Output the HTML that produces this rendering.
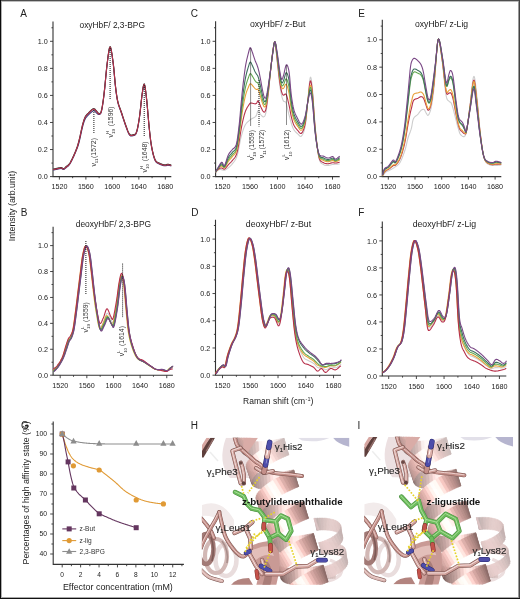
<!DOCTYPE html>
<html><head><meta charset="utf-8"><style>
html,body{margin:0;padding:0;background:#fff;}
#root{position:relative;width:520px;height:599px;overflow:hidden;background:#fff;}
svg{position:absolute;left:0;top:0;will-change:transform;}
text{font-family:"Liberation Sans", sans-serif;}
</style></head><body><div id="root">
<svg width="520" height="599" viewBox="0 0 520 599">
<path d="M53.0,21.5 V176.6 H171.3" fill="none" stroke="#333" stroke-width="1.1"/>
<path d="M50.0,176.60 h3.0" stroke="#333" stroke-width="0.9"/>
<text x="47.8" y="179.20" text-anchor="end" font-size="7.2" fill="#222">0.0</text>
<path d="M51.4,163.07 h1.6" stroke="#333" stroke-width="0.9"/>
<path d="M50.0,149.54 h3.0" stroke="#333" stroke-width="0.9"/>
<text x="47.8" y="152.14" text-anchor="end" font-size="7.2" fill="#222">0.2</text>
<path d="M51.4,136.01 h1.6" stroke="#333" stroke-width="0.9"/>
<path d="M50.0,122.48 h3.0" stroke="#333" stroke-width="0.9"/>
<text x="47.8" y="125.08" text-anchor="end" font-size="7.2" fill="#222">0.4</text>
<path d="M51.4,108.95 h1.6" stroke="#333" stroke-width="0.9"/>
<path d="M50.0,95.42 h3.0" stroke="#333" stroke-width="0.9"/>
<text x="47.8" y="98.02" text-anchor="end" font-size="7.2" fill="#222">0.6</text>
<path d="M51.4,81.89 h1.6" stroke="#333" stroke-width="0.9"/>
<path d="M50.0,68.36 h3.0" stroke="#333" stroke-width="0.9"/>
<text x="47.8" y="70.96" text-anchor="end" font-size="7.2" fill="#222">0.8</text>
<path d="M51.4,54.83 h1.6" stroke="#333" stroke-width="0.9"/>
<path d="M50.0,41.30 h3.0" stroke="#333" stroke-width="0.9"/>
<text x="47.8" y="43.90" text-anchor="end" font-size="7.2" fill="#222">1.0</text>
<path d="M51.4,27.77 h1.6" stroke="#333" stroke-width="0.9"/>
<path d="M59.40,176.6 v3.0" stroke="#333" stroke-width="0.9"/>
<text x="59.40" y="189.3" text-anchor="middle" font-size="7.2" fill="#222">1520</text>
<path d="M72.64,176.6 v1.6" stroke="#333" stroke-width="0.9"/>
<path d="M85.88,176.6 v3.0" stroke="#333" stroke-width="0.9"/>
<text x="85.88" y="189.3" text-anchor="middle" font-size="7.2" fill="#222">1560</text>
<path d="M99.12,176.6 v1.6" stroke="#333" stroke-width="0.9"/>
<path d="M112.36,176.6 v3.0" stroke="#333" stroke-width="0.9"/>
<text x="112.36" y="189.3" text-anchor="middle" font-size="7.2" fill="#222">1600</text>
<path d="M125.60,176.6 v1.6" stroke="#333" stroke-width="0.9"/>
<path d="M138.84,176.6 v3.0" stroke="#333" stroke-width="0.9"/>
<text x="138.84" y="189.3" text-anchor="middle" font-size="7.2" fill="#222">1640</text>
<path d="M152.08,176.6 v1.6" stroke="#333" stroke-width="0.9"/>
<path d="M165.32,176.6 v3.0" stroke="#333" stroke-width="0.9"/>
<text x="165.32" y="189.3" text-anchor="middle" font-size="7.2" fill="#222">1680</text>
<path d="M215.6,21.3 V176.6 H339.7" fill="none" stroke="#333" stroke-width="1.1"/>
<path d="M212.6,176.60 h3.0" stroke="#333" stroke-width="0.9"/>
<text x="210.4" y="179.20" text-anchor="end" font-size="7.2" fill="#222">0.0</text>
<path d="M214.0,163.07 h1.6" stroke="#333" stroke-width="0.9"/>
<path d="M212.6,149.54 h3.0" stroke="#333" stroke-width="0.9"/>
<text x="210.4" y="152.14" text-anchor="end" font-size="7.2" fill="#222">0.2</text>
<path d="M214.0,136.01 h1.6" stroke="#333" stroke-width="0.9"/>
<path d="M212.6,122.48 h3.0" stroke="#333" stroke-width="0.9"/>
<text x="210.4" y="125.08" text-anchor="end" font-size="7.2" fill="#222">0.4</text>
<path d="M214.0,108.95 h1.6" stroke="#333" stroke-width="0.9"/>
<path d="M212.6,95.42 h3.0" stroke="#333" stroke-width="0.9"/>
<text x="210.4" y="98.02" text-anchor="end" font-size="7.2" fill="#222">0.6</text>
<path d="M214.0,81.89 h1.6" stroke="#333" stroke-width="0.9"/>
<path d="M212.6,68.36 h3.0" stroke="#333" stroke-width="0.9"/>
<text x="210.4" y="70.96" text-anchor="end" font-size="7.2" fill="#222">0.8</text>
<path d="M214.0,54.83 h1.6" stroke="#333" stroke-width="0.9"/>
<path d="M212.6,41.30 h3.0" stroke="#333" stroke-width="0.9"/>
<text x="210.4" y="43.90" text-anchor="end" font-size="7.2" fill="#222">1.0</text>
<path d="M214.0,27.77 h1.6" stroke="#333" stroke-width="0.9"/>
<path d="M222.50,176.6 v3.0" stroke="#333" stroke-width="0.9"/>
<text x="222.50" y="189.3" text-anchor="middle" font-size="7.2" fill="#222">1520</text>
<path d="M236.25,176.6 v1.6" stroke="#333" stroke-width="0.9"/>
<path d="M250.00,176.6 v3.0" stroke="#333" stroke-width="0.9"/>
<text x="250.00" y="189.3" text-anchor="middle" font-size="7.2" fill="#222">1560</text>
<path d="M263.75,176.6 v1.6" stroke="#333" stroke-width="0.9"/>
<path d="M277.50,176.6 v3.0" stroke="#333" stroke-width="0.9"/>
<text x="277.50" y="189.3" text-anchor="middle" font-size="7.2" fill="#222">1600</text>
<path d="M291.25,176.6 v1.6" stroke="#333" stroke-width="0.9"/>
<path d="M305.00,176.6 v3.0" stroke="#333" stroke-width="0.9"/>
<text x="305.00" y="189.3" text-anchor="middle" font-size="7.2" fill="#222">1640</text>
<path d="M318.75,176.6 v1.6" stroke="#333" stroke-width="0.9"/>
<path d="M332.50,176.6 v3.0" stroke="#333" stroke-width="0.9"/>
<text x="332.50" y="189.3" text-anchor="middle" font-size="7.2" fill="#222">1680</text>
<path d="M382.3,19.8 V176.6 H501.3" fill="none" stroke="#333" stroke-width="1.1"/>
<path d="M379.3,176.60 h3.0" stroke="#333" stroke-width="0.9"/>
<text x="377.1" y="179.20" text-anchor="end" font-size="7.2" fill="#222">0.0</text>
<path d="M380.7,162.92 h1.6" stroke="#333" stroke-width="0.9"/>
<path d="M379.3,149.24 h3.0" stroke="#333" stroke-width="0.9"/>
<text x="377.1" y="151.84" text-anchor="end" font-size="7.2" fill="#222">0.2</text>
<path d="M380.7,135.56 h1.6" stroke="#333" stroke-width="0.9"/>
<path d="M379.3,121.88 h3.0" stroke="#333" stroke-width="0.9"/>
<text x="377.1" y="124.48" text-anchor="end" font-size="7.2" fill="#222">0.4</text>
<path d="M380.7,108.20 h1.6" stroke="#333" stroke-width="0.9"/>
<path d="M379.3,94.52 h3.0" stroke="#333" stroke-width="0.9"/>
<text x="377.1" y="97.12" text-anchor="end" font-size="7.2" fill="#222">0.6</text>
<path d="M380.7,80.84 h1.6" stroke="#333" stroke-width="0.9"/>
<path d="M379.3,67.16 h3.0" stroke="#333" stroke-width="0.9"/>
<text x="377.1" y="69.76" text-anchor="end" font-size="7.2" fill="#222">0.8</text>
<path d="M380.7,53.48 h1.6" stroke="#333" stroke-width="0.9"/>
<path d="M379.3,39.80 h3.0" stroke="#333" stroke-width="0.9"/>
<text x="377.1" y="42.40" text-anchor="end" font-size="7.2" fill="#222">1.0</text>
<path d="M380.7,26.12 h1.6" stroke="#333" stroke-width="0.9"/>
<path d="M388.30,176.6 v3.0" stroke="#333" stroke-width="0.9"/>
<text x="388.30" y="189.3" text-anchor="middle" font-size="7.2" fill="#222">1520</text>
<path d="M401.65,176.6 v1.6" stroke="#333" stroke-width="0.9"/>
<path d="M415.00,176.6 v3.0" stroke="#333" stroke-width="0.9"/>
<text x="415.00" y="189.3" text-anchor="middle" font-size="7.2" fill="#222">1560</text>
<path d="M428.35,176.6 v1.6" stroke="#333" stroke-width="0.9"/>
<path d="M441.70,176.6 v3.0" stroke="#333" stroke-width="0.9"/>
<text x="441.70" y="189.3" text-anchor="middle" font-size="7.2" fill="#222">1600</text>
<path d="M455.05,176.6 v1.6" stroke="#333" stroke-width="0.9"/>
<path d="M468.40,176.6 v3.0" stroke="#333" stroke-width="0.9"/>
<text x="468.40" y="189.3" text-anchor="middle" font-size="7.2" fill="#222">1640</text>
<path d="M481.75,176.6 v1.6" stroke="#333" stroke-width="0.9"/>
<path d="M495.10,176.6 v3.0" stroke="#333" stroke-width="0.9"/>
<text x="495.10" y="189.3" text-anchor="middle" font-size="7.2" fill="#222">1680</text>
<path d="M53.1,226.8 V375.2 H172.9" fill="none" stroke="#333" stroke-width="1.1"/>
<path d="M50.1,375.20 h3.0" stroke="#333" stroke-width="0.9"/>
<text x="47.9" y="377.80" text-anchor="end" font-size="7.2" fill="#222">0.0</text>
<path d="M51.5,362.24 h1.6" stroke="#333" stroke-width="0.9"/>
<path d="M50.1,349.28 h3.0" stroke="#333" stroke-width="0.9"/>
<text x="47.9" y="351.88" text-anchor="end" font-size="7.2" fill="#222">0.2</text>
<path d="M51.5,336.32 h1.6" stroke="#333" stroke-width="0.9"/>
<path d="M50.1,323.36 h3.0" stroke="#333" stroke-width="0.9"/>
<text x="47.9" y="325.96" text-anchor="end" font-size="7.2" fill="#222">0.4</text>
<path d="M51.5,310.40 h1.6" stroke="#333" stroke-width="0.9"/>
<path d="M50.1,297.44 h3.0" stroke="#333" stroke-width="0.9"/>
<text x="47.9" y="300.04" text-anchor="end" font-size="7.2" fill="#222">0.6</text>
<path d="M51.5,284.48 h1.6" stroke="#333" stroke-width="0.9"/>
<path d="M50.1,271.52 h3.0" stroke="#333" stroke-width="0.9"/>
<text x="47.9" y="274.12" text-anchor="end" font-size="7.2" fill="#222">0.8</text>
<path d="M51.5,258.56 h1.6" stroke="#333" stroke-width="0.9"/>
<path d="M50.1,245.60 h3.0" stroke="#333" stroke-width="0.9"/>
<text x="47.9" y="248.20" text-anchor="end" font-size="7.2" fill="#222">1.0</text>
<path d="M51.5,232.64 h1.6" stroke="#333" stroke-width="0.9"/>
<path d="M60.20,375.2 v3.0" stroke="#333" stroke-width="0.9"/>
<text x="60.20" y="387.9" text-anchor="middle" font-size="7.2" fill="#222">1520</text>
<path d="M73.52,375.2 v1.6" stroke="#333" stroke-width="0.9"/>
<path d="M86.84,375.2 v3.0" stroke="#333" stroke-width="0.9"/>
<text x="86.84" y="387.9" text-anchor="middle" font-size="7.2" fill="#222">1560</text>
<path d="M100.16,375.2 v1.6" stroke="#333" stroke-width="0.9"/>
<path d="M113.48,375.2 v3.0" stroke="#333" stroke-width="0.9"/>
<text x="113.48" y="387.9" text-anchor="middle" font-size="7.2" fill="#222">1600</text>
<path d="M126.80,375.2 v1.6" stroke="#333" stroke-width="0.9"/>
<path d="M140.12,375.2 v3.0" stroke="#333" stroke-width="0.9"/>
<text x="140.12" y="387.9" text-anchor="middle" font-size="7.2" fill="#222">1640</text>
<path d="M153.44,375.2 v1.6" stroke="#333" stroke-width="0.9"/>
<path d="M166.76,375.2 v3.0" stroke="#333" stroke-width="0.9"/>
<text x="166.76" y="387.9" text-anchor="middle" font-size="7.2" fill="#222">1680</text>
<path d="M215.5,219.8 V375.2 H341.0" fill="none" stroke="#333" stroke-width="1.1"/>
<path d="M212.5,375.20 h3.0" stroke="#333" stroke-width="0.9"/>
<text x="210.3" y="377.80" text-anchor="end" font-size="7.2" fill="#222">0.0</text>
<path d="M213.9,361.59 h1.6" stroke="#333" stroke-width="0.9"/>
<path d="M212.5,347.98 h3.0" stroke="#333" stroke-width="0.9"/>
<text x="210.3" y="350.58" text-anchor="end" font-size="7.2" fill="#222">0.2</text>
<path d="M213.9,334.37 h1.6" stroke="#333" stroke-width="0.9"/>
<path d="M212.5,320.76 h3.0" stroke="#333" stroke-width="0.9"/>
<text x="210.3" y="323.36" text-anchor="end" font-size="7.2" fill="#222">0.4</text>
<path d="M213.9,307.15 h1.6" stroke="#333" stroke-width="0.9"/>
<path d="M212.5,293.54 h3.0" stroke="#333" stroke-width="0.9"/>
<text x="210.3" y="296.14" text-anchor="end" font-size="7.2" fill="#222">0.6</text>
<path d="M213.9,279.93 h1.6" stroke="#333" stroke-width="0.9"/>
<path d="M212.5,266.32 h3.0" stroke="#333" stroke-width="0.9"/>
<text x="210.3" y="268.92" text-anchor="end" font-size="7.2" fill="#222">0.8</text>
<path d="M213.9,252.71 h1.6" stroke="#333" stroke-width="0.9"/>
<path d="M212.5,239.10 h3.0" stroke="#333" stroke-width="0.9"/>
<text x="210.3" y="241.70" text-anchor="end" font-size="7.2" fill="#222">1.0</text>
<path d="M213.9,225.49 h1.6" stroke="#333" stroke-width="0.9"/>
<path d="M222.50,375.2 v3.0" stroke="#333" stroke-width="0.9"/>
<text x="222.50" y="387.9" text-anchor="middle" font-size="7.2" fill="#222">1520</text>
<path d="M236.38,375.2 v1.6" stroke="#333" stroke-width="0.9"/>
<path d="M250.26,375.2 v3.0" stroke="#333" stroke-width="0.9"/>
<text x="250.26" y="387.9" text-anchor="middle" font-size="7.2" fill="#222">1560</text>
<path d="M264.14,375.2 v1.6" stroke="#333" stroke-width="0.9"/>
<path d="M278.02,375.2 v3.0" stroke="#333" stroke-width="0.9"/>
<text x="278.02" y="387.9" text-anchor="middle" font-size="7.2" fill="#222">1600</text>
<path d="M291.90,375.2 v1.6" stroke="#333" stroke-width="0.9"/>
<path d="M305.78,375.2 v3.0" stroke="#333" stroke-width="0.9"/>
<text x="305.78" y="387.9" text-anchor="middle" font-size="7.2" fill="#222">1640</text>
<path d="M319.66,375.2 v1.6" stroke="#333" stroke-width="0.9"/>
<path d="M333.54,375.2 v3.0" stroke="#333" stroke-width="0.9"/>
<text x="333.54" y="387.9" text-anchor="middle" font-size="7.2" fill="#222">1680</text>
<path d="M382.3,221.6 V376.0 H506.3" fill="none" stroke="#333" stroke-width="1.1"/>
<path d="M379.3,376.00 h3.0" stroke="#333" stroke-width="0.9"/>
<text x="377.1" y="378.60" text-anchor="end" font-size="7.2" fill="#222">0.0</text>
<path d="M380.7,362.49 h1.6" stroke="#333" stroke-width="0.9"/>
<path d="M379.3,348.98 h3.0" stroke="#333" stroke-width="0.9"/>
<text x="377.1" y="351.58" text-anchor="end" font-size="7.2" fill="#222">0.2</text>
<path d="M380.7,335.47 h1.6" stroke="#333" stroke-width="0.9"/>
<path d="M379.3,321.96 h3.0" stroke="#333" stroke-width="0.9"/>
<text x="377.1" y="324.56" text-anchor="end" font-size="7.2" fill="#222">0.4</text>
<path d="M380.7,308.45 h1.6" stroke="#333" stroke-width="0.9"/>
<path d="M379.3,294.94 h3.0" stroke="#333" stroke-width="0.9"/>
<text x="377.1" y="297.54" text-anchor="end" font-size="7.2" fill="#222">0.6</text>
<path d="M380.7,281.43 h1.6" stroke="#333" stroke-width="0.9"/>
<path d="M379.3,267.92 h3.0" stroke="#333" stroke-width="0.9"/>
<text x="377.1" y="270.52" text-anchor="end" font-size="7.2" fill="#222">0.8</text>
<path d="M380.7,254.41 h1.6" stroke="#333" stroke-width="0.9"/>
<path d="M379.3,240.90 h3.0" stroke="#333" stroke-width="0.9"/>
<text x="377.1" y="243.50" text-anchor="end" font-size="7.2" fill="#222">1.0</text>
<path d="M380.7,227.39 h1.6" stroke="#333" stroke-width="0.9"/>
<path d="M388.70,376.0 v3.0" stroke="#333" stroke-width="0.9"/>
<text x="388.70" y="388.7" text-anchor="middle" font-size="7.2" fill="#222">1520</text>
<path d="M402.54,376.0 v1.6" stroke="#333" stroke-width="0.9"/>
<path d="M416.38,376.0 v3.0" stroke="#333" stroke-width="0.9"/>
<text x="416.38" y="388.7" text-anchor="middle" font-size="7.2" fill="#222">1560</text>
<path d="M430.22,376.0 v1.6" stroke="#333" stroke-width="0.9"/>
<path d="M444.06,376.0 v3.0" stroke="#333" stroke-width="0.9"/>
<text x="444.06" y="388.7" text-anchor="middle" font-size="7.2" fill="#222">1600</text>
<path d="M457.90,376.0 v1.6" stroke="#333" stroke-width="0.9"/>
<path d="M471.74,376.0 v3.0" stroke="#333" stroke-width="0.9"/>
<text x="471.74" y="388.7" text-anchor="middle" font-size="7.2" fill="#222">1640</text>
<path d="M485.58,376.0 v1.6" stroke="#333" stroke-width="0.9"/>
<path d="M499.42,376.0 v3.0" stroke="#333" stroke-width="0.9"/>
<text x="499.42" y="388.7" text-anchor="middle" font-size="7.2" fill="#222">1680</text>
<path d="M53.2,170.10 L53.7,169.99 L54.2,169.89 L54.7,169.78 L55.2,169.67 L55.7,169.57 L56.2,169.46 L56.7,169.36 L57.2,169.26 L57.7,169.15 L58.2,169.03 L58.7,168.90 L59.2,168.79 L59.7,168.68 L60.2,168.59 L60.7,168.52 L61.2,168.50 L61.7,168.60 L62.2,168.88 L62.7,169.24 L63.2,169.48 L63.7,169.44 L64.2,169.21 L64.7,168.83 L65.2,168.40 L65.7,167.95 L66.2,167.54 L66.7,167.17 L67.2,166.81 L67.7,166.42 L68.2,166.00 L68.7,165.51 L69.2,164.92 L69.7,164.23 L70.2,163.44 L70.7,162.57 L71.2,161.63 L71.7,160.64 L72.2,159.62 L72.7,158.58 L73.2,157.51 L73.7,156.42 L74.2,155.29 L74.7,154.15 L75.2,152.98 L75.7,151.78 L76.2,150.55 L76.7,149.31 L77.2,148.07 L77.7,146.78 L78.2,145.35 L78.7,143.68 L79.2,141.81 L79.7,139.71 L80.2,137.46 L80.7,135.13 L81.2,132.79 L81.7,130.50 L82.2,128.32 L82.7,126.34 L83.2,124.48 L83.7,122.77 L84.2,121.27 L84.7,119.98 L85.2,118.91 L85.7,118.04 L86.2,117.34 L86.7,116.75 L87.2,116.22 L87.7,115.72 L88.2,115.21 L88.7,114.67 L89.2,114.16 L89.7,113.67 L90.2,113.19 L90.7,112.74 L91.2,112.31 L91.7,111.90 L92.2,111.50 L92.7,111.12 L93.2,110.82 L93.7,110.69 L94.2,110.79 L94.7,111.13 L95.2,111.65 L95.7,112.22 L96.2,112.71 L96.7,113.13 L97.2,113.55 L97.7,113.95 L98.2,114.28 L98.7,114.46 L99.2,114.49 L99.7,114.40 L100.2,114.09 L100.7,113.45 L101.2,112.19 L101.7,110.33 L102.2,107.73 L102.7,104.70 L103.2,101.28 L103.7,97.45 L104.2,93.17 L104.7,88.58 L105.2,83.51 L105.7,78.21 L106.2,73.02 L106.7,68.18 L107.2,63.90 L107.7,59.96 L108.2,56.06 L108.7,52.56 L109.2,49.80 L109.7,48.00 L110.2,47.61 L110.7,48.57 L111.2,50.54 L111.7,53.24 L112.2,56.52 L112.7,60.10 L113.2,63.80 L113.7,68.09 L114.2,73.33 L114.7,79.03 L115.2,84.39 L115.7,88.85 L116.2,92.84 L116.7,96.35 L117.2,99.33 L117.7,101.82 L118.2,103.90 L118.7,105.59 L119.2,107.07 L119.7,108.42 L120.2,109.74 L120.7,111.09 L121.2,112.51 L121.7,114.00 L122.2,115.52 L122.7,117.05 L123.2,118.58 L123.7,120.09 L124.2,121.60 L124.7,123.09 L125.2,124.55 L125.7,125.97 L126.2,127.35 L126.7,128.72 L127.2,130.09 L127.7,131.41 L128.2,132.63 L128.7,133.70 L129.2,134.57 L129.7,135.22 L130.2,135.67 L130.7,135.93 L131.2,136.04 L131.7,136.03 L132.2,135.94 L132.7,135.80 L133.2,135.65 L133.7,135.53 L134.2,135.42 L134.7,135.23 L135.2,134.89 L135.7,134.33 L136.2,133.43 L136.7,132.07 L137.2,130.28 L137.7,128.09 L138.2,125.50 L138.7,122.61 L139.2,119.48 L139.7,116.02 L140.2,111.93 L140.7,107.20 L141.2,102.37 L141.7,98.04 L142.2,94.35 L142.7,90.79 L143.2,87.70 L143.7,85.56 L144.2,84.80 L144.7,85.95 L145.2,88.46 L145.7,92.00 L146.2,96.20 L146.7,100.68 L147.2,105.81 L147.7,111.47 L148.2,117.28 L148.7,122.96 L149.2,128.20 L149.7,132.95 L150.2,137.43 L150.7,141.45 L151.2,144.89 L151.7,147.80 L152.2,150.34 L152.7,152.67 L153.2,154.75 L153.7,156.58 L154.2,158.19 L154.7,159.56 L155.2,160.70 L155.7,161.55 L156.2,162.20 L156.7,162.67 L157.2,163.02 L157.7,163.29 L158.2,163.51 L158.7,163.71 L159.2,163.91 L159.7,164.15 L160.2,164.41 L160.7,164.65 L161.2,164.87 L161.7,165.06 L162.2,165.24 L162.7,165.40 L163.2,165.54 L163.7,165.66 L164.2,165.75 L164.7,165.81 L165.2,165.82 L165.7,165.75 L166.2,165.64 L166.7,165.51 L167.2,165.38 L167.7,165.31 L168.2,165.31 L168.7,165.37 L169.2,165.46 L169.7,165.58 L170.2,165.71 L170.7,165.84 L171.2,165.98 L171.3,166.00" fill="none" stroke="#3b3a78" stroke-width="1.10" stroke-linejoin="round"/>
<path d="M53.2,169.10 L53.7,168.99 L54.2,168.89 L54.7,168.78 L55.2,168.67 L55.7,168.57 L56.2,168.46 L56.7,168.36 L57.2,168.26 L57.7,168.15 L58.2,168.03 L58.7,167.90 L59.2,167.79 L59.7,167.68 L60.2,167.59 L60.7,167.52 L61.2,167.50 L61.7,167.60 L62.2,167.88 L62.7,168.24 L63.2,168.48 L63.7,168.44 L64.2,168.21 L64.7,167.83 L65.2,167.40 L65.7,166.95 L66.2,166.54 L66.7,166.17 L67.2,165.81 L67.7,165.42 L68.2,165.00 L68.7,164.51 L69.2,163.92 L69.7,163.23 L70.2,162.44 L70.7,161.57 L71.2,160.63 L71.7,159.64 L72.2,158.62 L72.7,157.58 L73.2,156.53 L73.7,155.45 L74.2,154.35 L74.7,153.22 L75.2,152.06 L75.7,150.84 L76.2,149.56 L76.7,148.21 L77.2,146.77 L77.7,145.21 L78.2,143.51 L78.7,141.66 L79.2,139.68 L79.7,137.54 L80.2,135.28 L80.7,132.96 L81.2,130.65 L81.7,128.37 L82.2,126.21 L82.7,124.24 L83.2,122.38 L83.7,120.67 L84.2,119.17 L84.7,117.88 L85.2,116.81 L85.7,115.94 L86.2,115.24 L86.7,114.65 L87.2,114.12 L87.7,113.62 L88.2,113.11 L88.7,112.57 L89.2,112.06 L89.7,111.57 L90.2,111.09 L90.7,110.64 L91.2,110.21 L91.7,109.80 L92.2,109.40 L92.7,109.02 L93.2,108.72 L93.7,108.59 L94.2,108.68 L94.7,108.99 L95.2,109.48 L95.7,110.04 L96.2,110.59 L96.7,111.15 L97.2,111.80 L97.7,112.44 L98.2,113.02 L98.7,113.40 L99.2,113.54 L99.7,113.48 L100.2,113.15 L100.7,112.46 L101.2,111.19 L101.7,109.33 L102.2,106.73 L102.7,103.70 L103.2,100.28 L103.7,96.45 L104.2,92.17 L104.7,87.58 L105.2,82.51 L105.7,77.21 L106.2,72.02 L106.7,67.18 L107.2,62.90 L107.7,58.96 L108.2,55.06 L108.7,51.56 L109.2,48.80 L109.7,47.00 L110.2,46.61 L110.7,47.57 L111.2,49.54 L111.7,52.24 L112.2,55.52 L112.7,59.10 L113.2,62.80 L113.7,67.09 L114.2,72.33 L114.7,78.03 L115.2,83.39 L115.7,87.85 L116.2,91.84 L116.7,95.35 L117.2,98.33 L117.7,100.82 L118.2,102.90 L118.7,104.59 L119.2,106.07 L119.7,107.42 L120.2,108.74 L120.7,110.09 L121.2,111.51 L121.7,113.00 L122.2,114.52 L122.7,116.05 L123.2,117.58 L123.7,119.09 L124.2,120.60 L124.7,122.09 L125.2,123.55 L125.7,124.97 L126.2,126.35 L126.7,127.72 L127.2,129.09 L127.7,130.41 L128.2,131.63 L128.7,132.70 L129.2,133.57 L129.7,134.22 L130.2,134.67 L130.7,134.93 L131.2,135.04 L131.7,135.03 L132.2,134.94 L132.7,134.80 L133.2,134.65 L133.7,134.53 L134.2,134.42 L134.7,134.23 L135.2,133.89 L135.7,133.33 L136.2,132.43 L136.7,131.07 L137.2,129.28 L137.7,127.09 L138.2,124.50 L138.7,121.61 L139.2,118.48 L139.7,115.02 L140.2,110.93 L140.7,106.20 L141.2,101.37 L141.7,97.04 L142.2,93.35 L142.7,89.79 L143.2,86.70 L143.7,84.56 L144.2,83.80 L144.7,84.95 L145.2,87.46 L145.7,91.00 L146.2,95.20 L146.7,99.68 L147.2,104.81 L147.7,110.47 L148.2,116.28 L148.7,121.96 L149.2,127.20 L149.7,131.95 L150.2,136.43 L150.7,140.45 L151.2,143.89 L151.7,146.80 L152.2,149.34 L152.7,151.67 L153.2,153.75 L153.7,155.58 L154.2,157.19 L154.7,158.56 L155.2,159.70 L155.7,160.55 L156.2,161.20 L156.7,161.67 L157.2,162.02 L157.7,162.29 L158.2,162.51 L158.7,162.71 L159.2,162.91 L159.7,163.15 L160.2,163.41 L160.7,163.65 L161.2,163.87 L161.7,164.06 L162.2,164.24 L162.7,164.40 L163.2,164.54 L163.7,164.66 L164.2,164.75 L164.7,164.81 L165.2,164.82 L165.7,164.75 L166.2,164.64 L166.7,164.51 L167.2,164.38 L167.7,164.31 L168.2,164.31 L168.7,164.37 L169.2,164.46 L169.7,164.58 L170.2,164.71 L170.7,164.84 L171.2,164.98 L171.3,165.00" fill="none" stroke="#2c3b33" stroke-width="1.10" stroke-linejoin="round"/>
<path d="M53.2,169.60 L53.7,169.49 L54.2,169.39 L54.7,169.28 L55.2,169.17 L55.7,169.07 L56.2,168.96 L56.7,168.86 L57.2,168.76 L57.7,168.65 L58.2,168.53 L58.7,168.40 L59.2,168.29 L59.7,168.18 L60.2,168.09 L60.7,168.02 L61.2,168.00 L61.7,168.10 L62.2,168.38 L62.7,168.74 L63.2,168.98 L63.7,168.94 L64.2,168.71 L64.7,168.33 L65.2,167.90 L65.7,167.45 L66.2,167.04 L66.7,166.67 L67.2,166.31 L67.7,165.92 L68.2,165.50 L68.7,165.01 L69.2,164.42 L69.7,163.73 L70.2,162.94 L70.7,162.07 L71.2,161.13 L71.7,160.14 L72.2,159.12 L72.7,158.08 L73.2,157.03 L73.7,155.95 L74.2,154.85 L74.7,153.72 L75.2,152.56 L75.7,151.34 L76.2,150.06 L76.7,148.71 L77.2,147.27 L77.7,145.71 L78.2,144.01 L78.7,142.16 L79.2,140.18 L79.7,138.04 L80.2,135.78 L80.7,133.46 L81.2,131.15 L81.7,128.87 L82.2,126.71 L82.7,124.74 L83.2,122.88 L83.7,121.17 L84.2,119.67 L84.7,118.38 L85.2,117.31 L85.7,116.44 L86.2,115.74 L86.7,115.15 L87.2,114.62 L87.7,114.12 L88.2,113.61 L88.7,113.07 L89.2,112.56 L89.7,112.07 L90.2,111.59 L90.7,111.14 L91.2,110.71 L91.7,110.30 L92.2,109.90 L92.7,109.52 L93.2,109.22 L93.7,109.09 L94.2,109.18 L94.7,109.49 L95.2,109.98 L95.7,110.54 L96.2,111.09 L96.7,111.65 L97.2,112.30 L97.7,112.94 L98.2,113.52 L98.7,113.90 L99.2,114.04 L99.7,113.98 L100.2,113.65 L100.7,112.96 L101.2,111.69 L101.7,109.83 L102.2,107.23 L102.7,104.20 L103.2,100.78 L103.7,96.95 L104.2,92.67 L104.7,88.08 L105.2,83.01 L105.7,77.71 L106.2,72.52 L106.7,67.68 L107.2,63.40 L107.7,59.46 L108.2,55.56 L108.7,52.06 L109.2,49.30 L109.7,47.50 L110.2,47.11 L110.7,48.07 L111.2,50.04 L111.7,52.74 L112.2,56.02 L112.7,59.60 L113.2,63.30 L113.7,67.59 L114.2,72.83 L114.7,78.53 L115.2,83.89 L115.7,88.35 L116.2,92.34 L116.7,95.85 L117.2,98.83 L117.7,101.32 L118.2,103.40 L118.7,105.09 L119.2,106.57 L119.7,107.92 L120.2,109.24 L120.7,110.59 L121.2,112.01 L121.7,113.50 L122.2,115.02 L122.7,116.55 L123.2,118.08 L123.7,119.59 L124.2,121.10 L124.7,122.59 L125.2,124.05 L125.7,125.47 L126.2,126.85 L126.7,128.22 L127.2,129.59 L127.7,130.91 L128.2,132.13 L128.7,133.20 L129.2,134.07 L129.7,134.72 L130.2,135.17 L130.7,135.43 L131.2,135.54 L131.7,135.53 L132.2,135.44 L132.7,135.30 L133.2,135.15 L133.7,135.03 L134.2,134.92 L134.7,134.73 L135.2,134.39 L135.7,133.83 L136.2,132.93 L136.7,131.57 L137.2,129.78 L137.7,127.59 L138.2,125.00 L138.7,122.11 L139.2,118.98 L139.7,115.52 L140.2,111.43 L140.7,106.70 L141.2,101.87 L141.7,97.54 L142.2,93.85 L142.7,90.29 L143.2,87.20 L143.7,85.06 L144.2,84.30 L144.7,85.45 L145.2,87.96 L145.7,91.50 L146.2,95.70 L146.7,100.18 L147.2,105.31 L147.7,110.97 L148.2,116.78 L148.7,122.46 L149.2,127.70 L149.7,132.45 L150.2,136.93 L150.7,140.95 L151.2,144.39 L151.7,147.30 L152.2,149.84 L152.7,152.17 L153.2,154.25 L153.7,156.08 L154.2,157.69 L154.7,159.06 L155.2,160.20 L155.7,161.05 L156.2,161.70 L156.7,162.17 L157.2,162.52 L157.7,162.79 L158.2,163.01 L158.7,163.21 L159.2,163.41 L159.7,163.65 L160.2,163.91 L160.7,164.15 L161.2,164.37 L161.7,164.56 L162.2,164.74 L162.7,164.90 L163.2,165.04 L163.7,165.16 L164.2,165.25 L164.7,165.31 L165.2,165.32 L165.7,165.25 L166.2,165.14 L166.7,165.01 L167.2,164.88 L167.7,164.81 L168.2,164.81 L168.7,164.87 L169.2,164.96 L169.7,165.08 L170.2,165.21 L170.7,165.34 L171.2,165.48 L171.3,165.50" fill="none" stroke="#b6304a" stroke-width="1.10" stroke-linejoin="round"/>
<path d="M93.9,110.0 V133.4" stroke="#1a1a1a" stroke-width="1.0" stroke-dasharray="1,1"/>
<path d="M110.1,48.0 V99.5" stroke="#1a1a1a" stroke-width="1.0" stroke-dasharray="1,1"/>
<path d="M144.2,85.0 V136.0" stroke="#1a1a1a" stroke-width="1.0" stroke-dasharray="1,1"/>
<path d="M215.7,172.50 L216.2,171.74 L216.7,171.17 L217.2,170.76 L217.7,170.42 L218.2,170.12 L218.7,169.86 L219.2,169.67 L219.7,169.55 L220.2,169.50 L220.7,169.54 L221.2,169.64 L221.7,169.77 L222.2,169.91 L222.7,170.04 L223.2,170.16 L223.7,170.23 L224.2,170.22 L224.7,170.12 L225.2,169.95 L225.7,169.71 L226.2,169.39 L226.7,169.03 L227.2,168.64 L227.7,168.24 L228.2,167.84 L228.7,167.46 L229.2,167.06 L229.7,166.65 L230.2,166.21 L230.7,165.72 L231.2,165.18 L231.7,164.58 L232.2,163.94 L232.7,163.33 L233.2,162.73 L233.7,162.12 L234.2,161.48 L234.7,160.80 L235.2,160.02 L235.7,159.14 L236.2,158.13 L236.7,156.93 L237.2,155.44 L237.7,153.60 L238.2,151.40 L238.7,148.91 L239.2,146.25 L239.7,143.56 L240.2,140.97 L240.7,138.64 L241.2,136.64 L241.7,134.77 L242.2,133.00 L242.7,131.32 L243.2,129.78 L243.7,128.38 L244.2,127.12 L244.7,126.01 L245.2,125.04 L245.7,124.20 L246.2,123.50 L246.7,122.90 L247.2,122.37 L247.7,121.90 L248.2,121.47 L248.7,121.06 L249.2,120.66 L249.7,120.25 L250.2,119.84 L250.7,119.46 L251.2,119.13 L251.7,118.83 L252.2,118.54 L252.7,118.26 L253.2,117.99 L253.7,117.71 L254.2,117.41 L254.7,117.10 L255.2,116.74 L255.7,116.31 L256.2,115.67 L256.7,114.65 L257.2,112.78 L257.7,111.00 L258.2,110.75 L258.7,111.15 L259.2,111.91 L259.7,112.79 L260.2,113.70 L260.7,114.50 L261.2,115.13 L261.7,115.70 L262.2,116.26 L262.7,116.70 L263.2,116.95 L263.7,116.90 L264.2,116.59 L264.7,116.07 L265.2,115.14 L265.7,113.50 L266.2,111.09 L266.7,107.95 L267.2,104.12 L267.7,99.83 L268.2,95.32 L268.7,90.62 L269.2,85.44 L269.7,80.06 L270.2,74.64 L270.7,69.39 L271.2,64.45 L271.7,60.00 L272.2,55.95 L272.7,52.03 L273.2,48.39 L273.7,45.22 L274.2,42.90 L274.7,41.73 L275.2,42.42 L275.7,45.96 L276.2,51.41 L276.7,57.03 L277.2,61.81 L277.7,66.48 L278.2,71.31 L278.7,76.05 L279.2,80.57 L279.7,84.62 L280.2,88.07 L280.7,91.06 L281.2,93.63 L281.7,95.84 L282.2,97.74 L282.7,99.35 L283.2,100.61 L283.7,101.33 L284.2,101.56 L284.7,101.59 L285.2,101.72 L285.7,102.24 L286.2,103.37 L286.7,105.04 L287.2,107.13 L287.7,109.40 L288.2,111.67 L288.7,113.75 L289.2,115.63 L289.7,117.48 L290.2,119.34 L290.7,121.17 L291.2,122.90 L291.7,124.52 L292.2,126.01 L292.7,127.30 L293.2,128.41 L293.7,129.34 L294.2,130.13 L294.7,130.83 L295.2,131.44 L295.7,132.00 L296.2,132.51 L296.7,132.99 L297.2,133.45 L297.7,133.91 L298.2,134.40 L298.7,134.95 L299.2,135.49 L299.7,135.98 L300.2,136.31 L300.7,136.43 L301.2,136.25 L301.7,135.76 L302.2,135.10 L302.7,134.27 L303.2,133.24 L303.7,131.98 L304.2,130.42 L304.7,128.45 L305.2,126.00 L305.7,122.60 L306.2,118.19 L306.7,113.01 L307.2,107.43 L307.7,102.04 L308.2,96.90 L308.7,91.23 L309.2,85.51 L309.7,80.65 L310.2,77.71 L310.7,77.15 L311.2,78.91 L311.7,82.35 L312.2,87.00 L312.7,92.28 L313.2,98.80 L313.7,106.22 L314.2,113.73 L314.7,120.72 L315.2,126.84 L315.7,132.24 L316.2,137.40 L316.7,142.31 L317.2,146.82 L317.7,150.78 L318.2,154.19 L318.7,156.99 L319.2,159.19 L319.7,160.73 L320.2,161.82 L320.7,162.59 L321.2,163.12 L321.7,163.48 L322.2,163.76 L322.7,164.00 L323.2,164.29 L323.7,164.64 L324.2,164.96 L324.7,165.18 L325.2,165.32 L325.7,165.40 L326.2,165.44 L326.7,165.44 L327.2,165.42 L327.7,165.41 L328.2,165.40 L328.7,165.36 L329.2,165.29 L329.7,165.18 L330.2,165.05 L330.7,164.91 L331.2,164.78 L331.7,164.67 L332.2,164.57 L332.7,164.50 L333.2,164.45 L333.7,164.40 L334.2,164.35 L334.7,164.32 L335.2,164.28 L335.7,164.24 L336.2,164.21 L336.7,164.18 L337.2,164.15 L337.7,164.12 L338.2,164.09 L338.7,164.06 L339.2,164.03 L339.7,164.00" fill="none" stroke="#cdcdcd" stroke-width="1.10" stroke-linejoin="round"/>
<path d="M215.7,172.27 L216.2,171.49 L216.7,170.85 L217.2,170.35 L217.7,169.91 L218.2,169.48 L218.7,169.08 L219.2,168.73 L219.7,168.44 L220.2,168.21 L220.7,168.07 L221.2,168.02 L221.7,168.03 L222.2,168.18 L222.7,168.49 L223.2,168.86 L223.7,169.12 L224.2,169.15 L224.7,168.96 L225.2,168.57 L225.7,168.07 L226.2,167.48 L226.7,166.84 L227.2,166.18 L227.7,165.54 L228.2,164.95 L228.7,164.42 L229.2,163.92 L229.7,163.44 L230.2,162.95 L230.7,162.44 L231.2,161.90 L231.7,161.31 L232.2,160.68 L232.7,160.07 L233.2,159.50 L233.7,158.95 L234.2,158.37 L234.7,157.74 L235.2,157.01 L235.7,156.14 L236.2,155.06 L236.7,153.68 L237.2,151.93 L237.7,149.76 L238.2,147.19 L238.7,144.30 L239.2,141.26 L239.7,138.13 L240.2,134.86 L240.7,131.68 L241.2,128.87 L241.7,126.19 L242.2,123.65 L242.7,121.29 L243.2,119.11 L243.7,117.09 L244.2,115.20 L244.7,113.48 L245.2,111.92 L245.7,110.57 L246.2,109.42 L246.7,108.42 L247.2,107.52 L247.7,106.71 L248.2,105.94 L248.7,105.18 L249.2,104.41 L249.7,103.72 L250.2,103.22 L250.7,103.02 L251.2,103.01 L251.7,103.11 L252.2,103.20 L252.7,103.32 L253.2,103.46 L253.7,103.59 L254.2,103.72 L254.7,103.81 L255.2,103.85 L255.7,103.80 L256.2,103.58 L256.7,103.07 L257.2,101.92 L257.7,100.88 L258.2,101.07 L258.7,101.82 L259.2,102.89 L259.7,104.10 L260.2,105.38 L260.7,106.63 L261.2,107.75 L261.7,108.84 L262.2,109.88 L262.7,110.79 L263.2,111.50 L263.7,111.96 L264.2,112.11 L264.7,111.93 L265.2,111.26 L265.7,109.89 L266.2,107.76 L266.7,104.91 L267.2,101.43 L267.7,97.47 L268.2,93.28 L268.7,88.89 L269.2,84.12 L269.7,79.17 L270.2,74.17 L270.7,69.25 L271.2,64.54 L271.7,60.20 L272.2,56.21 L272.7,52.36 L273.2,48.72 L273.7,45.43 L274.2,42.98 L274.7,41.74 L275.2,42.32 L275.7,45.46 L276.2,50.26 L276.7,55.31 L277.2,59.70 L277.7,64.08 L278.2,68.65 L278.7,73.19 L279.2,77.53 L279.7,81.42 L280.2,84.75 L280.7,87.67 L281.2,90.10 L281.7,92.06 L282.2,93.49 L282.7,94.47 L283.2,95.06 L283.7,95.23 L284.2,94.94 L284.7,94.43 L285.2,93.99 L285.7,93.95 L286.2,94.54 L286.7,95.76 L287.2,97.47 L287.7,99.47 L288.2,101.58 L288.7,103.67 L289.2,105.80 L289.7,108.27 L290.2,111.11 L290.7,113.93 L291.2,116.32 L291.7,118.43 L292.2,120.36 L292.7,122.03 L293.2,123.47 L293.7,124.69 L294.2,125.70 L294.7,126.58 L295.2,127.35 L295.7,128.04 L296.2,128.67 L296.7,129.27 L297.2,129.84 L297.7,130.41 L298.2,131.02 L298.7,131.67 L299.2,132.33 L299.7,132.92 L300.2,133.34 L300.7,133.55 L301.2,133.46 L301.7,133.05 L302.2,132.43 L302.7,131.61 L303.2,130.59 L303.7,129.34 L304.2,127.83 L304.7,125.95 L305.2,123.68 L305.7,120.57 L306.2,116.57 L306.7,111.89 L307.2,106.87 L307.7,102.08 L308.2,97.57 L308.7,92.65 L309.2,87.75 L309.7,83.63 L310.2,81.22 L310.7,80.87 L311.2,82.57 L311.7,85.78 L312.2,90.14 L312.7,95.18 L313.2,101.45 L313.7,108.60 L314.2,115.83 L314.7,122.52 L315.2,128.33 L315.7,133.39 L316.2,138.18 L316.7,142.68 L317.2,146.81 L317.7,150.42 L318.2,153.51 L318.7,156.05 L319.2,158.04 L319.7,159.42 L320.2,160.37 L320.7,161.04 L321.2,161.47 L321.7,161.75 L322.2,161.97 L322.7,162.16 L323.2,162.40 L323.7,162.73 L324.2,163.02 L324.7,163.25 L325.2,163.42 L325.7,163.54 L326.2,163.62 L326.7,163.66 L327.2,163.68 L327.7,163.69 L328.2,163.69 L328.7,163.66 L329.2,163.57 L329.7,163.44 L330.2,163.29 L330.7,163.13 L331.2,162.98 L331.7,162.85 L332.2,162.74 L332.7,162.68 L333.2,162.69 L333.7,162.77 L334.2,162.89 L334.7,163.01 L335.2,163.05 L335.7,163.03 L336.2,162.96 L336.7,162.88 L337.2,162.78 L337.7,162.67 L338.2,162.55 L338.7,162.44 L339.2,162.32 L339.7,162.21" fill="none" stroke="#b6304a" stroke-width="1.10" stroke-linejoin="round"/>
<path d="M215.7,172.00 L216.2,171.19 L216.7,170.49 L217.2,169.87 L217.7,169.31 L218.2,168.74 L218.7,168.17 L219.2,167.63 L219.7,167.13 L220.2,166.70 L220.7,166.35 L221.2,166.11 L221.7,165.98 L222.2,166.15 L222.7,166.66 L223.2,167.34 L223.7,167.83 L224.2,167.90 L224.7,167.59 L225.2,166.95 L225.7,166.14 L226.2,165.23 L226.7,164.26 L227.2,163.29 L227.7,162.36 L228.2,161.55 L228.7,160.85 L229.2,160.23 L229.7,159.67 L230.2,159.13 L230.7,158.60 L231.2,158.05 L231.7,157.47 L232.2,156.85 L232.7,156.24 L233.2,155.71 L233.7,155.22 L234.2,154.72 L234.7,154.16 L235.2,153.47 L235.7,152.61 L236.2,151.44 L236.7,149.86 L237.2,147.81 L237.7,145.25 L238.2,142.24 L238.7,138.90 L239.2,135.41 L239.7,131.77 L240.2,127.69 L240.7,123.51 L241.2,119.75 L241.7,116.12 L242.2,112.67 L242.7,109.51 L243.2,106.59 L243.7,103.82 L244.2,101.20 L244.7,98.77 L245.2,96.53 L245.7,94.57 L246.2,92.89 L246.7,91.41 L247.2,90.09 L247.7,88.88 L248.2,87.71 L248.7,86.53 L249.2,85.33 L249.7,84.31 L250.2,83.72 L250.7,83.71 L251.2,84.09 L251.7,84.65 L252.2,85.19 L252.7,85.78 L253.2,86.40 L253.7,87.03 L254.2,87.64 L254.7,88.21 L255.2,88.71 L255.7,89.12 L256.2,89.39 L256.7,89.47 L257.2,89.17 L257.7,89.00 L258.2,89.71 L258.7,90.85 L259.2,92.30 L259.7,93.91 L260.2,95.62 L260.7,97.38 L261.2,99.09 L261.7,100.77 L262.2,102.39 L262.7,103.85 L263.2,105.11 L263.7,106.16 L264.2,106.86 L264.7,107.07 L265.2,106.71 L265.7,105.65 L266.2,103.84 L266.7,101.34 L267.2,98.27 L267.7,94.70 L268.2,90.89 L268.7,86.87 L269.2,82.56 L269.7,78.13 L270.2,73.62 L270.7,69.08 L271.2,64.64 L271.7,60.44 L272.2,56.51 L272.7,52.76 L273.2,49.10 L273.7,45.68 L274.2,43.08 L274.7,41.75 L275.2,42.20 L275.7,44.87 L276.2,48.92 L276.7,53.28 L277.2,57.22 L277.7,61.26 L278.2,65.54 L278.7,69.84 L279.2,73.96 L279.7,77.66 L280.2,80.85 L280.7,83.69 L281.2,85.96 L281.7,87.62 L282.2,88.49 L282.7,88.74 L283.2,88.55 L283.7,88.07 L284.2,87.18 L284.7,86.03 L285.2,84.92 L285.7,84.22 L286.2,84.18 L286.7,84.88 L287.2,86.14 L287.7,87.81 L288.2,89.73 L288.7,91.83 L289.2,94.25 L289.7,97.45 L290.2,101.45 L290.7,105.42 L291.2,108.59 L291.7,111.29 L292.2,113.73 L292.7,115.85 L293.2,117.67 L293.7,119.22 L294.2,120.51 L294.7,121.59 L295.2,122.55 L295.7,123.39 L296.2,124.17 L296.7,124.91 L297.2,125.61 L297.7,126.31 L298.2,127.04 L298.7,127.83 L299.2,128.61 L299.7,129.32 L300.2,129.86 L300.7,130.18 L301.2,130.19 L301.7,129.87 L302.2,129.29 L302.7,128.50 L303.2,127.48 L303.7,126.25 L304.2,124.78 L304.7,123.02 L305.2,120.95 L305.7,118.19 L306.2,114.66 L306.7,110.57 L307.2,106.22 L307.7,102.12 L308.2,98.35 L308.7,94.33 L309.2,90.38 L309.7,87.13 L310.2,85.33 L310.7,85.25 L311.2,86.86 L311.7,89.79 L312.2,93.83 L312.7,98.58 L313.2,104.57 L313.7,111.40 L314.2,118.29 L314.7,124.63 L315.2,130.08 L315.7,134.74 L316.2,139.08 L316.7,143.13 L317.2,146.80 L317.7,149.98 L318.2,152.71 L318.7,154.95 L319.2,156.69 L319.7,157.88 L320.2,158.68 L320.7,159.21 L321.2,159.53 L321.7,159.73 L322.2,159.87 L322.7,160.00 L323.2,160.19 L323.7,160.47 L324.2,160.76 L324.7,161.00 L325.2,161.19 L325.7,161.35 L326.2,161.48 L326.7,161.58 L327.2,161.64 L327.7,161.68 L328.2,161.70 L328.7,161.65 L329.2,161.55 L329.7,161.40 L330.2,161.23 L330.7,161.04 L331.2,160.87 L331.7,160.71 L332.2,160.60 L332.7,160.55 L333.2,160.63 L333.7,160.85 L334.2,161.17 L334.7,161.47 L335.2,161.61 L335.7,161.60 L336.2,161.50 L336.7,161.34 L337.2,161.16 L337.7,160.96 L338.2,160.75 L338.7,160.53 L339.2,160.31 L339.7,160.10" fill="none" stroke="#e9a13a" stroke-width="1.10" stroke-linejoin="round"/>
<path d="M215.7,171.86 L216.2,171.04 L216.7,170.30 L217.2,169.63 L217.7,169.00 L218.2,168.35 L218.7,167.69 L219.2,167.05 L219.7,166.46 L220.2,165.92 L220.7,165.46 L221.2,165.12 L221.7,164.92 L222.2,165.10 L222.7,165.71 L223.2,166.55 L223.7,167.16 L224.2,167.25 L224.7,166.88 L225.2,166.11 L225.7,165.15 L226.2,164.06 L226.7,162.92 L227.2,161.79 L227.7,160.72 L228.2,159.78 L228.7,158.99 L229.2,158.32 L229.7,157.71 L230.2,157.15 L230.7,156.61 L231.2,156.06 L231.7,155.48 L232.2,154.86 L232.7,154.25 L233.2,153.74 L233.7,153.29 L234.2,152.83 L234.7,152.30 L235.2,151.64 L235.7,150.78 L236.2,149.57 L236.7,147.88 L237.2,145.67 L237.7,142.91 L238.2,139.67 L238.7,136.10 L239.2,132.37 L239.7,128.47 L240.2,123.97 L240.7,119.27 L241.2,115.02 L241.7,110.89 L242.2,106.98 L242.7,103.40 L243.2,100.10 L243.7,96.95 L244.2,93.95 L244.7,91.14 L245.2,88.55 L245.7,86.27 L246.2,84.32 L246.7,82.60 L247.2,81.06 L247.7,79.63 L248.2,78.26 L248.7,76.86 L249.2,75.44 L249.7,74.25 L250.2,73.61 L250.7,73.70 L251.2,74.28 L251.7,75.08 L252.2,75.86 L252.7,76.68 L253.2,77.55 L253.7,78.44 L254.2,79.31 L254.7,80.13 L255.2,80.87 L255.7,81.51 L256.2,82.03 L256.7,82.42 L257.2,82.56 L257.7,82.84 L258.2,83.82 L258.7,85.17 L259.2,86.82 L259.7,88.62 L260.2,90.55 L260.7,92.58 L261.2,94.60 L261.7,96.59 L262.2,98.51 L262.7,100.25 L263.2,101.80 L263.7,103.16 L264.2,104.14 L264.7,104.55 L265.2,104.35 L265.7,103.45 L266.2,101.82 L266.7,99.50 L267.2,96.63 L267.7,93.27 L268.2,89.64 L268.7,85.82 L269.2,81.76 L269.7,77.59 L270.2,73.34 L270.7,69.00 L271.2,64.70 L271.7,60.57 L272.2,56.66 L272.7,52.96 L273.2,49.30 L273.7,45.81 L274.2,43.14 L274.7,41.76 L275.2,42.14 L275.7,44.56 L276.2,48.23 L276.7,52.23 L277.2,55.94 L277.7,59.80 L278.2,63.92 L278.7,68.10 L279.2,72.10 L279.7,75.71 L280.2,78.83 L280.7,81.62 L281.2,83.82 L281.7,85.32 L282.2,85.90 L282.7,85.77 L283.2,85.17 L283.7,84.35 L284.2,83.16 L284.7,81.67 L285.2,80.22 L285.7,79.17 L286.2,78.81 L286.7,79.23 L287.2,80.26 L287.7,81.76 L288.2,83.59 L288.7,85.70 L289.2,88.26 L289.7,91.84 L290.2,96.44 L290.7,101.02 L291.2,104.58 L291.7,107.58 L292.2,110.29 L292.7,112.64 L293.2,114.67 L293.7,116.38 L294.2,117.81 L294.7,119.01 L295.2,120.05 L295.7,120.98 L296.2,121.84 L296.7,122.64 L297.2,123.42 L297.7,124.18 L298.2,124.98 L298.7,125.84 L299.2,126.68 L299.7,127.45 L300.2,128.05 L300.7,128.43 L301.2,128.50 L301.7,128.21 L302.2,127.67 L302.7,126.88 L303.2,125.86 L303.7,124.65 L304.2,123.21 L304.7,121.50 L305.2,119.54 L305.7,116.96 L306.2,113.67 L306.7,109.88 L307.2,105.88 L307.7,102.15 L308.2,98.75 L308.7,95.20 L309.2,91.74 L309.7,88.95 L310.2,87.46 L310.7,87.51 L311.2,89.08 L311.7,91.87 L312.2,95.74 L312.7,100.34 L313.2,106.19 L313.7,112.86 L314.2,119.57 L314.7,125.72 L315.2,130.98 L315.7,135.45 L316.2,139.56 L316.7,143.36 L317.2,146.79 L317.7,149.76 L318.2,152.29 L318.7,154.37 L319.2,155.99 L319.7,157.08 L320.2,157.80 L320.7,158.26 L321.2,158.53 L321.7,158.68 L322.2,158.78 L322.7,158.88 L323.2,159.04 L323.7,159.30 L324.2,159.58 L324.7,159.82 L325.2,160.04 L325.7,160.22 L326.2,160.38 L326.7,160.49 L327.2,160.58 L327.7,160.64 L328.2,160.66 L328.7,160.61 L329.2,160.51 L329.7,160.35 L330.2,160.16 L330.7,159.96 L331.2,159.77 L331.7,159.60 L332.2,159.49 L332.7,159.44 L333.2,159.56 L333.7,159.86 L334.2,160.28 L334.7,160.67 L335.2,160.86 L335.7,160.86 L336.2,160.74 L336.7,160.55 L337.2,160.33 L337.7,160.08 L338.2,159.82 L338.7,159.54 L339.2,159.27 L339.7,159.01" fill="none" stroke="#62a94f" stroke-width="1.10" stroke-linejoin="round"/>
<path d="M215.7,171.70 L216.2,170.87 L216.7,170.08 L217.2,169.34 L217.7,168.64 L218.2,167.91 L218.7,167.15 L219.2,166.40 L219.7,165.68 L220.2,165.02 L220.7,164.45 L221.2,164.00 L221.7,163.71 L222.2,163.89 L222.7,164.63 L223.2,165.65 L223.7,166.39 L224.2,166.51 L224.7,166.07 L225.2,165.15 L225.7,164.01 L226.2,162.73 L226.7,161.39 L227.2,160.08 L227.7,158.84 L228.2,157.77 L228.7,156.88 L229.2,156.13 L229.7,155.48 L230.2,154.88 L230.7,154.33 L231.2,153.78 L231.7,153.21 L232.2,152.59 L232.7,151.98 L233.2,151.49 L233.7,151.08 L234.2,150.66 L234.7,150.18 L235.2,149.54 L235.7,148.69 L236.2,147.43 L236.7,145.62 L237.2,143.23 L237.7,140.23 L238.2,136.74 L238.7,132.90 L239.2,128.90 L239.7,124.70 L240.2,119.72 L240.7,114.43 L241.2,109.61 L241.7,104.92 L242.2,100.48 L242.7,96.42 L243.2,92.68 L243.7,89.09 L244.2,85.65 L244.7,82.42 L245.2,79.43 L245.7,76.79 L246.2,74.52 L246.7,72.52 L247.2,70.73 L247.7,69.06 L248.2,67.45 L248.7,65.81 L249.2,64.13 L249.7,62.74 L250.2,62.05 L250.7,62.25 L251.2,63.07 L251.7,64.14 L252.2,65.19 L252.7,66.29 L253.2,67.45 L253.7,68.62 L254.2,69.78 L254.7,70.89 L255.2,71.90 L255.7,72.81 L256.2,73.62 L256.7,74.36 L257.2,75.01 L257.7,75.80 L258.2,77.09 L258.7,78.67 L259.2,80.54 L259.7,82.58 L260.2,84.77 L260.7,87.11 L261.2,89.47 L261.7,91.81 L262.2,94.07 L262.7,96.14 L263.2,98.01 L263.7,99.72 L264.2,101.02 L264.7,101.67 L265.2,101.65 L265.7,100.94 L266.2,99.50 L266.7,97.38 L267.2,94.76 L267.7,91.63 L268.2,88.22 L268.7,84.62 L269.2,80.83 L269.7,76.97 L270.2,73.01 L270.7,68.90 L271.2,64.76 L271.7,60.71 L272.2,56.84 L272.7,53.19 L273.2,49.53 L273.7,45.96 L274.2,43.19 L274.7,41.77 L275.2,42.07 L275.7,44.21 L276.2,47.43 L276.7,51.03 L277.2,54.48 L277.7,58.13 L278.2,62.08 L278.7,66.11 L279.2,69.99 L279.7,73.48 L280.2,76.52 L280.7,79.26 L281.2,81.37 L281.7,82.69 L282.2,82.94 L282.7,82.38 L283.2,81.30 L283.7,80.11 L284.2,78.56 L284.7,76.69 L285.2,74.84 L285.7,73.40 L286.2,72.67 L286.7,72.78 L287.2,73.54 L287.7,74.85 L288.2,76.57 L288.7,78.69 L289.2,81.42 L289.7,85.43 L290.2,90.72 L290.7,95.98 L291.2,100.00 L291.7,103.35 L292.2,106.36 L292.7,108.98 L293.2,111.23 L293.7,113.14 L294.2,114.73 L294.7,116.05 L295.2,117.21 L295.7,118.23 L296.2,119.17 L296.7,120.06 L297.2,120.91 L297.7,121.75 L298.2,122.63 L298.7,123.56 L299.2,124.48 L299.7,125.32 L300.2,125.98 L300.7,126.43 L301.2,126.56 L301.7,126.33 L302.2,125.81 L302.7,125.03 L303.2,124.02 L303.7,122.81 L304.2,121.40 L304.7,119.77 L305.2,117.92 L305.7,115.55 L306.2,112.54 L306.7,109.10 L307.2,105.49 L307.7,102.17 L308.2,99.22 L308.7,96.19 L309.2,93.30 L309.7,91.02 L310.2,89.90 L310.7,90.10 L311.2,91.62 L311.7,94.25 L312.2,97.93 L312.7,102.36 L313.2,108.04 L313.7,114.52 L314.2,121.03 L314.7,126.97 L315.2,132.02 L315.7,136.25 L316.2,140.09 L316.7,143.62 L317.2,146.78 L317.7,149.50 L318.2,151.82 L318.7,153.72 L319.2,155.20 L319.7,156.17 L320.2,156.79 L320.7,157.18 L321.2,157.38 L321.7,157.48 L322.2,157.53 L322.7,157.60 L323.2,157.73 L323.7,157.97 L324.2,158.24 L324.7,158.49 L325.2,158.72 L325.7,158.93 L326.2,159.11 L326.7,159.26 L327.2,159.37 L327.7,159.45 L328.2,159.48 L328.7,159.43 L329.2,159.31 L329.7,159.14 L330.2,158.94 L330.7,158.72 L331.2,158.52 L331.7,158.33 L332.2,158.21 L332.7,158.18 L333.2,158.34 L333.7,158.72 L334.2,159.27 L334.7,159.76 L335.2,160.01 L335.7,160.02 L336.2,159.87 L336.7,159.64 L337.2,159.37 L337.7,159.07 L338.2,158.75 L338.7,158.41 L339.2,158.08 L339.7,157.76" fill="none" stroke="#3d6f5e" stroke-width="1.10" stroke-linejoin="round"/>
<path d="M215.7,171.50 L216.2,170.65 L216.7,169.81 L217.2,168.99 L217.7,168.20 L218.2,167.36 L218.7,166.47 L219.2,165.58 L219.7,164.72 L220.2,163.90 L220.7,163.17 L221.2,162.59 L221.7,162.20 L222.2,162.39 L222.7,163.28 L223.2,164.53 L223.7,165.43 L224.2,165.58 L224.7,165.05 L225.2,163.95 L225.7,162.58 L226.2,161.06 L226.7,159.48 L227.2,157.93 L227.7,156.49 L228.2,155.25 L228.7,154.24 L229.2,153.40 L229.7,152.69 L230.2,152.05 L230.7,151.48 L231.2,150.93 L231.7,150.36 L232.2,149.76 L232.7,149.15 L233.2,148.68 L233.7,148.32 L234.2,147.96 L234.7,147.53 L235.2,146.93 L235.7,146.07 L236.2,144.75 L236.7,142.79 L237.2,140.18 L237.7,136.89 L238.2,133.08 L238.7,128.90 L239.2,124.56 L239.7,119.98 L240.2,114.41 L240.7,108.37 L241.2,102.85 L241.7,97.46 L242.2,92.34 L242.7,87.70 L243.2,83.40 L243.7,79.26 L244.2,75.29 L244.7,71.52 L245.2,68.03 L245.7,64.94 L246.2,62.28 L246.7,59.93 L247.2,57.82 L247.7,55.85 L248.2,53.95 L248.7,52.00 L249.2,50.00 L249.7,48.37 L250.2,47.60 L250.7,47.95 L251.2,49.05 L251.7,50.47 L252.2,51.85 L252.7,53.29 L253.2,54.81 L253.7,56.35 L254.2,57.87 L254.7,59.33 L255.2,60.69 L255.7,61.93 L256.2,63.11 L256.7,64.29 L257.2,65.56 L257.7,67.00 L258.2,68.68 L258.7,70.55 L259.2,72.70 L259.7,75.03 L260.2,77.54 L260.7,80.26 L261.2,83.05 L261.7,85.84 L262.2,88.52 L262.7,91.00 L263.2,93.28 L263.7,95.43 L264.2,97.13 L264.7,98.07 L265.2,98.28 L265.7,97.80 L266.2,96.60 L266.7,94.74 L267.2,92.42 L267.7,89.58 L268.2,86.45 L268.7,83.13 L269.2,79.68 L269.7,76.20 L270.2,72.61 L270.7,68.78 L271.2,64.83 L271.7,60.89 L272.2,57.06 L272.7,53.48 L273.2,49.82 L273.7,46.14 L274.2,43.27 L274.7,41.78 L275.2,41.99 L275.7,43.78 L276.2,46.44 L276.7,49.53 L277.2,52.64 L277.7,56.04 L278.2,59.77 L278.7,63.62 L279.2,67.34 L279.7,70.70 L280.2,73.63 L280.7,76.31 L281.2,78.30 L281.7,79.40 L282.2,79.24 L282.7,78.13 L283.2,76.48 L283.7,74.80 L284.2,72.81 L284.7,70.46 L285.2,68.12 L285.7,66.20 L286.2,64.99 L286.7,64.71 L287.2,65.15 L287.7,66.21 L288.2,67.80 L288.7,69.92 L289.2,72.87 L289.7,77.41 L290.2,83.56 L290.7,89.68 L291.2,94.28 L291.7,98.05 L292.2,101.45 L292.7,104.40 L293.2,106.94 L293.7,109.09 L294.2,110.88 L294.7,112.36 L295.2,113.65 L295.7,114.79 L296.2,115.84 L296.7,116.83 L297.2,117.77 L297.7,118.71 L298.2,119.69 L298.7,120.71 L299.2,121.72 L299.7,122.65 L300.2,123.40 L300.7,123.93 L301.2,124.13 L301.7,123.97 L302.2,123.48 L302.7,122.72 L303.2,121.72 L303.7,120.52 L304.2,119.15 L304.7,117.60 L305.2,115.90 L305.7,113.78 L306.2,111.13 L306.7,108.12 L307.2,105.00 L307.7,102.21 L308.2,99.80 L308.7,97.43 L309.2,95.25 L309.7,93.62 L310.2,92.95 L310.7,93.34 L311.2,94.80 L311.7,97.23 L312.2,100.66 L312.7,104.88 L313.2,110.34 L313.7,116.59 L314.2,122.86 L314.7,128.54 L315.2,133.31 L315.7,137.25 L316.2,140.77 L316.7,143.95 L317.2,146.78 L317.7,149.18 L318.2,151.23 L318.7,152.90 L319.2,154.20 L319.7,155.03 L320.2,155.54 L320.7,155.83 L321.2,155.95 L321.7,155.98 L322.2,155.98 L322.7,155.99 L323.2,156.09 L323.7,156.30 L324.2,156.55 L324.7,156.81 L325.2,157.07 L325.7,157.31 L326.2,157.53 L326.7,157.71 L327.2,157.86 L327.7,157.96 L328.2,158.00 L328.7,157.94 L329.2,157.81 L329.7,157.63 L330.2,157.41 L330.7,157.17 L331.2,156.95 L331.7,156.75 L332.2,156.62 L332.7,156.60 L333.2,156.81 L333.7,157.30 L334.2,157.99 L334.7,158.63 L335.2,158.94 L335.7,158.96 L336.2,158.78 L336.7,158.51 L337.2,158.18 L337.7,157.81 L338.2,157.41 L338.7,157.00 L339.2,156.59 L339.7,156.20" fill="none" stroke="#7a4886" stroke-width="1.10" stroke-linejoin="round"/>
<path d="M250.6,48.5 V126.0" stroke="#1a1a1a" stroke-width="1.0" stroke-dasharray="1,1"/>
<path d="M259.0,80.0 V126.5" stroke="#1a1a1a" stroke-width="1.0" stroke-dasharray="1,1"/>
<path d="M286.5,65.5 V124.8" stroke="#1a1a1a" stroke-width="1.0" stroke-dasharray="1,1"/>
<path d="M382.5,176.00 L383.0,175.38 L383.5,174.75 L384.0,174.13 L384.5,173.53 L385.0,172.97 L385.5,172.45 L386.0,172.00 L386.5,171.65 L387.0,171.35 L387.5,171.11 L388.0,170.90 L388.5,170.70 L389.0,170.49 L389.5,170.26 L390.0,170.00 L390.5,169.73 L391.0,169.45 L391.5,169.18 L392.0,168.90 L392.5,168.62 L393.0,168.33 L393.5,168.02 L394.0,167.70 L394.5,167.36 L395.0,167.00 L395.5,166.65 L396.0,166.32 L396.5,166.01 L397.0,165.69 L397.5,165.34 L398.0,164.94 L398.5,164.48 L399.0,163.93 L399.5,163.27 L400.0,162.50 L400.5,161.58 L401.0,160.57 L401.5,159.46 L402.0,158.29 L402.5,157.04 L403.0,155.73 L403.5,154.37 L404.0,152.96 L404.5,151.50 L405.0,150.00 L405.5,148.34 L406.0,146.42 L406.5,144.27 L407.0,142.02 L407.5,139.88 L408.0,138.00 L408.5,136.45 L409.0,135.05 L409.5,133.75 L410.0,132.46 L410.5,131.14 L411.0,129.69 L411.5,127.85 L412.0,125.28 L412.5,122.19 L413.0,119.95 L413.5,118.61 L414.0,117.77 L414.5,117.16 L415.0,116.68 L415.5,116.27 L416.0,115.90 L416.5,115.54 L417.0,115.15 L417.5,114.70 L418.0,114.15 L418.5,113.53 L419.0,112.86 L419.5,112.18 L420.0,111.51 L420.5,110.89 L421.0,110.38 L421.5,109.98 L422.0,109.66 L422.5,109.44 L423.0,109.31 L423.5,109.30 L424.0,109.46 L424.5,109.87 L425.0,110.72 L425.5,111.79 L426.0,112.77 L426.5,113.59 L427.0,114.51 L427.5,115.24 L428.0,115.38 L428.5,114.94 L429.0,114.17 L429.5,113.14 L430.0,111.87 L430.5,110.29 L431.0,108.29 L431.5,105.88 L432.0,103.07 L432.5,99.88 L433.0,96.30 L433.5,92.20 L434.0,87.60 L434.5,81.91 L435.0,75.29 L435.5,68.19 L436.0,61.21 L436.5,55.00 L437.0,48.96 L437.5,43.10 L438.0,39.74 L438.5,39.00 L439.0,40.29 L439.5,42.56 L440.0,45.52 L440.5,48.89 L441.0,52.50 L441.5,56.24 L442.0,60.00 L442.5,64.08 L443.0,68.56 L443.5,73.29 L444.0,78.12 L444.5,82.88 L445.0,87.42 L445.5,91.53 L446.0,95.00 L446.5,97.46 L447.0,99.08 L447.5,99.99 L448.0,100.39 L448.5,100.69 L449.0,101.25 L449.5,101.81 L450.0,102.02 L450.5,102.23 L451.0,102.75 L451.5,103.70 L452.0,105.00 L452.5,106.59 L453.0,108.34 L453.5,110.19 L454.0,112.10 L454.5,114.05 L455.0,116.02 L455.5,118.00 L456.0,119.98 L456.5,121.94 L457.0,123.87 L457.5,125.74 L458.0,127.50 L458.5,129.20 L459.0,130.93 L459.5,132.54 L460.0,133.75 L460.5,134.52 L461.0,135.00 L461.5,135.42 L462.0,135.84 L462.5,136.21 L463.0,136.49 L463.5,136.64 L464.0,136.64 L464.5,136.42 L465.0,135.92 L465.5,135.06 L466.0,133.75 L466.5,131.67 L467.0,128.93 L467.5,125.59 L468.0,121.72 L468.5,117.52 L469.0,113.19 L469.5,108.96 L470.0,105.00 L470.5,100.90 L471.0,96.31 L471.5,91.51 L472.0,86.80 L472.5,82.55 L473.0,79.04 L473.5,76.85 L474.0,76.32 L474.5,77.37 L475.0,80.02 L475.5,83.73 L476.0,88.17 L476.5,92.92 L477.0,97.50 L477.5,102.34 L478.0,107.93 L478.5,113.92 L479.0,119.83 L479.5,125.27 L480.0,130.00 L480.5,134.35 L481.0,138.70 L481.5,142.85 L482.0,146.70 L482.5,150.09 L483.0,153.03 L483.5,155.50 L484.0,157.50 L484.5,159.09 L485.0,160.42 L485.5,161.47 L486.0,162.28 L486.5,162.91 L487.0,163.39 L487.5,163.77 L488.0,164.07 L488.5,164.33 L489.0,164.56 L489.5,164.78 L490.0,165.00 L490.5,165.18 L491.0,165.31 L491.5,165.40 L492.0,165.47 L492.5,165.51 L493.0,165.54 L493.5,165.55 L494.0,165.55 L494.5,165.54 L495.0,165.53 L495.5,165.50 L496.0,165.47 L496.5,165.43 L497.0,165.39 L497.5,165.34 L498.0,165.29 L498.5,165.24 L499.0,165.19 L499.5,165.13 L500.0,165.08 L500.5,165.04 L501.0,165.01 L501.3,165.00" fill="none" stroke="#cdcdcd" stroke-width="1.10" stroke-linejoin="round"/>
<path d="M382.5,175.70 L383.0,174.69 L383.5,173.69 L384.0,172.82 L384.5,172.10 L385.0,171.53 L385.5,171.06 L386.0,170.67 L386.5,170.36 L387.0,170.09 L387.5,169.84 L388.0,169.57 L388.5,169.28 L389.0,168.96 L389.5,168.60 L390.0,168.21 L390.5,167.81 L391.0,167.41 L391.5,167.02 L392.0,166.63 L392.5,166.25 L393.0,165.89 L393.5,165.60 L394.0,165.44 L394.5,165.48 L395.0,165.43 L395.5,165.12 L396.0,164.67 L396.5,164.14 L397.0,163.58 L397.5,162.97 L398.0,162.30 L398.5,161.57 L399.0,160.75 L399.5,159.83 L400.0,158.80 L400.5,157.64 L401.0,156.34 L401.5,154.92 L402.0,153.39 L402.5,151.72 L403.0,149.95 L403.5,148.07 L404.0,146.09 L404.5,144.00 L405.0,141.74 L405.5,139.20 L406.0,136.37 L406.5,133.39 L407.0,130.34 L407.5,127.31 L408.0,124.43 L408.5,121.79 L409.0,119.17 L409.5,116.55 L410.0,114.06 L410.5,111.83 L411.0,109.91 L411.5,108.06 L412.0,105.90 L412.5,103.48 L413.0,101.68 L413.5,100.59 L414.0,99.94 L414.5,99.53 L415.0,99.24 L415.5,99.03 L416.0,98.87 L416.5,98.73 L417.0,98.59 L417.5,98.41 L418.0,98.17 L418.5,97.89 L419.0,97.58 L419.5,97.26 L420.0,96.97 L420.5,96.74 L421.0,96.65 L421.5,96.69 L422.0,96.84 L422.5,97.15 L423.0,97.60 L423.5,98.26 L424.0,99.20 L424.5,100.46 L425.0,102.02 L425.5,103.66 L426.0,105.20 L426.5,106.65 L427.0,108.13 L427.5,109.41 L428.0,110.15 L428.5,110.25 L429.0,109.90 L429.5,109.14 L430.0,107.98 L430.5,106.45 L431.0,104.40 L431.5,101.84 L432.0,98.84 L432.5,95.54 L433.0,91.96 L433.5,87.97 L434.0,83.61 L434.5,78.46 L435.0,72.66 L435.5,66.49 L436.0,60.20 L436.5,54.28 L437.0,48.54 L437.5,43.17 L438.0,39.93 L438.5,39.00 L439.0,40.01 L439.5,41.99 L440.0,44.70 L440.5,47.85 L441.0,51.25 L441.5,54.80 L442.0,58.36 L442.5,62.10 L443.0,66.18 L443.5,70.56 L444.0,75.08 L444.5,79.57 L445.0,83.87 L445.5,87.75 L446.0,90.97 L446.5,93.08 L447.0,94.17 L447.5,94.34 L448.0,93.85 L448.5,93.28 L449.0,93.13 L449.5,92.98 L450.0,92.70 L450.5,92.71 L451.0,93.14 L451.5,93.95 L452.0,95.18 L452.5,96.79 L453.0,98.71 L453.5,101.00 L454.0,103.50 L454.5,106.14 L455.0,108.84 L455.5,111.54 L456.0,114.16 L456.5,116.66 L457.0,119.12 L457.5,121.47 L458.0,123.58 L458.5,125.42 L459.0,127.10 L459.5,128.54 L460.0,129.60 L460.5,130.29 L461.0,130.76 L461.5,131.18 L462.0,131.63 L462.5,132.10 L463.0,132.59 L463.5,133.06 L464.0,133.46 L464.5,133.73 L465.0,133.77 L465.5,133.96 L466.0,133.19 L466.5,131.23 L467.0,128.55 L467.5,125.37 L468.0,121.78 L468.5,117.94 L469.0,114.00 L469.5,110.14 L470.0,106.50 L470.5,102.70 L471.0,98.49 L471.5,94.09 L472.0,89.78 L472.5,85.87 L473.0,82.62 L473.5,80.56 L474.0,80.09 L474.5,81.21 L475.0,84.14 L475.5,88.14 L476.0,92.61 L476.5,97.12 L477.0,101.53 L477.5,106.16 L478.0,111.34 L478.5,116.78 L479.0,122.14 L479.5,127.11 L480.0,131.50 L480.5,135.56 L481.0,139.60 L481.5,143.47 L482.0,147.06 L482.5,150.26 L483.0,153.07 L483.5,155.44 L484.0,157.36 L484.5,158.88 L485.0,160.09 L485.5,161.02 L486.0,161.71 L486.5,162.24 L487.0,162.65 L487.5,163.01 L488.0,163.32 L488.5,163.57 L489.0,163.79 L489.5,163.99 L490.0,164.18 L490.5,164.33 L491.0,164.44 L491.5,164.52 L492.0,164.58 L492.5,164.61 L493.0,164.61 L493.5,164.58 L494.0,164.51 L494.5,164.42 L495.0,164.33 L495.5,164.26 L496.0,164.21 L496.5,164.18 L497.0,164.17 L497.5,164.16 L498.0,164.16 L498.5,164.17 L499.0,164.17 L499.5,164.18 L500.0,164.19 L500.5,164.21 L501.0,164.23 L501.3,164.25" fill="none" stroke="#b6304a" stroke-width="1.10" stroke-linejoin="round"/>
<path d="M382.5,175.60 L383.0,174.45 L383.5,173.34 L384.0,172.38 L384.5,171.62 L385.0,171.05 L385.5,170.60 L386.0,170.23 L386.5,169.94 L387.0,169.67 L387.5,169.41 L388.0,169.13 L388.5,168.81 L389.0,168.45 L389.5,168.05 L390.0,167.62 L390.5,167.18 L391.0,166.73 L391.5,166.29 L392.0,165.87 L392.5,165.46 L393.0,165.08 L393.5,164.79 L394.0,164.69 L394.5,164.85 L395.0,164.91 L395.5,164.61 L396.0,164.11 L396.5,163.52 L397.0,162.88 L397.5,162.18 L398.0,161.42 L398.5,160.60 L399.0,159.69 L399.5,158.68 L400.0,157.57 L400.5,156.32 L401.0,154.93 L401.5,153.41 L402.0,151.75 L402.5,149.95 L403.0,148.02 L403.5,145.97 L404.0,143.80 L404.5,141.50 L405.0,138.98 L405.5,136.15 L406.0,133.02 L406.5,129.76 L407.0,126.44 L407.5,123.12 L408.0,119.91 L408.5,116.91 L409.0,113.88 L409.5,110.82 L410.0,107.93 L410.5,105.40 L411.0,103.32 L411.5,101.47 L412.0,99.44 L412.5,97.24 L413.0,95.59 L413.5,94.58 L414.0,94.00 L414.5,93.65 L415.0,93.43 L415.5,93.28 L416.0,93.19 L416.5,93.13 L417.0,93.07 L417.5,92.98 L418.0,92.85 L418.5,92.68 L419.0,92.48 L419.5,92.29 L420.0,92.12 L420.5,92.03 L421.0,92.07 L421.5,92.26 L422.0,92.57 L422.5,93.05 L423.0,93.70 L423.5,94.58 L424.0,95.78 L424.5,97.32 L425.0,99.12 L425.5,100.95 L426.0,102.68 L426.5,104.33 L427.0,106.00 L427.5,107.46 L428.0,108.41 L428.5,108.68 L429.0,108.48 L429.5,107.81 L430.0,106.69 L430.5,105.17 L431.0,103.11 L431.5,100.49 L432.0,97.43 L432.5,94.09 L433.0,90.52 L433.5,86.57 L434.0,82.28 L434.5,77.31 L435.0,71.78 L435.5,65.92 L436.0,59.86 L436.5,54.04 L437.0,48.40 L437.5,43.19 L438.0,39.99 L438.5,39.00 L439.0,39.92 L439.5,41.80 L440.0,44.43 L440.5,47.50 L441.0,50.84 L441.5,54.32 L442.0,57.82 L442.5,61.45 L443.0,65.39 L443.5,69.65 L444.0,74.07 L444.5,78.47 L445.0,82.69 L445.5,86.49 L446.0,89.62 L446.5,91.62 L447.0,92.54 L447.5,92.45 L448.0,91.67 L448.5,90.81 L449.0,90.42 L449.5,90.04 L450.0,89.59 L450.5,89.54 L451.0,89.94 L451.5,90.70 L452.0,91.90 L452.5,93.52 L453.0,95.50 L453.5,97.94 L454.0,100.64 L454.5,103.51 L455.0,106.45 L455.5,109.39 L456.0,112.22 L456.5,114.90 L457.0,117.53 L457.5,120.04 L458.0,122.27 L458.5,124.15 L459.0,125.83 L459.5,127.21 L460.0,128.21 L460.5,128.88 L461.0,129.35 L461.5,129.77 L462.0,130.22 L462.5,130.73 L463.0,131.30 L463.5,131.87 L464.0,132.40 L464.5,132.83 L465.0,133.05 L465.5,133.59 L466.0,133.00 L466.5,131.08 L467.0,128.42 L467.5,125.30 L468.0,121.80 L468.5,118.08 L469.0,114.27 L469.5,110.54 L470.0,107.00 L470.5,103.31 L471.0,99.21 L471.5,94.95 L472.0,90.77 L472.5,86.98 L473.0,83.82 L473.5,81.80 L474.0,81.35 L474.5,82.50 L475.0,85.51 L475.5,89.61 L476.0,94.08 L476.5,98.52 L477.0,102.87 L477.5,107.44 L478.0,112.47 L478.5,117.74 L479.0,122.91 L479.5,127.72 L480.0,132.00 L480.5,135.97 L481.0,139.90 L481.5,143.67 L482.0,147.18 L482.5,150.32 L483.0,153.09 L483.5,155.42 L484.0,157.32 L484.5,158.81 L485.0,159.98 L485.5,160.86 L486.0,161.51 L486.5,162.01 L487.0,162.41 L487.5,162.76 L488.0,163.07 L488.5,163.32 L489.0,163.54 L489.5,163.73 L490.0,163.91 L490.5,164.05 L491.0,164.16 L491.5,164.23 L492.0,164.28 L492.5,164.31 L493.0,164.30 L493.5,164.25 L494.0,164.16 L494.5,164.05 L495.0,163.94 L495.5,163.85 L496.0,163.79 L496.5,163.76 L497.0,163.76 L497.5,163.77 L498.0,163.79 L498.5,163.81 L499.0,163.83 L499.5,163.86 L500.0,163.90 L500.5,163.93 L501.0,163.98 L501.3,164.00" fill="none" stroke="#e9a13a" stroke-width="1.10" stroke-linejoin="round"/>
<path d="M382.5,175.23 L383.0,173.60 L383.5,172.04 L384.0,170.77 L384.5,169.85 L385.0,169.28 L385.5,168.89 L386.0,168.60 L386.5,168.35 L387.0,168.11 L387.5,167.83 L388.0,167.49 L388.5,167.06 L389.0,166.56 L389.5,166.00 L390.0,165.42 L390.5,164.82 L391.0,164.22 L391.5,163.62 L392.0,163.06 L392.5,162.53 L393.0,162.07 L393.5,161.81 L394.0,161.91 L394.5,162.53 L395.0,162.98 L395.5,162.72 L396.0,162.07 L396.5,161.22 L397.0,160.27 L397.5,159.25 L398.0,158.17 L398.5,157.00 L399.0,155.76 L399.5,154.44 L400.0,153.01 L400.5,151.45 L401.0,149.72 L401.5,147.82 L402.0,145.71 L402.5,143.40 L403.0,140.88 L403.5,138.19 L404.0,135.33 L404.5,132.24 L405.0,128.79 L405.5,124.88 L406.0,120.63 L406.5,116.34 L407.0,112.04 L407.5,107.62 L408.0,103.18 L408.5,98.83 L409.0,94.30 L409.5,89.61 L410.0,85.24 L410.5,81.58 L411.0,78.93 L411.5,77.07 L412.0,75.54 L412.5,74.17 L413.0,73.05 L413.5,72.36 L414.0,72.02 L414.5,71.91 L415.0,71.91 L415.5,72.01 L416.0,72.18 L416.5,72.40 L417.0,72.64 L417.5,72.90 L418.0,73.14 L418.5,73.39 L419.0,73.63 L419.5,73.88 L420.0,74.19 L420.5,74.58 L421.0,75.13 L421.5,75.87 L422.0,76.76 L422.5,77.89 L423.0,79.26 L423.5,80.97 L424.0,83.13 L424.5,85.70 L425.0,88.39 L425.5,90.93 L426.0,93.35 L426.5,95.78 L427.0,98.14 L427.5,100.27 L428.0,101.95 L428.5,102.90 L429.0,103.22 L429.5,102.88 L430.0,101.89 L430.5,100.44 L431.0,98.31 L431.5,95.52 L432.0,92.21 L432.5,88.74 L433.0,85.17 L433.5,81.35 L434.0,77.35 L434.5,73.05 L435.0,68.53 L435.5,63.83 L436.0,58.62 L436.5,53.15 L437.0,47.87 L437.5,43.27 L438.0,40.22 L438.5,39.00 L439.0,39.57 L439.5,41.11 L440.0,43.42 L440.5,46.21 L441.0,49.29 L441.5,52.54 L442.0,55.79 L442.5,59.01 L443.0,62.46 L443.5,66.28 L444.0,70.32 L444.5,74.39 L445.0,78.31 L445.5,81.83 L446.0,84.65 L446.5,86.21 L447.0,86.49 L447.5,85.48 L448.0,83.60 L448.5,81.66 L449.0,80.41 L449.5,79.15 L450.0,78.09 L450.5,77.80 L451.0,78.09 L451.5,78.68 L452.0,79.78 L452.5,81.42 L453.0,83.63 L453.5,86.60 L454.0,90.04 L454.5,93.76 L455.0,97.61 L455.5,101.43 L456.0,105.05 L456.5,108.38 L457.0,111.67 L457.5,114.78 L458.0,117.43 L458.5,119.49 L459.0,121.11 L459.5,122.28 L460.0,123.09 L460.5,123.67 L461.0,124.12 L461.5,124.54 L462.0,125.03 L462.5,125.65 L463.0,126.50 L463.5,127.45 L464.0,128.48 L464.5,129.51 L465.0,130.40 L465.5,132.22 L466.0,132.30 L466.5,130.53 L467.0,127.95 L467.5,125.03 L468.0,121.87 L468.5,118.59 L469.0,115.27 L469.5,112.00 L470.0,108.85 L470.5,105.54 L471.0,101.90 L471.5,98.14 L472.0,94.45 L472.5,91.08 L473.0,88.24 L473.5,86.37 L474.0,86.00 L474.5,87.24 L475.0,90.58 L475.5,95.06 L476.0,99.55 L476.5,103.70 L477.0,107.83 L477.5,112.15 L478.0,116.68 L478.5,121.27 L479.0,125.75 L479.5,129.98 L480.0,133.85 L480.5,137.46 L481.0,141.02 L481.5,144.44 L482.0,147.63 L482.5,150.54 L483.0,153.14 L483.5,155.34 L484.0,157.15 L484.5,158.55 L485.0,159.57 L485.5,160.30 L486.0,160.80 L486.5,161.18 L487.0,161.50 L487.5,161.83 L488.0,162.14 L488.5,162.39 L489.0,162.59 L489.5,162.75 L490.0,162.89 L490.5,163.00 L491.0,163.09 L491.5,163.14 L492.0,163.18 L492.5,163.19 L493.0,163.16 L493.5,163.05 L494.0,162.87 L494.5,162.67 L495.0,162.47 L495.5,162.32 L496.0,162.24 L496.5,162.22 L497.0,162.25 L497.5,162.32 L498.0,162.39 L498.5,162.48 L499.0,162.58 L499.5,162.69 L500.0,162.80 L500.5,162.91 L501.0,163.02 L501.3,163.07" fill="none" stroke="#62a94f" stroke-width="1.10" stroke-linejoin="round"/>
<path d="M382.5,175.18 L383.0,173.48 L383.5,171.86 L384.0,170.55 L384.5,169.61 L385.0,169.04 L385.5,168.65 L386.0,168.38 L386.5,168.14 L387.0,167.90 L387.5,167.62 L388.0,167.27 L388.5,166.83 L389.0,166.31 L389.5,165.73 L390.0,165.12 L390.5,164.50 L391.0,163.88 L391.5,163.26 L392.0,162.68 L392.5,162.13 L393.0,161.66 L393.5,161.41 L394.0,161.53 L394.5,162.21 L395.0,162.71 L395.5,162.46 L396.0,161.79 L396.5,160.91 L397.0,159.92 L397.5,158.86 L398.0,157.73 L398.5,156.52 L399.0,155.23 L399.5,153.86 L400.0,152.40 L400.5,150.80 L401.0,149.02 L401.5,147.06 L402.0,144.90 L402.5,142.52 L403.0,139.92 L403.5,137.14 L404.0,134.18 L404.5,130.99 L405.0,127.41 L405.5,123.35 L406.0,118.96 L406.5,114.53 L407.0,110.09 L407.5,105.53 L408.0,100.92 L408.5,96.39 L409.0,91.65 L409.5,86.75 L410.0,82.17 L410.5,78.37 L411.0,75.63 L411.5,73.77 L412.0,72.31 L412.5,71.06 L413.0,70.00 L413.5,69.36 L414.0,69.05 L414.5,68.97 L415.0,69.01 L415.5,69.14 L416.0,69.34 L416.5,69.60 L417.0,69.88 L417.5,70.18 L418.0,70.48 L418.5,70.79 L419.0,71.09 L419.5,71.40 L420.0,71.77 L420.5,72.22 L421.0,72.84 L421.5,73.65 L422.0,74.62 L422.5,75.84 L423.0,77.31 L423.5,79.13 L424.0,81.42 L424.5,84.13 L425.0,86.94 L425.5,89.58 L426.0,92.09 L426.5,94.62 L427.0,97.07 L427.5,99.30 L428.0,101.08 L428.5,102.11 L429.0,102.51 L429.5,102.21 L430.0,101.25 L430.5,99.80 L431.0,97.67 L431.5,94.84 L432.0,91.50 L432.5,88.01 L433.0,84.44 L433.5,80.65 L434.0,76.68 L434.5,72.48 L435.0,68.09 L435.5,63.55 L436.0,58.46 L436.5,53.03 L437.0,47.80 L437.5,43.28 L438.0,40.25 L438.5,39.00 L439.0,39.52 L439.5,41.01 L440.0,43.29 L440.5,46.04 L441.0,49.08 L441.5,52.30 L442.0,55.52 L442.5,58.68 L443.0,62.06 L443.5,65.83 L444.0,69.81 L444.5,73.84 L445.0,77.71 L445.5,81.21 L446.0,83.98 L446.5,85.48 L447.0,85.67 L447.5,84.54 L448.0,82.50 L448.5,80.43 L449.0,79.06 L449.5,77.68 L450.0,76.54 L450.5,76.21 L451.0,76.48 L451.5,77.06 L452.0,78.15 L452.5,79.79 L453.0,82.03 L453.5,85.07 L454.0,88.61 L454.5,92.45 L455.0,96.41 L455.5,100.35 L456.0,104.08 L456.5,107.50 L457.0,110.88 L457.5,114.06 L458.0,116.78 L458.5,118.86 L459.0,120.48 L459.5,121.61 L460.0,122.40 L460.5,122.96 L461.0,123.41 L461.5,123.83 L462.0,124.33 L462.5,124.97 L463.0,125.85 L463.5,126.86 L464.0,127.95 L464.5,129.06 L465.0,130.04 L465.5,132.04 L466.0,132.21 L466.5,130.46 L467.0,127.88 L467.5,124.99 L468.0,121.88 L468.5,118.66 L469.0,115.41 L469.5,112.20 L470.0,109.10 L470.5,105.84 L471.0,102.26 L471.5,98.57 L472.0,94.94 L472.5,91.63 L473.0,88.84 L473.5,86.99 L474.0,86.63 L474.5,87.88 L475.0,91.27 L475.5,95.79 L476.0,100.29 L476.5,104.39 L477.0,108.51 L477.5,112.79 L478.0,117.25 L478.5,121.74 L479.0,126.13 L479.5,130.29 L480.0,134.10 L480.5,137.66 L481.0,141.17 L481.5,144.54 L482.0,147.69 L482.5,150.57 L483.0,153.15 L483.5,155.33 L484.0,157.13 L484.5,158.52 L485.0,159.51 L485.5,160.22 L486.0,160.70 L486.5,161.06 L487.0,161.38 L487.5,161.70 L488.0,162.01 L488.5,162.26 L489.0,162.46 L489.5,162.62 L490.0,162.76 L490.5,162.86 L491.0,162.94 L491.5,162.99 L492.0,163.03 L492.5,163.04 L493.0,163.00 L493.5,162.88 L494.0,162.70 L494.5,162.48 L495.0,162.27 L495.5,162.11 L496.0,162.03 L496.5,162.01 L497.0,162.05 L497.5,162.12 L498.0,162.20 L498.5,162.30 L499.0,162.41 L499.5,162.53 L500.0,162.65 L500.5,162.77 L501.0,162.89 L501.3,162.95" fill="none" stroke="#3d6f5e" stroke-width="1.10" stroke-linejoin="round"/>
<path d="M382.5,175.00 L383.0,173.06 L383.5,171.23 L384.0,169.76 L384.5,168.75 L385.0,168.18 L385.5,167.82 L386.0,167.58 L386.5,167.37 L387.0,167.15 L387.5,166.85 L388.0,166.47 L388.5,165.98 L389.0,165.39 L389.5,164.73 L390.0,164.05 L390.5,163.35 L391.0,162.65 L391.5,161.96 L392.0,161.31 L392.5,160.71 L393.0,160.20 L393.5,159.96 L394.0,160.18 L394.5,161.08 L395.0,161.77 L395.5,161.54 L396.0,160.80 L396.5,159.79 L397.0,158.65 L397.5,157.44 L398.0,156.14 L398.5,154.77 L399.0,153.32 L399.5,151.80 L400.0,150.18 L400.5,148.43 L401.0,146.49 L401.5,144.34 L402.0,141.96 L402.5,139.33 L403.0,136.45 L403.5,133.36 L404.0,130.06 L404.5,126.49 L405.0,122.46 L405.5,117.87 L406.0,112.93 L406.5,108.00 L407.0,103.08 L407.5,97.98 L408.0,92.78 L408.5,87.60 L409.0,82.12 L409.5,76.43 L410.0,71.13 L410.5,66.78 L411.0,63.76 L411.5,61.90 L412.0,60.69 L412.5,59.83 L413.0,59.04 L413.5,58.55 L414.0,58.36 L414.5,58.39 L415.0,58.54 L415.5,58.79 L416.0,59.12 L416.5,59.51 L417.0,59.95 L417.5,60.41 L418.0,60.89 L418.5,61.40 L419.0,61.92 L419.5,62.45 L420.0,63.04 L420.5,63.74 L421.0,64.60 L421.5,65.68 L422.0,66.93 L422.5,68.46 L423.0,70.29 L423.5,72.51 L424.0,75.27 L424.5,78.48 L425.0,81.73 L425.5,84.70 L426.0,87.55 L426.5,90.46 L427.0,93.25 L427.5,95.80 L428.0,97.94 L428.5,99.30 L429.0,99.94 L429.5,99.81 L430.0,98.91 L430.5,97.50 L431.0,95.33 L431.5,92.42 L432.0,88.96 L432.5,85.41 L433.0,81.84 L433.5,78.11 L434.0,74.29 L434.5,70.41 L435.0,66.51 L435.5,62.53 L436.0,57.85 L436.5,52.60 L437.0,47.55 L437.5,43.32 L438.0,40.37 L438.5,39.00 L439.0,39.35 L439.5,40.67 L440.0,42.80 L440.5,45.41 L441.0,48.33 L441.5,51.43 L442.0,54.54 L442.5,57.50 L443.0,60.64 L443.5,64.19 L444.0,67.99 L444.5,71.86 L445.0,75.58 L445.5,78.94 L446.0,81.56 L446.5,82.85 L447.0,82.73 L447.5,81.15 L448.0,78.58 L448.5,75.98 L449.0,74.19 L449.5,72.38 L450.0,70.94 L450.5,70.50 L451.0,70.72 L451.5,71.21 L452.0,72.25 L452.5,73.90 L453.0,76.25 L453.5,79.56 L454.0,83.45 L454.5,87.71 L455.0,92.11 L455.5,96.48 L456.0,100.59 L456.5,104.33 L457.0,108.02 L457.5,111.50 L458.0,114.43 L458.5,116.59 L459.0,118.18 L459.5,119.21 L460.0,119.90 L460.5,120.43 L461.0,120.86 L461.5,121.29 L462.0,121.80 L462.5,122.50 L463.0,123.51 L463.5,124.71 L464.0,126.04 L464.5,127.44 L465.0,128.75 L465.5,131.37 L466.0,131.87 L466.5,130.19 L467.0,127.65 L467.5,124.86 L468.0,121.92 L468.5,118.91 L469.0,115.90 L469.5,112.91 L470.0,110.00 L470.5,106.92 L471.0,103.57 L471.5,100.12 L472.0,96.73 L472.5,93.62 L473.0,90.99 L473.5,89.22 L474.0,88.89 L474.5,90.19 L475.0,93.74 L475.5,98.44 L476.0,102.95 L476.5,106.91 L477.0,110.92 L477.5,115.09 L478.0,119.29 L478.5,123.46 L479.0,127.51 L479.5,131.39 L480.0,135.00 L480.5,138.39 L481.0,141.71 L481.5,144.91 L482.0,147.91 L482.5,150.68 L483.0,153.18 L483.5,155.30 L484.0,157.05 L484.5,158.39 L485.0,159.31 L485.5,159.95 L486.0,160.36 L486.5,160.66 L487.0,160.93 L487.5,161.25 L488.0,161.56 L488.5,161.80 L489.0,162.00 L489.5,162.15 L490.0,162.26 L490.5,162.35 L491.0,162.42 L491.5,162.46 L492.0,162.49 L492.5,162.50 L493.0,162.45 L493.5,162.30 L494.0,162.07 L494.5,161.81 L495.0,161.55 L495.5,161.37 L496.0,161.27 L496.5,161.26 L497.0,161.32 L497.5,161.41 L498.0,161.53 L498.5,161.66 L499.0,161.80 L499.5,161.95 L500.0,162.11 L500.5,162.27 L501.0,162.43 L501.3,162.50" fill="none" stroke="#7a4886" stroke-width="1.10" stroke-linejoin="round"/>
<path d="M53.3,370.49 L53.8,370.05 L54.3,369.63 L54.8,369.21 L55.3,368.77 L55.8,368.32 L56.3,367.84 L56.8,367.32 L57.3,366.75 L57.8,366.13 L58.3,365.44 L58.8,364.73 L59.3,364.00 L59.8,363.22 L60.3,362.42 L60.8,361.58 L61.3,360.70 L61.8,359.76 L62.3,358.76 L62.8,357.67 L63.3,356.45 L63.8,355.08 L64.3,353.60 L64.8,352.03 L65.3,350.40 L65.8,348.77 L66.3,347.22 L66.8,345.69 L67.3,344.10 L67.8,342.53 L68.3,341.11 L68.8,339.94 L69.3,339.08 L69.8,338.46 L70.3,337.87 L70.8,337.11 L71.3,336.10 L71.8,335.00 L72.3,333.80 L72.8,332.36 L73.3,330.52 L73.8,328.10 L74.3,325.10 L74.8,321.57 L75.3,317.78 L75.8,313.93 L76.3,310.10 L76.8,306.15 L77.3,302.09 L77.8,297.99 L78.3,293.91 L78.8,289.86 L79.3,285.78 L79.8,281.70 L80.3,277.66 L80.8,273.70 L81.3,269.62 L81.8,265.43 L82.3,261.47 L82.8,257.94 L83.3,255.09 L83.8,252.59 L84.3,250.36 L84.8,248.50 L85.3,247.05 L85.8,246.17 L86.3,245.90 L86.8,246.16 L87.3,246.91 L87.8,247.99 L88.3,249.37 L88.8,251.09 L89.3,253.10 L89.8,255.74 L90.3,259.09 L90.8,263.05 L91.3,267.28 L91.8,271.42 L92.3,275.67 L92.8,280.14 L93.3,284.65 L93.8,288.94 L94.3,292.96 L94.8,296.82 L95.3,300.51 L95.8,303.96 L96.3,307.10 L96.8,310.05 L97.3,313.05 L97.8,316.03 L98.3,318.88 L98.8,321.46 L99.3,323.69 L99.8,325.46 L100.3,326.53 L100.8,326.89 L101.3,326.64 L101.8,325.94 L102.3,324.90 L102.8,323.71 L103.3,322.52 L103.8,321.47 L104.3,320.34 L104.8,318.97 L105.3,317.47 L105.8,316.00 L106.3,314.69 L106.8,313.74 L107.3,313.23 L107.8,313.27 L108.3,313.83 L108.8,314.70 L109.3,315.77 L109.8,316.98 L110.3,318.19 L110.8,319.30 L111.3,320.20 L111.8,321.31 L112.3,322.53 L112.8,323.13 L113.3,322.56 L113.8,321.17 L114.3,319.13 L114.8,316.72 L115.3,314.07 L115.8,311.26 L116.3,308.32 L116.8,305.30 L117.3,302.14 L117.8,298.56 L118.3,294.50 L118.8,290.33 L119.3,286.68 L119.8,283.62 L120.3,280.77 L120.8,278.22 L121.3,276.18 L121.8,275.07 L122.3,274.92 L122.8,275.74 L123.3,277.40 L123.8,279.87 L124.3,283.07 L124.8,287.18 L125.3,292.56 L125.8,298.51 L126.3,304.51 L126.8,310.02 L127.3,315.24 L127.8,320.47 L128.3,325.29 L128.8,329.25 L129.3,332.51 L129.8,335.21 L130.3,337.53 L130.8,339.61 L131.3,341.49 L131.8,343.22 L132.3,344.85 L132.8,346.40 L133.3,347.91 L133.8,349.35 L134.3,350.73 L134.8,352.03 L135.3,353.24 L135.8,354.36 L136.3,355.38 L136.8,356.30 L137.3,357.10 L137.8,357.80 L138.3,358.36 L138.8,358.82 L139.3,359.17 L139.8,359.47 L140.3,359.71 L140.8,359.92 L141.3,360.11 L141.8,360.30 L142.3,360.49 L142.8,360.69 L143.3,360.93 L143.8,361.22 L144.3,361.54 L144.8,361.88 L145.3,362.22 L145.8,362.57 L146.3,362.92 L146.8,363.27 L147.3,363.63 L147.8,363.98 L148.3,364.34 L148.8,364.68 L149.3,365.03 L149.8,365.36 L150.3,365.70 L150.8,366.04 L151.3,366.39 L151.8,366.75 L152.3,367.10 L152.8,367.44 L153.3,367.78 L153.8,368.10 L154.3,368.40 L154.8,368.67 L155.3,368.92 L155.8,369.14 L156.3,369.32 L156.8,369.46 L157.3,369.57 L157.8,369.65 L158.3,369.71 L158.8,369.75 L159.3,369.78 L159.8,369.81 L160.3,369.84 L160.8,369.87 L161.3,369.92 L161.8,369.99 L162.3,370.09 L162.8,370.21 L163.3,370.36 L163.8,370.52 L164.3,370.69 L164.8,370.84 L165.3,370.98 L165.8,371.08 L166.3,371.12 L166.8,371.10 L167.3,370.96 L167.8,370.72 L168.3,370.39 L168.8,369.99 L169.3,369.56 L169.8,369.13 L170.3,368.76 L170.8,368.47 L171.3,368.21 L171.8,367.99 L172.3,367.77 L172.8,367.56" fill="none" stroke="#cdcdcd" stroke-width="1.10" stroke-linejoin="round"/>
<path d="M53.3,371.04 L53.3,370.57 L53.6,370.13 L54.1,369.69 L54.6,369.23 L55.1,368.75 L55.6,368.25 L56.1,367.71 L56.6,367.12 L57.1,366.48 L57.6,365.78 L58.1,365.04 L58.6,364.28 L59.1,363.49 L59.6,362.67 L60.1,361.81 L60.6,360.92 L61.1,359.97 L61.6,358.98 L62.1,357.90 L62.6,356.71 L63.1,355.40 L63.6,353.99 L64.1,352.49 L64.6,350.95 L65.1,349.39 L65.6,347.89 L66.1,346.38 L66.6,344.79 L67.1,343.20 L67.6,341.75 L68.1,340.56 L68.6,339.71 L69.1,339.08 L69.6,338.49 L70.1,337.71 L70.6,336.65 L71.1,335.47 L71.6,334.15 L72.1,332.60 L72.6,330.67 L73.1,328.18 L73.6,325.14 L74.1,321.59 L74.6,317.80 L75.1,313.93 L75.6,310.10 L76.1,306.14 L76.6,302.09 L77.1,297.99 L77.6,293.91 L78.1,289.86 L78.6,285.78 L79.1,281.70 L79.6,277.66 L80.1,273.70 L80.6,269.62 L81.1,265.43 L81.6,261.47 L82.1,257.94 L82.6,255.09 L83.1,252.59 L83.6,250.36 L84.1,248.50 L84.6,247.05 L85.1,246.17 L85.6,245.90 L86.1,246.16 L86.6,246.89 L87.1,247.97 L87.6,249.35 L88.1,251.07 L88.6,253.10 L89.1,255.78 L89.6,259.19 L90.1,263.22 L90.6,267.54 L91.1,271.76 L91.6,276.09 L92.1,280.65 L92.6,285.24 L93.1,289.65 L93.6,293.79 L94.1,297.83 L94.6,301.71 L95.1,305.35 L95.6,308.63 L96.1,311.69 L96.6,314.75 L97.1,317.78 L97.6,320.67 L98.1,323.29 L98.6,325.54 L99.1,327.34 L99.6,328.44 L100.1,328.80 L100.6,328.55 L101.1,327.85 L101.6,326.79 L102.1,325.60 L102.6,324.42 L103.1,323.39 L103.6,322.32 L104.1,321.02 L104.6,319.61 L105.1,318.24 L105.6,317.01 L106.1,316.12 L106.6,315.65 L107.1,315.70 L107.6,316.23 L108.1,317.06 L108.6,318.09 L109.1,319.24 L109.6,320.40 L110.1,321.45 L110.6,322.31 L111.1,323.38 L111.6,324.56 L112.1,325.13 L112.6,324.55 L113.1,323.14 L113.6,321.10 L114.1,318.69 L114.6,316.05 L115.1,313.24 L115.6,310.29 L116.1,307.25 L116.6,304.04 L117.1,300.37 L117.6,296.17 L118.1,291.85 L118.6,288.05 L119.1,284.88 L119.6,281.91 L120.1,279.25 L120.6,277.12 L121.1,275.94 L121.6,275.76 L122.1,276.59 L122.6,278.28 L123.1,280.79 L123.6,284.03 L124.1,288.18 L124.6,293.60 L125.1,299.59 L125.6,305.62 L126.1,311.15 L126.6,316.36 L127.1,321.59 L127.6,326.39 L128.1,330.34 L128.6,333.58 L129.1,336.27 L129.6,338.59 L130.1,340.65 L130.6,342.53 L131.1,344.24 L131.6,345.84 L132.1,347.36 L132.6,348.82 L133.1,350.20 L133.6,351.51 L134.1,352.74 L134.6,353.87 L135.1,354.92 L135.6,355.88 L136.1,356.74 L136.6,357.50 L137.1,358.17 L137.6,358.72 L138.1,359.16 L138.6,359.52 L139.1,359.82 L139.6,360.07 L140.1,360.29 L140.6,360.49 L141.1,360.68 L141.6,360.88 L142.1,361.10 L142.6,361.34 L143.1,361.62 L143.6,361.93 L144.1,362.26 L144.6,362.58 L145.1,362.91 L145.6,363.25 L146.1,363.58 L146.6,363.92 L147.1,364.25 L147.6,364.58 L148.1,364.91 L148.6,365.24 L149.1,365.56 L149.6,365.89 L150.1,366.22 L150.6,366.57 L151.1,366.92 L151.6,367.26 L152.1,367.60 L152.6,367.93 L153.1,368.25 L153.6,368.54 L154.1,368.81 L154.6,369.04 L155.1,369.24 L155.6,369.40 L156.1,369.51 L156.6,369.59 L157.1,369.64 L157.6,369.66 L158.1,369.67 L158.6,369.66 L159.1,369.65 L159.6,369.65 L160.1,369.65 L160.6,369.67 L161.1,369.72 L161.6,369.80 L162.1,369.93 L162.6,370.08 L163.1,370.25 L163.6,370.42 L164.1,370.59 L164.6,370.74 L165.1,370.85 L165.6,370.90 L166.1,370.87 L166.6,370.72 L167.1,370.46 L167.6,370.10 L168.1,369.68 L168.6,369.21 L169.1,368.74 L169.6,368.32 L170.1,367.97 L170.6,367.66 L171.1,367.35 L171.6,367.06 L172.8,366.76" fill="none" stroke="#e9a13a" stroke-width="1.10" stroke-linejoin="round"/>
<path d="M53.3,371.26 L53.6,370.79 L54.1,370.33 L54.6,369.88 L55.1,369.41 L55.6,368.92 L56.1,368.41 L56.6,367.86 L57.1,367.27 L57.6,366.62 L58.1,365.91 L58.6,365.17 L59.1,364.40 L59.6,363.60 L60.1,362.77 L60.6,361.90 L61.1,361.00 L61.6,360.06 L62.1,359.06 L62.6,357.99 L63.1,356.82 L63.6,355.53 L64.1,354.14 L64.6,352.68 L65.1,351.17 L65.6,349.64 L66.1,348.16 L66.6,346.66 L67.1,345.07 L67.6,343.47 L68.1,342.00 L68.6,340.81 L69.1,339.96 L69.6,339.33 L70.1,338.74 L70.6,337.95 L71.1,336.86 L71.6,335.65 L72.1,334.29 L72.6,332.69 L73.1,330.72 L73.6,328.21 L74.1,325.16 L74.6,321.60 L75.1,317.80 L75.6,313.93 L76.1,310.10 L76.6,306.14 L77.1,302.09 L77.6,297.99 L78.1,293.91 L78.6,289.86 L79.1,285.78 L79.6,281.70 L80.1,277.66 L80.6,273.70 L81.1,269.62 L81.6,265.43 L82.1,261.47 L82.6,257.94 L83.1,255.09 L83.6,252.59 L84.1,250.36 L84.6,248.50 L85.1,247.05 L85.6,246.17 L86.1,245.90 L86.6,246.15 L87.1,246.89 L87.6,247.96 L88.1,249.34 L88.6,251.07 L89.1,253.10 L89.6,255.80 L90.1,259.23 L90.6,263.29 L91.1,267.64 L91.6,271.89 L92.1,276.26 L92.6,280.85 L93.1,285.48 L93.6,289.93 L94.1,294.13 L94.6,298.23 L95.1,302.19 L95.6,305.91 L96.1,309.24 L96.6,312.34 L97.1,315.43 L97.6,318.49 L98.1,321.39 L98.6,324.02 L99.1,326.29 L99.6,328.10 L100.1,329.20 L100.6,329.56 L101.1,329.32 L101.6,328.61 L102.1,327.55 L102.6,326.36 L103.1,325.18 L103.6,324.16 L104.1,323.11 L104.6,321.84 L105.1,320.47 L105.6,319.13 L106.1,317.94 L106.6,317.07 L107.1,316.62 L107.6,316.67 L108.1,317.20 L108.6,318.01 L109.1,319.02 L109.6,320.15 L110.1,321.28 L110.6,322.31 L111.1,323.15 L111.6,324.21 L112.1,325.38 L112.6,325.93 L113.1,325.34 L113.6,323.93 L114.1,321.89 L114.6,319.48 L115.1,316.84 L115.6,314.03 L116.1,311.08 L116.6,308.03 L117.1,304.80 L117.6,301.09 L118.1,296.84 L118.6,292.45 L119.1,288.60 L119.6,285.38 L120.1,282.37 L120.6,279.66 L121.1,277.49 L121.6,276.29 L122.1,276.09 L122.6,276.93 L123.1,278.63 L123.6,281.16 L124.1,284.42 L124.6,288.58 L125.1,294.01 L125.6,300.02 L126.1,306.06 L126.6,311.60 L127.1,316.82 L127.6,322.04 L128.1,326.83 L128.6,330.77 L129.1,334.01 L129.6,336.69 L130.1,339.01 L130.6,341.07 L131.1,342.94 L131.6,344.64 L132.1,346.24 L132.6,347.74 L133.1,349.18 L133.6,350.54 L134.1,351.82 L134.6,353.02 L135.1,354.13 L135.6,355.14 L136.1,356.08 L136.6,356.92 L137.1,357.66 L137.6,358.32 L138.1,358.86 L138.6,359.30 L139.1,359.66 L139.6,359.96 L140.1,360.21 L140.6,360.44 L141.1,360.64 L141.6,360.84 L142.1,361.04 L142.6,361.26 L143.1,361.50 L143.6,361.78 L144.1,362.09 L144.6,362.41 L145.1,362.73 L145.6,363.05 L146.1,363.38 L146.6,363.70 L147.1,364.03 L147.6,364.36 L148.1,364.68 L148.6,365.01 L149.1,365.33 L149.6,365.64 L150.1,365.96 L150.6,366.30 L151.1,366.64 L151.6,366.98 L152.1,367.33 L152.6,367.67 L153.1,368.00 L153.6,368.31 L154.1,368.60 L154.6,368.86 L155.1,369.09 L155.6,369.28 L156.1,369.43 L156.6,369.53 L157.1,369.60 L157.6,369.63 L158.1,369.64 L158.6,369.63 L159.1,369.61 L159.6,369.59 L160.1,369.57 L160.6,369.56 L161.1,369.57 L161.6,369.61 L162.1,369.69 L162.6,369.81 L163.1,369.96 L163.6,370.14 L164.1,370.32 L164.6,370.49 L165.1,370.65 L165.6,370.76 L166.1,370.81 L166.6,370.78 L167.1,370.62 L167.6,370.35 L168.1,369.99 L168.6,369.55 L169.1,369.07 L169.6,368.58 L170.1,368.14 L170.6,367.78 L171.1,367.43 L171.6,367.10 L172.1,366.77 L172.8,366.44" fill="none" stroke="#62a94f" stroke-width="1.10" stroke-linejoin="round"/>
<path d="M53.6,371.48 L54.1,371.00 L54.6,370.53 L55.1,370.07 L55.6,369.59 L56.1,369.10 L56.6,368.57 L57.1,368.02 L57.6,367.42 L58.1,366.76 L58.6,366.04 L59.1,365.29 L59.6,364.51 L60.1,363.71 L60.6,362.87 L61.1,362.00 L61.6,361.09 L62.1,360.14 L62.6,359.15 L63.1,358.08 L63.6,356.92 L64.1,355.66 L64.6,354.30 L65.1,352.87 L65.6,351.39 L66.1,349.89 L66.6,348.43 L67.1,346.94 L67.6,345.34 L68.1,343.74 L68.6,342.26 L69.1,341.06 L69.6,340.21 L70.1,339.58 L70.6,338.99 L71.1,338.19 L71.6,337.08 L72.1,335.83 L72.6,334.43 L73.1,332.79 L73.6,330.78 L74.1,328.24 L74.6,325.17 L75.1,321.60 L75.6,317.80 L76.1,313.93 L76.6,310.10 L77.1,306.14 L77.6,302.08 L78.1,297.99 L78.6,293.91 L79.1,289.86 L79.6,285.78 L80.1,281.70 L80.6,277.66 L81.1,273.70 L81.6,269.62 L82.1,265.43 L82.6,261.47 L83.1,257.94 L83.6,255.09 L84.1,252.59 L84.6,250.36 L85.1,248.50 L85.6,247.05 L86.1,246.17 L86.6,245.90 L87.1,246.15 L87.6,246.88 L88.1,247.95 L88.6,249.33 L89.1,251.06 L89.6,253.10 L90.1,255.81 L90.6,259.27 L91.1,263.36 L91.6,267.74 L92.1,272.03 L92.6,276.43 L93.1,281.05 L93.6,285.72 L94.1,290.21 L94.6,294.46 L95.1,298.63 L95.6,302.68 L96.1,306.46 L96.6,309.85 L97.1,312.99 L97.6,316.11 L98.1,319.19 L98.6,322.11 L99.1,324.75 L99.6,327.03 L100.1,328.85 L100.6,329.96 L101.1,330.33 L101.6,330.08 L102.1,329.37 L102.6,328.31 L103.1,327.12 L103.6,325.94 L104.1,324.93 L104.6,323.90 L105.1,322.67 L105.6,321.33 L106.1,320.02 L106.6,318.86 L107.1,318.03 L107.6,317.59 L108.1,317.64 L108.6,318.16 L109.1,318.96 L109.6,319.95 L110.1,321.05 L110.6,322.16 L111.1,323.17 L111.6,323.99 L112.1,325.04 L112.6,326.19 L113.1,326.74 L113.6,326.13 L114.1,324.72 L114.6,322.67 L115.1,320.27 L115.6,317.63 L116.1,314.82 L116.6,311.87 L117.1,308.81 L117.6,305.55 L118.1,301.81 L118.6,297.50 L119.1,293.06 L119.6,289.15 L120.1,285.89 L120.6,282.82 L121.1,280.07 L121.6,277.87 L122.1,276.63 L122.6,276.43 L123.1,277.27 L123.6,278.99 L124.1,281.53 L124.6,284.81 L125.1,288.98 L125.6,294.43 L126.1,300.45 L126.6,306.50 L127.1,312.05 L127.6,317.27 L128.1,322.49 L128.6,327.28 L129.1,331.21 L129.6,334.44 L130.1,337.12 L130.6,339.43 L131.1,341.49 L131.6,343.36 L132.1,345.05 L132.6,346.63 L133.1,348.13 L133.6,349.55 L134.1,350.88 L134.6,352.13 L135.1,353.30 L135.6,354.38 L136.1,355.37 L136.6,356.28 L137.1,357.10 L137.6,357.82 L138.1,358.47 L138.6,359.00 L139.1,359.44 L139.6,359.80 L140.1,360.10 L140.6,360.36 L141.1,360.58 L141.6,360.79 L142.1,360.99 L142.6,361.20 L143.1,361.42 L143.6,361.66 L144.1,361.94 L144.6,362.25 L145.1,362.56 L145.6,362.87 L146.1,363.19 L146.6,363.51 L147.1,363.83 L147.6,364.15 L148.1,364.47 L148.6,364.78 L149.1,365.10 L149.6,365.41 L150.1,365.72 L150.6,366.04 L151.1,366.37 L151.6,366.71 L152.1,367.05 L152.6,367.40 L153.1,367.73 L153.6,368.06 L154.1,368.37 L154.6,368.65 L155.1,368.91 L155.6,369.14 L156.1,369.33 L156.6,369.47 L157.1,369.56 L157.6,369.61 L158.1,369.63 L158.6,369.62 L159.1,369.60 L159.6,369.57 L160.1,369.53 L160.6,369.49 L161.1,369.47 L161.6,369.47 L162.1,369.50 L162.6,369.58 L163.1,369.70 L163.6,369.85 L164.1,370.03 L164.6,370.21 L165.1,370.39 L165.6,370.55 L166.1,370.67 L166.6,370.72 L167.1,370.69 L167.6,370.53 L168.1,370.25 L168.6,369.87 L169.1,369.42 L169.6,368.92 L170.1,368.42 L170.6,367.96 L171.1,367.58 L171.6,367.21 L172.1,366.84 L172.6,366.48 L172.8,366.12" fill="none" stroke="#3d6f5e" stroke-width="1.10" stroke-linejoin="round"/>
<path d="M53.3,369.50 L53.3,369.10 L53.8,368.72 L54.3,368.35 L54.8,367.95 L55.3,367.54 L55.8,367.10 L56.3,366.62 L56.8,366.09 L57.3,365.50 L57.8,364.85 L58.3,364.18 L58.8,363.48 L59.3,362.74 L59.8,361.98 L60.3,361.17 L60.8,360.31 L61.3,359.38 L61.8,358.37 L62.3,357.25 L62.8,355.97 L63.3,354.51 L63.8,352.90 L64.3,351.18 L64.8,349.41 L65.3,347.65 L65.8,346.00 L66.3,344.44 L66.8,342.86 L67.3,341.33 L67.8,339.95 L68.3,338.81 L68.8,337.96 L69.3,337.33 L69.8,336.75 L70.3,336.03 L70.8,335.11 L71.3,334.17 L71.8,333.16 L72.3,331.92 L72.8,330.26 L73.3,327.96 L73.8,325.02 L74.3,321.53 L74.8,317.77 L75.3,313.92 L75.8,310.11 L76.3,306.16 L76.8,302.10 L77.3,298.00 L77.8,293.91 L78.3,289.86 L78.8,285.78 L79.3,281.70 L79.8,277.66 L80.3,273.70 L80.8,269.62 L81.3,265.43 L81.8,261.47 L82.3,257.94 L82.8,255.09 L83.3,252.59 L83.8,250.36 L84.3,248.50 L84.8,247.05 L85.3,246.17 L85.8,245.90 L86.3,246.17 L86.8,246.93 L87.3,248.03 L87.8,249.42 L88.3,251.13 L88.8,253.10 L89.3,255.67 L89.8,258.91 L90.3,262.73 L90.8,266.81 L91.3,270.80 L91.8,274.91 L92.3,279.24 L92.8,283.58 L93.3,287.68 L93.8,291.45 L94.3,295.00 L94.8,298.34 L95.3,301.46 L95.8,304.34 L96.3,307.11 L96.8,309.98 L97.3,312.87 L97.8,315.64 L98.3,318.17 L98.8,320.34 L99.3,322.07 L99.8,323.11 L100.3,323.44 L100.8,323.20 L101.3,322.52 L101.8,321.49 L102.3,320.30 L102.8,319.10 L103.3,318.00 L103.8,316.78 L104.3,315.28 L104.8,313.62 L105.3,311.98 L105.8,310.52 L106.3,309.45 L106.8,308.88 L107.3,308.91 L107.8,309.50 L108.3,310.44 L108.8,311.60 L109.3,312.91 L109.8,314.23 L110.3,315.43 L110.8,316.40 L111.3,317.58 L111.8,318.87 L112.3,319.52 L112.8,319.00 L113.3,317.63 L113.8,315.59 L114.3,313.16 L114.8,310.51 L115.3,307.69 L115.8,304.77 L116.3,301.79 L116.8,298.73 L117.3,295.32 L117.8,291.49 L118.3,287.60 L118.8,284.20 L119.3,281.36 L119.8,278.71 L120.3,276.36 L120.8,274.49 L121.3,273.50 L121.8,273.41 L122.3,274.22 L122.8,275.81 L123.3,278.20 L123.8,281.32 L124.3,285.38 L124.8,290.69 L125.3,296.58 L125.8,302.52 L126.3,308.00 L126.8,313.21 L127.3,318.46 L127.8,323.30 L128.3,327.29 L128.8,330.58 L129.3,333.29 L129.8,335.63 L130.3,337.72 L130.8,339.63 L131.3,341.39 L131.8,343.06 L132.3,344.68 L132.8,346.27 L133.3,347.82 L133.8,349.33 L134.3,350.76 L134.8,352.11 L135.3,353.35 L135.8,354.49 L136.3,355.50 L136.8,356.38 L137.3,357.13 L137.8,357.73 L138.3,358.19 L138.8,358.55 L139.3,358.84 L139.8,359.07 L140.3,359.26 L140.8,359.43 L141.3,359.60 L141.8,359.77 L142.3,359.97 L142.8,360.21 L143.3,360.50 L143.8,360.84 L144.3,361.20 L144.8,361.56 L145.3,361.94 L145.8,362.33 L146.3,362.72 L146.8,363.11 L147.3,363.50 L147.8,363.89 L148.3,364.27 L148.8,364.64 L149.3,365.00 L149.8,365.36 L150.3,365.72 L150.8,366.08 L151.3,366.44 L151.8,366.80 L152.3,367.15 L152.8,367.49 L153.3,367.82 L153.8,368.14 L154.3,368.43 L154.8,368.71 L155.3,368.95 L155.8,369.17 L156.3,369.36 L156.8,369.52 L157.3,369.66 L157.8,369.79 L158.3,369.90 L158.8,370.00 L159.3,370.10 L159.8,370.19 L160.3,370.28 L160.8,370.37 L161.3,370.48 L161.8,370.60 L162.3,370.73 L162.8,370.88 L163.3,371.02 L163.8,371.16 L164.3,371.29 L164.8,371.40 L165.3,371.49 L165.8,371.52 L166.3,371.50 L166.8,371.39 L167.3,371.18 L167.8,370.90 L168.3,370.56 L168.8,370.19 L169.3,369.84 L169.8,369.55 L170.3,369.36 L170.8,369.22 L171.3,369.13 L171.8,369.07 L172.8,369.00" fill="none" stroke="#b6304a" stroke-width="1.10" stroke-linejoin="round"/>
<path d="M53.8,371.70 L54.3,371.21 L54.8,370.74 L55.3,370.26 L55.8,369.77 L56.3,369.27 L56.8,368.74 L57.3,368.17 L57.8,367.57 L58.3,366.90 L58.8,366.17 L59.3,365.42 L59.8,364.63 L60.3,363.81 L60.8,362.96 L61.3,362.09 L61.8,361.18 L62.3,360.23 L62.8,359.23 L63.3,358.18 L63.8,357.03 L64.3,355.79 L64.8,354.46 L65.3,353.06 L65.8,351.61 L66.3,350.14 L66.8,348.70 L67.3,347.21 L67.8,345.62 L68.3,344.01 L68.8,342.52 L69.3,341.31 L69.8,340.45 L70.3,339.83 L70.8,339.24 L71.3,338.43 L71.8,337.30 L72.3,336.02 L72.8,334.57 L73.3,332.89 L73.8,330.84 L74.3,328.28 L74.8,325.19 L75.3,321.61 L75.8,317.81 L76.3,313.93 L76.8,310.09 L77.3,306.14 L77.8,302.08 L78.3,297.99 L78.8,293.91 L79.3,289.86 L79.8,285.78 L80.3,281.70 L80.8,277.66 L81.3,273.70 L81.8,269.62 L82.3,265.43 L82.8,261.47 L83.3,257.94 L83.8,255.09 L84.3,252.59 L84.8,250.36 L85.3,248.50 L85.8,247.05 L86.3,246.17 L86.8,245.90 L87.3,246.15 L87.8,246.88 L88.3,247.94 L88.8,249.32 L89.3,251.05 L89.8,253.10 L90.3,255.83 L90.8,259.31 L91.3,263.43 L91.8,267.85 L92.3,272.17 L92.8,276.60 L93.3,281.25 L93.8,285.95 L94.3,290.49 L94.8,294.79 L95.3,299.04 L95.8,303.16 L96.3,307.02 L96.8,310.47 L97.3,313.65 L97.8,316.80 L98.3,319.89 L98.8,322.83 L99.3,325.49 L99.8,327.77 L100.3,329.60 L100.8,330.72 L101.3,331.10 L101.8,330.85 L102.3,330.13 L102.8,329.07 L103.3,327.87 L103.8,326.70 L104.3,325.70 L104.8,324.69 L105.3,323.49 L105.8,322.18 L106.3,320.91 L106.8,319.79 L107.3,318.98 L107.8,318.55 L108.3,318.61 L108.8,319.12 L109.3,319.90 L109.8,320.87 L110.3,321.96 L110.8,323.04 L111.3,324.03 L111.8,324.84 L112.3,325.86 L112.8,327.01 L113.3,327.54 L113.8,326.93 L114.3,325.51 L114.8,323.46 L115.3,321.06 L115.8,318.42 L116.3,315.61 L116.8,312.66 L117.3,309.59 L117.8,306.31 L118.3,302.53 L118.8,298.17 L119.3,293.67 L119.8,289.70 L120.3,286.39 L120.8,283.28 L121.3,280.49 L121.8,278.24 L122.3,276.98 L122.8,276.76 L123.3,277.61 L123.8,279.34 L124.3,281.91 L124.8,285.20 L125.3,289.38 L125.8,294.84 L126.3,300.88 L126.8,306.94 L127.3,312.50 L127.8,317.72 L128.3,322.94 L128.8,327.72 L129.3,331.64 L129.8,334.87 L130.3,337.54 L130.8,339.85 L131.3,341.91 L131.8,343.77 L132.3,345.46 L132.8,347.03 L133.3,348.51 L133.8,349.91 L134.3,351.22 L134.8,352.45 L135.3,353.58 L135.8,354.63 L136.3,355.59 L136.8,356.47 L137.3,357.27 L137.8,357.98 L138.3,358.61 L138.8,359.14 L139.3,359.58 L139.8,359.93 L140.3,360.24 L140.8,360.50 L141.3,360.73 L141.8,360.94 L142.3,361.15 L142.8,361.36 L143.3,361.58 L143.8,361.82 L144.3,362.10 L144.8,362.40 L145.3,362.71 L145.8,363.02 L146.3,363.33 L146.8,363.64 L147.3,363.95 L147.8,364.26 L148.3,364.57 L148.8,364.88 L149.3,365.19 L149.8,365.50 L150.3,365.80 L150.8,366.11 L151.3,366.44 L151.8,366.78 L152.3,367.12 L152.8,367.46 L153.3,367.80 L153.8,368.12 L154.3,368.43 L154.8,368.71 L155.3,368.97 L155.8,369.19 L156.3,369.37 L156.8,369.50 L157.3,369.58 L157.8,369.62 L158.3,369.63 L158.8,369.60 L159.3,369.57 L159.8,369.52 L160.3,369.46 L160.8,369.42 L161.3,369.38 L161.8,369.37 L162.3,369.39 L162.8,369.46 L163.3,369.58 L163.8,369.74 L164.3,369.91 L164.8,370.10 L165.3,370.29 L165.8,370.46 L166.3,370.58 L166.8,370.63 L167.3,370.60 L167.8,370.43 L168.3,370.15 L168.8,369.76 L169.3,369.30 L169.8,368.78 L170.3,368.26 L170.8,367.79 L171.3,367.38 L171.8,366.98 L172.3,366.59 L172.8,366.19 L172.8,365.80" fill="none" stroke="#7a4886" stroke-width="1.10" stroke-linejoin="round"/>
<path d="M85.9,241.0 V294.3" stroke="#1a1a1a" stroke-width="1.0" stroke-dasharray="1,1"/>
<path d="M122.6,263.6 V317.7" stroke="#1a1a1a" stroke-width="1.0" stroke-dasharray="1,1"/>
<path d="M215.7,373.97 L216.2,373.25 L216.7,372.51 L217.2,371.79 L217.7,371.09 L218.2,370.44 L218.7,369.84 L219.2,369.29 L219.7,368.78 L220.2,368.30 L220.7,367.84 L221.2,367.42 L221.7,367.02 L222.2,366.68 L222.7,366.39 L223.2,366.30 L223.7,366.56 L224.2,367.01 L224.7,367.33 L225.2,367.01 L225.7,365.92 L226.2,363.90 L226.7,361.37 L227.2,358.85 L227.7,356.71 L228.2,354.93 L228.7,353.33 L229.2,351.81 L229.7,350.34 L230.2,348.92 L230.7,347.56 L231.2,346.25 L231.7,344.98 L232.2,343.80 L232.7,342.78 L233.2,341.83 L233.7,340.92 L234.2,340.02 L234.7,339.08 L235.2,338.02 L235.7,336.79 L236.2,335.41 L236.7,333.96 L237.2,332.29 L237.7,330.11 L238.2,327.31 L238.7,323.83 L239.2,319.64 L239.7,315.00 L240.2,310.04 L240.7,304.95 L241.2,299.76 L241.7,294.23 L242.2,288.49 L242.7,282.74 L243.2,277.21 L243.7,272.01 L244.2,266.85 L244.7,261.81 L245.2,257.15 L245.7,253.03 L246.2,249.66 L246.7,246.75 L247.2,244.16 L247.7,242.00 L248.2,240.25 L248.7,238.95 L249.2,238.15 L249.7,238.02 L250.2,238.36 L250.7,239.10 L251.2,240.19 L251.7,241.54 L252.2,243.10 L252.7,244.90 L253.2,247.08 L253.7,249.74 L254.2,252.83 L254.7,256.16 L255.2,259.63 L255.7,263.34 L256.2,267.33 L256.7,271.50 L257.2,275.70 L257.7,279.82 L258.2,283.88 L258.7,287.96 L259.2,292.04 L259.7,296.05 L260.2,299.96 L260.7,303.84 L261.2,307.79 L261.7,311.65 L262.2,315.24 L262.7,318.33 L263.2,320.93 L263.7,323.11 L264.2,324.89 L264.7,326.25 L265.2,327.11 L265.7,327.38 L266.2,326.97 L266.7,325.94 L267.2,324.63 L267.7,323.27 L268.2,322.11 L268.7,320.88 L269.2,319.52 L269.7,318.32 L270.2,317.44 L270.7,316.89 L271.2,316.57 L271.7,316.34 L272.2,316.19 L272.7,316.11 L273.2,316.09 L273.7,316.15 L274.2,316.29 L274.7,316.52 L275.2,316.86 L275.7,317.49 L276.2,318.42 L276.7,319.55 L277.2,320.78 L277.7,322.00 L278.2,323.05 L278.7,323.78 L279.2,323.88 L279.7,323.33 L280.2,322.12 L280.7,320.08 L281.2,317.39 L281.7,314.31 L282.2,310.68 L282.7,306.52 L283.2,301.99 L283.7,297.31 L284.2,292.68 L284.7,287.69 L285.2,282.26 L285.7,277.55 L286.2,274.40 L286.7,272.26 L287.2,270.95 L287.7,270.31 L288.2,270.48 L288.7,271.31 L289.2,272.94 L289.7,275.53 L290.2,279.01 L290.7,283.72 L291.2,289.24 L291.7,295.16 L292.2,301.10 L292.7,306.70 L293.2,311.94 L293.7,317.16 L294.2,322.18 L294.7,326.66 L295.2,330.55 L295.7,333.92 L296.2,336.89 L296.7,339.50 L297.2,341.70 L297.7,343.64 L298.2,345.35 L298.7,346.92 L299.2,348.33 L299.7,349.64 L300.2,350.86 L300.7,352.01 L301.2,353.09 L301.7,354.11 L302.2,355.06 L302.7,355.94 L303.2,356.76 L303.7,357.48 L304.2,358.09 L304.7,358.59 L305.2,358.99 L305.7,359.30 L306.2,359.56 L306.7,359.78 L307.2,359.98 L307.7,360.18 L308.2,360.41 L308.7,360.67 L309.2,360.97 L309.7,361.25 L310.2,361.52 L310.7,361.78 L311.2,362.05 L311.7,362.31 L312.2,362.58 L312.7,362.87 L313.2,363.17 L313.7,363.50 L314.2,363.89 L314.7,364.34 L315.2,364.87 L315.7,365.45 L316.2,366.05 L316.7,366.62 L317.2,367.13 L317.7,367.52 L318.2,367.77 L318.7,367.88 L319.2,367.87 L319.7,367.77 L320.2,367.63 L320.7,367.48 L321.2,367.37 L321.7,367.34 L322.2,367.42 L322.7,367.64 L323.2,367.99 L323.7,368.40 L324.2,368.82 L324.7,369.20 L325.2,369.49 L325.7,369.65 L326.2,369.66 L326.7,369.53 L327.2,369.28 L327.7,368.97 L328.2,368.62 L328.7,368.25 L329.2,367.89 L329.7,367.55 L330.2,367.26 L330.7,367.05 L331.2,366.94 L331.7,366.92 L332.2,366.98 L332.7,367.09 L333.2,367.24 L333.7,367.40 L334.2,367.54 L334.7,367.66 L335.2,367.71 L335.7,367.69 L336.2,367.56 L336.7,367.35 L337.2,367.09 L337.7,366.78 L338.2,366.42 L338.7,366.05 L339.2,365.65 L339.7,365.23 L340.2,364.78 L340.7,364.29 L341.0,363.98" fill="none" stroke="#cdcdcd" stroke-width="1.10" stroke-linejoin="round"/>
<path d="M215.7,373.94 L215.7,373.17 L216.0,372.39 L216.5,371.61 L217.0,370.87 L217.5,370.17 L218.0,369.53 L218.5,368.95 L219.0,368.40 L219.5,367.88 L220.0,367.38 L220.5,366.92 L221.0,366.50 L221.5,366.13 L222.0,365.84 L222.5,365.77 L223.0,366.08 L223.5,366.60 L224.0,367.00 L224.5,366.76 L225.0,365.72 L225.5,363.76 L226.0,361.27 L226.5,358.79 L227.0,356.66 L227.5,354.88 L228.0,353.26 L228.5,351.71 L229.0,350.21 L229.5,348.77 L230.0,347.38 L230.5,346.04 L231.0,344.76 L231.5,343.58 L232.0,342.55 L232.5,341.61 L233.0,340.72 L233.5,339.83 L234.0,338.89 L234.5,337.84 L235.0,336.62 L235.5,335.23 L236.0,333.76 L236.5,332.06 L237.0,329.86 L237.5,327.05 L238.0,323.60 L238.5,319.44 L239.0,314.83 L239.5,309.91 L240.0,304.86 L240.5,299.70 L241.0,294.20 L241.5,288.47 L242.0,282.75 L242.5,277.24 L243.0,272.07 L243.5,266.95 L244.0,261.96 L244.5,257.34 L245.0,253.24 L245.5,249.89 L246.0,246.97 L246.5,244.37 L247.0,242.18 L247.5,240.41 L248.0,239.09 L248.5,238.28 L249.0,238.13 L249.5,238.48 L250.0,239.21 L250.5,240.31 L251.0,241.65 L251.5,243.20 L252.0,244.99 L252.5,247.15 L253.0,249.77 L253.5,252.82 L254.0,256.11 L254.5,259.55 L255.0,263.24 L255.5,267.21 L256.0,271.37 L256.5,275.56 L257.0,279.67 L257.5,283.71 L258.0,287.79 L258.5,291.85 L259.0,295.85 L259.5,299.74 L260.0,303.59 L260.5,307.49 L261.0,311.30 L261.5,314.84 L262.0,317.90 L262.5,320.46 L263.0,322.63 L263.5,324.40 L264.0,325.76 L264.5,326.62 L265.0,326.88 L265.5,326.46 L266.0,325.44 L266.5,324.12 L267.0,322.75 L267.5,321.55 L268.0,320.26 L268.5,318.80 L269.0,317.51 L269.5,316.55 L270.0,315.97 L270.5,315.63 L271.0,315.40 L271.5,315.26 L272.0,315.19 L272.5,315.18 L273.0,315.24 L273.5,315.38 L274.0,315.60 L274.5,315.91 L275.0,316.48 L275.5,317.34 L276.0,318.38 L276.5,319.51 L277.0,320.62 L277.5,321.57 L278.0,322.21 L278.5,322.24 L279.0,321.64 L279.5,320.40 L280.0,318.36 L280.5,315.69 L281.0,312.65 L281.5,309.10 L282.0,305.03 L282.5,300.63 L283.0,296.08 L283.5,291.58 L284.0,286.77 L284.5,281.57 L285.0,277.03 L285.5,273.91 L286.0,271.68 L286.5,270.21 L287.0,269.43 L287.5,269.53 L288.0,270.39 L288.5,272.10 L289.0,274.74 L289.5,278.19 L290.0,282.74 L290.5,288.05 L291.0,293.73 L291.5,299.45 L292.0,304.88 L292.5,310.03 L293.0,315.24 L293.5,320.28 L294.0,324.77 L294.5,328.64 L295.0,331.93 L295.5,334.82 L296.0,337.32 L296.5,339.41 L297.0,341.23 L297.5,342.82 L298.0,344.27 L298.5,345.54 L299.0,346.70 L299.5,347.76 L300.0,348.76 L300.5,349.69 L301.0,350.57 L301.5,351.40 L302.0,352.18 L302.5,352.92 L303.0,353.60 L303.5,354.21 L304.0,354.73 L304.5,355.18 L305.0,355.57 L305.5,355.91 L306.0,356.22 L306.5,356.51 L307.0,356.81 L307.5,357.11 L308.0,357.44 L308.5,357.78 L309.0,358.10 L309.5,358.41 L310.0,358.71 L310.5,359.00 L311.0,359.30 L311.5,359.60 L312.0,359.91 L312.5,360.24 L313.0,360.59 L313.5,360.99 L314.0,361.44 L314.5,361.95 L315.0,362.50 L315.5,363.07 L316.0,363.63 L316.5,364.16 L317.0,364.61 L317.5,365.00 L318.0,365.33 L318.5,365.60 L319.0,365.82 L319.5,365.99 L320.0,366.13 L320.5,366.25 L321.0,366.36 L321.5,366.46 L322.0,366.59 L322.5,366.75 L323.0,366.92 L323.5,367.08 L324.0,367.23 L324.5,367.35 L325.0,367.42 L325.5,367.41 L326.0,367.32 L326.5,367.16 L327.0,366.97 L327.5,366.75 L328.0,366.52 L328.5,366.29 L329.0,366.08 L329.5,365.89 L330.0,365.75 L330.5,365.66 L331.0,365.63 L331.5,365.65 L332.0,365.71 L332.5,365.78 L333.0,365.85 L333.5,365.92 L334.0,365.95 L334.5,365.95 L335.0,365.89 L335.5,365.76 L336.0,365.56 L336.5,365.32 L337.0,365.04 L337.5,364.73 L338.0,364.40 L338.5,364.04 L339.0,363.67 L339.5,363.25 L340.0,362.74 L341.0,362.38" fill="none" stroke="#e9a13a" stroke-width="1.10" stroke-linejoin="round"/>
<path d="M215.7,373.94 L216.0,373.14 L216.5,372.34 L217.0,371.54 L217.5,370.78 L218.0,370.07 L218.5,369.41 L219.0,368.81 L219.5,368.24 L220.0,367.71 L220.5,367.20 L221.0,366.72 L221.5,366.29 L222.0,365.91 L222.5,365.62 L223.0,365.56 L223.5,365.88 L224.0,366.43 L224.5,366.87 L225.0,366.66 L225.5,365.64 L226.0,363.70 L226.5,361.23 L227.0,358.76 L227.5,356.64 L228.0,354.86 L228.5,353.23 L229.0,351.67 L229.5,350.16 L230.0,348.71 L230.5,347.30 L231.0,345.96 L231.5,344.67 L232.0,343.48 L232.5,342.46 L233.0,341.52 L233.5,340.63 L234.0,339.75 L234.5,338.82 L235.0,337.77 L235.5,336.55 L236.0,335.15 L236.5,333.68 L237.0,331.97 L237.5,329.76 L238.0,326.95 L238.5,323.50 L239.0,319.36 L239.5,314.76 L240.0,309.86 L240.5,304.82 L241.0,299.68 L241.5,294.19 L242.0,288.47 L242.5,282.75 L243.0,277.26 L243.5,272.10 L244.0,266.99 L244.5,262.02 L245.0,257.41 L245.5,253.33 L246.0,249.98 L246.5,247.06 L247.0,244.45 L247.5,242.25 L248.0,240.47 L248.5,239.14 L249.0,238.32 L249.5,238.18 L250.0,238.52 L250.5,239.26 L251.0,240.36 L251.5,241.70 L252.0,243.25 L252.5,245.03 L253.0,247.17 L253.5,249.78 L254.0,252.81 L254.5,256.09 L255.0,259.52 L255.5,263.20 L256.0,267.17 L256.5,271.32 L257.0,275.51 L257.5,279.61 L258.0,283.65 L258.5,287.72 L259.0,291.78 L259.5,295.77 L260.0,299.65 L260.5,303.49 L261.0,307.37 L261.5,311.16 L262.0,314.68 L262.5,317.72 L263.0,320.28 L263.5,322.44 L264.0,324.21 L264.5,325.57 L265.0,326.42 L265.5,326.68 L266.0,326.26 L266.5,325.24 L267.0,323.91 L267.5,322.54 L268.0,321.33 L268.5,320.00 L269.0,318.51 L269.5,317.18 L270.0,316.20 L270.5,315.60 L271.0,315.25 L271.5,315.02 L272.0,314.88 L272.5,314.82 L273.0,314.82 L273.5,314.88 L274.0,315.02 L274.5,315.23 L275.0,315.53 L275.5,316.08 L276.0,316.91 L276.5,317.91 L277.0,319.00 L277.5,320.07 L278.0,320.98 L278.5,321.58 L279.0,321.59 L279.5,320.97 L280.0,319.71 L280.5,317.66 L281.0,315.00 L281.5,311.99 L282.0,308.46 L282.5,304.44 L283.0,300.08 L283.5,295.58 L284.0,291.14 L284.5,286.41 L285.0,281.29 L285.5,276.82 L286.0,273.72 L286.5,271.45 L287.0,269.92 L287.5,269.08 L288.0,269.15 L288.5,270.02 L289.0,271.76 L289.5,274.42 L290.0,277.86 L290.5,282.35 L291.0,287.57 L291.5,293.16 L292.0,298.79 L292.5,304.15 L293.0,309.27 L293.5,314.48 L294.0,319.52 L294.5,324.02 L295.0,327.87 L295.5,331.14 L296.0,333.99 L296.5,336.45 L297.0,338.50 L297.5,340.26 L298.0,341.81 L298.5,343.21 L299.0,344.42 L299.5,345.52 L300.0,346.52 L300.5,347.45 L301.0,348.33 L301.5,349.15 L302.0,349.93 L302.5,350.68 L303.0,351.38 L303.5,352.05 L304.0,352.66 L304.5,353.19 L305.0,353.66 L305.5,354.07 L306.0,354.45 L306.5,354.80 L307.0,355.13 L307.5,355.46 L308.0,355.79 L308.5,356.14 L309.0,356.50 L309.5,356.84 L310.0,357.17 L310.5,357.48 L311.0,357.79 L311.5,358.09 L312.0,358.40 L312.5,358.73 L313.0,359.06 L313.5,359.43 L314.0,359.83 L314.5,360.28 L315.0,360.78 L315.5,361.32 L316.0,361.88 L316.5,362.43 L317.0,362.97 L317.5,363.45 L318.0,363.89 L318.5,364.31 L319.0,364.69 L319.5,365.03 L320.0,365.34 L320.5,365.59 L321.0,365.80 L321.5,365.97 L322.0,366.08 L322.5,366.17 L323.0,366.25 L323.5,366.32 L324.0,366.38 L324.5,366.44 L325.0,366.49 L325.5,366.52 L326.0,366.51 L326.5,366.43 L327.0,366.31 L327.5,366.16 L328.0,366.00 L328.5,365.83 L329.0,365.66 L329.5,365.49 L330.0,365.35 L330.5,365.23 L331.0,365.15 L331.5,365.12 L332.0,365.12 L332.5,365.15 L333.0,365.19 L333.5,365.23 L334.0,365.26 L334.5,365.27 L335.0,365.25 L335.5,365.17 L336.0,365.03 L336.5,364.84 L337.0,364.61 L337.5,364.35 L338.0,364.05 L338.5,363.73 L339.0,363.40 L339.5,363.05 L340.0,362.63 L340.5,362.12 L341.0,361.74" fill="none" stroke="#62a94f" stroke-width="1.10" stroke-linejoin="round"/>
<path d="M216.0,373.91 L216.5,373.07 L217.0,372.21 L217.5,371.37 L218.0,370.56 L218.5,369.80 L219.0,369.10 L219.5,368.46 L220.0,367.86 L220.5,367.28 L221.0,366.73 L221.5,366.22 L222.0,365.76 L222.5,365.37 L223.0,365.07 L223.5,365.03 L224.0,365.40 L224.5,366.03 L225.0,366.55 L225.5,366.41 L226.0,365.45 L226.5,363.56 L227.0,361.14 L227.5,358.70 L228.0,356.59 L228.5,354.80 L229.0,353.16 L229.5,351.57 L230.0,350.04 L230.5,348.55 L231.0,347.12 L231.5,345.75 L232.0,344.45 L232.5,343.26 L233.0,342.23 L233.5,341.30 L234.0,340.42 L234.5,339.55 L235.0,338.63 L235.5,337.59 L236.0,336.37 L236.5,334.97 L237.0,333.48 L237.5,331.74 L238.0,329.52 L238.5,326.70 L239.0,323.27 L239.5,319.15 L240.0,314.60 L240.5,309.74 L241.0,304.74 L241.5,299.62 L242.0,294.15 L242.5,288.46 L243.0,282.76 L243.5,277.29 L244.0,272.16 L244.5,267.09 L245.0,262.16 L245.5,257.59 L246.0,253.54 L246.5,250.20 L247.0,247.28 L247.5,244.65 L248.0,242.43 L248.5,240.63 L249.0,239.28 L249.5,238.45 L250.0,238.30 L250.5,238.64 L251.0,239.38 L251.5,240.47 L252.0,241.81 L252.5,243.36 L253.0,245.12 L253.5,247.24 L254.0,249.81 L254.5,252.80 L255.0,256.04 L255.5,259.44 L256.0,263.10 L256.5,267.05 L257.0,271.20 L257.5,275.37 L258.0,279.46 L258.5,283.49 L259.0,287.55 L259.5,291.60 L260.0,295.57 L260.5,299.43 L261.0,303.23 L261.5,307.07 L262.0,310.81 L262.5,314.28 L263.0,317.29 L263.5,319.81 L264.0,321.96 L264.5,323.72 L265.0,325.08 L265.5,325.92 L266.0,326.17 L266.5,325.75 L267.0,324.73 L267.5,323.40 L268.0,322.01 L268.5,320.77 L269.0,319.37 L269.5,317.79 L270.0,316.37 L270.5,315.32 L271.0,314.67 L271.5,314.31 L272.0,314.08 L272.5,313.95 L273.0,313.90 L273.5,313.90 L274.0,313.97 L274.5,314.11 L275.0,314.31 L275.5,314.58 L276.0,315.08 L276.5,315.83 L277.0,316.74 L277.5,317.73 L278.0,318.70 L278.5,319.50 L279.0,320.01 L279.5,319.95 L280.0,319.28 L280.5,317.99 L281.0,315.94 L281.5,313.29 L282.0,310.32 L282.5,306.88 L283.0,302.95 L283.5,298.71 L284.0,294.35 L284.5,290.04 L285.0,285.49 L285.5,280.60 L286.0,276.30 L286.5,273.23 L287.0,270.87 L287.5,269.18 L288.0,268.20 L288.5,268.20 L289.0,269.10 L289.5,270.92 L290.0,273.63 L290.5,277.03 L291.0,281.37 L291.5,286.37 L292.0,291.73 L292.5,297.14 L293.0,302.33 L293.5,307.36 L294.0,312.55 L294.5,317.62 L295.0,322.13 L295.5,325.95 L296.0,329.16 L296.5,331.91 L297.0,334.27 L297.5,336.20 L298.0,337.85 L298.5,339.29 L299.0,340.56 L299.5,341.63 L300.0,342.57 L300.5,343.42 L301.0,344.20 L301.5,344.93 L302.0,345.62 L302.5,346.27 L303.0,346.91 L303.5,347.55 L304.0,348.17 L304.5,348.77 L305.0,349.33 L305.5,349.85 L306.0,350.34 L306.5,350.80 L307.0,351.24 L307.5,351.66 L308.0,352.08 L308.5,352.49 L309.0,352.91 L309.5,353.31 L310.0,353.70 L310.5,354.06 L311.0,354.41 L311.5,354.75 L312.0,355.08 L312.5,355.42 L313.0,355.77 L313.5,356.13 L314.0,356.51 L314.5,356.93 L315.0,357.38 L315.5,357.86 L316.0,358.37 L316.5,358.90 L317.0,359.44 L317.5,360.00 L318.0,360.55 L318.5,361.12 L319.0,361.76 L319.5,362.42 L320.0,363.08 L320.5,363.70 L321.0,364.24 L321.5,364.68 L322.0,364.99 L322.5,365.12 L323.0,365.11 L323.5,365.01 L324.0,364.84 L324.5,364.64 L325.0,364.47 L325.5,364.35 L326.0,364.28 L326.5,364.25 L327.0,364.22 L327.5,364.19 L328.0,364.16 L328.5,364.13 L329.0,364.09 L329.5,364.06 L330.0,364.02 L330.5,363.98 L331.0,363.93 L331.5,363.88 L332.0,363.84 L332.5,363.80 L333.0,363.77 L333.5,363.73 L334.0,363.69 L334.5,363.64 L335.0,363.57 L335.5,363.49 L336.0,363.37 L336.5,363.23 L337.0,363.05 L337.5,362.84 L338.0,362.61 L338.5,362.36 L339.0,362.08 L339.5,361.79 L340.0,361.48 L340.5,361.09 L341.0,360.56 L341.0,360.14" fill="none" stroke="#3d6f5e" stroke-width="1.10" stroke-linejoin="round"/>
<path d="M215.7,374.00 L215.7,373.34 L216.2,372.66 L216.7,372.00 L217.2,371.36 L217.7,370.76 L218.2,370.21 L218.7,369.71 L219.2,369.25 L219.7,368.81 L220.2,368.40 L220.7,368.01 L221.2,367.65 L221.7,367.33 L222.2,367.05 L222.7,366.94 L223.2,367.14 L223.7,367.50 L224.2,367.71 L224.7,367.31 L225.2,366.15 L225.7,364.07 L226.2,361.48 L226.7,358.93 L227.2,356.78 L227.7,355.00 L228.2,353.42 L228.7,351.92 L229.2,350.49 L229.7,349.11 L230.2,347.78 L230.7,346.49 L231.2,345.25 L231.7,344.08 L232.2,343.05 L232.7,342.09 L233.2,341.18 L233.7,340.26 L234.2,339.30 L234.7,338.24 L235.2,337.00 L235.7,335.63 L236.2,334.21 L236.7,332.56 L237.2,330.40 L237.7,327.61 L238.2,324.12 L238.7,319.89 L239.2,315.20 L239.7,310.19 L240.2,305.05 L240.7,299.83 L241.2,294.28 L241.7,288.50 L242.2,282.72 L242.7,277.17 L243.2,271.93 L243.7,266.72 L244.2,261.64 L244.7,256.93 L245.2,252.77 L245.7,249.39 L246.2,246.48 L246.7,243.92 L247.2,241.78 L247.7,240.05 L248.2,238.78 L248.7,238.00 L249.2,237.87 L249.7,238.22 L250.2,238.96 L250.7,240.05 L251.2,241.40 L251.7,242.97 L252.2,244.79 L252.7,247.01 L253.2,249.71 L253.7,252.85 L254.2,256.23 L254.7,259.72 L255.2,263.46 L255.7,267.46 L256.2,271.65 L256.7,275.87 L257.2,280.00 L257.7,284.07 L258.2,288.17 L258.7,292.26 L259.2,296.28 L259.7,300.22 L260.2,304.14 L260.7,308.15 L261.2,312.07 L261.7,315.71 L262.2,318.86 L262.7,321.48 L263.2,323.68 L263.7,325.47 L264.2,326.84 L264.7,327.71 L265.2,327.98 L265.7,327.57 L266.2,326.55 L266.7,325.24 L267.2,323.90 L267.7,322.79 L268.2,321.64 L268.7,320.39 L269.2,319.30 L269.7,318.49 L270.2,318.00 L270.7,317.70 L271.2,317.47 L271.7,317.31 L272.2,317.22 L272.7,317.19 L273.2,317.24 L273.7,317.38 L274.2,317.62 L274.7,318.00 L275.2,318.70 L275.7,319.72 L276.2,320.95 L276.7,322.30 L277.2,323.65 L277.7,324.82 L278.2,325.66 L278.7,325.84 L279.2,325.35 L279.7,324.18 L280.2,322.16 L280.7,319.45 L281.2,316.31 L281.7,312.59 L282.2,308.30 L282.7,303.63 L283.2,298.80 L283.7,294.00 L284.2,288.80 L284.7,283.09 L285.2,278.17 L285.7,274.99 L286.2,272.96 L286.7,271.83 L287.2,271.37 L287.7,271.62 L288.2,272.41 L288.7,273.95 L289.2,276.48 L289.7,280.00 L290.2,284.90 L290.7,290.68 L291.2,296.88 L291.7,303.09 L292.2,308.88 L292.7,314.23 L293.2,319.47 L293.7,324.46 L294.2,328.93 L294.7,332.85 L295.2,336.30 L295.7,339.38 L296.2,342.11 L296.7,344.45 L297.2,346.53 L297.7,348.39 L298.2,350.10 L298.7,351.68 L299.2,353.18 L299.7,354.59 L300.2,355.92 L300.7,357.18 L301.2,358.36 L301.7,359.45 L302.2,360.45 L302.7,361.36 L303.2,362.13 L303.7,362.75 L304.2,363.22 L304.7,363.56 L305.2,363.78 L305.7,363.94 L306.2,364.05 L306.7,364.14 L307.2,364.23 L307.7,364.37 L308.2,364.56 L308.7,364.79 L309.2,365.03 L309.7,365.25 L310.2,365.47 L310.7,365.69 L311.2,365.92 L311.7,366.16 L312.2,366.42 L312.7,366.69 L313.2,367.00 L313.7,367.36 L314.2,367.82 L314.7,368.37 L315.2,369.00 L315.7,369.63 L316.2,370.22 L316.7,370.69 L317.2,371.00 L317.7,371.09 L318.2,370.95 L318.7,370.59 L319.2,370.11 L319.7,369.59 L320.2,369.10 L320.7,368.72 L321.2,368.51 L321.7,368.58 L322.2,368.91 L322.7,369.49 L323.2,370.18 L323.7,370.91 L324.2,371.56 L324.7,372.07 L325.2,372.34 L325.7,372.37 L326.2,372.18 L326.7,371.83 L327.2,371.38 L327.7,370.87 L328.2,370.33 L328.7,369.80 L329.2,369.32 L329.7,368.91 L330.2,368.62 L330.7,368.47 L331.2,368.46 L331.7,368.57 L332.2,368.76 L332.7,369.00 L333.2,369.25 L333.7,369.50 L334.2,369.70 L334.7,369.83 L335.2,369.84 L335.7,369.73 L336.2,369.51 L336.7,369.21 L337.2,368.86 L337.7,368.46 L338.2,368.03 L338.7,367.58 L339.2,367.11 L339.7,366.63 L340.2,366.16 L341.0,365.90" fill="none" stroke="#b6304a" stroke-width="1.10" stroke-linejoin="round"/>
<path d="M216.2,373.90 L216.7,373.04 L217.2,372.16 L217.7,371.30 L218.2,370.47 L218.7,369.69 L219.2,368.97 L219.7,368.32 L220.2,367.70 L220.7,367.11 L221.2,366.55 L221.7,366.03 L222.2,365.55 L222.7,365.15 L223.2,364.85 L223.7,364.81 L224.2,365.21 L224.7,365.86 L225.2,366.42 L225.7,366.31 L226.2,365.37 L226.7,363.50 L227.2,361.10 L227.7,358.67 L228.2,356.57 L228.7,354.78 L229.2,353.13 L229.7,351.54 L230.2,349.99 L230.7,348.49 L231.2,347.05 L231.7,345.67 L232.2,344.36 L232.7,343.16 L233.2,342.14 L233.7,341.22 L234.2,340.34 L234.7,339.47 L235.2,338.55 L235.7,337.52 L236.2,336.30 L236.7,334.90 L237.2,333.40 L237.7,331.65 L238.2,329.42 L238.7,326.60 L239.2,323.17 L239.7,319.07 L240.2,314.53 L240.7,309.69 L241.2,304.70 L241.7,299.60 L242.2,294.14 L242.7,288.45 L243.2,282.76 L243.7,277.30 L244.2,272.19 L244.7,267.13 L245.2,262.22 L245.7,257.67 L246.2,253.63 L246.7,250.29 L247.2,247.37 L247.7,244.74 L248.2,242.51 L248.7,240.69 L249.2,239.34 L249.7,238.50 L250.2,238.35 L250.7,238.69 L251.2,239.42 L251.7,240.52 L252.2,241.86 L252.7,243.40 L253.2,245.16 L253.7,247.26 L254.2,249.82 L254.7,252.79 L255.2,256.02 L255.7,259.41 L256.2,263.06 L256.7,267.01 L257.2,271.15 L257.7,275.32 L258.2,279.40 L258.7,283.42 L259.2,287.48 L259.7,291.52 L260.2,295.49 L260.7,299.34 L261.2,303.13 L261.7,306.95 L262.2,310.67 L262.7,314.12 L263.2,317.11 L263.7,319.63 L264.2,321.77 L264.7,323.53 L265.2,324.88 L265.7,325.72 L266.2,325.97 L266.7,325.55 L267.2,324.53 L267.7,323.20 L268.2,321.80 L268.7,320.54 L269.2,319.12 L269.7,317.50 L270.2,316.05 L270.7,314.96 L271.2,314.30 L271.7,313.94 L272.2,313.70 L272.7,313.58 L273.2,313.53 L273.7,313.54 L274.2,313.61 L274.7,313.75 L275.2,313.94 L275.7,314.20 L276.2,314.68 L276.7,315.39 L277.2,316.27 L277.7,317.22 L278.2,318.15 L278.7,318.91 L279.2,319.39 L279.7,319.30 L280.2,318.61 L280.7,317.31 L281.2,315.24 L281.7,312.61 L282.2,309.66 L282.7,306.24 L283.2,302.36 L283.7,298.17 L284.2,293.85 L284.7,289.60 L285.2,285.12 L285.7,280.32 L286.2,276.09 L286.7,273.03 L287.2,270.64 L287.7,268.89 L288.2,267.85 L288.7,267.82 L289.2,268.74 L289.7,270.58 L290.2,273.31 L290.7,276.70 L291.2,280.98 L291.7,285.90 L292.2,291.15 L292.7,296.48 L293.2,301.60 L293.7,306.60 L294.2,311.79 L294.7,316.85 L295.2,321.37 L295.7,325.19 L296.2,328.36 L296.7,331.08 L297.2,333.40 L297.7,335.29 L298.2,336.89 L298.7,338.27 L299.2,339.50 L299.7,340.51 L300.2,341.40 L300.7,342.18 L301.2,342.90 L301.7,343.57 L302.2,344.20 L302.7,344.81 L303.2,345.41 L303.7,346.01 L304.2,346.62 L304.7,347.22 L305.2,347.79 L305.7,348.33 L306.2,348.84 L306.7,349.34 L307.2,349.81 L307.7,350.28 L308.2,350.73 L308.7,351.17 L309.2,351.61 L309.7,352.04 L310.2,352.44 L310.7,352.81 L311.2,353.18 L311.7,353.53 L312.2,353.88 L312.7,354.23 L313.2,354.59 L313.7,354.96 L314.2,355.35 L314.7,355.78 L315.2,356.23 L315.7,356.69 L316.2,357.19 L316.7,357.71 L317.2,358.25 L317.7,358.81 L318.2,359.38 L318.7,360.01 L319.2,360.74 L319.7,361.51 L320.2,362.30 L320.7,363.05 L321.2,363.70 L321.7,364.23 L322.2,364.60 L322.7,364.73 L323.2,364.69 L323.7,364.51 L324.2,364.24 L324.7,363.95 L325.2,363.68 L325.7,363.49 L326.2,363.39 L326.7,363.35 L327.2,363.33 L327.7,363.34 L328.2,363.36 L328.7,363.38 L329.2,363.40 L329.7,363.42 L330.2,363.43 L330.7,363.43 L331.2,363.41 L331.7,363.37 L332.2,363.32 L332.7,363.27 L333.2,363.21 L333.7,363.15 L334.2,363.07 L334.7,362.99 L335.2,362.89 L335.7,362.78 L336.2,362.65 L336.7,362.51 L337.2,362.33 L337.7,362.14 L338.2,361.92 L338.7,361.68 L339.2,361.42 L339.7,361.15 L340.2,360.86 L340.7,360.48 L341.0,359.94 L341.0,359.50" fill="none" stroke="#7a4886" stroke-width="1.10" stroke-linejoin="round"/>
<path d="M382.5,372.88 L383.0,372.55 L383.5,372.23 L384.0,371.90 L384.5,371.55 L385.0,371.17 L385.5,370.74 L386.0,370.24 L386.5,369.70 L387.0,369.13 L387.5,368.53 L388.0,367.90 L388.5,367.23 L389.0,366.52 L389.5,365.76 L390.0,364.96 L390.5,364.12 L391.0,363.24 L391.5,362.31 L392.0,361.35 L392.5,360.34 L393.0,359.29 L393.5,358.18 L394.0,357.00 L394.5,355.70 L395.0,354.28 L395.5,352.83 L396.0,351.38 L396.5,350.00 L397.0,348.73 L397.5,347.61 L398.0,346.76 L398.5,346.11 L399.0,345.58 L399.5,345.11 L400.0,344.60 L400.5,343.98 L401.0,343.14 L401.5,341.89 L402.0,340.28 L402.5,338.30 L403.0,335.83 L403.5,332.75 L404.0,329.23 L404.5,325.05 L405.0,320.28 L405.5,315.10 L406.0,309.69 L406.5,304.33 L407.0,298.96 L407.5,293.38 L408.0,287.72 L408.5,282.14 L409.0,276.82 L409.5,271.72 L410.0,266.60 L410.5,261.66 L411.0,257.13 L411.5,253.31 L412.0,250.17 L412.5,247.45 L413.0,245.14 L413.5,243.25 L414.0,241.81 L414.5,240.85 L415.0,240.51 L415.5,240.76 L416.0,241.49 L416.5,242.62 L417.0,244.06 L417.5,245.73 L418.0,247.59 L418.5,249.69 L419.0,252.19 L419.5,255.23 L420.0,258.71 L420.5,262.41 L421.0,266.16 L421.5,270.10 L422.0,274.26 L422.5,278.55 L423.0,282.86 L423.5,287.14 L424.0,291.46 L424.5,295.86 L425.0,300.24 L425.5,304.51 L426.0,308.59 L426.5,313.16 L427.0,318.21 L427.5,322.42 L428.0,325.29 L428.5,326.89 L429.0,327.65 L429.5,327.83 L430.0,327.69 L430.5,327.32 L431.0,326.81 L431.5,326.19 L432.0,325.51 L432.5,324.79 L433.0,324.06 L433.5,323.36 L434.0,322.67 L434.5,321.87 L435.0,320.90 L435.5,319.81 L436.0,318.69 L436.5,317.58 L437.0,316.59 L437.5,315.77 L438.0,315.18 L438.5,314.95 L439.0,315.10 L439.5,315.54 L440.0,316.24 L440.5,317.08 L441.0,318.00 L441.5,318.90 L442.0,319.69 L442.5,320.27 L443.0,320.49 L443.5,320.59 L444.0,320.58 L444.5,320.33 L445.0,319.65 L445.5,318.51 L446.0,316.86 L446.5,314.55 L447.0,311.73 L447.5,308.53 L448.0,305.06 L448.5,301.43 L449.0,297.75 L449.5,294.10 L450.0,290.12 L450.5,285.72 L451.0,281.30 L451.5,277.37 L452.0,274.34 L452.5,272.33 L453.0,270.86 L453.5,269.94 L454.0,269.72 L454.5,270.20 L455.0,271.52 L455.5,273.93 L456.0,277.50 L456.5,282.53 L457.0,289.04 L457.5,297.66 L458.0,307.12 L458.5,315.92 L459.0,322.93 L459.5,327.74 L460.0,331.49 L460.5,334.36 L461.0,336.73 L461.5,338.89 L462.0,340.88 L462.5,342.52 L463.0,343.91 L463.5,345.11 L464.0,346.20 L464.5,347.23 L465.0,348.25 L465.5,349.27 L466.0,350.27 L466.5,351.21 L467.0,352.05 L467.5,352.81 L468.0,353.48 L468.5,354.06 L469.0,354.58 L469.5,355.01 L470.0,355.38 L470.5,355.68 L471.0,355.94 L471.5,356.16 L472.0,356.36 L472.5,356.56 L473.0,356.77 L473.5,357.00 L474.0,357.23 L474.5,357.46 L475.0,357.69 L475.5,357.94 L476.0,358.19 L476.5,358.45 L477.0,358.74 L477.5,359.04 L478.0,359.35 L478.5,359.66 L479.0,359.99 L479.5,360.32 L480.0,360.67 L480.5,361.02 L481.0,361.37 L481.5,361.73 L482.0,362.10 L482.5,362.48 L483.0,362.89 L483.5,363.31 L484.0,363.75 L484.5,364.18 L485.0,364.60 L485.5,365.00 L486.0,365.38 L486.5,365.74 L487.0,366.07 L487.5,366.39 L488.0,366.71 L488.5,367.06 L489.0,367.41 L489.5,367.75 L490.0,368.06 L490.5,368.31 L491.0,368.49 L491.5,368.59 L492.0,368.58 L492.5,368.49 L493.0,368.33 L493.5,368.14 L494.0,367.95 L494.5,367.78 L495.0,367.66 L495.5,367.61 L496.0,367.59 L496.5,367.60 L497.0,367.62 L497.5,367.66 L498.0,367.70 L498.5,367.73 L499.0,367.75 L499.5,367.77 L500.0,367.80 L500.5,367.84 L501.0,367.89 L501.5,367.93 L502.0,367.94 L502.5,367.93 L503.0,367.88 L503.5,367.76 L504.0,367.57 L504.5,367.33 L505.0,367.04 L505.5,366.72 L506.0,366.38 L506.3,366.19" fill="none" stroke="#cdcdcd" stroke-width="1.10" stroke-linejoin="round"/>
<path d="M382.5,372.82 L382.5,372.49 L382.8,372.17 L383.3,371.83 L383.8,371.48 L384.3,371.10 L384.8,370.67 L385.3,370.17 L385.8,369.62 L386.3,369.05 L386.8,368.45 L387.3,367.81 L387.8,367.13 L388.3,366.42 L388.8,365.66 L389.3,364.85 L389.8,364.01 L390.3,363.12 L390.8,362.20 L391.3,361.23 L391.8,360.22 L392.3,359.16 L392.8,358.05 L393.3,356.86 L393.8,355.55 L394.3,354.13 L394.8,352.66 L395.3,351.20 L395.8,349.81 L396.3,348.54 L396.8,347.41 L397.3,346.57 L397.8,345.92 L398.3,345.40 L398.8,344.93 L399.3,344.43 L399.8,343.82 L400.3,342.99 L400.8,341.75 L401.3,340.13 L401.8,338.16 L402.3,335.69 L402.8,332.62 L403.3,329.10 L403.8,324.92 L404.3,320.15 L404.8,314.97 L405.3,309.57 L405.8,304.20 L406.3,298.84 L406.8,293.26 L407.3,287.60 L407.8,282.02 L408.3,276.70 L408.8,271.60 L409.3,266.49 L409.8,261.55 L410.3,257.03 L410.8,253.22 L411.3,250.08 L411.8,247.38 L412.3,245.10 L412.8,243.23 L413.3,241.79 L413.8,240.84 L414.3,240.51 L414.8,240.76 L415.3,241.47 L415.8,242.59 L416.3,244.00 L416.8,245.65 L417.3,247.50 L417.8,249.58 L418.3,252.06 L418.8,255.09 L419.3,258.56 L419.8,262.24 L420.3,265.97 L420.8,269.88 L421.3,274.02 L421.8,278.27 L422.3,282.54 L422.8,286.77 L423.3,291.04 L423.8,295.39 L424.3,299.70 L424.8,303.89 L425.3,307.88 L425.8,312.32 L426.3,317.19 L426.8,321.23 L427.3,323.98 L427.8,325.53 L428.3,326.29 L428.8,326.47 L429.3,326.37 L429.8,326.04 L430.3,325.56 L430.8,324.99 L431.3,324.35 L431.8,323.68 L432.3,322.99 L432.8,322.32 L433.3,321.66 L433.8,320.87 L434.3,319.91 L434.8,318.83 L435.3,317.70 L435.8,316.59 L436.3,315.60 L436.8,314.78 L437.3,314.20 L437.8,313.98 L438.3,314.14 L438.8,314.60 L439.3,315.32 L439.8,316.19 L440.3,317.12 L440.8,318.05 L441.3,318.87 L441.8,319.47 L442.3,319.72 L442.8,319.85 L443.3,319.88 L443.8,319.67 L444.3,319.03 L444.8,317.92 L445.3,316.29 L445.8,313.98 L446.3,311.16 L446.8,307.97 L447.3,304.49 L447.8,300.85 L448.3,297.17 L448.8,293.53 L449.3,289.59 L449.8,285.26 L450.3,280.89 L450.8,277.02 L451.3,274.01 L451.8,271.98 L452.3,270.47 L452.8,269.49 L453.3,269.20 L453.8,269.64 L454.3,270.94 L454.8,273.35 L455.3,276.92 L455.8,281.93 L456.3,288.39 L456.8,296.96 L457.3,306.35 L457.8,315.04 L458.3,321.90 L458.8,326.47 L459.3,329.91 L459.8,332.47 L460.3,334.58 L460.8,336.58 L461.3,338.51 L461.8,340.18 L462.3,341.64 L462.8,342.93 L463.3,344.10 L463.8,345.21 L464.3,346.27 L464.8,347.31 L465.3,348.32 L465.8,349.27 L466.3,350.13 L466.8,350.90 L467.3,351.60 L467.8,352.22 L468.3,352.77 L468.8,353.24 L469.3,353.62 L469.8,353.93 L470.3,354.18 L470.8,354.40 L471.3,354.59 L471.8,354.78 L472.3,355.00 L472.8,355.24 L473.3,355.48 L473.8,355.73 L474.3,355.98 L474.8,356.24 L475.3,356.52 L475.8,356.80 L476.3,357.11 L476.8,357.43 L477.3,357.75 L477.8,358.09 L478.3,358.43 L478.8,358.78 L479.3,359.14 L479.8,359.51 L480.3,359.88 L480.8,360.26 L481.3,360.65 L481.8,361.05 L482.3,361.47 L482.8,361.91 L483.3,362.36 L483.8,362.81 L484.3,363.25 L484.8,363.68 L485.3,364.09 L485.8,364.48 L486.3,364.85 L486.8,365.21 L487.3,365.59 L487.8,366.00 L488.3,366.42 L488.8,366.82 L489.3,367.18 L489.8,367.47 L490.3,367.66 L490.8,367.71 L491.3,367.62 L491.8,367.41 L492.3,367.11 L492.8,366.77 L493.3,366.43 L493.8,366.15 L494.3,365.95 L494.8,365.85 L495.3,365.82 L495.8,365.84 L496.3,365.90 L496.8,365.99 L497.3,366.08 L497.8,366.17 L498.3,366.25 L498.8,366.32 L499.3,366.43 L499.8,366.56 L500.3,366.68 L500.8,366.80 L501.3,366.89 L501.8,366.94 L502.3,366.92 L502.8,366.80 L503.3,366.59 L503.8,366.32 L504.3,365.99 L504.8,365.63 L505.3,365.24 L506.3,365.04" fill="none" stroke="#e9a13a" stroke-width="1.10" stroke-linejoin="round"/>
<path d="M382.5,372.76 L382.8,372.42 L383.3,372.10 L383.8,371.77 L384.3,371.41 L384.8,371.03 L385.3,370.59 L385.8,370.09 L386.3,369.55 L386.8,368.97 L387.3,368.36 L387.8,367.72 L388.3,367.04 L388.8,366.32 L389.3,365.56 L389.8,364.75 L390.3,363.90 L390.8,363.01 L391.3,362.08 L391.8,361.11 L392.3,360.09 L392.8,359.03 L393.3,357.92 L393.8,356.72 L394.3,355.40 L394.8,353.97 L395.3,352.49 L395.8,351.02 L396.3,349.63 L396.8,348.34 L397.3,347.22 L397.8,346.37 L398.3,345.73 L398.8,345.22 L399.3,344.75 L399.8,344.26 L400.3,343.65 L400.8,342.83 L401.3,341.60 L401.8,339.99 L402.3,338.02 L402.8,335.55 L403.3,332.48 L403.8,328.96 L404.3,324.79 L404.8,320.02 L405.3,314.84 L405.8,309.45 L406.3,304.08 L406.8,298.72 L407.3,293.14 L407.8,287.48 L408.3,281.90 L408.8,276.58 L409.3,271.48 L409.8,266.37 L410.3,261.44 L410.8,256.92 L411.3,253.12 L411.8,250.00 L412.3,247.32 L412.8,245.05 L413.3,243.20 L413.8,241.78 L414.3,240.84 L414.8,240.51 L415.3,240.75 L415.8,241.45 L416.3,242.55 L416.8,243.95 L417.3,245.57 L417.8,247.40 L418.3,249.47 L418.8,251.94 L419.3,254.96 L419.8,258.42 L420.3,262.08 L420.8,265.78 L421.3,269.66 L421.8,273.77 L422.3,277.98 L422.8,282.22 L423.3,286.40 L423.8,290.62 L424.3,294.91 L424.8,299.16 L425.3,303.28 L425.8,307.18 L426.3,311.47 L426.8,316.16 L427.3,320.03 L427.8,322.68 L428.3,324.18 L428.8,324.92 L429.3,325.12 L429.8,325.04 L430.3,324.75 L430.8,324.32 L431.3,323.79 L431.8,323.20 L432.3,322.57 L432.8,321.92 L433.3,321.29 L433.8,320.65 L434.3,319.87 L434.8,318.92 L435.3,317.84 L435.8,316.71 L436.3,315.61 L436.8,314.61 L437.3,313.79 L437.8,313.22 L438.3,313.01 L438.8,313.18 L439.3,313.66 L439.8,314.40 L440.3,315.29 L440.8,316.25 L441.3,317.20 L441.8,318.05 L442.3,318.68 L442.8,318.95 L443.3,319.12 L443.8,319.18 L444.3,319.01 L444.8,318.41 L445.3,317.33 L445.8,315.72 L446.3,313.42 L446.8,310.60 L447.3,307.40 L447.8,303.91 L448.3,300.27 L448.8,296.59 L449.3,292.97 L449.8,289.07 L450.3,284.79 L450.8,280.49 L451.3,276.66 L451.8,273.68 L452.3,271.63 L452.8,270.07 L453.3,269.04 L453.8,268.69 L454.3,269.08 L454.8,270.35 L455.3,272.76 L455.8,276.34 L456.3,281.33 L456.8,287.74 L457.3,296.26 L457.8,305.57 L458.3,314.15 L458.8,320.86 L459.3,325.19 L459.8,328.32 L460.3,330.57 L460.8,332.43 L461.3,334.27 L461.8,336.14 L462.3,337.83 L462.8,339.37 L463.3,340.74 L463.8,342.01 L464.3,343.19 L464.8,344.30 L465.3,345.36 L465.8,346.37 L466.3,347.32 L466.8,348.20 L467.3,349.00 L467.8,349.72 L468.3,350.37 L468.8,350.96 L469.3,351.46 L469.8,351.86 L470.3,352.18 L470.8,352.43 L471.3,352.64 L471.8,352.82 L472.3,353.01 L472.8,353.23 L473.3,353.48 L473.8,353.74 L474.3,354.00 L474.8,354.27 L475.3,354.55 L475.8,354.85 L476.3,355.15 L476.8,355.47 L477.3,355.81 L477.8,356.16 L478.3,356.51 L478.8,356.87 L479.3,357.24 L479.8,357.62 L480.3,358.00 L480.8,358.39 L481.3,358.79 L481.8,359.19 L482.3,359.61 L482.8,360.05 L483.3,360.51 L483.8,360.97 L484.3,361.44 L484.8,361.91 L485.3,362.36 L485.8,362.80 L486.3,363.23 L486.8,363.64 L487.3,364.04 L487.8,364.47 L488.3,364.94 L488.8,365.43 L489.3,365.90 L489.8,366.31 L490.3,366.64 L490.8,366.82 L491.3,366.84 L491.8,366.67 L492.3,366.34 L492.8,365.89 L493.3,365.40 L493.8,364.92 L494.3,364.51 L494.8,364.23 L495.3,364.09 L495.8,364.05 L496.3,364.09 L496.8,364.19 L497.3,364.32 L497.8,364.47 L498.3,364.62 L498.8,364.75 L499.3,364.88 L499.8,365.06 L500.3,365.27 L500.8,365.48 L501.3,365.68 L501.8,365.84 L502.3,365.94 L502.8,365.96 L503.3,365.84 L503.8,365.61 L504.3,365.31 L504.8,364.95 L505.3,364.54 L505.8,364.11 L506.3,363.88" fill="none" stroke="#62a94f" stroke-width="1.10" stroke-linejoin="round"/>
<path d="M382.8,372.70 L383.3,372.36 L383.8,372.04 L384.3,371.70 L384.8,371.35 L385.3,370.96 L385.8,370.52 L386.3,370.02 L386.8,369.47 L387.3,368.89 L387.8,368.27 L388.3,367.63 L388.8,366.94 L389.3,366.22 L389.8,365.46 L390.3,364.64 L390.8,363.79 L391.3,362.90 L391.8,361.96 L392.3,360.99 L392.8,359.97 L393.3,358.90 L393.8,357.78 L394.3,356.59 L394.8,355.25 L395.3,353.81 L395.8,352.33 L396.3,350.85 L396.8,349.44 L397.3,348.15 L397.8,347.02 L398.3,346.18 L398.8,345.54 L399.3,345.03 L399.8,344.57 L400.3,344.09 L400.8,343.49 L401.3,342.68 L401.8,341.45 L402.3,339.84 L402.8,337.88 L403.3,335.41 L403.8,332.34 L404.3,328.83 L404.8,324.65 L405.3,319.89 L405.8,314.72 L406.3,309.33 L406.8,303.96 L407.3,298.60 L407.8,293.02 L408.3,287.36 L408.8,281.78 L409.3,276.46 L409.8,271.36 L410.3,266.26 L410.8,261.33 L411.3,256.82 L411.8,253.03 L412.3,249.91 L412.8,247.25 L413.3,245.00 L413.8,243.17 L414.3,241.77 L414.8,240.84 L415.3,240.51 L415.8,240.74 L416.3,241.43 L416.8,242.51 L417.3,243.89 L417.8,245.50 L418.3,247.31 L418.8,249.36 L419.3,251.82 L419.8,254.82 L420.3,258.27 L420.8,261.91 L421.3,265.59 L421.8,269.45 L422.3,273.52 L422.8,277.70 L423.3,281.90 L423.8,286.03 L424.3,290.20 L424.8,294.43 L425.3,298.62 L425.8,302.66 L426.3,306.48 L426.8,310.63 L427.3,315.13 L427.8,318.84 L428.3,321.38 L428.8,322.82 L429.3,323.55 L429.8,323.76 L430.3,323.72 L430.8,323.46 L431.3,323.08 L431.8,322.60 L432.3,322.05 L432.8,321.46 L433.3,320.85 L433.8,320.25 L434.3,319.64 L434.8,318.87 L435.3,317.93 L435.8,316.85 L436.3,315.72 L436.8,314.62 L437.3,313.62 L437.8,312.80 L438.3,312.23 L438.8,312.04 L439.3,312.23 L439.8,312.73 L440.3,313.48 L440.8,314.39 L441.3,315.38 L441.8,316.36 L442.3,317.23 L442.8,317.88 L443.3,318.18 L443.8,318.38 L444.3,318.48 L444.8,318.35 L445.3,317.79 L445.8,316.73 L446.3,315.15 L446.8,312.86 L447.3,310.04 L447.8,306.83 L448.3,303.33 L448.8,299.69 L449.3,296.01 L449.8,292.41 L450.3,288.54 L450.8,284.32 L451.3,280.09 L451.8,276.31 L452.3,273.35 L452.8,271.28 L453.3,269.68 L453.8,268.58 L454.3,268.18 L454.8,268.52 L455.3,269.77 L455.8,272.18 L456.3,275.76 L456.8,280.73 L457.3,287.10 L457.8,295.56 L458.3,304.79 L458.8,313.27 L459.3,319.83 L459.8,323.91 L460.3,326.74 L460.8,328.68 L461.3,330.28 L461.8,331.95 L462.3,333.77 L462.8,335.49 L463.3,337.09 L463.8,338.56 L464.3,339.92 L464.8,341.17 L465.3,342.32 L465.8,343.40 L466.3,344.42 L466.8,345.38 L467.3,346.27 L467.8,347.09 L468.3,347.84 L468.8,348.53 L469.3,349.15 L469.8,349.68 L470.3,350.11 L470.8,350.44 L471.3,350.68 L471.8,350.87 L472.3,351.05 L472.8,351.23 L473.3,351.45 L473.8,351.72 L474.3,351.99 L474.8,352.27 L475.3,352.56 L475.8,352.86 L476.3,353.17 L476.8,353.50 L477.3,353.84 L477.8,354.20 L478.3,354.56 L478.8,354.94 L479.3,355.31 L479.8,355.70 L480.3,356.09 L480.8,356.50 L481.3,356.90 L481.8,357.32 L482.3,357.74 L482.8,358.18 L483.3,358.63 L483.8,359.10 L484.3,359.59 L484.8,360.07 L485.3,360.56 L485.8,361.04 L486.3,361.51 L486.8,361.97 L487.3,362.42 L487.8,362.86 L488.3,363.35 L488.8,363.88 L489.3,364.44 L489.8,364.97 L490.3,365.44 L490.8,365.80 L491.3,365.98 L491.8,365.96 L492.3,365.72 L492.8,365.26 L493.3,364.68 L493.8,364.04 L494.3,363.41 L494.8,362.88 L495.3,362.51 L495.8,362.33 L496.3,362.28 L496.8,362.34 L497.3,362.47 L497.8,362.64 L498.3,362.85 L498.8,363.06 L499.3,363.25 L499.8,363.44 L500.3,363.69 L500.8,363.98 L501.3,364.28 L501.8,364.56 L502.3,364.79 L502.8,364.95 L503.3,365.00 L503.8,364.88 L504.3,364.64 L504.8,364.30 L505.3,363.90 L505.8,363.45 L506.3,362.98 L506.3,362.73" fill="none" stroke="#3d6f5e" stroke-width="1.10" stroke-linejoin="round"/>
<path d="M382.5,373.00 L382.5,372.67 L383.0,372.36 L383.5,372.03 L384.0,371.68 L384.5,371.31 L385.0,370.88 L385.5,370.40 L386.0,369.86 L386.5,369.30 L387.0,368.71 L387.5,368.08 L388.0,367.42 L388.5,366.72 L389.0,365.97 L389.5,365.17 L390.0,364.34 L390.5,363.46 L391.0,362.55 L391.5,361.59 L392.0,360.59 L392.5,359.54 L393.0,358.45 L393.5,357.28 L394.0,355.99 L394.5,354.60 L395.0,353.16 L395.5,351.73 L396.0,350.37 L396.5,349.11 L397.0,348.00 L397.5,347.15 L398.0,346.49 L398.5,345.95 L399.0,345.46 L399.5,344.94 L400.0,344.30 L400.5,343.45 L401.0,342.19 L401.5,340.57 L402.0,338.59 L402.5,336.11 L403.0,333.03 L403.5,329.50 L404.0,325.31 L404.5,320.53 L405.0,315.35 L405.5,309.94 L406.0,304.57 L406.5,299.20 L407.0,293.62 L407.5,287.97 L408.0,282.39 L408.5,277.06 L409.0,271.95 L409.5,266.83 L410.0,261.88 L410.5,257.34 L411.0,253.50 L411.5,250.33 L412.0,247.59 L412.5,245.24 L413.0,243.31 L413.5,241.83 L414.0,240.85 L414.5,240.51 L415.0,240.78 L415.5,241.53 L416.0,242.70 L416.5,244.17 L417.0,245.88 L417.5,247.78 L418.0,249.91 L418.5,252.44 L419.0,255.50 L419.5,259.01 L420.0,262.74 L420.5,266.54 L421.0,270.53 L421.5,274.76 L422.0,279.11 L422.5,283.51 L423.0,287.88 L423.5,292.31 L424.0,296.82 L424.5,301.33 L425.0,305.75 L425.5,310.00 L426.0,314.84 L426.5,320.27 L427.0,324.80 L427.5,327.89 L428.0,329.60 L428.5,330.39 L429.0,330.53 L429.5,330.34 L430.0,329.90 L430.5,329.29 L431.0,328.58 L431.5,327.81 L432.0,327.00 L432.5,326.19 L433.0,325.43 L433.5,324.70 L434.0,323.87 L434.5,322.88 L435.0,321.79 L435.5,320.66 L436.0,319.56 L436.5,318.57 L437.0,317.75 L437.5,317.15 L438.0,316.90 L438.5,317.01 L439.0,317.42 L439.5,318.07 L440.0,318.88 L440.5,319.74 L441.0,320.60 L441.5,321.34 L442.0,321.86 L442.5,322.03 L443.0,322.06 L443.5,321.98 L444.0,321.65 L444.5,320.90 L445.0,319.69 L445.5,318.00 L446.0,315.67 L446.5,312.85 L447.0,309.67 L447.5,306.21 L448.0,302.59 L448.5,298.91 L449.0,295.22 L449.5,291.17 L450.0,286.66 L450.5,282.10 L451.0,278.07 L451.5,275.00 L452.0,273.03 L452.5,271.65 L453.0,270.85 L453.5,270.74 L454.0,271.33 L454.5,272.69 L455.0,275.10 L455.5,278.66 L456.0,283.73 L456.5,290.33 L457.0,299.07 L457.5,308.68 L458.0,317.70 L458.5,325.00 L459.0,330.29 L459.5,334.66 L460.0,338.15 L460.5,341.03 L461.0,343.52 L461.5,345.62 L462.0,347.21 L462.5,348.46 L463.0,349.47 L463.5,350.38 L464.0,351.26 L464.5,352.20 L465.0,353.18 L465.5,354.16 L466.0,355.09 L466.5,355.91 L467.0,356.62 L467.5,357.24 L468.0,357.75 L468.5,358.20 L469.0,358.57 L469.5,358.90 L470.0,359.18 L470.5,359.44 L471.0,359.68 L471.5,359.90 L472.0,360.12 L472.5,360.32 L473.0,360.52 L473.5,360.72 L474.0,360.92 L474.5,361.11 L475.0,361.32 L475.5,361.53 L476.0,361.75 L476.5,362.00 L477.0,362.26 L477.5,362.54 L478.0,362.82 L478.5,363.11 L479.0,363.40 L479.5,363.71 L480.0,364.03 L480.5,364.35 L481.0,364.67 L481.5,365.00 L482.0,365.35 L482.5,365.72 L483.0,366.12 L483.5,366.52 L484.0,366.92 L484.5,367.30 L485.0,367.65 L485.5,367.97 L486.0,368.25 L486.5,368.50 L487.0,368.73 L487.5,368.96 L488.0,369.18 L488.5,369.39 L489.0,369.60 L489.5,369.80 L490.0,369.99 L490.5,370.17 L491.0,370.33 L491.5,370.49 L492.0,370.63 L492.5,370.76 L493.0,370.87 L493.5,370.97 L494.0,371.05 L494.5,371.10 L495.0,371.12 L495.5,371.12 L496.0,371.10 L496.5,371.06 L497.0,371.00 L497.5,370.93 L498.0,370.85 L498.5,370.75 L499.0,370.65 L499.5,370.54 L500.0,370.42 L500.5,370.30 L501.0,370.17 L501.5,370.05 L502.0,369.92 L502.5,369.80 L503.0,369.67 L503.5,369.52 L504.0,369.34 L504.5,369.14 L505.0,368.90 L505.5,368.64 L506.3,368.50" fill="none" stroke="#b6304a" stroke-width="1.10" stroke-linejoin="round"/>
<path d="M383.0,372.60 L383.5,372.26 L384.0,371.93 L384.5,371.59 L385.0,371.23 L385.5,370.84 L386.0,370.40 L386.5,369.89 L387.0,369.33 L387.5,368.75 L388.0,368.13 L388.5,367.48 L389.0,366.79 L389.5,366.06 L390.0,365.28 L390.5,364.46 L391.0,363.61 L391.5,362.71 L392.0,361.77 L392.5,360.79 L393.0,359.76 L393.5,358.69 L394.0,357.56 L394.5,356.35 L395.0,355.01 L395.5,353.55 L396.0,352.05 L396.5,350.55 L397.0,349.13 L397.5,347.83 L398.0,346.70 L398.5,345.86 L399.0,345.22 L399.5,344.72 L400.0,344.28 L400.5,343.81 L401.0,343.22 L401.5,342.42 L402.0,341.20 L402.5,339.60 L403.0,337.64 L403.5,335.17 L404.0,332.11 L404.5,328.60 L405.0,324.43 L405.5,319.68 L406.0,314.51 L406.5,309.12 L407.0,303.76 L407.5,298.40 L408.0,292.82 L408.5,287.16 L409.0,281.58 L409.5,276.26 L410.0,271.16 L410.5,266.07 L411.0,261.15 L411.5,256.65 L412.0,252.87 L412.5,249.77 L413.0,247.13 L413.5,244.92 L414.0,243.12 L414.5,241.75 L415.0,240.84 L415.5,240.51 L416.0,240.73 L416.5,241.40 L417.0,242.45 L417.5,243.80 L418.0,245.37 L418.5,247.15 L419.0,249.17 L419.5,251.61 L420.0,254.60 L420.5,258.02 L421.0,261.63 L421.5,265.27 L422.0,269.08 L422.5,273.11 L423.0,277.23 L423.5,281.36 L424.0,285.41 L424.5,289.49 L425.0,293.63 L425.5,297.71 L426.0,301.63 L426.5,305.30 L427.0,309.22 L427.5,313.42 L428.0,316.85 L428.5,319.20 L429.0,320.56 L429.5,321.27 L430.0,321.51 L430.5,321.51 L431.0,321.32 L431.5,321.00 L432.0,320.60 L432.5,320.13 L433.0,319.62 L433.5,319.08 L434.0,318.53 L434.5,317.95 L435.0,317.21 L435.5,316.28 L436.0,315.20 L436.5,314.08 L437.0,312.97 L437.5,311.97 L438.0,311.16 L438.5,310.59 L439.0,310.42 L439.5,310.63 L440.0,311.16 L440.5,311.95 L441.0,312.90 L441.5,313.92 L442.0,314.94 L442.5,315.86 L443.0,316.56 L443.5,316.90 L444.0,317.15 L444.5,317.32 L445.0,317.25 L445.5,316.75 L446.0,315.75 L446.5,314.20 L447.0,311.92 L447.5,309.10 L448.0,305.88 L448.5,302.38 L449.0,298.72 L449.5,295.05 L450.0,291.47 L450.5,287.67 L451.0,283.54 L451.5,279.41 L452.0,275.72 L452.5,272.80 L453.0,270.69 L453.5,269.02 L454.0,267.83 L454.5,267.32 L455.0,267.58 L455.5,268.79 L456.0,271.21 L456.5,274.79 L457.0,279.73 L457.5,286.02 L458.0,294.39 L458.5,303.49 L459.0,311.79 L459.5,318.10 L460.0,321.79 L460.5,324.10 L461.0,325.52 L461.5,326.69 L462.0,328.10 L462.5,329.81 L463.0,331.58 L463.5,333.30 L464.0,334.92 L464.5,336.43 L465.0,337.81 L465.5,339.03 L466.0,340.14 L466.5,341.18 L467.0,342.14 L467.5,343.06 L468.0,343.91 L468.5,344.71 L469.0,345.45 L469.5,346.13 L470.0,346.71 L470.5,347.18 L471.0,347.52 L471.5,347.76 L472.0,347.94 L472.5,348.10 L473.0,348.27 L473.5,348.49 L474.0,348.78 L474.5,349.08 L475.0,349.39 L475.5,349.71 L476.0,350.04 L476.5,350.39 L477.0,350.75 L477.5,351.12 L478.0,351.51 L478.5,351.91 L479.0,352.31 L479.5,352.72 L480.0,353.13 L480.5,353.56 L481.0,353.99 L481.5,354.42 L482.0,354.87 L482.5,355.32 L483.0,355.79 L483.5,356.27 L484.0,356.77 L484.5,357.27 L485.0,357.79 L485.5,358.31 L486.0,358.83 L486.5,359.36 L487.0,359.88 L487.5,360.40 L488.0,360.91 L488.5,361.48 L489.0,362.11 L489.5,362.79 L490.0,363.43 L490.5,363.99 L491.0,364.40 L491.5,364.59 L492.0,364.51 L492.5,364.12 L493.0,363.47 L493.5,362.65 L494.0,361.76 L494.5,360.89 L495.0,360.16 L495.5,359.65 L496.0,359.40 L496.5,359.33 L497.0,359.42 L497.5,359.60 L498.0,359.86 L498.5,360.16 L499.0,360.46 L499.5,360.75 L500.0,361.04 L500.5,361.41 L501.0,361.83 L501.5,362.27 L502.0,362.68 L502.5,363.04 L503.0,363.29 L503.5,363.40 L504.0,363.28 L504.5,363.01 L505.0,362.62 L505.5,362.15 L506.0,361.63 L506.3,361.09 L506.3,360.80" fill="none" stroke="#7a4886" stroke-width="1.10" stroke-linejoin="round"/>
<text transform="translate(95.6,138.0) rotate(-90)" text-anchor="end" font-size="6.90" fill="#333">&#957;<tspan font-size="4.28" dy="2.21">11</tspan><tspan dx="0.8" dy="-2.21">(1572)</tspan></text>
<text transform="translate(113.2,106.4) rotate(-90)" text-anchor="end" font-size="6.90" fill="#333">&#957;<tspan font-size="4.28" dy="2.21">19</tspan><tspan font-size="4.28" dx="-4.76" dy="-6.35">H</tspan><tspan dx="4.58" dy="4.14">(1596)</tspan></text>
<text transform="translate(146.8,141.4) rotate(-90)" text-anchor="end" font-size="6.90" fill="#333">&#957;<tspan font-size="4.28" dy="2.21">10</tspan><tspan font-size="4.28" dx="-4.76" dy="-6.35">H</tspan><tspan dx="4.58" dy="4.14">(1648)</tspan></text>
<text transform="translate(254.0,130.0) rotate(-90)" text-anchor="end" font-size="6.90" fill="#333">&#957;<tspan font-size="4.28" dy="2.21">19</tspan><tspan font-size="4.28" dx="-4.76" dy="-6.35">L</tspan><tspan dx="4.58" dy="4.14">(1559)</tspan></text>
<text transform="translate(264.0,129.7) rotate(-90)" text-anchor="end" font-size="6.90" fill="#333">&#957;<tspan font-size="4.28" dy="2.21">11</tspan><tspan dx="0.8" dy="-2.21">(1572)</tspan></text>
<text transform="translate(289.4,129.6) rotate(-90)" text-anchor="end" font-size="6.90" fill="#333">&#957;<tspan font-size="4.28" dy="2.21">10</tspan><tspan font-size="4.28" dx="-4.76" dy="-6.35">L</tspan><tspan dx="4.58" dy="4.14">(1612)</tspan></text>
<text transform="translate(88.2,302.1) rotate(-90)" text-anchor="end" font-size="6.90" fill="#333">&#957;<tspan font-size="4.28" dy="2.21">19</tspan><tspan font-size="4.28" dx="-4.76" dy="-6.35">L</tspan><tspan dx="4.58" dy="4.14">(1559)</tspan></text>
<text transform="translate(124.4,326.0) rotate(-90)" text-anchor="end" font-size="6.90" fill="#333">&#957;<tspan font-size="4.28" dy="2.21">10</tspan><tspan font-size="4.28" dx="-4.76" dy="-6.35">L</tspan><tspan dx="4.58" dy="4.14">(1614)</tspan></text>
<text x="79.5" y="28.0" font-size="9" textLength="65.4" lengthAdjust="spacingAndGlyphs" fill="#222">oxyHbF/ 2,3-BPG</text>
<text x="250.0" y="27.3" font-size="9" textLength="55.4" lengthAdjust="spacingAndGlyphs" fill="#222">oxyHbF/ z-But</text>
<text x="415.0" y="27.0" font-size="9" textLength="53.1" lengthAdjust="spacingAndGlyphs" fill="#222">oxyHbF/ z-Lig</text>
<text x="75.7" y="227.1" font-size="9" textLength="75.5" lengthAdjust="spacingAndGlyphs" fill="#222">deoxyHbF/ 2,3-BPG</text>
<text x="245.8" y="226.9" font-size="9" textLength="65.3" lengthAdjust="spacingAndGlyphs" fill="#222">deoxyHbF/ z-But</text>
<text x="412.7" y="226.6" font-size="9" textLength="63.4" lengthAdjust="spacingAndGlyphs" fill="#222">deoxyHbF/ z-Lig</text>
<text x="20.2" y="16.7" font-size="10" fill="#222">A</text>
<text x="190.8" y="16.7" font-size="10" fill="#222">C</text>
<text x="358.2" y="16.7" font-size="10" fill="#222">E</text>
<text x="20.8" y="216.1" font-size="10" fill="#222">B</text>
<text x="191.2" y="216.3" font-size="10" fill="#222">D</text>
<text x="358.2" y="216.3" font-size="10" fill="#222">F</text>
<text x="21.0" y="429.0" font-size="10" fill="#222">G</text>
<text x="190.8" y="429.2" font-size="10" fill="#222">H</text>
<text x="357.6" y="428.9" font-size="10" fill="#222">I</text>
<text transform="translate(15.0,241.3) rotate(-90)" font-size="8.8" textLength="70.5" lengthAdjust="spacingAndGlyphs" fill="#222">Intensity (arb.unit)</text>
<text x="243.1" y="404.0" font-size="8.8" textLength="62" lengthAdjust="spacingAndGlyphs" fill="#222">Raman shift (cm</text><text x="305.6" y="400.5" font-size="5.5" fill="#222">-1</text><text x="310.5" y="404.0" font-size="8.8" fill="#222">)</text>
<path d="M53.2,421.5 V564.4 H183.9" fill="none" stroke="#333" stroke-width="1.1"/>
<path d="M50.2,554.00 h3.0" stroke="#333" stroke-width="0.9"/>
<text x="47.0" y="556.40" text-anchor="end" font-size="6.8" fill="#222">40</text>
<path d="M51.4,544.00 h1.8" stroke="#333" stroke-width="0.9"/>
<path d="M50.2,534.00 h3.0" stroke="#333" stroke-width="0.9"/>
<text x="47.0" y="536.40" text-anchor="end" font-size="6.8" fill="#222">50</text>
<path d="M51.4,524.00 h1.8" stroke="#333" stroke-width="0.9"/>
<path d="M50.2,514.00 h3.0" stroke="#333" stroke-width="0.9"/>
<text x="47.0" y="516.40" text-anchor="end" font-size="6.8" fill="#222">60</text>
<path d="M51.4,504.00 h1.8" stroke="#333" stroke-width="0.9"/>
<path d="M50.2,494.00 h3.0" stroke="#333" stroke-width="0.9"/>
<text x="47.0" y="496.40" text-anchor="end" font-size="6.8" fill="#222">70</text>
<path d="M51.4,484.00 h1.8" stroke="#333" stroke-width="0.9"/>
<path d="M50.2,474.00 h3.0" stroke="#333" stroke-width="0.9"/>
<text x="47.0" y="476.40" text-anchor="end" font-size="6.8" fill="#222">80</text>
<path d="M51.4,464.00 h1.8" stroke="#333" stroke-width="0.9"/>
<path d="M50.2,454.00 h3.0" stroke="#333" stroke-width="0.9"/>
<text x="47.0" y="456.40" text-anchor="end" font-size="6.8" fill="#222">90</text>
<path d="M51.4,444.00 h1.8" stroke="#333" stroke-width="0.9"/>
<path d="M50.2,434.00 h3.0" stroke="#333" stroke-width="0.9"/>
<text x="47.0" y="436.40" text-anchor="end" font-size="6.8" fill="#222">100</text>
<path d="M51.4,424.00 h1.8" stroke="#333" stroke-width="0.9"/>
<path d="M62.20,564.4 v3.0" stroke="#333" stroke-width="0.9"/>
<text x="62.20" y="577.2" text-anchor="middle" font-size="6.6" fill="#222">0</text>
<path d="M71.41,564.4 v1.8" stroke="#333" stroke-width="0.9"/>
<path d="M80.62,564.4 v3.0" stroke="#333" stroke-width="0.9"/>
<text x="80.62" y="577.2" text-anchor="middle" font-size="6.6" fill="#222">2</text>
<path d="M89.83,564.4 v1.8" stroke="#333" stroke-width="0.9"/>
<path d="M99.04,564.4 v3.0" stroke="#333" stroke-width="0.9"/>
<text x="99.04" y="577.2" text-anchor="middle" font-size="6.6" fill="#222">4</text>
<path d="M108.25,564.4 v1.8" stroke="#333" stroke-width="0.9"/>
<path d="M117.46,564.4 v3.0" stroke="#333" stroke-width="0.9"/>
<text x="117.46" y="577.2" text-anchor="middle" font-size="6.6" fill="#222">6</text>
<path d="M126.67,564.4 v1.8" stroke="#333" stroke-width="0.9"/>
<path d="M135.88,564.4 v3.0" stroke="#333" stroke-width="0.9"/>
<text x="135.88" y="577.2" text-anchor="middle" font-size="6.6" fill="#222">8</text>
<path d="M145.09,564.4 v1.8" stroke="#333" stroke-width="0.9"/>
<path d="M154.30,564.4 v3.0" stroke="#333" stroke-width="0.9"/>
<text x="154.30" y="577.2" text-anchor="middle" font-size="6.6" fill="#222">10</text>
<path d="M163.51,564.4 v1.8" stroke="#333" stroke-width="0.9"/>
<path d="M172.72,564.4 v3.0" stroke="#333" stroke-width="0.9"/>
<text x="172.72" y="577.2" text-anchor="middle" font-size="6.6" fill="#222">12</text>
<path d="M181.93,564.4 v1.8" stroke="#333" stroke-width="0.9"/>
<path d="M62.2,434.00 L62.7,434.40 L63.2,434.81 L63.7,435.23 L64.2,435.64 L64.7,436.05 L65.2,436.45 L65.7,436.85 L66.2,437.23 L66.7,437.61 L67.2,437.97 L67.7,438.31 L68.2,438.62 L68.7,438.94 L69.2,439.24 L69.7,439.54 L70.2,439.81 L70.7,440.05 L71.2,440.26 L71.7,440.45 L72.2,440.62 L72.7,440.78 L73.2,440.92 L73.7,441.05 L74.2,441.18 L74.7,441.30 L75.2,441.41 L75.7,441.52 L76.2,441.63 L76.7,441.73 L77.2,441.83 L77.7,441.92 L78.2,442.02 L78.7,442.10 L79.2,442.19 L79.7,442.27 L80.2,442.36 L80.7,442.43 L81.2,442.51 L81.7,442.58 L82.2,442.65 L82.7,442.72 L83.2,442.79 L83.7,442.85 L84.2,442.91 L84.7,442.97 L85.2,443.02 L85.7,443.07 L86.2,443.12 L86.7,443.17 L87.2,443.22 L87.7,443.26 L88.2,443.30 L88.7,443.34 L89.2,443.37 L89.7,443.41 L90.2,443.44 L90.7,443.47 L91.2,443.50 L91.7,443.52 L92.2,443.55 L92.7,443.57 L93.2,443.59 L93.7,443.61 L94.2,443.64 L94.7,443.65 L95.2,443.67 L95.7,443.69 L96.2,443.71 L96.7,443.72 L97.2,443.74 L97.7,443.76 L98.2,443.77 L98.7,443.79 L99.2,443.80 L99.7,443.81 L100.2,443.83 L100.7,443.84 L101.2,443.85 L101.7,443.87 L102.2,443.88 L102.7,443.89 L103.2,443.90 L103.7,443.91 L104.2,443.91 L104.7,443.92 L105.2,443.93 L105.7,443.93 L106.2,443.94 L106.7,443.95 L107.2,443.95 L107.7,443.95 L108.2,443.96 L108.7,443.96 L109.2,443.96 L109.7,443.97 L110.2,443.97 L110.7,443.97 L111.2,443.97 L111.7,443.98 L112.2,443.98 L112.7,443.98 L113.2,443.98 L113.7,443.98 L114.2,443.98 L114.7,443.99 L115.2,443.99 L115.7,443.99 L116.2,443.99 L116.7,443.99 L117.2,443.99 L117.7,443.99 L118.2,444.00 L118.7,444.00 L119.2,444.00 L119.7,444.00 L120.2,444.00 L120.7,444.00 L121.2,444.00 L121.7,444.00 L122.2,444.00 L122.7,444.01 L123.2,444.01 L123.7,444.01 L124.2,444.01 L124.7,444.01 L125.2,444.01 L125.7,444.01 L126.2,444.01 L126.7,444.01 L127.2,444.01 L127.7,444.01 L128.2,444.01 L128.7,444.01 L129.2,444.01 L129.7,444.01 L130.2,444.01 L130.7,444.01 L131.2,444.01 L131.7,444.01 L132.2,444.01 L132.7,444.01 L133.2,444.01 L133.7,444.01 L134.2,444.01 L134.7,444.01 L135.2,444.01 L135.7,444.01 L136.2,444.01 L136.7,444.01 L137.2,444.01 L137.7,444.01 L138.2,444.01 L138.7,444.01 L139.2,444.01 L139.7,444.01 L140.2,444.01 L140.7,444.01 L141.2,444.01 L141.7,444.01 L142.2,444.01 L142.7,444.01 L143.2,444.01 L143.7,444.01 L144.2,444.01 L144.7,444.01 L145.2,444.01 L145.7,444.01 L146.2,444.01 L146.7,444.01 L147.2,444.01 L147.7,444.01 L148.2,444.01 L148.7,444.01 L149.2,444.01 L149.7,444.01 L150.2,444.01 L150.7,444.01 L151.2,444.01 L151.7,444.01 L152.2,444.01 L152.7,444.01 L153.2,444.01 L153.7,444.01 L154.2,444.01 L154.7,444.01 L155.2,444.01 L155.7,444.01 L156.2,444.01 L156.7,444.01 L157.2,444.01 L157.7,444.01 L158.2,444.01 L158.7,444.01 L159.2,444.01 L159.7,444.01 L160.2,444.01 L160.7,444.01 L161.2,444.01 L161.7,444.01 L162.2,444.00 L162.7,444.00 L163.2,444.00 L163.7,444.00 L164.2,444.00 L164.7,444.00 L165.2,444.00 L165.7,444.00 L166.2,444.00 L166.7,444.00 L167.2,444.00 L167.7,444.00 L168.2,444.00 L168.7,444.00 L169.2,444.00 L169.7,444.00 L170.2,444.00 L170.7,444.00 L171.2,444.00 L171.7,444.00 L172.2,444.00 L172.6,444.00" fill="none" stroke="#8d8d8d" stroke-width="1.1"/>
<path d="M62.2,434.00 L62.7,435.69 L63.2,437.38 L63.7,439.03 L64.2,440.64 L64.7,442.23 L65.2,443.77 L65.7,445.19 L66.2,446.52 L66.7,447.81 L67.2,449.07 L67.7,450.27 L68.2,451.39 L68.7,452.42 L69.2,453.37 L69.7,454.30 L70.2,455.20 L70.7,456.04 L71.2,456.81 L71.7,457.51 L72.2,458.13 L72.7,458.68 L73.2,459.20 L73.7,459.67 L74.2,460.12 L74.7,460.55 L75.2,460.95 L75.7,461.34 L76.2,461.71 L76.7,462.06 L77.2,462.39 L77.7,462.71 L78.2,463.02 L78.7,463.31 L79.2,463.58 L79.7,463.85 L80.2,464.10 L80.7,464.33 L81.2,464.55 L81.7,464.76 L82.2,464.96 L82.7,465.15 L83.2,465.34 L83.7,465.51 L84.2,465.69 L84.7,465.85 L85.2,466.02 L85.7,466.18 L86.2,466.33 L86.7,466.49 L87.2,466.64 L87.7,466.80 L88.2,466.95 L88.7,467.10 L89.2,467.25 L89.7,467.41 L90.2,467.56 L90.7,467.71 L91.2,467.85 L91.7,467.98 L92.2,468.10 L92.7,468.22 L93.2,468.34 L93.7,468.45 L94.2,468.57 L94.7,468.68 L95.2,468.80 L95.7,468.92 L96.2,469.04 L96.7,469.17 L97.2,469.31 L97.7,469.45 L98.2,469.62 L98.7,469.80 L99.2,470.00 L99.7,470.23 L100.2,470.47 L100.7,470.75 L101.2,471.06 L101.7,471.40 L102.2,471.77 L102.7,472.17 L103.2,472.57 L103.7,472.98 L104.2,473.38 L104.7,473.77 L105.2,474.15 L105.7,474.53 L106.2,474.92 L106.7,475.30 L107.2,475.69 L107.7,476.08 L108.2,476.47 L108.7,476.87 L109.2,477.26 L109.7,477.66 L110.2,478.06 L110.7,478.46 L111.2,478.86 L111.7,479.26 L112.2,479.67 L112.7,480.08 L113.2,480.49 L113.7,480.91 L114.2,481.32 L114.7,481.75 L115.2,482.17 L115.7,482.61 L116.2,483.06 L116.7,483.52 L117.2,483.98 L117.7,484.46 L118.2,484.93 L118.7,485.41 L119.2,485.90 L119.7,486.38 L120.2,486.86 L120.7,487.33 L121.2,487.80 L121.7,488.26 L122.2,488.71 L122.7,489.15 L123.2,489.58 L123.7,489.99 L124.2,490.39 L124.7,490.78 L125.2,491.14 L125.7,491.50 L126.2,491.84 L126.7,492.18 L127.2,492.51 L127.7,492.83 L128.2,493.14 L128.7,493.44 L129.2,493.74 L129.7,494.04 L130.2,494.32 L130.7,494.61 L131.2,494.89 L131.7,495.16 L132.2,495.43 L132.7,495.70 L133.2,495.97 L133.7,496.23 L134.2,496.49 L134.7,496.74 L135.2,497.00 L135.7,497.25 L136.2,497.50 L136.7,497.75 L137.2,497.99 L137.7,498.23 L138.2,498.46 L138.7,498.69 L139.2,498.91 L139.7,499.13 L140.2,499.34 L140.7,499.54 L141.2,499.74 L141.7,499.92 L142.2,500.10 L142.7,500.28 L143.2,500.44 L143.7,500.60 L144.2,500.76 L144.7,500.91 L145.2,501.06 L145.7,501.20 L146.2,501.33 L146.7,501.45 L147.2,501.57 L147.7,501.68 L148.2,501.79 L148.7,501.90 L149.2,502.00 L149.7,502.09 L150.2,502.19 L150.7,502.28 L151.2,502.37 L151.7,502.46 L152.2,502.54 L152.7,502.62 L153.2,502.71 L153.7,502.79 L154.2,502.87 L154.7,502.95 L155.2,503.03 L155.7,503.11 L156.2,503.18 L156.7,503.25 L157.2,503.32 L157.7,503.38 L158.2,503.44 L158.7,503.50 L159.2,503.56 L159.7,503.61 L160.2,503.67 L160.7,503.72 L161.2,503.77 L161.7,503.82 L162.2,503.87 L162.7,503.92 L163.2,503.98 L163.4,504.00" fill="none" stroke="#e09a35" stroke-width="1.1"/>
<path d="M62.2,434.00 L62.7,435.81 L63.2,437.66 L63.7,439.68 L64.2,442.01 L64.7,444.70 L65.2,447.58 L65.7,450.40 L66.2,452.99 L66.7,455.39 L67.2,457.69 L67.7,460.03 L68.2,462.54 L68.7,465.29 L69.2,468.17 L69.7,470.95 L70.2,473.45 L70.7,475.74 L71.2,477.86 L71.7,479.87 L72.2,481.76 L72.7,483.64 L73.2,485.14 L73.7,486.28 L74.2,487.28 L74.7,488.21 L75.2,489.08 L75.7,489.89 L76.2,490.65 L76.7,491.36 L77.2,492.02 L77.7,492.64 L78.2,493.23 L78.7,493.77 L79.2,494.28 L79.7,494.77 L80.2,495.24 L80.7,495.70 L81.2,496.15 L81.7,496.60 L82.2,497.05 L82.7,497.49 L83.2,497.94 L83.7,498.39 L84.2,498.85 L84.7,499.32 L85.2,499.80 L85.7,500.30 L86.2,500.82 L86.7,501.35 L87.2,501.88 L87.7,502.43 L88.2,502.98 L88.7,503.53 L89.2,504.08 L89.7,504.63 L90.2,505.16 L90.7,505.69 L91.2,506.21 L91.7,506.71 L92.2,507.19 L92.7,507.68 L93.2,508.18 L93.7,508.68 L94.2,509.17 L94.7,509.66 L95.2,510.13 L95.7,510.59 L96.2,511.04 L96.7,511.47 L97.2,511.87 L97.7,512.26 L98.2,512.62 L98.7,512.97 L99.2,513.30 L99.7,513.61 L100.2,513.91 L100.7,514.19 L101.2,514.46 L101.7,514.72 L102.2,514.98 L102.7,515.23 L103.2,515.47 L103.7,515.71 L104.2,515.94 L104.7,516.17 L105.2,516.40 L105.7,516.62 L106.2,516.84 L106.7,517.06 L107.2,517.28 L107.7,517.50 L108.2,517.71 L108.7,517.93 L109.2,518.15 L109.7,518.37 L110.2,518.59 L110.7,518.81 L111.2,519.03 L111.7,519.25 L112.2,519.47 L112.7,519.68 L113.2,519.89 L113.7,520.10 L114.2,520.31 L114.7,520.52 L115.2,520.72 L115.7,520.91 L116.2,521.11 L116.7,521.30 L117.2,521.49 L117.7,521.67 L118.2,521.86 L118.7,522.04 L119.2,522.22 L119.7,522.39 L120.2,522.57 L120.7,522.74 L121.2,522.91 L121.7,523.08 L122.2,523.25 L122.7,523.41 L123.2,523.58 L123.7,523.74 L124.2,523.90 L124.7,524.07 L125.2,524.23 L125.7,524.39 L126.2,524.55 L126.7,524.71 L127.2,524.87 L127.7,525.03 L128.2,525.18 L128.7,525.34 L129.2,525.50 L129.7,525.66 L130.2,525.81 L130.7,525.97 L131.2,526.13 L131.7,526.29 L132.2,526.44 L132.7,526.60 L133.2,526.76 L133.7,526.91 L134.2,527.07 L134.7,527.23 L135.2,527.38 L135.7,527.54 L136.2,527.70" fill="none" stroke="#64365f" stroke-width="1.1"/>
<rect x="65.60" y="459.40" width="5.00" height="5.00" fill="#64365f"/>
<rect x="71.30" y="485.50" width="5.00" height="5.00" fill="#64365f"/>
<rect x="82.90" y="497.50" width="5.00" height="5.00" fill="#64365f"/>
<rect x="96.70" y="511.30" width="5.00" height="5.00" fill="#64365f"/>
<rect x="133.70" y="525.20" width="5.00" height="5.00" fill="#64365f"/>
<rect x="59.70" y="431.50" width="5.00" height="5.00" fill="#64365f"/>
<circle cx="73.40" cy="465.80" r="2.60" fill="#e09a35"/>
<circle cx="99.20" cy="470.00" r="2.60" fill="#e09a35"/>
<circle cx="136.20" cy="500.00" r="2.60" fill="#e09a35"/>
<circle cx="163.40" cy="503.90" r="2.60" fill="#e09a35"/>
<circle cx="62.20" cy="434.00" r="2.60" fill="#e09a35"/>
<path d="M62.20,430.35 L65.30,435.93 L59.10,435.93 Z" fill="#8d8d8d"/>
<path d="M73.50,437.85 L76.60,443.43 L70.40,443.43 Z" fill="#8d8d8d"/>
<path d="M99.20,440.05 L102.30,445.63 L96.10,445.63 Z" fill="#8d8d8d"/>
<path d="M136.20,440.05 L139.30,445.63 L133.10,445.63 Z" fill="#8d8d8d"/>
<path d="M163.40,440.05 L166.50,445.63 L160.30,445.63 Z" fill="#8d8d8d"/>
<path d="M172.60,440.05 L175.70,445.63 L169.50,445.63 Z" fill="#8d8d8d"/>
<path d="M62.3,528.9 H76.2" stroke="#64365f" stroke-width="1.1"/>
<rect x="66.70" y="526.40" width="5.00" height="5.00" fill="#64365f"/>
<text x="79.6" y="531.2" font-size="6.6" fill="#333">z-But</text>
<path d="M62.3,540.6 H76.2" stroke="#e09a35" stroke-width="1.1"/>
<circle cx="69.20" cy="540.60" r="2.60" fill="#e09a35"/>
<text x="79.6" y="542.9" font-size="6.6" fill="#333">z-lig</text>
<path d="M62.3,551.5 H76.2" stroke="#8d8d8d" stroke-width="1.1"/>
<path d="M69.20,548.15 L72.30,553.73 L66.10,553.73 Z" fill="#8d8d8d"/>
<text x="79.6" y="553.8" font-size="6.6" fill="#333">2,3-BPG</text>
<text x="62.9" y="589.9" font-size="9.6" textLength="109.9" lengthAdjust="spacingAndGlyphs" fill="#222">Effector concentration (mM)</text>
<text transform="translate(28.8,564.4) rotate(-90)" font-size="9.2" textLength="143" lengthAdjust="spacingAndGlyphs" fill="#222">Percentages of high affinity state (%)</text>
<defs><clipPath id="clipH"><rect x="201.9" y="437.7" width="147.3" height="147.0"/></clipPath>
<clipPath id="clipI"><rect x="201.9" y="437.5" width="148.8" height="147.8"/></clipPath></defs>
<g clip-path="url(#clipH)"><rect x="201.9" y="437.7" width="152" height="150" fill="#fff"/>
<path d="M333,437.7 L352,437.7 L352,447.5 Q338,444.5 333,437.7 Z" fill="#b6b5cf"/>
<path d="M298,437.7 L330,437.7 Q318,443 302,440.5 Z" fill="#e2e0e9"/>
<path d="M226,437.7 L250,437.7 L250,478 L230,478 Q217,462 226,437.7 Z" fill="#ece0e1"/>
<path d="M210,452 L218,461" stroke="#ededed" stroke-width="1.5"/>
<path d="M202,505 Q222,498 234,520 L234,536 Q220,514 202,516 Z" fill="#f2ebeb"/>
<path d="M330,560 Q346,566 340,575 Q334,581 322,582" fill="none" stroke="#ecdede" stroke-width="3.2"/>
<path d="M332.3,578.3 L335.2,578.5 L336.5,566.8 L333.7,566.6 Z" fill="#d8c2c0" stroke="#d8c2c0" stroke-width="0.6" fill-opacity="0.95" stroke-opacity="0.95"/>
<path d="M329.9,578.4 L332.5,578.4 L333.4,566.5 L330.8,566.5 Z" fill="#d1bcba" stroke="#d1bcba" stroke-width="0.6" fill-opacity="0.95" stroke-opacity="0.95"/>
<path d="M328.1,578.5 L330.3,578.4 L330.5,566.5 L328.3,566.5 Z" fill="#c9b6b4" stroke="#c9b6b4" stroke-width="0.6" fill-opacity="0.95" stroke-opacity="0.95"/>
<path d="M326.9,578.6 L328.5,578.5 L327.9,566.5 L326.3,566.7 Z" fill="#c1b0ae" stroke="#c1b0ae" stroke-width="0.6" fill-opacity="0.95" stroke-opacity="0.95"/>
<path d="M333.1,554.3 L336.1,554.9 L337.9,543.7 L334.9,543.1 Z" fill="#e3cbc9" stroke="#e3cbc9" stroke-width="0.6" fill-opacity="0.95" stroke-opacity="0.95"/>
<path d="M330.2,554.1 L333.2,554.5 L334.9,543.0 L331.8,542.6 Z" fill="#dfc8c6" stroke="#dfc8c6" stroke-width="0.6" fill-opacity="0.95" stroke-opacity="0.95"/>
<path d="M336.2,554.8 L339.0,555.6 L340.6,544.7 L337.8,543.9 Z" fill="#e3cac8" stroke="#e3cac8" stroke-width="0.6" fill-opacity="0.95" stroke-opacity="0.95"/>
<path d="M327.4,554.1 L330.3,554.3 L331.7,542.5 L328.8,542.4 Z" fill="#d8c2c0" stroke="#d8c2c0" stroke-width="0.6" fill-opacity="0.95" stroke-opacity="0.95"/>
<path d="M326.4,578.7 L327.3,578.6 L325.9,566.7 L324.9,566.8 Z" fill="#bfaead" stroke="#bfaead" stroke-width="0.6" fill-opacity="0.95" stroke-opacity="0.95"/>
<path d="M339.2,555.4 L341.6,556.5 L342.9,545.9 L340.4,544.9 Z" fill="#e0c8c6" stroke="#e0c8c6" stroke-width="0.6" fill-opacity="0.95" stroke-opacity="0.95"/>
<path d="M325.1,554.2 L327.7,554.2 L328.6,542.3 L326.0,542.3 Z" fill="#d1bcba" stroke="#d1bcba" stroke-width="0.6" fill-opacity="0.95" stroke-opacity="0.95"/>
<path d="M341.9,556.3 L343.9,557.6 L344.6,547.4 L342.6,546.1 Z" fill="#ddc5c3" stroke="#ddc5c3" stroke-width="0.6" fill-opacity="0.95" stroke-opacity="0.95"/>
<path d="M323.3,554.3 L325.4,554.2 L325.6,542.2 L323.5,542.3 Z" fill="#c9b6b4" stroke="#c9b6b4" stroke-width="0.6" fill-opacity="0.95" stroke-opacity="0.95"/>
<path d="M326.5,578.6 L326.8,578.6 L324.4,566.9 L324.1,566.9 Z" fill="#c2b0af" stroke="#c2b0af" stroke-width="0.6" fill-opacity="0.95" stroke-opacity="0.95"/>
<path d="M344.3,557.5 L345.7,559.0 L345.6,549.1 L344.2,547.6 Z" fill="#d8c1c0" stroke="#d8c1c0" stroke-width="0.6" fill-opacity="0.95" stroke-opacity="0.95"/>
<path d="M322.0,554.4 L323.7,554.3 L323.1,542.3 L321.5,542.4 Z" fill="#c1b0ae" stroke="#c1b0ae" stroke-width="0.6" fill-opacity="0.95" stroke-opacity="0.95"/>
<path d="M327.4,578.4 L327.0,578.5 L323.6,567.0 L324.0,566.8 Z" fill="#d7c0bf" stroke="#d7c0bf" stroke-width="0.6" fill-opacity="0.95" stroke-opacity="0.95"/>
<path d="M346.1,558.9 L346.8,560.6 L346.0,551.0 L345.2,549.3 Z" fill="#d2bdbb" stroke="#d2bdbb" stroke-width="0.6" fill-opacity="0.95" stroke-opacity="0.95"/>
<path d="M328.3,530.1 L331.3,530.7 L333.0,519.5 L330.1,518.9 Z" fill="#e3cbc9" stroke="#e3cbc9" stroke-width="0.6" fill-opacity="0.95" stroke-opacity="0.95"/>
<path d="M325.3,529.9 L328.3,530.3 L330.0,518.8 L327.0,518.4 Z" fill="#dfc8c6" stroke="#dfc8c6" stroke-width="0.6" fill-opacity="0.95" stroke-opacity="0.95"/>
<path d="M331.4,530.5 L334.2,531.3 L335.8,520.5 L333.0,519.6 Z" fill="#e3cac8" stroke="#e3cac8" stroke-width="0.6" fill-opacity="0.95" stroke-opacity="0.95"/>
<path d="M322.6,529.9 L325.5,530.0 L326.9,518.3 L324.0,518.1 Z" fill="#d8c2c0" stroke="#d8c2c0" stroke-width="0.6" fill-opacity="0.95" stroke-opacity="0.95"/>
<path d="M321.5,554.5 L322.5,554.4 L321.0,542.5 L320.0,542.6 Z" fill="#bfaead" stroke="#bfaead" stroke-width="0.6" fill-opacity="0.95" stroke-opacity="0.95"/>
<path d="M334.3,531.2 L336.8,532.3 L338.0,521.7 L335.6,520.6 Z" fill="#e0c8c6" stroke="#e0c8c6" stroke-width="0.6" fill-opacity="0.95" stroke-opacity="0.95"/>
<path d="M328.8,577.9 L327.8,578.2 L323.6,567.0 L324.6,566.7 Z" fill="#ddc5c4" stroke="#ddc5c4" stroke-width="0.6" fill-opacity="0.95" stroke-opacity="0.95"/>
<path d="M320.2,529.9 L322.8,529.9 L323.7,518.1 L321.1,518.0 Z" fill="#d1bcba" stroke="#d1bcba" stroke-width="0.6" fill-opacity="0.95" stroke-opacity="0.95"/>
<path d="M347.3,560.5 L347.4,562.4 L345.6,553.0 L345.5,551.1 Z" fill="#c6b3b2" stroke="#c6b3b2" stroke-width="0.6" fill-opacity="0.95" stroke-opacity="0.95"/>
<path d="M337.1,532.1 L339.1,533.4 L339.7,523.2 L337.8,521.9 Z" fill="#ddc5c3" stroke="#ddc5c3" stroke-width="0.6" fill-opacity="0.95" stroke-opacity="0.95"/>
<path d="M318.4,530.1 L320.6,530.0 L320.8,518.0 L318.6,518.1 Z" fill="#c9b6b4" stroke="#c9b6b4" stroke-width="0.6" fill-opacity="0.95" stroke-opacity="0.95"/>
<path d="M321.7,554.4 L322.0,554.4 L319.6,542.6 L319.3,542.6 Z" fill="#c2b0af" stroke="#c2b0af" stroke-width="0.6" fill-opacity="0.95" stroke-opacity="0.95"/>
<path d="M330.8,577.2 L329.2,577.7 L324.3,566.8 L325.9,566.3 Z" fill="#e2c9c7" stroke="#e2c9c7" stroke-width="0.6" fill-opacity="0.95" stroke-opacity="0.95"/>
<path d="M347.8,562.3 L347.2,564.2 L344.5,555.0 L345.1,553.1 Z" fill="#c3b1b0" stroke="#c3b1b0" stroke-width="0.6" fill-opacity="0.95" stroke-opacity="0.95"/>
<path d="M339.4,533.2 L340.8,534.8 L340.8,524.9 L339.4,523.4 Z" fill="#d8c1c0" stroke="#d8c1c0" stroke-width="0.6" fill-opacity="0.95" stroke-opacity="0.95"/>
<path d="M317.2,530.2 L318.8,530.1 L318.2,518.1 L316.6,518.2 Z" fill="#c1b0ae" stroke="#c1b0ae" stroke-width="0.6" fill-opacity="0.95" stroke-opacity="0.95"/>
<path d="M347.7,564.2 L346.4,566.2 L342.8,557.0 L344.0,555.1 Z" fill="#c5b3b2" stroke="#c5b3b2" stroke-width="0.6" fill-opacity="0.95" stroke-opacity="0.95"/>
<path d="M333.1,576.2 L331.1,577.0 L325.6,566.4 L327.7,565.7 Z" fill="#e6ccca" stroke="#e6ccca" stroke-width="0.6" fill-opacity="0.95" stroke-opacity="0.95"/>
<path d="M322.5,554.1 L322.1,554.3 L318.8,542.7 L319.2,542.6 Z" fill="#d7c0bf" stroke="#d7c0bf" stroke-width="0.6" fill-opacity="0.95" stroke-opacity="0.95"/>
<path d="M341.2,534.6 L342.0,536.4 L341.1,526.8 L340.4,525.0 Z" fill="#d2bdbb" stroke="#d2bdbb" stroke-width="0.6" fill-opacity="0.95" stroke-opacity="0.95"/>
<path d="M346.8,566.2 L345.1,568.1 L340.6,559.0 L342.4,557.0 Z" fill="#cebab8" stroke="#cebab8" stroke-width="0.6" fill-opacity="0.95" stroke-opacity="0.95"/>
<path d="M335.8,575.0 L333.3,576.1 L327.5,565.8 L329.9,564.8 Z" fill="#e9cfcd" stroke="#e9cfcd" stroke-width="0.6" fill-opacity="0.95" stroke-opacity="0.95"/>
<path d="M316.7,530.2 L317.6,530.1 L316.2,518.2 L315.2,518.3 Z" fill="#bfaead" stroke="#bfaead" stroke-width="0.6" fill-opacity="0.95" stroke-opacity="0.95"/>
<path d="M345.4,568.2 L343.2,570.0 L338.0,560.8 L340.3,558.9 Z" fill="#d6c0be" stroke="#d6c0be" stroke-width="0.6" fill-opacity="0.95" stroke-opacity="0.95"/>
<path d="M324.0,553.7 L322.9,554.0 L318.8,542.8 L319.8,542.4 Z" fill="#ddc5c4" stroke="#ddc5c4" stroke-width="0.6" fill-opacity="0.95" stroke-opacity="0.95"/>
<path d="M338.4,573.6 L335.8,574.9 L329.8,564.9 L332.5,563.7 Z" fill="#e9cfcd" stroke="#e9cfcd" stroke-width="0.6" fill-opacity="0.95" stroke-opacity="0.95"/>
<path d="M342.5,536.3 L342.5,538.1 L340.7,528.7 L340.6,526.9 Z" fill="#c6b3b2" stroke="#c6b3b2" stroke-width="0.6" fill-opacity="0.95" stroke-opacity="0.95"/>
<path d="M343.4,570.1 L340.9,571.8 L335.3,562.4 L337.8,560.7 Z" fill="#dec6c4" stroke="#dec6c4" stroke-width="0.6" fill-opacity="0.95" stroke-opacity="0.95"/>
<path d="M341.1,571.9 L338.4,573.4 L332.5,563.8 L335.1,562.3 Z" fill="#e5ccca" stroke="#e5ccca" stroke-width="0.6" fill-opacity="0.95" stroke-opacity="0.95"/>
<path d="M316.8,530.2 L317.1,530.2 L314.7,518.4 L314.4,518.4 Z" fill="#c2b0af" stroke="#c2b0af" stroke-width="0.6" fill-opacity="0.95" stroke-opacity="0.95"/>
<path d="M325.9,553.0 L324.3,553.5 L319.4,542.6 L321.0,542.0 Z" fill="#e2c9c7" stroke="#e2c9c7" stroke-width="0.6" fill-opacity="0.95" stroke-opacity="0.95"/>
<path d="M343.0,538.0 L342.4,540.0 L339.6,530.8 L340.2,528.8 Z" fill="#c3b1b0" stroke="#c3b1b0" stroke-width="0.6" fill-opacity="0.95" stroke-opacity="0.95"/>
<path d="M342.8,540.0 L341.6,541.9 L337.9,532.8 L339.2,530.8 Z" fill="#c5b3b2" stroke="#c5b3b2" stroke-width="0.6" fill-opacity="0.95" stroke-opacity="0.95"/>
<path d="M328.3,552.0 L326.2,552.8 L320.7,542.2 L322.8,541.4 Z" fill="#e6ccca" stroke="#e6ccca" stroke-width="0.6" fill-opacity="0.95" stroke-opacity="0.95"/>
<path d="M317.7,529.9 L317.3,530.0 L314.0,518.5 L314.3,518.4 Z" fill="#d7c0bf" stroke="#d7c0bf" stroke-width="0.6" fill-opacity="0.95" stroke-opacity="0.95"/>
<path d="M342.0,541.9 L340.2,543.9 L335.8,534.7 L337.5,532.8 Z" fill="#cebab8" stroke="#cebab8" stroke-width="0.6" fill-opacity="0.95" stroke-opacity="0.95"/>
<path d="M330.9,550.8 L328.5,551.8 L322.6,541.6 L325.1,540.6 Z" fill="#e9cfcd" stroke="#e9cfcd" stroke-width="0.6" fill-opacity="0.95" stroke-opacity="0.95"/>
<path d="M340.5,543.9 L338.3,545.8 L333.2,536.5 L335.4,534.7 Z" fill="#d6c0be" stroke="#d6c0be" stroke-width="0.6" fill-opacity="0.95" stroke-opacity="0.95"/>
<path d="M319.1,529.4 L318.1,529.8 L313.9,518.5 L314.9,518.2 Z" fill="#ddc5c4" stroke="#ddc5c4" stroke-width="0.6" fill-opacity="0.95" stroke-opacity="0.95"/>
<path d="M333.6,549.3 L331.0,550.6 L325.0,540.7 L327.6,539.4 Z" fill="#e9cfcd" stroke="#e9cfcd" stroke-width="0.6" fill-opacity="0.95" stroke-opacity="0.95"/>
<path d="M338.6,545.9 L336.1,547.6 L330.4,538.2 L333.0,536.5 Z" fill="#dec6c4" stroke="#dec6c4" stroke-width="0.6" fill-opacity="0.95" stroke-opacity="0.95"/>
<path d="M336.2,547.7 L333.6,549.2 L327.6,539.6 L330.3,538.1 Z" fill="#e5ccca" stroke="#e5ccca" stroke-width="0.6" fill-opacity="0.95" stroke-opacity="0.95"/>
<ellipse cx="226" cy="560" rx="10.5" ry="16" fill="none" stroke="#e9dddd" stroke-width="4.5"/>
<ellipse cx="216" cy="556" rx="11" ry="17" fill="none" stroke="#d2b8b5" stroke-width="4.2"/>
<path d="M222,541 Q229,550 227,563" fill="none" stroke="#a88e8b" stroke-width="1.6"/>
<ellipse cx="206" cy="549" rx="7.5" ry="15" fill="none" stroke="#a27a76" stroke-width="4.6"/>
<path d="M211,537 Q215,548 212,561" fill="none" stroke="#7d5a56" stroke-width="1.6"/>
<path d="M262.5,458.0 L265.8,457.8 L265.0,441.2 L261.6,441.4 Z" fill="#fff6f4" stroke="#fff6f4" stroke-width="0.6" fill-opacity="0.93" stroke-opacity="0.93"/>
<path d="M259.2,458.0 L262.5,457.9 L261.6,441.5 L258.3,441.6 Z" fill="#faeeed" stroke="#faeeed" stroke-width="0.6" fill-opacity="0.93" stroke-opacity="0.93"/>
<path d="M265.8,457.8 L269.1,457.5 L268.2,440.9 L265.0,441.2 Z" fill="#fff9f7" stroke="#fff9f7" stroke-width="0.6" fill-opacity="0.93" stroke-opacity="0.93"/>
<path d="M256.0,457.8 L259.3,457.9 L258.2,441.7 L255.0,441.6 Z" fill="#dfc4c1" stroke="#dfc4c1" stroke-width="0.6" fill-opacity="0.93" stroke-opacity="0.93"/>
<path d="M269.2,457.6 L272.3,457.2 L271.3,440.5 L268.2,440.8 Z" fill="#fff6f5" stroke="#fff6f5" stroke-width="0.6" fill-opacity="0.93" stroke-opacity="0.93"/>
<path d="M253.0,457.6 L256.1,457.8 L254.8,441.7 L251.7,441.5 Z" fill="#cfb5b2" stroke="#cfb5b2" stroke-width="0.6" fill-opacity="0.93" stroke-opacity="0.93"/>
<path d="M272.4,457.3 L275.4,456.9 L274.2,440.0 L271.2,440.4 Z" fill="#fbefed" stroke="#fbefed" stroke-width="0.6" fill-opacity="0.93" stroke-opacity="0.93"/>
<path d="M250.3,457.1 L253.2,457.5 L251.6,441.6 L248.7,441.3 Z" fill="#c4aba8" stroke="#c4aba8" stroke-width="0.6" fill-opacity="0.93" stroke-opacity="0.93"/>
<path d="M275.5,456.9 L278.3,456.5 L276.8,439.6 L274.1,440.0 Z" fill="#f3e7e5" stroke="#f3e7e5" stroke-width="0.6" fill-opacity="0.93" stroke-opacity="0.93"/>
<path d="M247.8,456.5 L250.5,457.0 L248.5,441.4 L245.9,440.9 Z" fill="#bca3a0" stroke="#bca3a0" stroke-width="0.6" fill-opacity="0.93" stroke-opacity="0.93"/>
<path d="M278.5,456.5 L280.9,456.0 L279.1,439.2 L276.6,439.6 Z" fill="#ede0df" stroke="#ede0df" stroke-width="0.6" fill-opacity="0.93" stroke-opacity="0.93"/>
<path d="M245.7,455.7 L248.1,456.4 L245.7,441.0 L243.4,440.3 Z" fill="#b39b98" stroke="#b39b98" stroke-width="0.6" fill-opacity="0.93" stroke-opacity="0.93"/>
<path d="M270.6,489.7 L274.0,489.6 L273.1,473.1 L269.8,473.3 Z" fill="#fddedb" stroke="#fddedb" stroke-width="0.6" fill-opacity="0.93" stroke-opacity="0.93"/>
<path d="M274.0,489.6 L277.3,489.4 L276.4,472.8 L273.1,473.0 Z" fill="#ffede9" stroke="#ffede9" stroke-width="0.6" fill-opacity="0.93" stroke-opacity="0.93"/>
<path d="M267.4,489.7 L270.7,489.6 L269.7,473.3 L266.4,473.4 Z" fill="#e7c9c6" stroke="#e7c9c6" stroke-width="0.6" fill-opacity="0.93" stroke-opacity="0.93"/>
<path d="M277.3,489.4 L280.6,489.1 L279.6,472.4 L276.4,472.7 Z" fill="#ffedea" stroke="#ffedea" stroke-width="0.6" fill-opacity="0.93" stroke-opacity="0.93"/>
<path d="M264.3,489.5 L267.5,489.6 L266.3,473.5 L263.1,473.4 Z" fill="#d3b6b3" stroke="#d3b6b3" stroke-width="0.6" fill-opacity="0.93" stroke-opacity="0.93"/>
<path d="M281.1,456.0 L283.2,455.7 L280.9,438.8 L278.9,439.2 Z" fill="#e8dbda" stroke="#e8dbda" stroke-width="0.6" fill-opacity="0.93" stroke-opacity="0.93"/>
<path d="M280.6,489.2 L283.7,488.8 L282.6,472.0 L279.5,472.4 Z" fill="#ffdfdb" stroke="#ffdfdb" stroke-width="0.6" fill-opacity="0.93" stroke-opacity="0.93"/>
<path d="M261.4,489.1 L264.4,489.4 L263.0,473.5 L260.0,473.2 Z" fill="#c5a9a6" stroke="#c5a9a6" stroke-width="0.6" fill-opacity="0.93" stroke-opacity="0.93"/>
<path d="M244.0,454.8 L246.0,455.6 L243.1,440.5 L241.2,439.6 Z" fill="#a99290" stroke="#a99290" stroke-width="0.6" fill-opacity="0.93" stroke-opacity="0.93"/>
<path d="M283.8,488.8 L286.7,488.4 L285.4,471.6 L282.5,472.0 Z" fill="#ebcbc7" stroke="#ebcbc7" stroke-width="0.6" fill-opacity="0.93" stroke-opacity="0.93"/>
<path d="M258.8,488.6 L261.6,489.0 L259.8,473.3 L257.1,472.9 Z" fill="#bba09d" stroke="#bba09d" stroke-width="0.6" fill-opacity="0.93" stroke-opacity="0.93"/>
<path d="M283.4,455.6 L285.1,455.3 L282.4,438.5 L280.7,438.8 Z" fill="#e4d7d6" stroke="#e4d7d6" stroke-width="0.6" fill-opacity="0.93" stroke-opacity="0.93"/>
<path d="M277.7,423.1 L278.3,423.0 L274.3,406.5 L273.7,406.6 Z" fill="#efeaea" stroke="#efeaea" stroke-width="0.6" fill-opacity="0.93" stroke-opacity="0.93"/>
<path d="M286.8,488.4 L289.4,488.0 L287.8,471.1 L285.2,471.5 Z" fill="#d8b9b5" stroke="#d8b9b5" stroke-width="0.6" fill-opacity="0.93" stroke-opacity="0.93"/>
<path d="M242.8,453.7 L244.3,454.7 L240.9,439.7 L239.4,438.7 Z" fill="#9e8986" stroke="#9e8986" stroke-width="0.6" fill-opacity="0.93" stroke-opacity="0.93"/>
<path d="M256.6,487.9 L259.0,488.5 L256.9,473.0 L254.4,472.4 Z" fill="#b29894" stroke="#b29894" stroke-width="0.6" fill-opacity="0.93" stroke-opacity="0.93"/>
<path d="M285.3,455.3 L286.6,455.0 L283.4,438.3 L282.1,438.6 Z" fill="#e0d3d1" stroke="#e0d3d1" stroke-width="0.6" fill-opacity="0.93" stroke-opacity="0.93"/>
<path d="M282.1,521.4 L285.5,521.2 L284.6,504.7 L281.3,504.9 Z" fill="#ffe5e1" stroke="#ffe5e1" stroke-width="0.6" fill-opacity="0.93" stroke-opacity="0.93"/>
<path d="M278.8,521.5 L282.1,521.4 L281.2,505.0 L277.9,505.1 Z" fill="#f1d1cd" stroke="#f1d1cd" stroke-width="0.6" fill-opacity="0.93" stroke-opacity="0.93"/>
<path d="M289.6,488.0 L291.9,487.6 L289.9,470.7 L287.6,471.1 Z" fill="#ccaca8" stroke="#ccaca8" stroke-width="0.6" fill-opacity="0.93" stroke-opacity="0.93"/>
<path d="M285.5,521.3 L288.7,521.0 L287.9,504.4 L284.6,504.6 Z" fill="#ffeeea" stroke="#ffeeea" stroke-width="0.6" fill-opacity="0.93" stroke-opacity="0.93"/>
<path d="M275.6,521.3 L278.9,521.4 L277.8,505.2 L274.6,505.1 Z" fill="#dabab7" stroke="#dabab7" stroke-width="0.6" fill-opacity="0.93" stroke-opacity="0.93"/>
<path d="M241.9,452.4 L243.0,453.6 L239.1,438.8 L238.0,437.6 Z" fill="#95817e" stroke="#95817e" stroke-width="0.6" fill-opacity="0.93" stroke-opacity="0.93"/>
<path d="M278.6,423.0 L278.7,423.0 L274.1,406.7 L274.0,406.6 Z" fill="#eee9e8" stroke="#eee9e8" stroke-width="0.6" fill-opacity="0.93" stroke-opacity="0.93"/>
<path d="M288.8,521.1 L292.0,520.7 L291.0,504.0 L287.8,504.3 Z" fill="#ffe6e2" stroke="#ffe6e2" stroke-width="0.6" fill-opacity="0.93" stroke-opacity="0.93"/>
<path d="M254.7,487.0 L256.8,487.8 L254.2,472.5 L252.0,471.7 Z" fill="#a88f8c" stroke="#a88f8c" stroke-width="0.6" fill-opacity="0.93" stroke-opacity="0.93"/>
<path d="M272.7,521.1 L275.8,521.2 L274.5,505.2 L271.4,505.0 Z" fill="#c8a9a5" stroke="#c8a9a5" stroke-width="0.6" fill-opacity="0.93" stroke-opacity="0.93"/>
<path d="M292.1,520.7 L295.0,520.3 L293.8,503.5 L290.9,503.9 Z" fill="#f4d2ce" stroke="#f4d2ce" stroke-width="0.6" fill-opacity="0.93" stroke-opacity="0.93"/>
<path d="M292.1,487.6 L294.0,487.2 L291.5,470.4 L289.6,470.8 Z" fill="#c2a39f" stroke="#c2a39f" stroke-width="0.6" fill-opacity="0.93" stroke-opacity="0.93"/>
<path d="M286.9,455.0 L287.7,454.8 L284.0,438.3 L283.1,438.4 Z" fill="#dacdcc" stroke="#dacdcc" stroke-width="0.6" fill-opacity="0.93" stroke-opacity="0.93"/>
<path d="M269.9,520.6 L272.8,521.0 L271.2,505.1 L268.3,504.8 Z" fill="#bb9e9a" stroke="#bb9e9a" stroke-width="0.6" fill-opacity="0.93" stroke-opacity="0.93"/>
<path d="M241.5,451.0 L242.2,452.3 L237.7,437.7 L237.0,436.4 Z" fill="#957f7d" stroke="#957f7d" stroke-width="0.6" fill-opacity="0.93" stroke-opacity="0.93"/>
<path d="M253.2,486.0 L254.9,486.9 L251.8,471.9 L250.0,470.9 Z" fill="#9d8582" stroke="#9d8582" stroke-width="0.6" fill-opacity="0.93" stroke-opacity="0.93"/>
<path d="M295.2,520.4 L297.9,519.9 L296.4,503.1 L293.7,503.5 Z" fill="#dfbcb8" stroke="#dfbcb8" stroke-width="0.6" fill-opacity="0.93" stroke-opacity="0.93"/>
<path d="M279.0,422.9 L278.7,423.1 L273.5,406.9 L273.8,406.7 Z" fill="#eee9e9" stroke="#eee9e9" stroke-width="0.6" fill-opacity="0.93" stroke-opacity="0.93"/>
<path d="M267.5,520.0 L270.1,520.5 L268.1,504.9 L265.5,504.4 Z" fill="#b19591" stroke="#b19591" stroke-width="0.6" fill-opacity="0.93" stroke-opacity="0.93"/>
<path d="M294.2,487.2 L295.7,486.9 L292.8,470.2 L291.3,470.4 Z" fill="#ba9b97" stroke="#ba9b97" stroke-width="0.6" fill-opacity="0.93" stroke-opacity="0.93"/>
<path d="M298.1,519.9 L300.5,519.5 L298.7,502.7 L296.3,503.1 Z" fill="#ceaca8" stroke="#ceaca8" stroke-width="0.6" fill-opacity="0.93" stroke-opacity="0.93"/>
<path d="M288.0,454.8 L288.4,454.8 L284.1,438.3 L283.7,438.3 Z" fill="#d4c7c5" stroke="#d4c7c5" stroke-width="0.6" fill-opacity="0.93" stroke-opacity="0.93"/>
<path d="M252.1,484.8 L253.4,485.9 L249.8,471.0 L248.4,469.9 Z" fill="#917b78" stroke="#917b78" stroke-width="0.6" fill-opacity="0.93" stroke-opacity="0.93"/>
<path d="M241.6,449.4 L241.8,450.9 L236.8,436.5 L236.5,435.0 Z" fill="#b89995" stroke="#b89995" stroke-width="0.6" fill-opacity="0.93" stroke-opacity="0.93"/>
<path d="M265.4,519.2 L267.7,519.9 L265.3,504.5 L263.0,503.8 Z" fill="#a78c88" stroke="#a78c88" stroke-width="0.6" fill-opacity="0.93" stroke-opacity="0.93"/>
<path d="M290.3,553.2 L293.6,553.1 L292.7,536.6 L289.4,536.7 Z" fill="#fcd9d5" stroke="#fcd9d5" stroke-width="0.6" fill-opacity="0.93" stroke-opacity="0.93"/>
<path d="M293.6,553.1 L296.9,552.9 L296.1,536.3 L292.7,536.5 Z" fill="#ffeae6" stroke="#ffeae6" stroke-width="0.6" fill-opacity="0.93" stroke-opacity="0.93"/>
<path d="M279.0,423.0 L278.2,423.4 L272.5,407.4 L273.2,407.0 Z" fill="#ede9e8" stroke="#ede9e8" stroke-width="0.6" fill-opacity="0.93" stroke-opacity="0.93"/>
<path d="M287.0,553.2 L290.3,553.1 L289.3,536.8 L286.0,536.9 Z" fill="#e3c1bd" stroke="#e3c1bd" stroke-width="0.6" fill-opacity="0.93" stroke-opacity="0.93"/>
<path d="M297.0,552.9 L300.2,552.6 L299.2,535.9 L296.0,536.2 Z" fill="#ffebe6" stroke="#ffebe6" stroke-width="0.6" fill-opacity="0.93" stroke-opacity="0.93"/>
<path d="M283.9,553.0 L287.1,553.1 L285.9,536.9 L282.8,536.8 Z" fill="#cdaba7" stroke="#cdaba7" stroke-width="0.6" fill-opacity="0.93" stroke-opacity="0.93"/>
<path d="M300.7,519.5 L302.8,519.1 L300.6,502.3 L298.5,502.7 Z" fill="#c3a19d" stroke="#c3a19d" stroke-width="0.6" fill-opacity="0.93" stroke-opacity="0.93"/>
<path d="M296.0,486.9 L297.0,486.7 L293.6,470.0 L292.5,470.2 Z" fill="#b0928f" stroke="#b0928f" stroke-width="0.6" fill-opacity="0.93" stroke-opacity="0.93"/>
<path d="M300.3,552.7 L303.3,552.3 L302.2,535.5 L299.2,535.9 Z" fill="#ffdad6" stroke="#ffdad6" stroke-width="0.6" fill-opacity="0.93" stroke-opacity="0.93"/>
<path d="M251.5,483.4 L252.4,484.7 L248.2,470.0 L247.3,468.8 Z" fill="#8e7775" stroke="#8e7775" stroke-width="0.6" fill-opacity="0.93" stroke-opacity="0.93"/>
<path d="M281.1,552.6 L284.1,552.9 L282.6,536.9 L279.6,536.7 Z" fill="#bd9c99" stroke="#bd9c99" stroke-width="0.6" fill-opacity="0.93" stroke-opacity="0.93"/>
<path d="M263.7,518.3 L265.6,519.1 L262.7,503.9 L260.8,503.1 Z" fill="#9c827f" stroke="#9c827f" stroke-width="0.6" fill-opacity="0.93" stroke-opacity="0.93"/>
<path d="M288.7,454.7 L288.6,454.8 L283.7,438.5 L283.8,438.4 Z" fill="#d0c3c1" stroke="#d0c3c1" stroke-width="0.6" fill-opacity="0.93" stroke-opacity="0.93"/>
<path d="M242.2,447.7 L241.9,449.3 L236.3,435.1 L236.5,433.5 Z" fill="#c09e9a" stroke="#c09e9a" stroke-width="0.6" fill-opacity="0.93" stroke-opacity="0.93"/>
<path d="M303.5,552.3 L306.3,551.9 L305.0,535.0 L302.1,535.5 Z" fill="#e8c3bf" stroke="#e8c3bf" stroke-width="0.6" fill-opacity="0.93" stroke-opacity="0.93"/>
<path d="M278.5,423.3 L277.3,423.8 L271.0,408.0 L272.2,407.5 Z" fill="#efeaea" stroke="#efeaea" stroke-width="0.6" fill-opacity="0.93" stroke-opacity="0.93"/>
<path d="M278.5,552.1 L281.2,552.5 L279.5,536.8 L276.7,536.4 Z" fill="#b1928e" stroke="#b1928e" stroke-width="0.6" fill-opacity="0.93" stroke-opacity="0.93"/>
<path d="M303.0,519.1 L304.7,518.8 L302.0,502.0 L300.3,502.3 Z" fill="#ba9995" stroke="#ba9995" stroke-width="0.6" fill-opacity="0.93" stroke-opacity="0.93"/>
<path d="M297.3,486.6 L297.9,486.5 L293.9,470.0 L293.3,470.1 Z" fill="#a58985" stroke="#a58985" stroke-width="0.6" fill-opacity="0.93" stroke-opacity="0.93"/>
<path d="M306.5,551.9 L309.1,551.5 L307.4,534.6 L304.8,535.0 Z" fill="#d3aeaa" stroke="#d3aeaa" stroke-width="0.6" fill-opacity="0.93" stroke-opacity="0.93"/>
<path d="M262.4,517.2 L263.9,518.2 L260.5,503.2 L259.0,502.2 Z" fill="#907875" stroke="#907875" stroke-width="0.6" fill-opacity="0.93" stroke-opacity="0.93"/>
<path d="M251.3,481.9 L251.8,483.4 L247.0,468.9 L246.5,467.5 Z" fill="#8e7673" stroke="#8e7673" stroke-width="0.6" fill-opacity="0.93" stroke-opacity="0.93"/>
<path d="M243.1,446.0 L242.4,447.7 L236.2,433.5 L236.9,431.8 Z" fill="#c8a39f" stroke="#c8a39f" stroke-width="0.6" fill-opacity="0.93" stroke-opacity="0.93"/>
<path d="M288.8,454.7 L288.3,455.0 L282.9,438.9 L283.4,438.6 Z" fill="#ccbdbc" stroke="#ccbdbc" stroke-width="0.6" fill-opacity="0.93" stroke-opacity="0.93"/>
<path d="M276.2,551.4 L278.7,552.0 L276.5,536.5 L274.0,535.9 Z" fill="#a68985" stroke="#a68985" stroke-width="0.6" fill-opacity="0.93" stroke-opacity="0.93"/>
<path d="M277.5,423.7 L276.0,424.4 L269.2,408.8 L270.8,408.1 Z" fill="#f1eceb" stroke="#f1eceb" stroke-width="0.6" fill-opacity="0.93" stroke-opacity="0.93"/>
<path d="M305.0,518.8 L306.2,518.5 L303.0,501.8 L301.8,502.1 Z" fill="#b0908c" stroke="#b0908c" stroke-width="0.6" fill-opacity="0.93" stroke-opacity="0.93"/>
<path d="M301.7,584.9 L305.1,584.7 L304.2,568.2 L300.9,568.4 Z" fill="#ffe2dd" stroke="#ffe2dd" stroke-width="0.6" fill-opacity="0.93" stroke-opacity="0.93"/>
<path d="M298.4,584.9 L301.8,584.9 L300.8,568.5 L297.5,568.6 Z" fill="#efcac6" stroke="#efcac6" stroke-width="0.6" fill-opacity="0.93" stroke-opacity="0.93"/>
<path d="M309.2,551.5 L311.5,551.1 L309.5,534.2 L307.2,534.6 Z" fill="#c4a09c" stroke="#c4a09c" stroke-width="0.6" fill-opacity="0.93" stroke-opacity="0.93"/>
<path d="M305.1,584.8 L308.4,584.5 L307.5,567.8 L304.2,568.1 Z" fill="#ffece7" stroke="#ffece7" stroke-width="0.6" fill-opacity="0.93" stroke-opacity="0.93"/>
<path d="M295.3,584.8 L298.5,584.9 L297.4,568.6 L294.2,568.6 Z" fill="#d5b1ac" stroke="#d5b1ac" stroke-width="0.6" fill-opacity="0.93" stroke-opacity="0.93"/>
<path d="M261.5,515.9 L262.7,517.1 L258.7,502.3 L257.6,501.1 Z" fill="#866f6c" stroke="#866f6c" stroke-width="0.6" fill-opacity="0.93" stroke-opacity="0.93"/>
<path d="M298.2,486.5 L298.3,486.5 L293.7,470.1 L293.6,470.1 Z" fill="#9a7e7b" stroke="#9a7e7b" stroke-width="0.6" fill-opacity="0.93" stroke-opacity="0.93"/>
<path d="M244.5,444.1 L243.4,445.9 L236.7,431.9 L237.8,430.1 Z" fill="#d0a8a3" stroke="#d0a8a3" stroke-width="0.6" fill-opacity="0.93" stroke-opacity="0.93"/>
<path d="M251.7,480.3 L251.6,481.9 L246.3,467.5 L246.3,466.0 Z" fill="#b79591" stroke="#b79591" stroke-width="0.6" fill-opacity="0.93" stroke-opacity="0.93"/>
<path d="M308.4,584.5 L311.6,584.2 L310.6,567.4 L307.4,567.8 Z" fill="#ffe2de" stroke="#ffe2de" stroke-width="0.6" fill-opacity="0.93" stroke-opacity="0.93"/>
<path d="M274.3,550.5 L276.4,551.3 L273.8,536.0 L271.7,535.2 Z" fill="#9b7f7c" stroke="#9b7f7c" stroke-width="0.6" fill-opacity="0.93" stroke-opacity="0.93"/>
<path d="M292.3,584.5 L295.4,584.7 L294.1,568.7 L291.0,568.5 Z" fill="#c09d99" stroke="#c09d99" stroke-width="0.6" fill-opacity="0.93" stroke-opacity="0.93"/>
<path d="M288.6,454.9 L287.6,455.3 L281.6,439.4 L282.6,439.0 Z" fill="#cabbb9" stroke="#cabbb9" stroke-width="0.6" fill-opacity="0.93" stroke-opacity="0.93"/>
<path d="M276.2,424.3 L274.3,425.2 L267.0,409.8 L268.9,408.9 Z" fill="#f3eded" stroke="#f3eded" stroke-width="0.6" fill-opacity="0.93" stroke-opacity="0.93"/>
<path d="M311.7,584.2 L314.7,583.8 L313.5,567.0 L310.5,567.4 Z" fill="#f3ccc7" stroke="#f3ccc7" stroke-width="0.6" fill-opacity="0.93" stroke-opacity="0.93"/>
<path d="M311.7,551.1 L313.6,550.7 L311.2,533.9 L309.3,534.2 Z" fill="#ba9692" stroke="#ba9692" stroke-width="0.6" fill-opacity="0.93" stroke-opacity="0.93"/>
<path d="M306.5,518.5 L307.3,518.3 L303.6,501.7 L302.8,501.9 Z" fill="#a68683" stroke="#a68683" stroke-width="0.6" fill-opacity="0.93" stroke-opacity="0.93"/>
<path d="M289.5,584.1 L292.4,584.4 L290.8,568.6 L287.9,568.3 Z" fill="#b2908c" stroke="#b2908c" stroke-width="0.6" fill-opacity="0.93" stroke-opacity="0.93"/>
<path d="M246.3,442.2 L244.8,444.1 L237.6,430.1 L239.1,428.2 Z" fill="#d8ada8" stroke="#d8ada8" stroke-width="0.6" fill-opacity="0.93" stroke-opacity="0.93"/>
<path d="M261.2,514.5 L261.8,515.8 L257.3,501.2 L256.7,499.9 Z" fill="#866e6b" stroke="#866e6b" stroke-width="0.6" fill-opacity="0.93" stroke-opacity="0.93"/>
<path d="M272.8,549.5 L274.5,550.4 L271.4,535.3 L269.7,534.4 Z" fill="#8f7571" stroke="#8f7571" stroke-width="0.6" fill-opacity="0.93" stroke-opacity="0.93"/>
<path d="M252.4,478.6 L251.9,480.3 L246.0,466.1 L246.5,464.4 Z" fill="#c09b96" stroke="#c09b96" stroke-width="0.6" fill-opacity="0.93" stroke-opacity="0.93"/>
<path d="M314.8,583.8 L317.5,583.4 L316.1,566.6 L313.3,567.0 Z" fill="#dab3af" stroke="#dab3af" stroke-width="0.6" fill-opacity="0.93" stroke-opacity="0.93"/>
<path d="M298.6,486.4 L298.3,486.6 L293.1,470.4 L293.5,470.2 Z" fill="#997c78" stroke="#997c78" stroke-width="0.6" fill-opacity="0.93" stroke-opacity="0.93"/>
<path d="M274.5,425.0 L272.2,426.1 L264.6,410.9 L266.8,409.9 Z" fill="#f5efee" stroke="#f5efee" stroke-width="0.6" fill-opacity="0.93" stroke-opacity="0.93"/>
<path d="M287.9,455.2 L286.5,455.8 L280.0,440.1 L281.3,439.5 Z" fill="#cebcba" stroke="#cebcba" stroke-width="0.6" fill-opacity="0.93" stroke-opacity="0.93"/>
<path d="M287.1,583.5 L289.7,584.0 L287.8,568.4 L285.1,567.9 Z" fill="#a78682" stroke="#a78682" stroke-width="0.6" fill-opacity="0.93" stroke-opacity="0.93"/>
<path d="M248.4,440.3 L246.5,442.2 L238.9,428.3 L240.8,426.4 Z" fill="#e2b6b0" stroke="#e2b6b0" stroke-width="0.6" fill-opacity="0.93" stroke-opacity="0.93"/>
<path d="M313.9,550.7 L315.3,550.4 L312.4,533.7 L310.9,533.9 Z" fill="#b08e89" stroke="#b08e89" stroke-width="0.6" fill-opacity="0.93" stroke-opacity="0.93"/>
<path d="M317.7,583.4 L320.1,583.0 L318.3,566.2 L315.9,566.6 Z" fill="#c8a19c" stroke="#c8a19c" stroke-width="0.6" fill-opacity="0.93" stroke-opacity="0.93"/>
<path d="M307.6,518.3 L308.0,518.2 L303.7,501.8 L303.3,501.8 Z" fill="#9a7c78" stroke="#9a7c78" stroke-width="0.6" fill-opacity="0.93" stroke-opacity="0.93"/>
<path d="M272.4,426.0 L269.9,427.2 L261.9,412.2 L264.4,411.0 Z" fill="#f7f0f0" stroke="#f7f0f0" stroke-width="0.6" fill-opacity="0.93" stroke-opacity="0.93"/>
<path d="M271.7,548.3 L273.1,549.4 L269.4,534.5 L268.1,533.4 Z" fill="#826966" stroke="#826966" stroke-width="0.6" fill-opacity="0.93" stroke-opacity="0.93"/>
<path d="M253.6,476.8 L252.7,478.6 L246.2,464.5 L247.1,462.7 Z" fill="#c9a09b" stroke="#c9a09b" stroke-width="0.6" fill-opacity="0.93" stroke-opacity="0.93"/>
<path d="M261.3,512.9 L261.5,514.4 L256.4,500.0 L256.2,498.5 Z" fill="#ae8b87" stroke="#ae8b87" stroke-width="0.6" fill-opacity="0.93" stroke-opacity="0.93"/>
<path d="M285.0,582.7 L287.3,583.4 L284.9,568.0 L282.6,567.3 Z" fill="#9b7c79" stroke="#9b7c79" stroke-width="0.6" fill-opacity="0.93" stroke-opacity="0.93"/>
<path d="M250.8,438.4 L248.6,440.3 L240.6,426.4 L242.8,424.5 Z" fill="#f3c4bf" stroke="#f3c4bf" stroke-width="0.6" fill-opacity="0.93" stroke-opacity="0.93"/>
<path d="M298.6,486.5 L297.8,486.9 L292.1,470.9 L292.9,470.5 Z" fill="#927572" stroke="#927572" stroke-width="0.6" fill-opacity="0.93" stroke-opacity="0.93"/>
<path d="M286.7,455.7 L285.0,456.5 L277.9,441.0 L279.7,440.2 Z" fill="#d2bdbb" stroke="#d2bdbb" stroke-width="0.6" fill-opacity="0.93" stroke-opacity="0.93"/>
<path d="M270.1,427.1 L267.4,428.4 L259.1,413.7 L261.8,412.3 Z" fill="#f9f1f1" stroke="#f9f1f1" stroke-width="0.6" fill-opacity="0.93" stroke-opacity="0.93"/>
<path d="M320.3,583.0 L322.4,582.6 L320.2,565.8 L318.1,566.2 Z" fill="#bb9590" stroke="#bb9590" stroke-width="0.6" fill-opacity="0.93" stroke-opacity="0.93"/>
<path d="M315.6,550.3 L316.6,550.2 L313.2,533.5 L312.1,533.7 Z" fill="#a68480" stroke="#a68480" stroke-width="0.6" fill-opacity="0.93" stroke-opacity="0.93"/>
<path d="M253.4,436.5 L250.9,438.4 L242.6,424.4 L245.1,422.5 Z" fill="#ffdbd6" stroke="#ffdbd6" stroke-width="0.6" fill-opacity="0.93" stroke-opacity="0.93"/>
<path d="M255.2,474.9 L253.8,476.8 L246.9,462.7 L248.2,460.9 Z" fill="#d1a5a0" stroke="#d1a5a0" stroke-width="0.6" fill-opacity="0.93" stroke-opacity="0.93"/>
<path d="M267.5,428.3 L264.7,429.8 L256.2,415.3 L259.0,413.8 Z" fill="#fdf4f3" stroke="#fdf4f3" stroke-width="0.6" fill-opacity="0.93" stroke-opacity="0.93"/>
<path d="M271.1,546.9 L272.0,548.2 L267.8,533.5 L266.9,532.3 Z" fill="#7f6663" stroke="#7f6663" stroke-width="0.6" fill-opacity="0.93" stroke-opacity="0.93"/>
<path d="M283.3,581.8 L285.2,582.6 L282.4,567.4 L280.4,566.6 Z" fill="#8f726e" stroke="#8f726e" stroke-width="0.6" fill-opacity="0.93" stroke-opacity="0.93"/>
<path d="M308.3,518.2 L308.2,518.3 L303.3,502.0 L303.4,501.9 Z" fill="#967773" stroke="#967773" stroke-width="0.6" fill-opacity="0.93" stroke-opacity="0.93"/>
<path d="M261.8,511.2 L261.5,512.8 L255.9,498.6 L256.1,497.0 Z" fill="#b8928d" stroke="#b8928d" stroke-width="0.6" fill-opacity="0.93" stroke-opacity="0.93"/>
<path d="M256.1,434.7 L253.5,436.6 L245.0,422.5 L247.6,420.7 Z" fill="#fff4ef" stroke="#fff4ef" stroke-width="0.6" fill-opacity="0.93" stroke-opacity="0.93"/>
<path d="M264.7,429.7 L261.9,431.4 L253.2,417.0 L256.1,415.3 Z" fill="#fff9f8" stroke="#fff9f8" stroke-width="0.6" fill-opacity="0.93" stroke-opacity="0.93"/>
<path d="M285.2,456.4 L283.1,457.3 L275.6,442.1 L277.7,441.1 Z" fill="#d6bfbc" stroke="#d6bfbc" stroke-width="0.6" fill-opacity="0.93" stroke-opacity="0.93"/>
<path d="M259.0,432.9 L256.2,434.7 L247.6,420.6 L250.4,418.8 Z" fill="#fffffd" stroke="#fffffd" stroke-width="0.6" fill-opacity="0.93" stroke-opacity="0.93"/>
<path d="M261.9,431.3 L259.0,433.0 L250.4,418.7 L253.2,417.0 Z" fill="#fffdf7" stroke="#fffdf7" stroke-width="0.6" fill-opacity="0.93" stroke-opacity="0.93"/>
<path d="M298.1,486.8 L296.9,487.3 L290.6,471.5 L291.8,471.0 Z" fill="#9c7b78" stroke="#9c7b78" stroke-width="0.6" fill-opacity="0.93" stroke-opacity="0.93"/>
<path d="M322.6,582.6 L324.3,582.3 L321.7,565.5 L320.0,565.8 Z" fill="#b18b87" stroke="#b18b87" stroke-width="0.6" fill-opacity="0.93" stroke-opacity="0.93"/>
<path d="M257.1,473.0 L255.4,474.9 L248.0,460.9 L249.7,459.1 Z" fill="#dbaca7" stroke="#dbaca7" stroke-width="0.6" fill-opacity="0.93" stroke-opacity="0.93"/>
<path d="M316.9,550.1 L317.5,550.0 L313.5,533.5 L312.9,533.6 Z" fill="#9a7a76" stroke="#9a7a76" stroke-width="0.6" fill-opacity="0.93" stroke-opacity="0.93"/>
<path d="M282.0,580.6 L283.6,581.7 L280.2,566.7 L278.6,565.7 Z" fill="#826763" stroke="#826763" stroke-width="0.6" fill-opacity="0.93" stroke-opacity="0.93"/>
<path d="M271.0,545.4 L271.4,546.8 L266.6,532.3 L266.2,530.9 Z" fill="#7f6561" stroke="#7f6561" stroke-width="0.6" fill-opacity="0.93" stroke-opacity="0.93"/>
<path d="M262.8,509.5 L262.1,511.2 L255.9,497.0 L256.6,495.3 Z" fill="#c19893" stroke="#c19893" stroke-width="0.6" fill-opacity="0.93" stroke-opacity="0.93"/>
<path d="M283.3,457.2 L280.9,458.3 L273.1,443.3 L275.4,442.2 Z" fill="#dbc1be" stroke="#dbc1be" stroke-width="0.6" fill-opacity="0.93" stroke-opacity="0.93"/>
<path d="M308.5,518.2 L307.9,518.5 L302.5,502.4 L303.0,502.1 Z" fill="#8f716d" stroke="#8f716d" stroke-width="0.6" fill-opacity="0.93" stroke-opacity="0.93"/>
<path d="M297.2,487.2 L295.6,487.9 L288.8,472.3 L290.4,471.6 Z" fill="#a6827e" stroke="#a6827e" stroke-width="0.6" fill-opacity="0.93" stroke-opacity="0.93"/>
<path d="M259.4,471.1 L257.3,473.0 L249.5,459.1 L251.5,457.2 Z" fill="#e8b8b2" stroke="#e8b8b2" stroke-width="0.6" fill-opacity="0.93" stroke-opacity="0.93"/>
<path d="M324.6,582.2 L325.9,582.0 L322.7,565.3 L321.4,565.5 Z" fill="#a6827e" stroke="#a6827e" stroke-width="0.6" fill-opacity="0.93" stroke-opacity="0.93"/>
<path d="M281.1,458.2 L278.5,459.5 L270.3,444.7 L272.9,443.4 Z" fill="#e3c6c3" stroke="#e3c6c3" stroke-width="0.6" fill-opacity="0.93" stroke-opacity="0.93"/>
<path d="M281.2,579.4 L282.3,580.5 L278.3,565.8 L277.2,564.6 Z" fill="#785d5a" stroke="#785d5a" stroke-width="0.6" fill-opacity="0.93" stroke-opacity="0.93"/>
<path d="M317.8,549.9 L318.0,550.0 L313.4,533.6 L313.2,533.6 Z" fill="#8d6e6a" stroke="#8d6e6a" stroke-width="0.6" fill-opacity="0.93" stroke-opacity="0.93"/>
<path d="M264.1,507.6 L263.0,509.4 L256.3,495.4 L257.4,493.6 Z" fill="#ca9d98" stroke="#ca9d98" stroke-width="0.6" fill-opacity="0.93" stroke-opacity="0.93"/>
<path d="M261.8,469.2 L259.5,471.1 L251.4,457.2 L253.7,455.2 Z" fill="#feccc6" stroke="#feccc6" stroke-width="0.6" fill-opacity="0.93" stroke-opacity="0.93"/>
<path d="M271.3,543.8 L271.3,545.4 L265.9,531.0 L265.9,529.5 Z" fill="#af8883" stroke="#af8883" stroke-width="0.6" fill-opacity="0.93" stroke-opacity="0.93"/>
<path d="M278.6,459.4 L275.9,460.8 L267.4,446.2 L270.2,444.8 Z" fill="#f0d1cd" stroke="#f0d1cd" stroke-width="0.6" fill-opacity="0.93" stroke-opacity="0.93"/>
<path d="M308.2,518.4 L307.2,518.8 L301.2,502.9 L302.2,502.5 Z" fill="#91706d" stroke="#91706d" stroke-width="0.6" fill-opacity="0.93" stroke-opacity="0.93"/>
<path d="M295.8,487.8 L293.9,488.6 L286.6,473.3 L288.6,472.4 Z" fill="#b18985" stroke="#b18985" stroke-width="0.6" fill-opacity="0.93" stroke-opacity="0.93"/>
<path d="M264.5,467.3 L262.0,469.2 L253.6,455.2 L256.2,453.3 Z" fill="#ffece8" stroke="#ffece8" stroke-width="0.6" fill-opacity="0.93" stroke-opacity="0.93"/>
<path d="M275.9,460.8 L273.1,462.3 L264.5,447.8 L267.4,446.3 Z" fill="#ffe2de" stroke="#ffe2de" stroke-width="0.6" fill-opacity="0.93" stroke-opacity="0.93"/>
<path d="M267.4,465.5 L264.6,467.4 L256.1,453.3 L258.8,451.5 Z" fill="#fffef9" stroke="#fffef9" stroke-width="0.6" fill-opacity="0.93" stroke-opacity="0.93"/>
<path d="M326.1,582.0 L327.0,581.8 L323.2,565.2 L322.4,565.4 Z" fill="#9b7874" stroke="#9b7874" stroke-width="0.6" fill-opacity="0.93" stroke-opacity="0.93"/>
<path d="M273.1,462.2 L270.3,463.9 L261.6,449.6 L264.5,447.9 Z" fill="#fff6f1" stroke="#fff6f1" stroke-width="0.6" fill-opacity="0.93" stroke-opacity="0.93"/>
<path d="M270.2,463.8 L267.4,465.6 L258.8,451.4 L261.6,449.6 Z" fill="#fffffd" stroke="#fffffd" stroke-width="0.6" fill-opacity="0.93" stroke-opacity="0.93"/>
<path d="M265.9,505.7 L264.4,507.6 L257.2,493.6 L258.7,491.7 Z" fill="#d4a49f" stroke="#d4a49f" stroke-width="0.6" fill-opacity="0.93" stroke-opacity="0.93"/>
<path d="M280.8,577.9 L281.5,579.3 L276.9,564.7 L276.3,563.4 Z" fill="#795e5b" stroke="#795e5b" stroke-width="0.6" fill-opacity="0.93" stroke-opacity="0.93"/>
<path d="M272.0,542.1 L271.6,543.8 L265.6,529.5 L266.1,527.9 Z" fill="#ba908b" stroke="#ba908b" stroke-width="0.6" fill-opacity="0.93" stroke-opacity="0.93"/>
<path d="M318.2,549.9 L317.9,550.1 L312.8,533.9 L313.1,533.7 Z" fill="#8e6e6a" stroke="#8e6e6a" stroke-width="0.6" fill-opacity="0.93" stroke-opacity="0.93"/>
<path d="M294.1,488.5 L291.9,489.6 L284.2,474.4 L286.4,473.4 Z" fill="#bd928d" stroke="#bd928d" stroke-width="0.6" fill-opacity="0.93" stroke-opacity="0.93"/>
<path d="M307.5,518.7 L306.1,519.3 L299.6,503.6 L301.0,503.0 Z" fill="#9d7a76" stroke="#9d7a76" stroke-width="0.6" fill-opacity="0.93" stroke-opacity="0.93"/>
<path d="M268.0,503.8 L266.1,505.7 L258.5,491.8 L260.4,489.9 Z" fill="#e0afa9" stroke="#e0afa9" stroke-width="0.6" fill-opacity="0.93" stroke-opacity="0.93"/>
<path d="M327.2,581.7 L327.6,581.7 L323.3,565.3 L322.9,565.3 Z" fill="#91706c" stroke="#91706c" stroke-width="0.6" fill-opacity="0.93" stroke-opacity="0.93"/>
<path d="M292.0,489.5 L289.6,490.7 L281.5,475.7 L284.0,474.5 Z" fill="#ca9d98" stroke="#ca9d98" stroke-width="0.6" fill-opacity="0.93" stroke-opacity="0.93"/>
<path d="M273.2,540.3 L272.3,542.0 L265.8,527.9 L266.8,526.2 Z" fill="#c49893" stroke="#c49893" stroke-width="0.6" fill-opacity="0.93" stroke-opacity="0.93"/>
<path d="M280.9,576.4 L281.1,577.9 L276.0,563.4 L275.8,562.0 Z" fill="#a7827d" stroke="#a7827d" stroke-width="0.6" fill-opacity="0.93" stroke-opacity="0.93"/>
<path d="M291.3,611.8 L292.0,612.3 L288.3,597.5 L287.7,596.9 Z" fill="#755b58" stroke="#755b58" stroke-width="0.6" fill-opacity="0.93" stroke-opacity="0.93"/>
<path d="M270.4,501.9 L268.2,503.8 L260.2,489.9 L262.4,487.9 Z" fill="#f2c0ba" stroke="#f2c0ba" stroke-width="0.6" fill-opacity="0.93" stroke-opacity="0.93"/>
<path d="M318.2,550.0 L317.4,550.4 L311.7,534.4 L312.5,534.0 Z" fill="#8a6b67" stroke="#8a6b67" stroke-width="0.6" fill-opacity="0.93" stroke-opacity="0.93"/>
<path d="M306.4,519.2 L304.6,520.0 L297.6,504.5 L299.3,503.7 Z" fill="#aa847f" stroke="#aa847f" stroke-width="0.6" fill-opacity="0.93" stroke-opacity="0.93"/>
<path d="M289.7,490.6 L287.0,491.9 L278.7,477.2 L281.4,475.8 Z" fill="#dcada8" stroke="#dcada8" stroke-width="0.6" fill-opacity="0.93" stroke-opacity="0.93"/>
<path d="M273.0,500.0 L270.5,501.9 L262.3,487.9 L264.7,486.0 Z" fill="#ffd9d3" stroke="#ffd9d3" stroke-width="0.6" fill-opacity="0.93" stroke-opacity="0.93"/>
<path d="M274.8,538.4 L273.5,540.2 L266.5,526.2 L267.8,524.4 Z" fill="#cea09b" stroke="#cea09b" stroke-width="0.6" fill-opacity="0.93" stroke-opacity="0.93"/>
<path d="M287.1,491.8 L284.3,493.3 L275.8,478.7 L278.6,477.3 Z" fill="#f6c6c0" stroke="#f6c6c0" stroke-width="0.6" fill-opacity="0.93" stroke-opacity="0.93"/>
<path d="M290.7,610.4 L291.6,611.7 L287.4,597.0 L286.5,595.7 Z" fill="#785d59" stroke="#785d59" stroke-width="0.6" fill-opacity="0.93" stroke-opacity="0.93"/>
<path d="M327.9,581.7 L327.8,581.8 L322.9,565.5 L323.0,565.4 Z" fill="#906f6b" stroke="#906f6b" stroke-width="0.6" fill-opacity="0.93" stroke-opacity="0.93"/>
<path d="M281.4,574.7 L281.2,576.3 L275.5,562.0 L275.8,560.4 Z" fill="#b48b86" stroke="#b48b86" stroke-width="0.6" fill-opacity="0.93" stroke-opacity="0.93"/>
<path d="M275.8,498.2 L273.1,500.0 L264.6,486.0 L267.3,484.1 Z" fill="#fff4ee" stroke="#fff4ee" stroke-width="0.6" fill-opacity="0.93" stroke-opacity="0.93"/>
<path d="M284.4,493.2 L281.5,494.8 L272.9,480.4 L275.7,478.8 Z" fill="#ffe4de" stroke="#ffe4de" stroke-width="0.6" fill-opacity="0.93" stroke-opacity="0.93"/>
<path d="M304.8,519.9 L302.7,520.8 L295.3,505.6 L297.4,504.6 Z" fill="#b78e89" stroke="#b78e89" stroke-width="0.6" fill-opacity="0.93" stroke-opacity="0.93"/>
<path d="M278.6,496.4 L275.8,498.2 L267.2,484.1 L270.0,482.3 Z" fill="#fffffd" stroke="#fffffd" stroke-width="0.6" fill-opacity="0.93" stroke-opacity="0.93"/>
<path d="M281.5,494.8 L278.6,496.5 L270.0,482.2 L272.8,480.5 Z" fill="#fffcf6" stroke="#fffcf6" stroke-width="0.6" fill-opacity="0.93" stroke-opacity="0.93"/>
<path d="M317.7,550.3 L316.5,550.8 L310.3,535.0 L311.4,534.5 Z" fill="#977571" stroke="#977571" stroke-width="0.6" fill-opacity="0.93" stroke-opacity="0.93"/>
<path d="M276.7,536.5 L275.0,538.4 L267.6,524.4 L269.3,522.5 Z" fill="#d9a9a3" stroke="#d9a9a3" stroke-width="0.6" fill-opacity="0.93" stroke-opacity="0.93"/>
<path d="M290.6,608.9 L291.0,610.3 L286.2,595.8 L285.8,594.4 Z" fill="#7b5f5c" stroke="#7b5f5c" stroke-width="0.6" fill-opacity="0.93" stroke-opacity="0.93"/>
<path d="M282.4,572.9 L281.7,574.7 L275.5,560.5 L276.2,558.8 Z" fill="#bf948f" stroke="#bf948f" stroke-width="0.6" fill-opacity="0.93" stroke-opacity="0.93"/>
<path d="M302.9,520.7 L300.6,521.8 L292.7,506.8 L295.1,505.7 Z" fill="#c39792" stroke="#c39792" stroke-width="0.6" fill-opacity="0.93" stroke-opacity="0.93"/>
<path d="M328.1,581.7 L327.6,582.0 L322.1,565.9 L322.6,565.6 Z" fill="#8c6c68" stroke="#8c6c68" stroke-width="0.6" fill-opacity="0.93" stroke-opacity="0.93"/>
<path d="M316.8,550.7 L315.2,551.4 L308.4,535.8 L310.0,535.1 Z" fill="#a47f7b" stroke="#a47f7b" stroke-width="0.6" fill-opacity="0.93" stroke-opacity="0.93"/>
<path d="M279.0,534.6 L276.9,536.5 L269.1,522.6 L271.2,520.6 Z" fill="#e8b6b0" stroke="#e8b6b0" stroke-width="0.6" fill-opacity="0.93" stroke-opacity="0.93"/>
<path d="M300.7,521.7 L298.1,523.0 L289.9,508.2 L292.5,506.9 Z" fill="#d2a49f" stroke="#d2a49f" stroke-width="0.6" fill-opacity="0.93" stroke-opacity="0.93"/>
<path d="M283.8,571.1 L282.6,572.9 L275.9,558.8 L277.1,557.1 Z" fill="#c99c97" stroke="#c99c97" stroke-width="0.6" fill-opacity="0.93" stroke-opacity="0.93"/>
<path d="M281.5,532.7 L279.1,534.6 L271.0,520.6 L273.3,518.7 Z" fill="#feccc6" stroke="#feccc6" stroke-width="0.6" fill-opacity="0.93" stroke-opacity="0.93"/>
<path d="M290.9,607.3 L290.9,608.8 L285.5,594.5 L285.5,593.0 Z" fill="#ae8782" stroke="#ae8782" stroke-width="0.6" fill-opacity="0.93" stroke-opacity="0.93"/>
<path d="M298.2,522.9 L295.5,524.3 L287.1,509.7 L289.8,508.3 Z" fill="#e8b8b3" stroke="#e8b8b3" stroke-width="0.6" fill-opacity="0.93" stroke-opacity="0.93"/>
<path d="M327.8,581.9 L326.9,582.3 L320.9,566.4 L321.8,566.0 Z" fill="#90706c" stroke="#90706c" stroke-width="0.6" fill-opacity="0.93" stroke-opacity="0.93"/>
<path d="M315.5,551.3 L313.5,552.1 L306.3,536.8 L308.2,535.9 Z" fill="#b08984" stroke="#b08984" stroke-width="0.6" fill-opacity="0.93" stroke-opacity="0.93"/>
<path d="M284.2,530.8 L281.6,532.7 L273.2,518.7 L275.8,516.8 Z" fill="#ffe7e1" stroke="#ffe7e1" stroke-width="0.6" fill-opacity="0.93" stroke-opacity="0.93"/>
<path d="M295.6,524.2 L292.7,525.8 L284.1,511.3 L287.0,509.8 Z" fill="#ffd4cf" stroke="#ffd4cf" stroke-width="0.6" fill-opacity="0.93" stroke-opacity="0.93"/>
<path d="M287.0,529.0 L284.3,530.9 L275.7,516.8 L278.4,515.0 Z" fill="#fffef7" stroke="#fffef7" stroke-width="0.6" fill-opacity="0.93" stroke-opacity="0.93"/>
<path d="M292.8,525.7 L289.9,527.4 L281.2,513.1 L284.1,511.4 Z" fill="#fff2ec" stroke="#fff2ec" stroke-width="0.6" fill-opacity="0.93" stroke-opacity="0.93"/>
<path d="M289.9,527.3 L287.0,529.1 L278.4,514.9 L281.2,513.1 Z" fill="#fffffc" stroke="#fffffc" stroke-width="0.6" fill-opacity="0.93" stroke-opacity="0.93"/>
<path d="M285.5,569.2 L284.0,571.1 L276.8,557.1 L278.3,555.2 Z" fill="#d4a49f" stroke="#d4a49f" stroke-width="0.6" fill-opacity="0.93" stroke-opacity="0.93"/>
<path d="M291.7,605.6 L291.2,607.2 L285.2,593.0 L285.7,591.4 Z" fill="#ba908b" stroke="#ba908b" stroke-width="0.6" fill-opacity="0.93" stroke-opacity="0.93"/>
<path d="M313.7,552.0 L311.5,553.1 L303.8,537.9 L306.1,536.9 Z" fill="#bd928d" stroke="#bd928d" stroke-width="0.6" fill-opacity="0.93" stroke-opacity="0.93"/>
<path d="M327.1,582.2 L325.7,582.8 L319.2,567.1 L320.6,566.5 Z" fill="#9d7a76" stroke="#9d7a76" stroke-width="0.6" fill-opacity="0.93" stroke-opacity="0.93"/>
<path d="M287.6,567.3 L285.7,569.2 L278.1,555.2 L280.0,553.3 Z" fill="#e0afa9" stroke="#e0afa9" stroke-width="0.6" fill-opacity="0.93" stroke-opacity="0.93"/>
<path d="M311.7,553.0 L309.2,554.1 L301.2,539.2 L303.6,538.0 Z" fill="#ca9d98" stroke="#ca9d98" stroke-width="0.6" fill-opacity="0.93" stroke-opacity="0.93"/>
<path d="M292.8,603.8 L291.9,605.5 L285.5,591.4 L286.4,589.7 Z" fill="#c49893" stroke="#c49893" stroke-width="0.6" fill-opacity="0.93" stroke-opacity="0.93"/>
<path d="M290.0,565.4 L287.8,567.3 L279.8,553.3 L282.0,551.4 Z" fill="#f2c0ba" stroke="#f2c0ba" stroke-width="0.6" fill-opacity="0.93" stroke-opacity="0.93"/>
<path d="M326.0,582.7 L324.2,583.5 L317.2,568.0 L319.0,567.2 Z" fill="#aa847f" stroke="#aa847f" stroke-width="0.6" fill-opacity="0.93" stroke-opacity="0.93"/>
<path d="M309.3,554.0 L306.6,555.4 L298.3,540.7 L301.0,539.3 Z" fill="#dcada8" stroke="#dcada8" stroke-width="0.6" fill-opacity="0.93" stroke-opacity="0.93"/>
<path d="M292.6,563.5 L290.2,565.4 L281.9,551.4 L284.3,549.5 Z" fill="#ffd9d3" stroke="#ffd9d3" stroke-width="0.6" fill-opacity="0.93" stroke-opacity="0.93"/>
<path d="M294.4,601.9 L293.1,603.7 L286.1,589.7 L287.5,587.9 Z" fill="#cea09b" stroke="#cea09b" stroke-width="0.6" fill-opacity="0.93" stroke-opacity="0.93"/>
<path d="M306.7,555.3 L303.9,556.8 L295.4,542.2 L298.2,540.7 Z" fill="#f6c6c0" stroke="#f6c6c0" stroke-width="0.6" fill-opacity="0.93" stroke-opacity="0.93"/>
<path d="M295.4,561.7 L292.7,563.5 L284.2,549.5 L286.9,547.6 Z" fill="#fff4ee" stroke="#fff4ee" stroke-width="0.6" fill-opacity="0.93" stroke-opacity="0.93"/>
<path d="M304.0,556.7 L301.1,558.3 L292.5,543.9 L295.4,542.3 Z" fill="#ffe4de" stroke="#ffe4de" stroke-width="0.6" fill-opacity="0.93" stroke-opacity="0.93"/>
<path d="M324.4,583.4 L322.4,584.3 L314.9,569.1 L317.0,568.1 Z" fill="#b78e89" stroke="#b78e89" stroke-width="0.6" fill-opacity="0.93" stroke-opacity="0.93"/>
<path d="M298.2,559.9 L295.4,561.7 L286.8,547.6 L289.6,545.8 Z" fill="#fffffd" stroke="#fffffd" stroke-width="0.6" fill-opacity="0.93" stroke-opacity="0.93"/>
<path d="M301.1,558.3 L298.3,560.0 L289.6,545.7 L292.5,544.0 Z" fill="#fffcf6" stroke="#fffcf6" stroke-width="0.6" fill-opacity="0.93" stroke-opacity="0.93"/>
<path d="M296.4,600.0 L294.6,601.9 L287.2,587.9 L288.9,586.0 Z" fill="#d9a9a3" stroke="#d9a9a3" stroke-width="0.6" fill-opacity="0.93" stroke-opacity="0.93"/>
<path d="M322.5,584.2 L320.2,585.3 L312.3,570.3 L314.7,569.2 Z" fill="#c39792" stroke="#c39792" stroke-width="0.6" fill-opacity="0.93" stroke-opacity="0.93"/>
<path d="M298.6,598.1 L296.6,600.0 L288.7,586.0 L290.8,584.1 Z" fill="#e8b6b0" stroke="#e8b6b0" stroke-width="0.6" fill-opacity="0.93" stroke-opacity="0.93"/>
<path d="M320.3,585.2 L317.7,586.5 L309.6,571.7 L312.2,570.4 Z" fill="#d2a49f" stroke="#d2a49f" stroke-width="0.6" fill-opacity="0.93" stroke-opacity="0.93"/>
<path d="M301.1,596.2 L298.8,598.1 L290.6,584.1 L293.0,582.2 Z" fill="#feccc6" stroke="#feccc6" stroke-width="0.6" fill-opacity="0.93" stroke-opacity="0.93"/>
<path d="M317.9,586.4 L315.1,587.8 L306.7,573.2 L309.4,571.7 Z" fill="#e8b8b3" stroke="#e8b8b3" stroke-width="0.6" fill-opacity="0.93" stroke-opacity="0.93"/>
<path d="M303.8,594.3 L301.2,596.2 L292.8,582.2 L295.4,580.3 Z" fill="#ffe7e1" stroke="#ffe7e1" stroke-width="0.6" fill-opacity="0.93" stroke-opacity="0.93"/>
<path d="M315.2,587.7 L312.3,589.3 L303.8,574.8 L306.6,573.3 Z" fill="#ffd4cf" stroke="#ffd4cf" stroke-width="0.6" fill-opacity="0.93" stroke-opacity="0.93"/>
<path d="M306.6,592.5 L303.9,594.4 L295.3,580.3 L298.1,578.4 Z" fill="#fffef7" stroke="#fffef7" stroke-width="0.6" fill-opacity="0.93" stroke-opacity="0.93"/>
<path d="M312.4,589.2 L309.5,590.9 L300.8,576.6 L303.7,574.9 Z" fill="#fff2ec" stroke="#fff2ec" stroke-width="0.6" fill-opacity="0.93" stroke-opacity="0.93"/>
<path d="M309.5,590.8 L306.7,592.6 L298.0,578.4 L300.8,576.6 Z" fill="#fffffc" stroke="#fffffc" stroke-width="0.6" fill-opacity="0.93" stroke-opacity="0.93"/>
<path d="M202,448 L210.5,437.7 L215,437.7 L203.5,457.5 L202,457.5 Z" fill="#5e3f3c"/>
<path d="M202,445 L206.5,437.7 L210,437.7 L202,451 Z" fill="#d7a7a2"/>
<path d="M205.5,451 L212.5,439 L213.5,440 L206.5,452 Z" fill="#94706c"/>
<path d="M244,437.7 L258,437.7 L248,452 L243,448 Z" fill="#d9aca7"/>
<g><path d="M234.60,437.00 C234.98,438.27 235.98,442.72 236.90,444.60 C237.82,446.48 238.87,447.08 240.10,448.30 C241.33,449.52 242.53,450.38 244.30,451.90 C246.07,453.42 248.72,455.72 250.70,457.40 C252.68,459.08 254.37,460.62 256.20,462.00 C258.03,463.38 260.07,464.20 261.70,465.70 C263.33,467.20 263.78,469.78 266.00,471.00 C268.22,472.22 271.00,472.42 275.00,473.00 C279.00,473.58 285.50,474.00 290.00,474.50 C294.50,475.00 300.00,475.75 302.00,476.00" fill="none" stroke="#76504b" stroke-width="4.1" stroke-linecap="round" stroke-linejoin="round"/><path d="M234.60,437.00 C234.98,438.27 235.98,442.72 236.90,444.60 C237.82,446.48 238.87,447.08 240.10,448.30 C241.33,449.52 242.53,450.38 244.30,451.90 C246.07,453.42 248.72,455.72 250.70,457.40 C252.68,459.08 254.37,460.62 256.20,462.00 C258.03,463.38 260.07,464.20 261.70,465.70 C263.33,467.20 263.78,469.78 266.00,471.00 C268.22,472.22 271.00,472.42 275.00,473.00 C279.00,473.58 285.50,474.00 290.00,474.50 C294.50,475.00 300.00,475.75 302.00,476.00" fill="none" stroke="#c38e88" stroke-width="3.2" stroke-linecap="round" stroke-linejoin="round"/><path d="M234.60,437.00 C234.98,438.27 235.98,442.72 236.90,444.60 C237.82,446.48 238.87,447.08 240.10,448.30 C241.33,449.52 242.53,450.38 244.30,451.90 C246.07,453.42 248.72,455.72 250.70,457.40 C252.68,459.08 254.37,460.62 256.20,462.00 C258.03,463.38 260.07,464.20 261.70,465.70 C263.33,467.20 263.78,469.78 266.00,471.00 C268.22,472.22 271.00,472.42 275.00,473.00 C279.00,473.58 285.50,474.00 290.00,474.50 C294.50,475.00 300.00,475.75 302.00,476.00" fill="none" stroke="#ecd0cc" stroke-width="1.0" stroke-linecap="round" stroke-linejoin="round" transform="translate(-0.4,-0.5)"/></g>
<g><path d="M201.00,518.00 C201.83,519.00 204.33,521.83 206.00,524.00 C207.67,526.17 209.67,528.67 211.00,531.00 C212.33,533.33 213.50,536.83 214.00,538.00" fill="none" stroke="#76504b" stroke-width="3.9" stroke-linecap="round" stroke-linejoin="round"/><path d="M201.00,518.00 C201.83,519.00 204.33,521.83 206.00,524.00 C207.67,526.17 209.67,528.67 211.00,531.00 C212.33,533.33 213.50,536.83 214.00,538.00" fill="none" stroke="#c38e88" stroke-width="3.0" stroke-linecap="round" stroke-linejoin="round"/><path d="M201.00,518.00 C201.83,519.00 204.33,521.83 206.00,524.00 C207.67,526.17 209.67,528.67 211.00,531.00 C212.33,533.33 213.50,536.83 214.00,538.00" fill="none" stroke="#ecd0cc" stroke-width="0.9" stroke-linecap="round" stroke-linejoin="round" transform="translate(-0.4,-0.5)"/></g>
<g><path d="M219.30,512.00 C218.65,513.33 217.12,516.83 215.40,520.00 C213.68,523.17 211.02,527.33 209.00,531.00 C206.98,534.67 204.63,539.17 203.30,542.00 C201.97,544.83 201.38,547.00 201.00,548.00" fill="none" stroke="#76504b" stroke-width="3.9" stroke-linecap="round" stroke-linejoin="round"/><path d="M219.30,512.00 C218.65,513.33 217.12,516.83 215.40,520.00 C213.68,523.17 211.02,527.33 209.00,531.00 C206.98,534.67 204.63,539.17 203.30,542.00 C201.97,544.83 201.38,547.00 201.00,548.00" fill="none" stroke="#c38e88" stroke-width="3.0" stroke-linecap="round" stroke-linejoin="round"/><path d="M219.30,512.00 C218.65,513.33 217.12,516.83 215.40,520.00 C213.68,523.17 211.02,527.33 209.00,531.00 C206.98,534.67 204.63,539.17 203.30,542.00 C201.97,544.83 201.38,547.00 201.00,548.00" fill="none" stroke="#ecd0cc" stroke-width="0.9" stroke-linecap="round" stroke-linejoin="round" transform="translate(-0.4,-0.5)"/></g>
<g><path d="M219.30,512.00 C219.58,513.33 219.98,515.92 221.00,520.00 C222.02,524.08 223.40,531.72 225.40,536.50 C227.40,541.28 230.62,545.57 233.00,548.70 C235.38,551.83 237.85,554.02 239.70,555.30 C241.55,556.58 242.72,556.78 244.10,556.40 C245.48,556.02 247.35,553.57 248.00,553.00" fill="none" stroke="#76504b" stroke-width="3.9" stroke-linecap="round" stroke-linejoin="round"/><path d="M219.30,512.00 C219.58,513.33 219.98,515.92 221.00,520.00 C222.02,524.08 223.40,531.72 225.40,536.50 C227.40,541.28 230.62,545.57 233.00,548.70 C235.38,551.83 237.85,554.02 239.70,555.30 C241.55,556.58 242.72,556.78 244.10,556.40 C245.48,556.02 247.35,553.57 248.00,553.00" fill="none" stroke="#c38e88" stroke-width="3.0" stroke-linecap="round" stroke-linejoin="round"/><path d="M219.30,512.00 C219.58,513.33 219.98,515.92 221.00,520.00 C222.02,524.08 223.40,531.72 225.40,536.50 C227.40,541.28 230.62,545.57 233.00,548.70 C235.38,551.83 237.85,554.02 239.70,555.30 C241.55,556.58 242.72,556.78 244.10,556.40 C245.48,556.02 247.35,553.57 248.00,553.00" fill="none" stroke="#ecd0cc" stroke-width="0.9" stroke-linecap="round" stroke-linejoin="round" transform="translate(-0.4,-0.5)"/></g>
<g><path d="M201.00,570.00 C202.33,571.17 205.50,575.17 209.00,577.00 C212.50,578.83 219.83,580.33 222.00,581.00" fill="none" stroke="#76504b" stroke-width="3.9" stroke-linecap="round" stroke-linejoin="round"/><path d="M201.00,570.00 C202.33,571.17 205.50,575.17 209.00,577.00 C212.50,578.83 219.83,580.33 222.00,581.00" fill="none" stroke="#d8b5b1" stroke-width="3.0" stroke-linecap="round" stroke-linejoin="round"/><path d="M201.00,570.00 C202.33,571.17 205.50,575.17 209.00,577.00 C212.50,578.83 219.83,580.33 222.00,581.00" fill="none" stroke="#ecd0cc" stroke-width="0.9" stroke-linecap="round" stroke-linejoin="round" transform="translate(-0.4,-0.5)"/></g>
<path d="M231,585 Q236,578 249,578 L253,585 Z" fill="#b3847f"/>
<path d="M246,549 Q258,541 272,541 L279,552 Q281,570 276,586 L256,586 Q262,568 252,556 Z" fill="#c99a95"/>
<path d="M249,552 Q259,546 270,546 L274,556 Q264,553 256,560 Z" fill="#e3bfba"/>
<path d="M262,586 Q268,570 262,560 L268,562 Q275,572 270,586 Z" fill="#a97d78"/>
<path d="M240.60,447.90 L232.30,450.90 L235.20,462.60 L237.70,472.60 L240.60,483.40 L244.00,483.40 L244.00,475.10 L242.30,466.70 L240.80,462.60" fill="none" stroke="#744e4a" stroke-width="4.0" stroke-linecap="round" stroke-linejoin="round"/><path d="M240.60,447.90 L232.30,450.90 L235.20,462.60 L237.70,472.60 L240.60,483.40 L244.00,483.40 L244.00,475.10 L242.30,466.70 L240.80,462.60" fill="none" stroke="#cf9f99" stroke-width="3.0" stroke-linecap="round" stroke-linejoin="round"/><path d="M240.60,447.90 L232.30,450.90 L235.20,462.60 L237.70,472.60 L240.60,483.40 L244.00,483.40 L244.00,475.10 L242.30,466.70 L240.80,462.60" fill="none" stroke="#f8e8e6" stroke-width="0.8" stroke-linecap="round" stroke-linejoin="round" transform="translate(-0.3,-0.4)"/>
<circle cx="240.8" cy="463" r="1.7" fill="#6b4a47"/><circle cx="243.6" cy="483.2" r="1.9" fill="#5e403d"/>
<path d="M256.00,468.00 L264.00,473.00 L273.00,471.00" fill="none" stroke="#744e4a" stroke-width="4.0" stroke-linecap="round" stroke-linejoin="round"/><path d="M256.00,468.00 L264.00,473.00 L273.00,471.00" fill="none" stroke="#cf9f99" stroke-width="3.0" stroke-linecap="round" stroke-linejoin="round"/><path d="M256.00,468.00 L264.00,473.00 L273.00,471.00" fill="none" stroke="#f8e8e6" stroke-width="0.8" stroke-linecap="round" stroke-linejoin="round" transform="translate(-0.3,-0.4)"/>
<path d="M264.0,472.0 L265.5,465.0" stroke="#704a46" stroke-width="5.4" stroke-linecap="round"/><path d="M264.0,472.0 L265.5,465.0" stroke="#c48f89" stroke-width="4.4" stroke-linecap="round"/>
<path d="M265.5,465.0 L267.1,456.5" stroke="#2a2a70" stroke-width="5.4" stroke-linecap="round"/><path d="M265.5,465.0 L267.1,456.5" stroke="#4d4daa" stroke-width="4.4" stroke-linecap="round"/>
<path d="M267.1,456.5 L268.7,447.5" stroke="#704a46" stroke-width="5.4" stroke-linecap="round"/><path d="M267.1,456.5 L268.7,447.5" stroke="#dcb0aa" stroke-width="4.4" stroke-linecap="round"/>
<path d="M266.8,455 L268.2,449" stroke="#fff3f1" stroke-width="1.2" stroke-linecap="round"/>
<path d="M268.7,447.5 L269.7,442.3" stroke="#2a2a70" stroke-width="5.4" stroke-linecap="round"/><path d="M268.7,447.5 L269.7,442.3" stroke="#4d4daa" stroke-width="4.4" stroke-linecap="round"/>
<path d="M266.2,463 L267.0,459" stroke="#8a8ad0" stroke-width="1.0" stroke-linecap="round"/>
<path d="M234.50,533.00 L245.50,528.00 L252.50,522.00" fill="none" stroke="#744e4a" stroke-width="4.3" stroke-linecap="round" stroke-linejoin="round"/><path d="M234.50,533.00 L245.50,528.00 L252.50,522.00" fill="none" stroke="#cf9f99" stroke-width="3.3" stroke-linecap="round" stroke-linejoin="round"/><path d="M234.50,533.00 L245.50,528.00 L252.50,522.00" fill="none" stroke="#f8e8e6" stroke-width="0.9" stroke-linecap="round" stroke-linejoin="round" transform="translate(-0.3,-0.4)"/>
<path d="M245.50,528.00 L250.00,538.00 L251.00,548.00" fill="none" stroke="#744e4a" stroke-width="4.3" stroke-linecap="round" stroke-linejoin="round"/><path d="M245.50,528.00 L250.00,538.00 L251.00,548.00" fill="none" stroke="#cf9f99" stroke-width="3.3" stroke-linecap="round" stroke-linejoin="round"/><path d="M245.50,528.00 L250.00,538.00 L251.00,548.00" fill="none" stroke="#f8e8e6" stroke-width="0.9" stroke-linecap="round" stroke-linejoin="round" transform="translate(-0.3,-0.4)"/>
<path d="M249.00,553.00 L256.00,566.00 L262.00,574.00" fill="none" stroke="#744e4a" stroke-width="4.3" stroke-linecap="round" stroke-linejoin="round"/><path d="M249.00,553.00 L256.00,566.00 L262.00,574.00" fill="none" stroke="#cf9f99" stroke-width="3.3" stroke-linecap="round" stroke-linejoin="round"/><path d="M249.00,553.00 L256.00,566.00 L262.00,574.00" fill="none" stroke="#f8e8e6" stroke-width="0.9" stroke-linecap="round" stroke-linejoin="round" transform="translate(-0.3,-0.4)"/>
<path d="M249.5,551.5 L246.0,553.0" stroke="#2a2a70" stroke-width="4.6" stroke-linecap="round"/><path d="M249.5,551.5 L246.0,553.0" stroke="#4d4daa" stroke-width="3.6" stroke-linecap="round"/>
<path d="M262.00,560.00 L266.00,572.00" fill="none" stroke="#744e4a" stroke-width="4.3" stroke-linecap="round" stroke-linejoin="round"/><path d="M262.00,560.00 L266.00,572.00" fill="none" stroke="#cf9f99" stroke-width="3.3" stroke-linecap="round" stroke-linejoin="round"/><path d="M262.00,560.00 L266.00,572.00" fill="none" stroke="#f8e8e6" stroke-width="0.9" stroke-linecap="round" stroke-linejoin="round" transform="translate(-0.3,-0.4)"/>
<path d="M261.0,566.0 L270.0,571.0" stroke="#2a2a70" stroke-width="4.8" stroke-linecap="round"/><path d="M261.0,566.0 L270.0,571.0" stroke="#4d4daa" stroke-width="3.8" stroke-linecap="round"/>
<path d="M256.5,571.0 L257.5,578.0" stroke="#7e302c" stroke-width="4.0" stroke-linecap="round"/><path d="M256.5,571.0 L257.5,578.0" stroke="#c4524b" stroke-width="3.0" stroke-linecap="round"/>
<path d="M266.00,574.00 L283.00,574.00 L296.00,566.50 L308.00,566.00 L317.00,560.50" fill="none" stroke="#744e4a" stroke-width="4.3" stroke-linecap="round" stroke-linejoin="round"/><path d="M266.00,574.00 L283.00,574.00 L296.00,566.50 L308.00,566.00 L317.00,560.50" fill="none" stroke="#cf9f99" stroke-width="3.3" stroke-linecap="round" stroke-linejoin="round"/><path d="M266.00,574.00 L283.00,574.00 L296.00,566.50 L308.00,566.00 L317.00,560.50" fill="none" stroke="#f8e8e6" stroke-width="0.9" stroke-linecap="round" stroke-linejoin="round" transform="translate(-0.3,-0.4)"/>
<path d="M318.5,560.2 L325.5,560.2" stroke="#2a2a70" stroke-width="4.8" stroke-linecap="round"/><path d="M318.5,560.2 L325.5,560.2" stroke="#4d4daa" stroke-width="3.8" stroke-linecap="round"/>
<path d="M235.10,492.10 L243.80,496.40 L247.20,504.20 L251.50,508.50 L259.30,510.30 L264.50,517.20 L264.50,520.00" fill="none" stroke="#4a8c40" stroke-width="4.6" stroke-linejoin="round" stroke-linecap="round"/>
<path d="M264.50,520.00 L263.70,527.60 L269.70,538.00 L278.40,533.60 L275.80,521.50 L264.50,520.00" fill="none" stroke="#4a8c40" stroke-width="4.6" stroke-linejoin="round" stroke-linecap="round"/>
<path d="M275.80,521.50 L281.00,515.50 L287.90,518.90 L291.30,531.00 L286.10,539.70 L278.40,533.60" fill="none" stroke="#4a8c40" stroke-width="4.6" stroke-linejoin="round" stroke-linecap="round"/>
<path d="M235.10,492.10 L243.80,496.40 L247.20,504.20 L251.50,508.50 L259.30,510.30 L264.50,517.20 L264.50,520.00" fill="none" stroke="#6cbc5c" stroke-width="3.6" stroke-linejoin="round" stroke-linecap="round"/>
<path d="M264.50,520.00 L263.70,527.60 L269.70,538.00 L278.40,533.60 L275.80,521.50 L264.50,520.00" fill="none" stroke="#6cbc5c" stroke-width="3.6" stroke-linejoin="round" stroke-linecap="round"/>
<path d="M275.80,521.50 L281.00,515.50 L287.90,518.90 L291.30,531.00 L286.10,539.70 L278.40,533.60" fill="none" stroke="#6cbc5c" stroke-width="3.6" stroke-linejoin="round" stroke-linecap="round"/>
<path d="M235.10,492.10 L243.80,496.40 L247.20,504.20 L251.50,508.50 L259.30,510.30 L264.50,517.20 L264.50,520.00" fill="none" stroke="#a9de98" stroke-width="1.0" stroke-linejoin="round" stroke-linecap="round" transform="translate(-0.4,-0.5)"/>
<path d="M264.50,520.00 L263.70,527.60 L269.70,538.00 L278.40,533.60 L275.80,521.50 L264.50,520.00" fill="none" stroke="#a9de98" stroke-width="1.0" stroke-linejoin="round" stroke-linecap="round" transform="translate(-0.4,-0.5)"/>
<path d="M275.80,521.50 L281.00,515.50 L287.90,518.90 L291.30,531.00 L286.10,539.70 L278.40,533.60" fill="none" stroke="#a9de98" stroke-width="1.0" stroke-linejoin="round" stroke-linecap="round" transform="translate(-0.4,-0.5)"/>
<path d="M263.9,524.0 L263.7,529.0" stroke="#7e302c" stroke-width="4.6" stroke-linecap="round"/><path d="M263.9,524.0 L263.7,529.0" stroke="#c4524b" stroke-width="3.6" stroke-linecap="round"/>
<path d="M269.7,538.0 L270.4,545.0" stroke="#4a8c40" stroke-width="4.6" stroke-linecap="round"/><path d="M269.7,538.0 L270.4,545.0" stroke="#6cbc5c" stroke-width="3.6" stroke-linecap="round"/>
<path d="M270.4,545.0 L270.6,551.0" stroke="#7e302c" stroke-width="4.6" stroke-linecap="round"/><path d="M270.4,545.0 L270.6,551.0" stroke="#c4524b" stroke-width="3.6" stroke-linecap="round"/>
<path d="M241.5,486.0 L244.0,495.0" stroke="#e6d22a" stroke-width="1.7" stroke-dasharray="1.7,1.5"/>
<path d="M259.5,477.0 L248.0,493.0" stroke="#e6d22a" stroke-width="1.7" stroke-dasharray="1.7,1.5"/>
<path d="M249.5,522.0 L262.0,518.0" stroke="#e6d22a" stroke-width="1.7" stroke-dasharray="1.7,1.5"/>
<path d="M265.0,518.0 L275.0,512.0" stroke="#e6d22a" stroke-width="1.7" stroke-dasharray="1.7,1.5"/>
<path d="M246.0,548.0 L262.0,531.0" stroke="#e6d22a" stroke-width="1.7" stroke-dasharray="1.7,1.5"/>
<path d="M250.0,540.0 L266.0,530.0" stroke="#e6d22a" stroke-width="1.7" stroke-dasharray="1.7,1.5"/>
<path d="M270.5,551.0 L264.0,568.0" stroke="#e6d22a" stroke-width="1.7" stroke-dasharray="1.7,1.5"/>
<path d="M289.0,541.0 L297.0,566.0" stroke="#e6d22a" stroke-width="1.7" stroke-dasharray="1.7,1.5"/>
<path d="M245.0,552.0 L255.0,533.0" stroke="#e6d22a" stroke-width="1.7" stroke-dasharray="1.7,1.5"/>
<text x="274.8" y="449.5" font-size="9.8" fill="#262626" stroke="#262626" stroke-width="0.12">&#947;<tspan font-size="5.8" dy="2.0">1</tspan><tspan dy="-2.0">His2</tspan></text>
<text x="206.7" y="475.0" font-size="9.8" fill="#262626" stroke="#262626" stroke-width="0.12">&#947;<tspan font-size="5.8" dy="2.0">1</tspan><tspan dy="-2.0">Phe3</tspan></text>
<text x="215.4" y="531.1" font-size="9.8" fill="#262626" stroke="#262626" stroke-width="0.12">&#947;<tspan font-size="5.8" dy="2.0">1</tspan><tspan dy="-2.0">Leu81</tspan></text>
<text x="310.3" y="554.6" font-size="9.8" fill="#262626" stroke="#262626" stroke-width="0.12">&#947;<tspan font-size="5.8" dy="2.0">1</tspan><tspan dy="-2.0">Lys82</tspan></text></g>
<text x="242.0" y="505.1" font-size="9.7" font-weight="bold" fill="#151515" textLength="100.6" lengthAdjust="spacingAndGlyphs">z-butylidenephthalide</text>
<g transform="translate(162.3,-0.7)"><g clip-path="url(#clipI)"><rect x="201.9" y="437.7" width="152" height="150" fill="#fff"/>
<path d="M333,437.7 L352,437.7 L352,447.5 Q338,444.5 333,437.7 Z" fill="#b6b5cf"/>
<path d="M298,437.7 L330,437.7 Q318,443 302,440.5 Z" fill="#e2e0e9"/>
<path d="M226,437.7 L250,437.7 L250,478 L230,478 Q217,462 226,437.7 Z" fill="#ece0e1"/>
<path d="M210,452 L218,461" stroke="#ededed" stroke-width="1.5"/>
<path d="M202,505 Q222,498 234,520 L234,536 Q220,514 202,516 Z" fill="#f2ebeb"/>
<path d="M330,560 Q346,566 340,575 Q334,581 322,582" fill="none" stroke="#ecdede" stroke-width="3.2"/>
<path d="M332.3,578.3 L335.2,578.5 L336.5,566.8 L333.7,566.6 Z" fill="#d8c2c0" stroke="#d8c2c0" stroke-width="0.6" fill-opacity="0.95" stroke-opacity="0.95"/>
<path d="M329.9,578.4 L332.5,578.4 L333.4,566.5 L330.8,566.5 Z" fill="#d1bcba" stroke="#d1bcba" stroke-width="0.6" fill-opacity="0.95" stroke-opacity="0.95"/>
<path d="M328.1,578.5 L330.3,578.4 L330.5,566.5 L328.3,566.5 Z" fill="#c9b6b4" stroke="#c9b6b4" stroke-width="0.6" fill-opacity="0.95" stroke-opacity="0.95"/>
<path d="M326.9,578.6 L328.5,578.5 L327.9,566.5 L326.3,566.7 Z" fill="#c1b0ae" stroke="#c1b0ae" stroke-width="0.6" fill-opacity="0.95" stroke-opacity="0.95"/>
<path d="M333.1,554.3 L336.1,554.9 L337.9,543.7 L334.9,543.1 Z" fill="#e3cbc9" stroke="#e3cbc9" stroke-width="0.6" fill-opacity="0.95" stroke-opacity="0.95"/>
<path d="M330.2,554.1 L333.2,554.5 L334.9,543.0 L331.8,542.6 Z" fill="#dfc8c6" stroke="#dfc8c6" stroke-width="0.6" fill-opacity="0.95" stroke-opacity="0.95"/>
<path d="M336.2,554.8 L339.0,555.6 L340.6,544.7 L337.8,543.9 Z" fill="#e3cac8" stroke="#e3cac8" stroke-width="0.6" fill-opacity="0.95" stroke-opacity="0.95"/>
<path d="M327.4,554.1 L330.3,554.3 L331.7,542.5 L328.8,542.4 Z" fill="#d8c2c0" stroke="#d8c2c0" stroke-width="0.6" fill-opacity="0.95" stroke-opacity="0.95"/>
<path d="M326.4,578.7 L327.3,578.6 L325.9,566.7 L324.9,566.8 Z" fill="#bfaead" stroke="#bfaead" stroke-width="0.6" fill-opacity="0.95" stroke-opacity="0.95"/>
<path d="M339.2,555.4 L341.6,556.5 L342.9,545.9 L340.4,544.9 Z" fill="#e0c8c6" stroke="#e0c8c6" stroke-width="0.6" fill-opacity="0.95" stroke-opacity="0.95"/>
<path d="M325.1,554.2 L327.7,554.2 L328.6,542.3 L326.0,542.3 Z" fill="#d1bcba" stroke="#d1bcba" stroke-width="0.6" fill-opacity="0.95" stroke-opacity="0.95"/>
<path d="M341.9,556.3 L343.9,557.6 L344.6,547.4 L342.6,546.1 Z" fill="#ddc5c3" stroke="#ddc5c3" stroke-width="0.6" fill-opacity="0.95" stroke-opacity="0.95"/>
<path d="M323.3,554.3 L325.4,554.2 L325.6,542.2 L323.5,542.3 Z" fill="#c9b6b4" stroke="#c9b6b4" stroke-width="0.6" fill-opacity="0.95" stroke-opacity="0.95"/>
<path d="M326.5,578.6 L326.8,578.6 L324.4,566.9 L324.1,566.9 Z" fill="#c2b0af" stroke="#c2b0af" stroke-width="0.6" fill-opacity="0.95" stroke-opacity="0.95"/>
<path d="M344.3,557.5 L345.7,559.0 L345.6,549.1 L344.2,547.6 Z" fill="#d8c1c0" stroke="#d8c1c0" stroke-width="0.6" fill-opacity="0.95" stroke-opacity="0.95"/>
<path d="M322.0,554.4 L323.7,554.3 L323.1,542.3 L321.5,542.4 Z" fill="#c1b0ae" stroke="#c1b0ae" stroke-width="0.6" fill-opacity="0.95" stroke-opacity="0.95"/>
<path d="M327.4,578.4 L327.0,578.5 L323.6,567.0 L324.0,566.8 Z" fill="#d7c0bf" stroke="#d7c0bf" stroke-width="0.6" fill-opacity="0.95" stroke-opacity="0.95"/>
<path d="M346.1,558.9 L346.8,560.6 L346.0,551.0 L345.2,549.3 Z" fill="#d2bdbb" stroke="#d2bdbb" stroke-width="0.6" fill-opacity="0.95" stroke-opacity="0.95"/>
<path d="M328.3,530.1 L331.3,530.7 L333.0,519.5 L330.1,518.9 Z" fill="#e3cbc9" stroke="#e3cbc9" stroke-width="0.6" fill-opacity="0.95" stroke-opacity="0.95"/>
<path d="M325.3,529.9 L328.3,530.3 L330.0,518.8 L327.0,518.4 Z" fill="#dfc8c6" stroke="#dfc8c6" stroke-width="0.6" fill-opacity="0.95" stroke-opacity="0.95"/>
<path d="M331.4,530.5 L334.2,531.3 L335.8,520.5 L333.0,519.6 Z" fill="#e3cac8" stroke="#e3cac8" stroke-width="0.6" fill-opacity="0.95" stroke-opacity="0.95"/>
<path d="M322.6,529.9 L325.5,530.0 L326.9,518.3 L324.0,518.1 Z" fill="#d8c2c0" stroke="#d8c2c0" stroke-width="0.6" fill-opacity="0.95" stroke-opacity="0.95"/>
<path d="M321.5,554.5 L322.5,554.4 L321.0,542.5 L320.0,542.6 Z" fill="#bfaead" stroke="#bfaead" stroke-width="0.6" fill-opacity="0.95" stroke-opacity="0.95"/>
<path d="M334.3,531.2 L336.8,532.3 L338.0,521.7 L335.6,520.6 Z" fill="#e0c8c6" stroke="#e0c8c6" stroke-width="0.6" fill-opacity="0.95" stroke-opacity="0.95"/>
<path d="M328.8,577.9 L327.8,578.2 L323.6,567.0 L324.6,566.7 Z" fill="#ddc5c4" stroke="#ddc5c4" stroke-width="0.6" fill-opacity="0.95" stroke-opacity="0.95"/>
<path d="M320.2,529.9 L322.8,529.9 L323.7,518.1 L321.1,518.0 Z" fill="#d1bcba" stroke="#d1bcba" stroke-width="0.6" fill-opacity="0.95" stroke-opacity="0.95"/>
<path d="M347.3,560.5 L347.4,562.4 L345.6,553.0 L345.5,551.1 Z" fill="#c6b3b2" stroke="#c6b3b2" stroke-width="0.6" fill-opacity="0.95" stroke-opacity="0.95"/>
<path d="M337.1,532.1 L339.1,533.4 L339.7,523.2 L337.8,521.9 Z" fill="#ddc5c3" stroke="#ddc5c3" stroke-width="0.6" fill-opacity="0.95" stroke-opacity="0.95"/>
<path d="M318.4,530.1 L320.6,530.0 L320.8,518.0 L318.6,518.1 Z" fill="#c9b6b4" stroke="#c9b6b4" stroke-width="0.6" fill-opacity="0.95" stroke-opacity="0.95"/>
<path d="M321.7,554.4 L322.0,554.4 L319.6,542.6 L319.3,542.6 Z" fill="#c2b0af" stroke="#c2b0af" stroke-width="0.6" fill-opacity="0.95" stroke-opacity="0.95"/>
<path d="M330.8,577.2 L329.2,577.7 L324.3,566.8 L325.9,566.3 Z" fill="#e2c9c7" stroke="#e2c9c7" stroke-width="0.6" fill-opacity="0.95" stroke-opacity="0.95"/>
<path d="M347.8,562.3 L347.2,564.2 L344.5,555.0 L345.1,553.1 Z" fill="#c3b1b0" stroke="#c3b1b0" stroke-width="0.6" fill-opacity="0.95" stroke-opacity="0.95"/>
<path d="M339.4,533.2 L340.8,534.8 L340.8,524.9 L339.4,523.4 Z" fill="#d8c1c0" stroke="#d8c1c0" stroke-width="0.6" fill-opacity="0.95" stroke-opacity="0.95"/>
<path d="M317.2,530.2 L318.8,530.1 L318.2,518.1 L316.6,518.2 Z" fill="#c1b0ae" stroke="#c1b0ae" stroke-width="0.6" fill-opacity="0.95" stroke-opacity="0.95"/>
<path d="M347.7,564.2 L346.4,566.2 L342.8,557.0 L344.0,555.1 Z" fill="#c5b3b2" stroke="#c5b3b2" stroke-width="0.6" fill-opacity="0.95" stroke-opacity="0.95"/>
<path d="M333.1,576.2 L331.1,577.0 L325.6,566.4 L327.7,565.7 Z" fill="#e6ccca" stroke="#e6ccca" stroke-width="0.6" fill-opacity="0.95" stroke-opacity="0.95"/>
<path d="M322.5,554.1 L322.1,554.3 L318.8,542.7 L319.2,542.6 Z" fill="#d7c0bf" stroke="#d7c0bf" stroke-width="0.6" fill-opacity="0.95" stroke-opacity="0.95"/>
<path d="M341.2,534.6 L342.0,536.4 L341.1,526.8 L340.4,525.0 Z" fill="#d2bdbb" stroke="#d2bdbb" stroke-width="0.6" fill-opacity="0.95" stroke-opacity="0.95"/>
<path d="M346.8,566.2 L345.1,568.1 L340.6,559.0 L342.4,557.0 Z" fill="#cebab8" stroke="#cebab8" stroke-width="0.6" fill-opacity="0.95" stroke-opacity="0.95"/>
<path d="M335.8,575.0 L333.3,576.1 L327.5,565.8 L329.9,564.8 Z" fill="#e9cfcd" stroke="#e9cfcd" stroke-width="0.6" fill-opacity="0.95" stroke-opacity="0.95"/>
<path d="M316.7,530.2 L317.6,530.1 L316.2,518.2 L315.2,518.3 Z" fill="#bfaead" stroke="#bfaead" stroke-width="0.6" fill-opacity="0.95" stroke-opacity="0.95"/>
<path d="M345.4,568.2 L343.2,570.0 L338.0,560.8 L340.3,558.9 Z" fill="#d6c0be" stroke="#d6c0be" stroke-width="0.6" fill-opacity="0.95" stroke-opacity="0.95"/>
<path d="M324.0,553.7 L322.9,554.0 L318.8,542.8 L319.8,542.4 Z" fill="#ddc5c4" stroke="#ddc5c4" stroke-width="0.6" fill-opacity="0.95" stroke-opacity="0.95"/>
<path d="M338.4,573.6 L335.8,574.9 L329.8,564.9 L332.5,563.7 Z" fill="#e9cfcd" stroke="#e9cfcd" stroke-width="0.6" fill-opacity="0.95" stroke-opacity="0.95"/>
<path d="M342.5,536.3 L342.5,538.1 L340.7,528.7 L340.6,526.9 Z" fill="#c6b3b2" stroke="#c6b3b2" stroke-width="0.6" fill-opacity="0.95" stroke-opacity="0.95"/>
<path d="M343.4,570.1 L340.9,571.8 L335.3,562.4 L337.8,560.7 Z" fill="#dec6c4" stroke="#dec6c4" stroke-width="0.6" fill-opacity="0.95" stroke-opacity="0.95"/>
<path d="M341.1,571.9 L338.4,573.4 L332.5,563.8 L335.1,562.3 Z" fill="#e5ccca" stroke="#e5ccca" stroke-width="0.6" fill-opacity="0.95" stroke-opacity="0.95"/>
<path d="M316.8,530.2 L317.1,530.2 L314.7,518.4 L314.4,518.4 Z" fill="#c2b0af" stroke="#c2b0af" stroke-width="0.6" fill-opacity="0.95" stroke-opacity="0.95"/>
<path d="M325.9,553.0 L324.3,553.5 L319.4,542.6 L321.0,542.0 Z" fill="#e2c9c7" stroke="#e2c9c7" stroke-width="0.6" fill-opacity="0.95" stroke-opacity="0.95"/>
<path d="M343.0,538.0 L342.4,540.0 L339.6,530.8 L340.2,528.8 Z" fill="#c3b1b0" stroke="#c3b1b0" stroke-width="0.6" fill-opacity="0.95" stroke-opacity="0.95"/>
<path d="M342.8,540.0 L341.6,541.9 L337.9,532.8 L339.2,530.8 Z" fill="#c5b3b2" stroke="#c5b3b2" stroke-width="0.6" fill-opacity="0.95" stroke-opacity="0.95"/>
<path d="M328.3,552.0 L326.2,552.8 L320.7,542.2 L322.8,541.4 Z" fill="#e6ccca" stroke="#e6ccca" stroke-width="0.6" fill-opacity="0.95" stroke-opacity="0.95"/>
<path d="M317.7,529.9 L317.3,530.0 L314.0,518.5 L314.3,518.4 Z" fill="#d7c0bf" stroke="#d7c0bf" stroke-width="0.6" fill-opacity="0.95" stroke-opacity="0.95"/>
<path d="M342.0,541.9 L340.2,543.9 L335.8,534.7 L337.5,532.8 Z" fill="#cebab8" stroke="#cebab8" stroke-width="0.6" fill-opacity="0.95" stroke-opacity="0.95"/>
<path d="M330.9,550.8 L328.5,551.8 L322.6,541.6 L325.1,540.6 Z" fill="#e9cfcd" stroke="#e9cfcd" stroke-width="0.6" fill-opacity="0.95" stroke-opacity="0.95"/>
<path d="M340.5,543.9 L338.3,545.8 L333.2,536.5 L335.4,534.7 Z" fill="#d6c0be" stroke="#d6c0be" stroke-width="0.6" fill-opacity="0.95" stroke-opacity="0.95"/>
<path d="M319.1,529.4 L318.1,529.8 L313.9,518.5 L314.9,518.2 Z" fill="#ddc5c4" stroke="#ddc5c4" stroke-width="0.6" fill-opacity="0.95" stroke-opacity="0.95"/>
<path d="M333.6,549.3 L331.0,550.6 L325.0,540.7 L327.6,539.4 Z" fill="#e9cfcd" stroke="#e9cfcd" stroke-width="0.6" fill-opacity="0.95" stroke-opacity="0.95"/>
<path d="M338.6,545.9 L336.1,547.6 L330.4,538.2 L333.0,536.5 Z" fill="#dec6c4" stroke="#dec6c4" stroke-width="0.6" fill-opacity="0.95" stroke-opacity="0.95"/>
<path d="M336.2,547.7 L333.6,549.2 L327.6,539.6 L330.3,538.1 Z" fill="#e5ccca" stroke="#e5ccca" stroke-width="0.6" fill-opacity="0.95" stroke-opacity="0.95"/>
<ellipse cx="226" cy="560" rx="10.5" ry="16" fill="none" stroke="#e9dddd" stroke-width="4.5"/>
<ellipse cx="216" cy="556" rx="11" ry="17" fill="none" stroke="#d2b8b5" stroke-width="4.2"/>
<path d="M222,541 Q229,550 227,563" fill="none" stroke="#a88e8b" stroke-width="1.6"/>
<ellipse cx="206" cy="549" rx="7.5" ry="15" fill="none" stroke="#a27a76" stroke-width="4.6"/>
<path d="M211,537 Q215,548 212,561" fill="none" stroke="#7d5a56" stroke-width="1.6"/>
<path d="M262.5,458.0 L265.8,457.8 L265.0,441.2 L261.6,441.4 Z" fill="#fff6f4" stroke="#fff6f4" stroke-width="0.6" fill-opacity="0.93" stroke-opacity="0.93"/>
<path d="M259.2,458.0 L262.5,457.9 L261.6,441.5 L258.3,441.6 Z" fill="#faeeed" stroke="#faeeed" stroke-width="0.6" fill-opacity="0.93" stroke-opacity="0.93"/>
<path d="M265.8,457.8 L269.1,457.5 L268.2,440.9 L265.0,441.2 Z" fill="#fff9f7" stroke="#fff9f7" stroke-width="0.6" fill-opacity="0.93" stroke-opacity="0.93"/>
<path d="M256.0,457.8 L259.3,457.9 L258.2,441.7 L255.0,441.6 Z" fill="#dfc4c1" stroke="#dfc4c1" stroke-width="0.6" fill-opacity="0.93" stroke-opacity="0.93"/>
<path d="M269.2,457.6 L272.3,457.2 L271.3,440.5 L268.2,440.8 Z" fill="#fff6f5" stroke="#fff6f5" stroke-width="0.6" fill-opacity="0.93" stroke-opacity="0.93"/>
<path d="M253.0,457.6 L256.1,457.8 L254.8,441.7 L251.7,441.5 Z" fill="#cfb5b2" stroke="#cfb5b2" stroke-width="0.6" fill-opacity="0.93" stroke-opacity="0.93"/>
<path d="M272.4,457.3 L275.4,456.9 L274.2,440.0 L271.2,440.4 Z" fill="#fbefed" stroke="#fbefed" stroke-width="0.6" fill-opacity="0.93" stroke-opacity="0.93"/>
<path d="M250.3,457.1 L253.2,457.5 L251.6,441.6 L248.7,441.3 Z" fill="#c4aba8" stroke="#c4aba8" stroke-width="0.6" fill-opacity="0.93" stroke-opacity="0.93"/>
<path d="M275.5,456.9 L278.3,456.5 L276.8,439.6 L274.1,440.0 Z" fill="#f3e7e5" stroke="#f3e7e5" stroke-width="0.6" fill-opacity="0.93" stroke-opacity="0.93"/>
<path d="M247.8,456.5 L250.5,457.0 L248.5,441.4 L245.9,440.9 Z" fill="#bca3a0" stroke="#bca3a0" stroke-width="0.6" fill-opacity="0.93" stroke-opacity="0.93"/>
<path d="M278.5,456.5 L280.9,456.0 L279.1,439.2 L276.6,439.6 Z" fill="#ede0df" stroke="#ede0df" stroke-width="0.6" fill-opacity="0.93" stroke-opacity="0.93"/>
<path d="M245.7,455.7 L248.1,456.4 L245.7,441.0 L243.4,440.3 Z" fill="#b39b98" stroke="#b39b98" stroke-width="0.6" fill-opacity="0.93" stroke-opacity="0.93"/>
<path d="M270.6,489.7 L274.0,489.6 L273.1,473.1 L269.8,473.3 Z" fill="#fddedb" stroke="#fddedb" stroke-width="0.6" fill-opacity="0.93" stroke-opacity="0.93"/>
<path d="M274.0,489.6 L277.3,489.4 L276.4,472.8 L273.1,473.0 Z" fill="#ffede9" stroke="#ffede9" stroke-width="0.6" fill-opacity="0.93" stroke-opacity="0.93"/>
<path d="M267.4,489.7 L270.7,489.6 L269.7,473.3 L266.4,473.4 Z" fill="#e7c9c6" stroke="#e7c9c6" stroke-width="0.6" fill-opacity="0.93" stroke-opacity="0.93"/>
<path d="M277.3,489.4 L280.6,489.1 L279.6,472.4 L276.4,472.7 Z" fill="#ffedea" stroke="#ffedea" stroke-width="0.6" fill-opacity="0.93" stroke-opacity="0.93"/>
<path d="M264.3,489.5 L267.5,489.6 L266.3,473.5 L263.1,473.4 Z" fill="#d3b6b3" stroke="#d3b6b3" stroke-width="0.6" fill-opacity="0.93" stroke-opacity="0.93"/>
<path d="M281.1,456.0 L283.2,455.7 L280.9,438.8 L278.9,439.2 Z" fill="#e8dbda" stroke="#e8dbda" stroke-width="0.6" fill-opacity="0.93" stroke-opacity="0.93"/>
<path d="M280.6,489.2 L283.7,488.8 L282.6,472.0 L279.5,472.4 Z" fill="#ffdfdb" stroke="#ffdfdb" stroke-width="0.6" fill-opacity="0.93" stroke-opacity="0.93"/>
<path d="M261.4,489.1 L264.4,489.4 L263.0,473.5 L260.0,473.2 Z" fill="#c5a9a6" stroke="#c5a9a6" stroke-width="0.6" fill-opacity="0.93" stroke-opacity="0.93"/>
<path d="M244.0,454.8 L246.0,455.6 L243.1,440.5 L241.2,439.6 Z" fill="#a99290" stroke="#a99290" stroke-width="0.6" fill-opacity="0.93" stroke-opacity="0.93"/>
<path d="M283.8,488.8 L286.7,488.4 L285.4,471.6 L282.5,472.0 Z" fill="#ebcbc7" stroke="#ebcbc7" stroke-width="0.6" fill-opacity="0.93" stroke-opacity="0.93"/>
<path d="M258.8,488.6 L261.6,489.0 L259.8,473.3 L257.1,472.9 Z" fill="#bba09d" stroke="#bba09d" stroke-width="0.6" fill-opacity="0.93" stroke-opacity="0.93"/>
<path d="M283.4,455.6 L285.1,455.3 L282.4,438.5 L280.7,438.8 Z" fill="#e4d7d6" stroke="#e4d7d6" stroke-width="0.6" fill-opacity="0.93" stroke-opacity="0.93"/>
<path d="M277.7,423.1 L278.3,423.0 L274.3,406.5 L273.7,406.6 Z" fill="#efeaea" stroke="#efeaea" stroke-width="0.6" fill-opacity="0.93" stroke-opacity="0.93"/>
<path d="M286.8,488.4 L289.4,488.0 L287.8,471.1 L285.2,471.5 Z" fill="#d8b9b5" stroke="#d8b9b5" stroke-width="0.6" fill-opacity="0.93" stroke-opacity="0.93"/>
<path d="M242.8,453.7 L244.3,454.7 L240.9,439.7 L239.4,438.7 Z" fill="#9e8986" stroke="#9e8986" stroke-width="0.6" fill-opacity="0.93" stroke-opacity="0.93"/>
<path d="M256.6,487.9 L259.0,488.5 L256.9,473.0 L254.4,472.4 Z" fill="#b29894" stroke="#b29894" stroke-width="0.6" fill-opacity="0.93" stroke-opacity="0.93"/>
<path d="M285.3,455.3 L286.6,455.0 L283.4,438.3 L282.1,438.6 Z" fill="#e0d3d1" stroke="#e0d3d1" stroke-width="0.6" fill-opacity="0.93" stroke-opacity="0.93"/>
<path d="M282.1,521.4 L285.5,521.2 L284.6,504.7 L281.3,504.9 Z" fill="#ffe5e1" stroke="#ffe5e1" stroke-width="0.6" fill-opacity="0.93" stroke-opacity="0.93"/>
<path d="M278.8,521.5 L282.1,521.4 L281.2,505.0 L277.9,505.1 Z" fill="#f1d1cd" stroke="#f1d1cd" stroke-width="0.6" fill-opacity="0.93" stroke-opacity="0.93"/>
<path d="M289.6,488.0 L291.9,487.6 L289.9,470.7 L287.6,471.1 Z" fill="#ccaca8" stroke="#ccaca8" stroke-width="0.6" fill-opacity="0.93" stroke-opacity="0.93"/>
<path d="M285.5,521.3 L288.7,521.0 L287.9,504.4 L284.6,504.6 Z" fill="#ffeeea" stroke="#ffeeea" stroke-width="0.6" fill-opacity="0.93" stroke-opacity="0.93"/>
<path d="M275.6,521.3 L278.9,521.4 L277.8,505.2 L274.6,505.1 Z" fill="#dabab7" stroke="#dabab7" stroke-width="0.6" fill-opacity="0.93" stroke-opacity="0.93"/>
<path d="M241.9,452.4 L243.0,453.6 L239.1,438.8 L238.0,437.6 Z" fill="#95817e" stroke="#95817e" stroke-width="0.6" fill-opacity="0.93" stroke-opacity="0.93"/>
<path d="M278.6,423.0 L278.7,423.0 L274.1,406.7 L274.0,406.6 Z" fill="#eee9e8" stroke="#eee9e8" stroke-width="0.6" fill-opacity="0.93" stroke-opacity="0.93"/>
<path d="M288.8,521.1 L292.0,520.7 L291.0,504.0 L287.8,504.3 Z" fill="#ffe6e2" stroke="#ffe6e2" stroke-width="0.6" fill-opacity="0.93" stroke-opacity="0.93"/>
<path d="M254.7,487.0 L256.8,487.8 L254.2,472.5 L252.0,471.7 Z" fill="#a88f8c" stroke="#a88f8c" stroke-width="0.6" fill-opacity="0.93" stroke-opacity="0.93"/>
<path d="M272.7,521.1 L275.8,521.2 L274.5,505.2 L271.4,505.0 Z" fill="#c8a9a5" stroke="#c8a9a5" stroke-width="0.6" fill-opacity="0.93" stroke-opacity="0.93"/>
<path d="M292.1,520.7 L295.0,520.3 L293.8,503.5 L290.9,503.9 Z" fill="#f4d2ce" stroke="#f4d2ce" stroke-width="0.6" fill-opacity="0.93" stroke-opacity="0.93"/>
<path d="M292.1,487.6 L294.0,487.2 L291.5,470.4 L289.6,470.8 Z" fill="#c2a39f" stroke="#c2a39f" stroke-width="0.6" fill-opacity="0.93" stroke-opacity="0.93"/>
<path d="M286.9,455.0 L287.7,454.8 L284.0,438.3 L283.1,438.4 Z" fill="#dacdcc" stroke="#dacdcc" stroke-width="0.6" fill-opacity="0.93" stroke-opacity="0.93"/>
<path d="M269.9,520.6 L272.8,521.0 L271.2,505.1 L268.3,504.8 Z" fill="#bb9e9a" stroke="#bb9e9a" stroke-width="0.6" fill-opacity="0.93" stroke-opacity="0.93"/>
<path d="M241.5,451.0 L242.2,452.3 L237.7,437.7 L237.0,436.4 Z" fill="#957f7d" stroke="#957f7d" stroke-width="0.6" fill-opacity="0.93" stroke-opacity="0.93"/>
<path d="M253.2,486.0 L254.9,486.9 L251.8,471.9 L250.0,470.9 Z" fill="#9d8582" stroke="#9d8582" stroke-width="0.6" fill-opacity="0.93" stroke-opacity="0.93"/>
<path d="M295.2,520.4 L297.9,519.9 L296.4,503.1 L293.7,503.5 Z" fill="#dfbcb8" stroke="#dfbcb8" stroke-width="0.6" fill-opacity="0.93" stroke-opacity="0.93"/>
<path d="M279.0,422.9 L278.7,423.1 L273.5,406.9 L273.8,406.7 Z" fill="#eee9e9" stroke="#eee9e9" stroke-width="0.6" fill-opacity="0.93" stroke-opacity="0.93"/>
<path d="M267.5,520.0 L270.1,520.5 L268.1,504.9 L265.5,504.4 Z" fill="#b19591" stroke="#b19591" stroke-width="0.6" fill-opacity="0.93" stroke-opacity="0.93"/>
<path d="M294.2,487.2 L295.7,486.9 L292.8,470.2 L291.3,470.4 Z" fill="#ba9b97" stroke="#ba9b97" stroke-width="0.6" fill-opacity="0.93" stroke-opacity="0.93"/>
<path d="M298.1,519.9 L300.5,519.5 L298.7,502.7 L296.3,503.1 Z" fill="#ceaca8" stroke="#ceaca8" stroke-width="0.6" fill-opacity="0.93" stroke-opacity="0.93"/>
<path d="M288.0,454.8 L288.4,454.8 L284.1,438.3 L283.7,438.3 Z" fill="#d4c7c5" stroke="#d4c7c5" stroke-width="0.6" fill-opacity="0.93" stroke-opacity="0.93"/>
<path d="M252.1,484.8 L253.4,485.9 L249.8,471.0 L248.4,469.9 Z" fill="#917b78" stroke="#917b78" stroke-width="0.6" fill-opacity="0.93" stroke-opacity="0.93"/>
<path d="M241.6,449.4 L241.8,450.9 L236.8,436.5 L236.5,435.0 Z" fill="#b89995" stroke="#b89995" stroke-width="0.6" fill-opacity="0.93" stroke-opacity="0.93"/>
<path d="M265.4,519.2 L267.7,519.9 L265.3,504.5 L263.0,503.8 Z" fill="#a78c88" stroke="#a78c88" stroke-width="0.6" fill-opacity="0.93" stroke-opacity="0.93"/>
<path d="M290.3,553.2 L293.6,553.1 L292.7,536.6 L289.4,536.7 Z" fill="#fcd9d5" stroke="#fcd9d5" stroke-width="0.6" fill-opacity="0.93" stroke-opacity="0.93"/>
<path d="M293.6,553.1 L296.9,552.9 L296.1,536.3 L292.7,536.5 Z" fill="#ffeae6" stroke="#ffeae6" stroke-width="0.6" fill-opacity="0.93" stroke-opacity="0.93"/>
<path d="M279.0,423.0 L278.2,423.4 L272.5,407.4 L273.2,407.0 Z" fill="#ede9e8" stroke="#ede9e8" stroke-width="0.6" fill-opacity="0.93" stroke-opacity="0.93"/>
<path d="M287.0,553.2 L290.3,553.1 L289.3,536.8 L286.0,536.9 Z" fill="#e3c1bd" stroke="#e3c1bd" stroke-width="0.6" fill-opacity="0.93" stroke-opacity="0.93"/>
<path d="M297.0,552.9 L300.2,552.6 L299.2,535.9 L296.0,536.2 Z" fill="#ffebe6" stroke="#ffebe6" stroke-width="0.6" fill-opacity="0.93" stroke-opacity="0.93"/>
<path d="M283.9,553.0 L287.1,553.1 L285.9,536.9 L282.8,536.8 Z" fill="#cdaba7" stroke="#cdaba7" stroke-width="0.6" fill-opacity="0.93" stroke-opacity="0.93"/>
<path d="M300.7,519.5 L302.8,519.1 L300.6,502.3 L298.5,502.7 Z" fill="#c3a19d" stroke="#c3a19d" stroke-width="0.6" fill-opacity="0.93" stroke-opacity="0.93"/>
<path d="M296.0,486.9 L297.0,486.7 L293.6,470.0 L292.5,470.2 Z" fill="#b0928f" stroke="#b0928f" stroke-width="0.6" fill-opacity="0.93" stroke-opacity="0.93"/>
<path d="M300.3,552.7 L303.3,552.3 L302.2,535.5 L299.2,535.9 Z" fill="#ffdad6" stroke="#ffdad6" stroke-width="0.6" fill-opacity="0.93" stroke-opacity="0.93"/>
<path d="M251.5,483.4 L252.4,484.7 L248.2,470.0 L247.3,468.8 Z" fill="#8e7775" stroke="#8e7775" stroke-width="0.6" fill-opacity="0.93" stroke-opacity="0.93"/>
<path d="M281.1,552.6 L284.1,552.9 L282.6,536.9 L279.6,536.7 Z" fill="#bd9c99" stroke="#bd9c99" stroke-width="0.6" fill-opacity="0.93" stroke-opacity="0.93"/>
<path d="M263.7,518.3 L265.6,519.1 L262.7,503.9 L260.8,503.1 Z" fill="#9c827f" stroke="#9c827f" stroke-width="0.6" fill-opacity="0.93" stroke-opacity="0.93"/>
<path d="M288.7,454.7 L288.6,454.8 L283.7,438.5 L283.8,438.4 Z" fill="#d0c3c1" stroke="#d0c3c1" stroke-width="0.6" fill-opacity="0.93" stroke-opacity="0.93"/>
<path d="M242.2,447.7 L241.9,449.3 L236.3,435.1 L236.5,433.5 Z" fill="#c09e9a" stroke="#c09e9a" stroke-width="0.6" fill-opacity="0.93" stroke-opacity="0.93"/>
<path d="M303.5,552.3 L306.3,551.9 L305.0,535.0 L302.1,535.5 Z" fill="#e8c3bf" stroke="#e8c3bf" stroke-width="0.6" fill-opacity="0.93" stroke-opacity="0.93"/>
<path d="M278.5,423.3 L277.3,423.8 L271.0,408.0 L272.2,407.5 Z" fill="#efeaea" stroke="#efeaea" stroke-width="0.6" fill-opacity="0.93" stroke-opacity="0.93"/>
<path d="M278.5,552.1 L281.2,552.5 L279.5,536.8 L276.7,536.4 Z" fill="#b1928e" stroke="#b1928e" stroke-width="0.6" fill-opacity="0.93" stroke-opacity="0.93"/>
<path d="M303.0,519.1 L304.7,518.8 L302.0,502.0 L300.3,502.3 Z" fill="#ba9995" stroke="#ba9995" stroke-width="0.6" fill-opacity="0.93" stroke-opacity="0.93"/>
<path d="M297.3,486.6 L297.9,486.5 L293.9,470.0 L293.3,470.1 Z" fill="#a58985" stroke="#a58985" stroke-width="0.6" fill-opacity="0.93" stroke-opacity="0.93"/>
<path d="M306.5,551.9 L309.1,551.5 L307.4,534.6 L304.8,535.0 Z" fill="#d3aeaa" stroke="#d3aeaa" stroke-width="0.6" fill-opacity="0.93" stroke-opacity="0.93"/>
<path d="M262.4,517.2 L263.9,518.2 L260.5,503.2 L259.0,502.2 Z" fill="#907875" stroke="#907875" stroke-width="0.6" fill-opacity="0.93" stroke-opacity="0.93"/>
<path d="M251.3,481.9 L251.8,483.4 L247.0,468.9 L246.5,467.5 Z" fill="#8e7673" stroke="#8e7673" stroke-width="0.6" fill-opacity="0.93" stroke-opacity="0.93"/>
<path d="M243.1,446.0 L242.4,447.7 L236.2,433.5 L236.9,431.8 Z" fill="#c8a39f" stroke="#c8a39f" stroke-width="0.6" fill-opacity="0.93" stroke-opacity="0.93"/>
<path d="M288.8,454.7 L288.3,455.0 L282.9,438.9 L283.4,438.6 Z" fill="#ccbdbc" stroke="#ccbdbc" stroke-width="0.6" fill-opacity="0.93" stroke-opacity="0.93"/>
<path d="M276.2,551.4 L278.7,552.0 L276.5,536.5 L274.0,535.9 Z" fill="#a68985" stroke="#a68985" stroke-width="0.6" fill-opacity="0.93" stroke-opacity="0.93"/>
<path d="M277.5,423.7 L276.0,424.4 L269.2,408.8 L270.8,408.1 Z" fill="#f1eceb" stroke="#f1eceb" stroke-width="0.6" fill-opacity="0.93" stroke-opacity="0.93"/>
<path d="M305.0,518.8 L306.2,518.5 L303.0,501.8 L301.8,502.1 Z" fill="#b0908c" stroke="#b0908c" stroke-width="0.6" fill-opacity="0.93" stroke-opacity="0.93"/>
<path d="M301.7,584.9 L305.1,584.7 L304.2,568.2 L300.9,568.4 Z" fill="#ffe2dd" stroke="#ffe2dd" stroke-width="0.6" fill-opacity="0.93" stroke-opacity="0.93"/>
<path d="M298.4,584.9 L301.8,584.9 L300.8,568.5 L297.5,568.6 Z" fill="#efcac6" stroke="#efcac6" stroke-width="0.6" fill-opacity="0.93" stroke-opacity="0.93"/>
<path d="M309.2,551.5 L311.5,551.1 L309.5,534.2 L307.2,534.6 Z" fill="#c4a09c" stroke="#c4a09c" stroke-width="0.6" fill-opacity="0.93" stroke-opacity="0.93"/>
<path d="M305.1,584.8 L308.4,584.5 L307.5,567.8 L304.2,568.1 Z" fill="#ffece7" stroke="#ffece7" stroke-width="0.6" fill-opacity="0.93" stroke-opacity="0.93"/>
<path d="M295.3,584.8 L298.5,584.9 L297.4,568.6 L294.2,568.6 Z" fill="#d5b1ac" stroke="#d5b1ac" stroke-width="0.6" fill-opacity="0.93" stroke-opacity="0.93"/>
<path d="M261.5,515.9 L262.7,517.1 L258.7,502.3 L257.6,501.1 Z" fill="#866f6c" stroke="#866f6c" stroke-width="0.6" fill-opacity="0.93" stroke-opacity="0.93"/>
<path d="M298.2,486.5 L298.3,486.5 L293.7,470.1 L293.6,470.1 Z" fill="#9a7e7b" stroke="#9a7e7b" stroke-width="0.6" fill-opacity="0.93" stroke-opacity="0.93"/>
<path d="M244.5,444.1 L243.4,445.9 L236.7,431.9 L237.8,430.1 Z" fill="#d0a8a3" stroke="#d0a8a3" stroke-width="0.6" fill-opacity="0.93" stroke-opacity="0.93"/>
<path d="M251.7,480.3 L251.6,481.9 L246.3,467.5 L246.3,466.0 Z" fill="#b79591" stroke="#b79591" stroke-width="0.6" fill-opacity="0.93" stroke-opacity="0.93"/>
<path d="M308.4,584.5 L311.6,584.2 L310.6,567.4 L307.4,567.8 Z" fill="#ffe2de" stroke="#ffe2de" stroke-width="0.6" fill-opacity="0.93" stroke-opacity="0.93"/>
<path d="M274.3,550.5 L276.4,551.3 L273.8,536.0 L271.7,535.2 Z" fill="#9b7f7c" stroke="#9b7f7c" stroke-width="0.6" fill-opacity="0.93" stroke-opacity="0.93"/>
<path d="M292.3,584.5 L295.4,584.7 L294.1,568.7 L291.0,568.5 Z" fill="#c09d99" stroke="#c09d99" stroke-width="0.6" fill-opacity="0.93" stroke-opacity="0.93"/>
<path d="M288.6,454.9 L287.6,455.3 L281.6,439.4 L282.6,439.0 Z" fill="#cabbb9" stroke="#cabbb9" stroke-width="0.6" fill-opacity="0.93" stroke-opacity="0.93"/>
<path d="M276.2,424.3 L274.3,425.2 L267.0,409.8 L268.9,408.9 Z" fill="#f3eded" stroke="#f3eded" stroke-width="0.6" fill-opacity="0.93" stroke-opacity="0.93"/>
<path d="M311.7,584.2 L314.7,583.8 L313.5,567.0 L310.5,567.4 Z" fill="#f3ccc7" stroke="#f3ccc7" stroke-width="0.6" fill-opacity="0.93" stroke-opacity="0.93"/>
<path d="M311.7,551.1 L313.6,550.7 L311.2,533.9 L309.3,534.2 Z" fill="#ba9692" stroke="#ba9692" stroke-width="0.6" fill-opacity="0.93" stroke-opacity="0.93"/>
<path d="M306.5,518.5 L307.3,518.3 L303.6,501.7 L302.8,501.9 Z" fill="#a68683" stroke="#a68683" stroke-width="0.6" fill-opacity="0.93" stroke-opacity="0.93"/>
<path d="M289.5,584.1 L292.4,584.4 L290.8,568.6 L287.9,568.3 Z" fill="#b2908c" stroke="#b2908c" stroke-width="0.6" fill-opacity="0.93" stroke-opacity="0.93"/>
<path d="M246.3,442.2 L244.8,444.1 L237.6,430.1 L239.1,428.2 Z" fill="#d8ada8" stroke="#d8ada8" stroke-width="0.6" fill-opacity="0.93" stroke-opacity="0.93"/>
<path d="M261.2,514.5 L261.8,515.8 L257.3,501.2 L256.7,499.9 Z" fill="#866e6b" stroke="#866e6b" stroke-width="0.6" fill-opacity="0.93" stroke-opacity="0.93"/>
<path d="M272.8,549.5 L274.5,550.4 L271.4,535.3 L269.7,534.4 Z" fill="#8f7571" stroke="#8f7571" stroke-width="0.6" fill-opacity="0.93" stroke-opacity="0.93"/>
<path d="M252.4,478.6 L251.9,480.3 L246.0,466.1 L246.5,464.4 Z" fill="#c09b96" stroke="#c09b96" stroke-width="0.6" fill-opacity="0.93" stroke-opacity="0.93"/>
<path d="M314.8,583.8 L317.5,583.4 L316.1,566.6 L313.3,567.0 Z" fill="#dab3af" stroke="#dab3af" stroke-width="0.6" fill-opacity="0.93" stroke-opacity="0.93"/>
<path d="M298.6,486.4 L298.3,486.6 L293.1,470.4 L293.5,470.2 Z" fill="#997c78" stroke="#997c78" stroke-width="0.6" fill-opacity="0.93" stroke-opacity="0.93"/>
<path d="M274.5,425.0 L272.2,426.1 L264.6,410.9 L266.8,409.9 Z" fill="#f5efee" stroke="#f5efee" stroke-width="0.6" fill-opacity="0.93" stroke-opacity="0.93"/>
<path d="M287.9,455.2 L286.5,455.8 L280.0,440.1 L281.3,439.5 Z" fill="#cebcba" stroke="#cebcba" stroke-width="0.6" fill-opacity="0.93" stroke-opacity="0.93"/>
<path d="M287.1,583.5 L289.7,584.0 L287.8,568.4 L285.1,567.9 Z" fill="#a78682" stroke="#a78682" stroke-width="0.6" fill-opacity="0.93" stroke-opacity="0.93"/>
<path d="M248.4,440.3 L246.5,442.2 L238.9,428.3 L240.8,426.4 Z" fill="#e2b6b0" stroke="#e2b6b0" stroke-width="0.6" fill-opacity="0.93" stroke-opacity="0.93"/>
<path d="M313.9,550.7 L315.3,550.4 L312.4,533.7 L310.9,533.9 Z" fill="#b08e89" stroke="#b08e89" stroke-width="0.6" fill-opacity="0.93" stroke-opacity="0.93"/>
<path d="M317.7,583.4 L320.1,583.0 L318.3,566.2 L315.9,566.6 Z" fill="#c8a19c" stroke="#c8a19c" stroke-width="0.6" fill-opacity="0.93" stroke-opacity="0.93"/>
<path d="M307.6,518.3 L308.0,518.2 L303.7,501.8 L303.3,501.8 Z" fill="#9a7c78" stroke="#9a7c78" stroke-width="0.6" fill-opacity="0.93" stroke-opacity="0.93"/>
<path d="M272.4,426.0 L269.9,427.2 L261.9,412.2 L264.4,411.0 Z" fill="#f7f0f0" stroke="#f7f0f0" stroke-width="0.6" fill-opacity="0.93" stroke-opacity="0.93"/>
<path d="M271.7,548.3 L273.1,549.4 L269.4,534.5 L268.1,533.4 Z" fill="#826966" stroke="#826966" stroke-width="0.6" fill-opacity="0.93" stroke-opacity="0.93"/>
<path d="M253.6,476.8 L252.7,478.6 L246.2,464.5 L247.1,462.7 Z" fill="#c9a09b" stroke="#c9a09b" stroke-width="0.6" fill-opacity="0.93" stroke-opacity="0.93"/>
<path d="M261.3,512.9 L261.5,514.4 L256.4,500.0 L256.2,498.5 Z" fill="#ae8b87" stroke="#ae8b87" stroke-width="0.6" fill-opacity="0.93" stroke-opacity="0.93"/>
<path d="M285.0,582.7 L287.3,583.4 L284.9,568.0 L282.6,567.3 Z" fill="#9b7c79" stroke="#9b7c79" stroke-width="0.6" fill-opacity="0.93" stroke-opacity="0.93"/>
<path d="M250.8,438.4 L248.6,440.3 L240.6,426.4 L242.8,424.5 Z" fill="#f3c4bf" stroke="#f3c4bf" stroke-width="0.6" fill-opacity="0.93" stroke-opacity="0.93"/>
<path d="M298.6,486.5 L297.8,486.9 L292.1,470.9 L292.9,470.5 Z" fill="#927572" stroke="#927572" stroke-width="0.6" fill-opacity="0.93" stroke-opacity="0.93"/>
<path d="M286.7,455.7 L285.0,456.5 L277.9,441.0 L279.7,440.2 Z" fill="#d2bdbb" stroke="#d2bdbb" stroke-width="0.6" fill-opacity="0.93" stroke-opacity="0.93"/>
<path d="M270.1,427.1 L267.4,428.4 L259.1,413.7 L261.8,412.3 Z" fill="#f9f1f1" stroke="#f9f1f1" stroke-width="0.6" fill-opacity="0.93" stroke-opacity="0.93"/>
<path d="M320.3,583.0 L322.4,582.6 L320.2,565.8 L318.1,566.2 Z" fill="#bb9590" stroke="#bb9590" stroke-width="0.6" fill-opacity="0.93" stroke-opacity="0.93"/>
<path d="M315.6,550.3 L316.6,550.2 L313.2,533.5 L312.1,533.7 Z" fill="#a68480" stroke="#a68480" stroke-width="0.6" fill-opacity="0.93" stroke-opacity="0.93"/>
<path d="M253.4,436.5 L250.9,438.4 L242.6,424.4 L245.1,422.5 Z" fill="#ffdbd6" stroke="#ffdbd6" stroke-width="0.6" fill-opacity="0.93" stroke-opacity="0.93"/>
<path d="M255.2,474.9 L253.8,476.8 L246.9,462.7 L248.2,460.9 Z" fill="#d1a5a0" stroke="#d1a5a0" stroke-width="0.6" fill-opacity="0.93" stroke-opacity="0.93"/>
<path d="M267.5,428.3 L264.7,429.8 L256.2,415.3 L259.0,413.8 Z" fill="#fdf4f3" stroke="#fdf4f3" stroke-width="0.6" fill-opacity="0.93" stroke-opacity="0.93"/>
<path d="M271.1,546.9 L272.0,548.2 L267.8,533.5 L266.9,532.3 Z" fill="#7f6663" stroke="#7f6663" stroke-width="0.6" fill-opacity="0.93" stroke-opacity="0.93"/>
<path d="M283.3,581.8 L285.2,582.6 L282.4,567.4 L280.4,566.6 Z" fill="#8f726e" stroke="#8f726e" stroke-width="0.6" fill-opacity="0.93" stroke-opacity="0.93"/>
<path d="M308.3,518.2 L308.2,518.3 L303.3,502.0 L303.4,501.9 Z" fill="#967773" stroke="#967773" stroke-width="0.6" fill-opacity="0.93" stroke-opacity="0.93"/>
<path d="M261.8,511.2 L261.5,512.8 L255.9,498.6 L256.1,497.0 Z" fill="#b8928d" stroke="#b8928d" stroke-width="0.6" fill-opacity="0.93" stroke-opacity="0.93"/>
<path d="M256.1,434.7 L253.5,436.6 L245.0,422.5 L247.6,420.7 Z" fill="#fff4ef" stroke="#fff4ef" stroke-width="0.6" fill-opacity="0.93" stroke-opacity="0.93"/>
<path d="M264.7,429.7 L261.9,431.4 L253.2,417.0 L256.1,415.3 Z" fill="#fff9f8" stroke="#fff9f8" stroke-width="0.6" fill-opacity="0.93" stroke-opacity="0.93"/>
<path d="M285.2,456.4 L283.1,457.3 L275.6,442.1 L277.7,441.1 Z" fill="#d6bfbc" stroke="#d6bfbc" stroke-width="0.6" fill-opacity="0.93" stroke-opacity="0.93"/>
<path d="M259.0,432.9 L256.2,434.7 L247.6,420.6 L250.4,418.8 Z" fill="#fffffd" stroke="#fffffd" stroke-width="0.6" fill-opacity="0.93" stroke-opacity="0.93"/>
<path d="M261.9,431.3 L259.0,433.0 L250.4,418.7 L253.2,417.0 Z" fill="#fffdf7" stroke="#fffdf7" stroke-width="0.6" fill-opacity="0.93" stroke-opacity="0.93"/>
<path d="M298.1,486.8 L296.9,487.3 L290.6,471.5 L291.8,471.0 Z" fill="#9c7b78" stroke="#9c7b78" stroke-width="0.6" fill-opacity="0.93" stroke-opacity="0.93"/>
<path d="M322.6,582.6 L324.3,582.3 L321.7,565.5 L320.0,565.8 Z" fill="#b18b87" stroke="#b18b87" stroke-width="0.6" fill-opacity="0.93" stroke-opacity="0.93"/>
<path d="M257.1,473.0 L255.4,474.9 L248.0,460.9 L249.7,459.1 Z" fill="#dbaca7" stroke="#dbaca7" stroke-width="0.6" fill-opacity="0.93" stroke-opacity="0.93"/>
<path d="M316.9,550.1 L317.5,550.0 L313.5,533.5 L312.9,533.6 Z" fill="#9a7a76" stroke="#9a7a76" stroke-width="0.6" fill-opacity="0.93" stroke-opacity="0.93"/>
<path d="M282.0,580.6 L283.6,581.7 L280.2,566.7 L278.6,565.7 Z" fill="#826763" stroke="#826763" stroke-width="0.6" fill-opacity="0.93" stroke-opacity="0.93"/>
<path d="M271.0,545.4 L271.4,546.8 L266.6,532.3 L266.2,530.9 Z" fill="#7f6561" stroke="#7f6561" stroke-width="0.6" fill-opacity="0.93" stroke-opacity="0.93"/>
<path d="M262.8,509.5 L262.1,511.2 L255.9,497.0 L256.6,495.3 Z" fill="#c19893" stroke="#c19893" stroke-width="0.6" fill-opacity="0.93" stroke-opacity="0.93"/>
<path d="M283.3,457.2 L280.9,458.3 L273.1,443.3 L275.4,442.2 Z" fill="#dbc1be" stroke="#dbc1be" stroke-width="0.6" fill-opacity="0.93" stroke-opacity="0.93"/>
<path d="M308.5,518.2 L307.9,518.5 L302.5,502.4 L303.0,502.1 Z" fill="#8f716d" stroke="#8f716d" stroke-width="0.6" fill-opacity="0.93" stroke-opacity="0.93"/>
<path d="M297.2,487.2 L295.6,487.9 L288.8,472.3 L290.4,471.6 Z" fill="#a6827e" stroke="#a6827e" stroke-width="0.6" fill-opacity="0.93" stroke-opacity="0.93"/>
<path d="M259.4,471.1 L257.3,473.0 L249.5,459.1 L251.5,457.2 Z" fill="#e8b8b2" stroke="#e8b8b2" stroke-width="0.6" fill-opacity="0.93" stroke-opacity="0.93"/>
<path d="M324.6,582.2 L325.9,582.0 L322.7,565.3 L321.4,565.5 Z" fill="#a6827e" stroke="#a6827e" stroke-width="0.6" fill-opacity="0.93" stroke-opacity="0.93"/>
<path d="M281.1,458.2 L278.5,459.5 L270.3,444.7 L272.9,443.4 Z" fill="#e3c6c3" stroke="#e3c6c3" stroke-width="0.6" fill-opacity="0.93" stroke-opacity="0.93"/>
<path d="M281.2,579.4 L282.3,580.5 L278.3,565.8 L277.2,564.6 Z" fill="#785d5a" stroke="#785d5a" stroke-width="0.6" fill-opacity="0.93" stroke-opacity="0.93"/>
<path d="M317.8,549.9 L318.0,550.0 L313.4,533.6 L313.2,533.6 Z" fill="#8d6e6a" stroke="#8d6e6a" stroke-width="0.6" fill-opacity="0.93" stroke-opacity="0.93"/>
<path d="M264.1,507.6 L263.0,509.4 L256.3,495.4 L257.4,493.6 Z" fill="#ca9d98" stroke="#ca9d98" stroke-width="0.6" fill-opacity="0.93" stroke-opacity="0.93"/>
<path d="M261.8,469.2 L259.5,471.1 L251.4,457.2 L253.7,455.2 Z" fill="#feccc6" stroke="#feccc6" stroke-width="0.6" fill-opacity="0.93" stroke-opacity="0.93"/>
<path d="M271.3,543.8 L271.3,545.4 L265.9,531.0 L265.9,529.5 Z" fill="#af8883" stroke="#af8883" stroke-width="0.6" fill-opacity="0.93" stroke-opacity="0.93"/>
<path d="M278.6,459.4 L275.9,460.8 L267.4,446.2 L270.2,444.8 Z" fill="#f0d1cd" stroke="#f0d1cd" stroke-width="0.6" fill-opacity="0.93" stroke-opacity="0.93"/>
<path d="M308.2,518.4 L307.2,518.8 L301.2,502.9 L302.2,502.5 Z" fill="#91706d" stroke="#91706d" stroke-width="0.6" fill-opacity="0.93" stroke-opacity="0.93"/>
<path d="M295.8,487.8 L293.9,488.6 L286.6,473.3 L288.6,472.4 Z" fill="#b18985" stroke="#b18985" stroke-width="0.6" fill-opacity="0.93" stroke-opacity="0.93"/>
<path d="M264.5,467.3 L262.0,469.2 L253.6,455.2 L256.2,453.3 Z" fill="#ffece8" stroke="#ffece8" stroke-width="0.6" fill-opacity="0.93" stroke-opacity="0.93"/>
<path d="M275.9,460.8 L273.1,462.3 L264.5,447.8 L267.4,446.3 Z" fill="#ffe2de" stroke="#ffe2de" stroke-width="0.6" fill-opacity="0.93" stroke-opacity="0.93"/>
<path d="M267.4,465.5 L264.6,467.4 L256.1,453.3 L258.8,451.5 Z" fill="#fffef9" stroke="#fffef9" stroke-width="0.6" fill-opacity="0.93" stroke-opacity="0.93"/>
<path d="M326.1,582.0 L327.0,581.8 L323.2,565.2 L322.4,565.4 Z" fill="#9b7874" stroke="#9b7874" stroke-width="0.6" fill-opacity="0.93" stroke-opacity="0.93"/>
<path d="M273.1,462.2 L270.3,463.9 L261.6,449.6 L264.5,447.9 Z" fill="#fff6f1" stroke="#fff6f1" stroke-width="0.6" fill-opacity="0.93" stroke-opacity="0.93"/>
<path d="M270.2,463.8 L267.4,465.6 L258.8,451.4 L261.6,449.6 Z" fill="#fffffd" stroke="#fffffd" stroke-width="0.6" fill-opacity="0.93" stroke-opacity="0.93"/>
<path d="M265.9,505.7 L264.4,507.6 L257.2,493.6 L258.7,491.7 Z" fill="#d4a49f" stroke="#d4a49f" stroke-width="0.6" fill-opacity="0.93" stroke-opacity="0.93"/>
<path d="M280.8,577.9 L281.5,579.3 L276.9,564.7 L276.3,563.4 Z" fill="#795e5b" stroke="#795e5b" stroke-width="0.6" fill-opacity="0.93" stroke-opacity="0.93"/>
<path d="M272.0,542.1 L271.6,543.8 L265.6,529.5 L266.1,527.9 Z" fill="#ba908b" stroke="#ba908b" stroke-width="0.6" fill-opacity="0.93" stroke-opacity="0.93"/>
<path d="M318.2,549.9 L317.9,550.1 L312.8,533.9 L313.1,533.7 Z" fill="#8e6e6a" stroke="#8e6e6a" stroke-width="0.6" fill-opacity="0.93" stroke-opacity="0.93"/>
<path d="M294.1,488.5 L291.9,489.6 L284.2,474.4 L286.4,473.4 Z" fill="#bd928d" stroke="#bd928d" stroke-width="0.6" fill-opacity="0.93" stroke-opacity="0.93"/>
<path d="M307.5,518.7 L306.1,519.3 L299.6,503.6 L301.0,503.0 Z" fill="#9d7a76" stroke="#9d7a76" stroke-width="0.6" fill-opacity="0.93" stroke-opacity="0.93"/>
<path d="M268.0,503.8 L266.1,505.7 L258.5,491.8 L260.4,489.9 Z" fill="#e0afa9" stroke="#e0afa9" stroke-width="0.6" fill-opacity="0.93" stroke-opacity="0.93"/>
<path d="M327.2,581.7 L327.6,581.7 L323.3,565.3 L322.9,565.3 Z" fill="#91706c" stroke="#91706c" stroke-width="0.6" fill-opacity="0.93" stroke-opacity="0.93"/>
<path d="M292.0,489.5 L289.6,490.7 L281.5,475.7 L284.0,474.5 Z" fill="#ca9d98" stroke="#ca9d98" stroke-width="0.6" fill-opacity="0.93" stroke-opacity="0.93"/>
<path d="M273.2,540.3 L272.3,542.0 L265.8,527.9 L266.8,526.2 Z" fill="#c49893" stroke="#c49893" stroke-width="0.6" fill-opacity="0.93" stroke-opacity="0.93"/>
<path d="M280.9,576.4 L281.1,577.9 L276.0,563.4 L275.8,562.0 Z" fill="#a7827d" stroke="#a7827d" stroke-width="0.6" fill-opacity="0.93" stroke-opacity="0.93"/>
<path d="M291.3,611.8 L292.0,612.3 L288.3,597.5 L287.7,596.9 Z" fill="#755b58" stroke="#755b58" stroke-width="0.6" fill-opacity="0.93" stroke-opacity="0.93"/>
<path d="M270.4,501.9 L268.2,503.8 L260.2,489.9 L262.4,487.9 Z" fill="#f2c0ba" stroke="#f2c0ba" stroke-width="0.6" fill-opacity="0.93" stroke-opacity="0.93"/>
<path d="M318.2,550.0 L317.4,550.4 L311.7,534.4 L312.5,534.0 Z" fill="#8a6b67" stroke="#8a6b67" stroke-width="0.6" fill-opacity="0.93" stroke-opacity="0.93"/>
<path d="M306.4,519.2 L304.6,520.0 L297.6,504.5 L299.3,503.7 Z" fill="#aa847f" stroke="#aa847f" stroke-width="0.6" fill-opacity="0.93" stroke-opacity="0.93"/>
<path d="M289.7,490.6 L287.0,491.9 L278.7,477.2 L281.4,475.8 Z" fill="#dcada8" stroke="#dcada8" stroke-width="0.6" fill-opacity="0.93" stroke-opacity="0.93"/>
<path d="M273.0,500.0 L270.5,501.9 L262.3,487.9 L264.7,486.0 Z" fill="#ffd9d3" stroke="#ffd9d3" stroke-width="0.6" fill-opacity="0.93" stroke-opacity="0.93"/>
<path d="M274.8,538.4 L273.5,540.2 L266.5,526.2 L267.8,524.4 Z" fill="#cea09b" stroke="#cea09b" stroke-width="0.6" fill-opacity="0.93" stroke-opacity="0.93"/>
<path d="M287.1,491.8 L284.3,493.3 L275.8,478.7 L278.6,477.3 Z" fill="#f6c6c0" stroke="#f6c6c0" stroke-width="0.6" fill-opacity="0.93" stroke-opacity="0.93"/>
<path d="M290.7,610.4 L291.6,611.7 L287.4,597.0 L286.5,595.7 Z" fill="#785d59" stroke="#785d59" stroke-width="0.6" fill-opacity="0.93" stroke-opacity="0.93"/>
<path d="M327.9,581.7 L327.8,581.8 L322.9,565.5 L323.0,565.4 Z" fill="#906f6b" stroke="#906f6b" stroke-width="0.6" fill-opacity="0.93" stroke-opacity="0.93"/>
<path d="M281.4,574.7 L281.2,576.3 L275.5,562.0 L275.8,560.4 Z" fill="#b48b86" stroke="#b48b86" stroke-width="0.6" fill-opacity="0.93" stroke-opacity="0.93"/>
<path d="M275.8,498.2 L273.1,500.0 L264.6,486.0 L267.3,484.1 Z" fill="#fff4ee" stroke="#fff4ee" stroke-width="0.6" fill-opacity="0.93" stroke-opacity="0.93"/>
<path d="M284.4,493.2 L281.5,494.8 L272.9,480.4 L275.7,478.8 Z" fill="#ffe4de" stroke="#ffe4de" stroke-width="0.6" fill-opacity="0.93" stroke-opacity="0.93"/>
<path d="M304.8,519.9 L302.7,520.8 L295.3,505.6 L297.4,504.6 Z" fill="#b78e89" stroke="#b78e89" stroke-width="0.6" fill-opacity="0.93" stroke-opacity="0.93"/>
<path d="M278.6,496.4 L275.8,498.2 L267.2,484.1 L270.0,482.3 Z" fill="#fffffd" stroke="#fffffd" stroke-width="0.6" fill-opacity="0.93" stroke-opacity="0.93"/>
<path d="M281.5,494.8 L278.6,496.5 L270.0,482.2 L272.8,480.5 Z" fill="#fffcf6" stroke="#fffcf6" stroke-width="0.6" fill-opacity="0.93" stroke-opacity="0.93"/>
<path d="M317.7,550.3 L316.5,550.8 L310.3,535.0 L311.4,534.5 Z" fill="#977571" stroke="#977571" stroke-width="0.6" fill-opacity="0.93" stroke-opacity="0.93"/>
<path d="M276.7,536.5 L275.0,538.4 L267.6,524.4 L269.3,522.5 Z" fill="#d9a9a3" stroke="#d9a9a3" stroke-width="0.6" fill-opacity="0.93" stroke-opacity="0.93"/>
<path d="M290.6,608.9 L291.0,610.3 L286.2,595.8 L285.8,594.4 Z" fill="#7b5f5c" stroke="#7b5f5c" stroke-width="0.6" fill-opacity="0.93" stroke-opacity="0.93"/>
<path d="M282.4,572.9 L281.7,574.7 L275.5,560.5 L276.2,558.8 Z" fill="#bf948f" stroke="#bf948f" stroke-width="0.6" fill-opacity="0.93" stroke-opacity="0.93"/>
<path d="M302.9,520.7 L300.6,521.8 L292.7,506.8 L295.1,505.7 Z" fill="#c39792" stroke="#c39792" stroke-width="0.6" fill-opacity="0.93" stroke-opacity="0.93"/>
<path d="M328.1,581.7 L327.6,582.0 L322.1,565.9 L322.6,565.6 Z" fill="#8c6c68" stroke="#8c6c68" stroke-width="0.6" fill-opacity="0.93" stroke-opacity="0.93"/>
<path d="M316.8,550.7 L315.2,551.4 L308.4,535.8 L310.0,535.1 Z" fill="#a47f7b" stroke="#a47f7b" stroke-width="0.6" fill-opacity="0.93" stroke-opacity="0.93"/>
<path d="M279.0,534.6 L276.9,536.5 L269.1,522.6 L271.2,520.6 Z" fill="#e8b6b0" stroke="#e8b6b0" stroke-width="0.6" fill-opacity="0.93" stroke-opacity="0.93"/>
<path d="M300.7,521.7 L298.1,523.0 L289.9,508.2 L292.5,506.9 Z" fill="#d2a49f" stroke="#d2a49f" stroke-width="0.6" fill-opacity="0.93" stroke-opacity="0.93"/>
<path d="M283.8,571.1 L282.6,572.9 L275.9,558.8 L277.1,557.1 Z" fill="#c99c97" stroke="#c99c97" stroke-width="0.6" fill-opacity="0.93" stroke-opacity="0.93"/>
<path d="M281.5,532.7 L279.1,534.6 L271.0,520.6 L273.3,518.7 Z" fill="#feccc6" stroke="#feccc6" stroke-width="0.6" fill-opacity="0.93" stroke-opacity="0.93"/>
<path d="M290.9,607.3 L290.9,608.8 L285.5,594.5 L285.5,593.0 Z" fill="#ae8782" stroke="#ae8782" stroke-width="0.6" fill-opacity="0.93" stroke-opacity="0.93"/>
<path d="M298.2,522.9 L295.5,524.3 L287.1,509.7 L289.8,508.3 Z" fill="#e8b8b3" stroke="#e8b8b3" stroke-width="0.6" fill-opacity="0.93" stroke-opacity="0.93"/>
<path d="M327.8,581.9 L326.9,582.3 L320.9,566.4 L321.8,566.0 Z" fill="#90706c" stroke="#90706c" stroke-width="0.6" fill-opacity="0.93" stroke-opacity="0.93"/>
<path d="M315.5,551.3 L313.5,552.1 L306.3,536.8 L308.2,535.9 Z" fill="#b08984" stroke="#b08984" stroke-width="0.6" fill-opacity="0.93" stroke-opacity="0.93"/>
<path d="M284.2,530.8 L281.6,532.7 L273.2,518.7 L275.8,516.8 Z" fill="#ffe7e1" stroke="#ffe7e1" stroke-width="0.6" fill-opacity="0.93" stroke-opacity="0.93"/>
<path d="M295.6,524.2 L292.7,525.8 L284.1,511.3 L287.0,509.8 Z" fill="#ffd4cf" stroke="#ffd4cf" stroke-width="0.6" fill-opacity="0.93" stroke-opacity="0.93"/>
<path d="M287.0,529.0 L284.3,530.9 L275.7,516.8 L278.4,515.0 Z" fill="#fffef7" stroke="#fffef7" stroke-width="0.6" fill-opacity="0.93" stroke-opacity="0.93"/>
<path d="M292.8,525.7 L289.9,527.4 L281.2,513.1 L284.1,511.4 Z" fill="#fff2ec" stroke="#fff2ec" stroke-width="0.6" fill-opacity="0.93" stroke-opacity="0.93"/>
<path d="M289.9,527.3 L287.0,529.1 L278.4,514.9 L281.2,513.1 Z" fill="#fffffc" stroke="#fffffc" stroke-width="0.6" fill-opacity="0.93" stroke-opacity="0.93"/>
<path d="M285.5,569.2 L284.0,571.1 L276.8,557.1 L278.3,555.2 Z" fill="#d4a49f" stroke="#d4a49f" stroke-width="0.6" fill-opacity="0.93" stroke-opacity="0.93"/>
<path d="M291.7,605.6 L291.2,607.2 L285.2,593.0 L285.7,591.4 Z" fill="#ba908b" stroke="#ba908b" stroke-width="0.6" fill-opacity="0.93" stroke-opacity="0.93"/>
<path d="M313.7,552.0 L311.5,553.1 L303.8,537.9 L306.1,536.9 Z" fill="#bd928d" stroke="#bd928d" stroke-width="0.6" fill-opacity="0.93" stroke-opacity="0.93"/>
<path d="M327.1,582.2 L325.7,582.8 L319.2,567.1 L320.6,566.5 Z" fill="#9d7a76" stroke="#9d7a76" stroke-width="0.6" fill-opacity="0.93" stroke-opacity="0.93"/>
<path d="M287.6,567.3 L285.7,569.2 L278.1,555.2 L280.0,553.3 Z" fill="#e0afa9" stroke="#e0afa9" stroke-width="0.6" fill-opacity="0.93" stroke-opacity="0.93"/>
<path d="M311.7,553.0 L309.2,554.1 L301.2,539.2 L303.6,538.0 Z" fill="#ca9d98" stroke="#ca9d98" stroke-width="0.6" fill-opacity="0.93" stroke-opacity="0.93"/>
<path d="M292.8,603.8 L291.9,605.5 L285.5,591.4 L286.4,589.7 Z" fill="#c49893" stroke="#c49893" stroke-width="0.6" fill-opacity="0.93" stroke-opacity="0.93"/>
<path d="M290.0,565.4 L287.8,567.3 L279.8,553.3 L282.0,551.4 Z" fill="#f2c0ba" stroke="#f2c0ba" stroke-width="0.6" fill-opacity="0.93" stroke-opacity="0.93"/>
<path d="M326.0,582.7 L324.2,583.5 L317.2,568.0 L319.0,567.2 Z" fill="#aa847f" stroke="#aa847f" stroke-width="0.6" fill-opacity="0.93" stroke-opacity="0.93"/>
<path d="M309.3,554.0 L306.6,555.4 L298.3,540.7 L301.0,539.3 Z" fill="#dcada8" stroke="#dcada8" stroke-width="0.6" fill-opacity="0.93" stroke-opacity="0.93"/>
<path d="M292.6,563.5 L290.2,565.4 L281.9,551.4 L284.3,549.5 Z" fill="#ffd9d3" stroke="#ffd9d3" stroke-width="0.6" fill-opacity="0.93" stroke-opacity="0.93"/>
<path d="M294.4,601.9 L293.1,603.7 L286.1,589.7 L287.5,587.9 Z" fill="#cea09b" stroke="#cea09b" stroke-width="0.6" fill-opacity="0.93" stroke-opacity="0.93"/>
<path d="M306.7,555.3 L303.9,556.8 L295.4,542.2 L298.2,540.7 Z" fill="#f6c6c0" stroke="#f6c6c0" stroke-width="0.6" fill-opacity="0.93" stroke-opacity="0.93"/>
<path d="M295.4,561.7 L292.7,563.5 L284.2,549.5 L286.9,547.6 Z" fill="#fff4ee" stroke="#fff4ee" stroke-width="0.6" fill-opacity="0.93" stroke-opacity="0.93"/>
<path d="M304.0,556.7 L301.1,558.3 L292.5,543.9 L295.4,542.3 Z" fill="#ffe4de" stroke="#ffe4de" stroke-width="0.6" fill-opacity="0.93" stroke-opacity="0.93"/>
<path d="M324.4,583.4 L322.4,584.3 L314.9,569.1 L317.0,568.1 Z" fill="#b78e89" stroke="#b78e89" stroke-width="0.6" fill-opacity="0.93" stroke-opacity="0.93"/>
<path d="M298.2,559.9 L295.4,561.7 L286.8,547.6 L289.6,545.8 Z" fill="#fffffd" stroke="#fffffd" stroke-width="0.6" fill-opacity="0.93" stroke-opacity="0.93"/>
<path d="M301.1,558.3 L298.3,560.0 L289.6,545.7 L292.5,544.0 Z" fill="#fffcf6" stroke="#fffcf6" stroke-width="0.6" fill-opacity="0.93" stroke-opacity="0.93"/>
<path d="M296.4,600.0 L294.6,601.9 L287.2,587.9 L288.9,586.0 Z" fill="#d9a9a3" stroke="#d9a9a3" stroke-width="0.6" fill-opacity="0.93" stroke-opacity="0.93"/>
<path d="M322.5,584.2 L320.2,585.3 L312.3,570.3 L314.7,569.2 Z" fill="#c39792" stroke="#c39792" stroke-width="0.6" fill-opacity="0.93" stroke-opacity="0.93"/>
<path d="M298.6,598.1 L296.6,600.0 L288.7,586.0 L290.8,584.1 Z" fill="#e8b6b0" stroke="#e8b6b0" stroke-width="0.6" fill-opacity="0.93" stroke-opacity="0.93"/>
<path d="M320.3,585.2 L317.7,586.5 L309.6,571.7 L312.2,570.4 Z" fill="#d2a49f" stroke="#d2a49f" stroke-width="0.6" fill-opacity="0.93" stroke-opacity="0.93"/>
<path d="M301.1,596.2 L298.8,598.1 L290.6,584.1 L293.0,582.2 Z" fill="#feccc6" stroke="#feccc6" stroke-width="0.6" fill-opacity="0.93" stroke-opacity="0.93"/>
<path d="M317.9,586.4 L315.1,587.8 L306.7,573.2 L309.4,571.7 Z" fill="#e8b8b3" stroke="#e8b8b3" stroke-width="0.6" fill-opacity="0.93" stroke-opacity="0.93"/>
<path d="M303.8,594.3 L301.2,596.2 L292.8,582.2 L295.4,580.3 Z" fill="#ffe7e1" stroke="#ffe7e1" stroke-width="0.6" fill-opacity="0.93" stroke-opacity="0.93"/>
<path d="M315.2,587.7 L312.3,589.3 L303.8,574.8 L306.6,573.3 Z" fill="#ffd4cf" stroke="#ffd4cf" stroke-width="0.6" fill-opacity="0.93" stroke-opacity="0.93"/>
<path d="M306.6,592.5 L303.9,594.4 L295.3,580.3 L298.1,578.4 Z" fill="#fffef7" stroke="#fffef7" stroke-width="0.6" fill-opacity="0.93" stroke-opacity="0.93"/>
<path d="M312.4,589.2 L309.5,590.9 L300.8,576.6 L303.7,574.9 Z" fill="#fff2ec" stroke="#fff2ec" stroke-width="0.6" fill-opacity="0.93" stroke-opacity="0.93"/>
<path d="M309.5,590.8 L306.7,592.6 L298.0,578.4 L300.8,576.6 Z" fill="#fffffc" stroke="#fffffc" stroke-width="0.6" fill-opacity="0.93" stroke-opacity="0.93"/>
<path d="M202,448 L210.5,437.7 L215,437.7 L203.5,457.5 L202,457.5 Z" fill="#5e3f3c"/>
<path d="M202,445 L206.5,437.7 L210,437.7 L202,451 Z" fill="#d7a7a2"/>
<path d="M205.5,451 L212.5,439 L213.5,440 L206.5,452 Z" fill="#94706c"/>
<path d="M244,437.7 L258,437.7 L248,452 L243,448 Z" fill="#d9aca7"/>
<g><path d="M234.60,437.00 C234.98,438.27 235.98,442.72 236.90,444.60 C237.82,446.48 238.87,447.08 240.10,448.30 C241.33,449.52 242.53,450.38 244.30,451.90 C246.07,453.42 248.72,455.72 250.70,457.40 C252.68,459.08 254.37,460.62 256.20,462.00 C258.03,463.38 260.07,464.20 261.70,465.70 C263.33,467.20 263.78,469.78 266.00,471.00 C268.22,472.22 271.00,472.42 275.00,473.00 C279.00,473.58 285.50,474.00 290.00,474.50 C294.50,475.00 300.00,475.75 302.00,476.00" fill="none" stroke="#76504b" stroke-width="4.1" stroke-linecap="round" stroke-linejoin="round"/><path d="M234.60,437.00 C234.98,438.27 235.98,442.72 236.90,444.60 C237.82,446.48 238.87,447.08 240.10,448.30 C241.33,449.52 242.53,450.38 244.30,451.90 C246.07,453.42 248.72,455.72 250.70,457.40 C252.68,459.08 254.37,460.62 256.20,462.00 C258.03,463.38 260.07,464.20 261.70,465.70 C263.33,467.20 263.78,469.78 266.00,471.00 C268.22,472.22 271.00,472.42 275.00,473.00 C279.00,473.58 285.50,474.00 290.00,474.50 C294.50,475.00 300.00,475.75 302.00,476.00" fill="none" stroke="#c38e88" stroke-width="3.2" stroke-linecap="round" stroke-linejoin="round"/><path d="M234.60,437.00 C234.98,438.27 235.98,442.72 236.90,444.60 C237.82,446.48 238.87,447.08 240.10,448.30 C241.33,449.52 242.53,450.38 244.30,451.90 C246.07,453.42 248.72,455.72 250.70,457.40 C252.68,459.08 254.37,460.62 256.20,462.00 C258.03,463.38 260.07,464.20 261.70,465.70 C263.33,467.20 263.78,469.78 266.00,471.00 C268.22,472.22 271.00,472.42 275.00,473.00 C279.00,473.58 285.50,474.00 290.00,474.50 C294.50,475.00 300.00,475.75 302.00,476.00" fill="none" stroke="#ecd0cc" stroke-width="1.0" stroke-linecap="round" stroke-linejoin="round" transform="translate(-0.4,-0.5)"/></g>
<g><path d="M201.00,518.00 C201.83,519.00 204.33,521.83 206.00,524.00 C207.67,526.17 209.67,528.67 211.00,531.00 C212.33,533.33 213.50,536.83 214.00,538.00" fill="none" stroke="#76504b" stroke-width="3.9" stroke-linecap="round" stroke-linejoin="round"/><path d="M201.00,518.00 C201.83,519.00 204.33,521.83 206.00,524.00 C207.67,526.17 209.67,528.67 211.00,531.00 C212.33,533.33 213.50,536.83 214.00,538.00" fill="none" stroke="#c38e88" stroke-width="3.0" stroke-linecap="round" stroke-linejoin="round"/><path d="M201.00,518.00 C201.83,519.00 204.33,521.83 206.00,524.00 C207.67,526.17 209.67,528.67 211.00,531.00 C212.33,533.33 213.50,536.83 214.00,538.00" fill="none" stroke="#ecd0cc" stroke-width="0.9" stroke-linecap="round" stroke-linejoin="round" transform="translate(-0.4,-0.5)"/></g>
<g><path d="M219.30,512.00 C218.65,513.33 217.12,516.83 215.40,520.00 C213.68,523.17 211.02,527.33 209.00,531.00 C206.98,534.67 204.63,539.17 203.30,542.00 C201.97,544.83 201.38,547.00 201.00,548.00" fill="none" stroke="#76504b" stroke-width="3.9" stroke-linecap="round" stroke-linejoin="round"/><path d="M219.30,512.00 C218.65,513.33 217.12,516.83 215.40,520.00 C213.68,523.17 211.02,527.33 209.00,531.00 C206.98,534.67 204.63,539.17 203.30,542.00 C201.97,544.83 201.38,547.00 201.00,548.00" fill="none" stroke="#c38e88" stroke-width="3.0" stroke-linecap="round" stroke-linejoin="round"/><path d="M219.30,512.00 C218.65,513.33 217.12,516.83 215.40,520.00 C213.68,523.17 211.02,527.33 209.00,531.00 C206.98,534.67 204.63,539.17 203.30,542.00 C201.97,544.83 201.38,547.00 201.00,548.00" fill="none" stroke="#ecd0cc" stroke-width="0.9" stroke-linecap="round" stroke-linejoin="round" transform="translate(-0.4,-0.5)"/></g>
<g><path d="M219.30,512.00 C219.58,513.33 219.98,515.92 221.00,520.00 C222.02,524.08 223.40,531.72 225.40,536.50 C227.40,541.28 230.62,545.57 233.00,548.70 C235.38,551.83 237.85,554.02 239.70,555.30 C241.55,556.58 242.72,556.78 244.10,556.40 C245.48,556.02 247.35,553.57 248.00,553.00" fill="none" stroke="#76504b" stroke-width="3.9" stroke-linecap="round" stroke-linejoin="round"/><path d="M219.30,512.00 C219.58,513.33 219.98,515.92 221.00,520.00 C222.02,524.08 223.40,531.72 225.40,536.50 C227.40,541.28 230.62,545.57 233.00,548.70 C235.38,551.83 237.85,554.02 239.70,555.30 C241.55,556.58 242.72,556.78 244.10,556.40 C245.48,556.02 247.35,553.57 248.00,553.00" fill="none" stroke="#c38e88" stroke-width="3.0" stroke-linecap="round" stroke-linejoin="round"/><path d="M219.30,512.00 C219.58,513.33 219.98,515.92 221.00,520.00 C222.02,524.08 223.40,531.72 225.40,536.50 C227.40,541.28 230.62,545.57 233.00,548.70 C235.38,551.83 237.85,554.02 239.70,555.30 C241.55,556.58 242.72,556.78 244.10,556.40 C245.48,556.02 247.35,553.57 248.00,553.00" fill="none" stroke="#ecd0cc" stroke-width="0.9" stroke-linecap="round" stroke-linejoin="round" transform="translate(-0.4,-0.5)"/></g>
<g><path d="M201.00,570.00 C202.33,571.17 205.50,575.17 209.00,577.00 C212.50,578.83 219.83,580.33 222.00,581.00" fill="none" stroke="#76504b" stroke-width="3.9" stroke-linecap="round" stroke-linejoin="round"/><path d="M201.00,570.00 C202.33,571.17 205.50,575.17 209.00,577.00 C212.50,578.83 219.83,580.33 222.00,581.00" fill="none" stroke="#d8b5b1" stroke-width="3.0" stroke-linecap="round" stroke-linejoin="round"/><path d="M201.00,570.00 C202.33,571.17 205.50,575.17 209.00,577.00 C212.50,578.83 219.83,580.33 222.00,581.00" fill="none" stroke="#ecd0cc" stroke-width="0.9" stroke-linecap="round" stroke-linejoin="round" transform="translate(-0.4,-0.5)"/></g>
<path d="M231,585 Q236,578 249,578 L253,585 Z" fill="#b3847f"/>
<path d="M246,549 Q258,541 272,541 L279,552 Q281,570 276,586 L256,586 Q262,568 252,556 Z" fill="#c99a95"/>
<path d="M249,552 Q259,546 270,546 L274,556 Q264,553 256,560 Z" fill="#e3bfba"/>
<path d="M262,586 Q268,570 262,560 L268,562 Q275,572 270,586 Z" fill="#a97d78"/>
<path d="M240.60,447.90 L232.30,450.90 L235.20,462.60 L237.70,472.60 L240.60,483.40 L244.00,483.40 L244.00,475.10 L242.30,466.70 L240.80,462.60" fill="none" stroke="#744e4a" stroke-width="4.0" stroke-linecap="round" stroke-linejoin="round"/><path d="M240.60,447.90 L232.30,450.90 L235.20,462.60 L237.70,472.60 L240.60,483.40 L244.00,483.40 L244.00,475.10 L242.30,466.70 L240.80,462.60" fill="none" stroke="#cf9f99" stroke-width="3.0" stroke-linecap="round" stroke-linejoin="round"/><path d="M240.60,447.90 L232.30,450.90 L235.20,462.60 L237.70,472.60 L240.60,483.40 L244.00,483.40 L244.00,475.10 L242.30,466.70 L240.80,462.60" fill="none" stroke="#f8e8e6" stroke-width="0.8" stroke-linecap="round" stroke-linejoin="round" transform="translate(-0.3,-0.4)"/>
<circle cx="240.8" cy="463" r="1.7" fill="#6b4a47"/><circle cx="243.6" cy="483.2" r="1.9" fill="#5e403d"/>
<path d="M256.00,468.00 L264.00,473.00 L273.00,471.00" fill="none" stroke="#744e4a" stroke-width="4.0" stroke-linecap="round" stroke-linejoin="round"/><path d="M256.00,468.00 L264.00,473.00 L273.00,471.00" fill="none" stroke="#cf9f99" stroke-width="3.0" stroke-linecap="round" stroke-linejoin="round"/><path d="M256.00,468.00 L264.00,473.00 L273.00,471.00" fill="none" stroke="#f8e8e6" stroke-width="0.8" stroke-linecap="round" stroke-linejoin="round" transform="translate(-0.3,-0.4)"/>
<path d="M264.0,472.0 L265.5,465.0" stroke="#704a46" stroke-width="5.4" stroke-linecap="round"/><path d="M264.0,472.0 L265.5,465.0" stroke="#c48f89" stroke-width="4.4" stroke-linecap="round"/>
<path d="M265.5,465.0 L267.1,456.5" stroke="#2a2a70" stroke-width="5.4" stroke-linecap="round"/><path d="M265.5,465.0 L267.1,456.5" stroke="#4d4daa" stroke-width="4.4" stroke-linecap="round"/>
<path d="M267.1,456.5 L268.7,447.5" stroke="#704a46" stroke-width="5.4" stroke-linecap="round"/><path d="M267.1,456.5 L268.7,447.5" stroke="#dcb0aa" stroke-width="4.4" stroke-linecap="round"/>
<path d="M266.8,455 L268.2,449" stroke="#fff3f1" stroke-width="1.2" stroke-linecap="round"/>
<path d="M268.7,447.5 L269.7,442.3" stroke="#2a2a70" stroke-width="5.4" stroke-linecap="round"/><path d="M268.7,447.5 L269.7,442.3" stroke="#4d4daa" stroke-width="4.4" stroke-linecap="round"/>
<path d="M266.2,463 L267.0,459" stroke="#8a8ad0" stroke-width="1.0" stroke-linecap="round"/>
<path d="M234.50,533.00 L245.50,528.00 L252.50,522.00" fill="none" stroke="#744e4a" stroke-width="4.3" stroke-linecap="round" stroke-linejoin="round"/><path d="M234.50,533.00 L245.50,528.00 L252.50,522.00" fill="none" stroke="#cf9f99" stroke-width="3.3" stroke-linecap="round" stroke-linejoin="round"/><path d="M234.50,533.00 L245.50,528.00 L252.50,522.00" fill="none" stroke="#f8e8e6" stroke-width="0.9" stroke-linecap="round" stroke-linejoin="round" transform="translate(-0.3,-0.4)"/>
<path d="M245.50,528.00 L250.00,538.00 L251.00,548.00" fill="none" stroke="#744e4a" stroke-width="4.3" stroke-linecap="round" stroke-linejoin="round"/><path d="M245.50,528.00 L250.00,538.00 L251.00,548.00" fill="none" stroke="#cf9f99" stroke-width="3.3" stroke-linecap="round" stroke-linejoin="round"/><path d="M245.50,528.00 L250.00,538.00 L251.00,548.00" fill="none" stroke="#f8e8e6" stroke-width="0.9" stroke-linecap="round" stroke-linejoin="round" transform="translate(-0.3,-0.4)"/>
<path d="M249.00,553.00 L256.00,566.00 L262.00,574.00" fill="none" stroke="#744e4a" stroke-width="4.3" stroke-linecap="round" stroke-linejoin="round"/><path d="M249.00,553.00 L256.00,566.00 L262.00,574.00" fill="none" stroke="#cf9f99" stroke-width="3.3" stroke-linecap="round" stroke-linejoin="round"/><path d="M249.00,553.00 L256.00,566.00 L262.00,574.00" fill="none" stroke="#f8e8e6" stroke-width="0.9" stroke-linecap="round" stroke-linejoin="round" transform="translate(-0.3,-0.4)"/>
<path d="M249.5,551.5 L246.0,553.0" stroke="#2a2a70" stroke-width="4.6" stroke-linecap="round"/><path d="M249.5,551.5 L246.0,553.0" stroke="#4d4daa" stroke-width="3.6" stroke-linecap="round"/>
<path d="M262.00,560.00 L266.00,572.00" fill="none" stroke="#744e4a" stroke-width="4.3" stroke-linecap="round" stroke-linejoin="round"/><path d="M262.00,560.00 L266.00,572.00" fill="none" stroke="#cf9f99" stroke-width="3.3" stroke-linecap="round" stroke-linejoin="round"/><path d="M262.00,560.00 L266.00,572.00" fill="none" stroke="#f8e8e6" stroke-width="0.9" stroke-linecap="round" stroke-linejoin="round" transform="translate(-0.3,-0.4)"/>
<path d="M261.0,566.0 L270.0,571.0" stroke="#2a2a70" stroke-width="4.8" stroke-linecap="round"/><path d="M261.0,566.0 L270.0,571.0" stroke="#4d4daa" stroke-width="3.8" stroke-linecap="round"/>
<path d="M256.5,571.0 L257.5,578.0" stroke="#7e302c" stroke-width="4.0" stroke-linecap="round"/><path d="M256.5,571.0 L257.5,578.0" stroke="#c4524b" stroke-width="3.0" stroke-linecap="round"/>
<path d="M266.00,574.00 L283.00,574.00 L296.00,566.50 L308.00,566.00 L317.00,560.50" fill="none" stroke="#744e4a" stroke-width="4.3" stroke-linecap="round" stroke-linejoin="round"/><path d="M266.00,574.00 L283.00,574.00 L296.00,566.50 L308.00,566.00 L317.00,560.50" fill="none" stroke="#cf9f99" stroke-width="3.3" stroke-linecap="round" stroke-linejoin="round"/><path d="M266.00,574.00 L283.00,574.00 L296.00,566.50 L308.00,566.00 L317.00,560.50" fill="none" stroke="#f8e8e6" stroke-width="0.9" stroke-linecap="round" stroke-linejoin="round" transform="translate(-0.3,-0.4)"/>
<path d="M318.5,560.2 L325.5,560.2" stroke="#2a2a70" stroke-width="4.8" stroke-linecap="round"/><path d="M318.5,560.2 L325.5,560.2" stroke="#4d4daa" stroke-width="3.8" stroke-linecap="round"/>
<path d="M239.10,497.30 L248.70,507.70 L256.40,501.60" fill="none" stroke="#4a8c40" stroke-width="4.6" stroke-linejoin="round" stroke-linecap="round"/>
<path d="M256.40,501.60 L259.00,511.10 L264.20,520.70" fill="none" stroke="#4a8c40" stroke-width="4.6" stroke-linejoin="round" stroke-linecap="round"/>
<path d="M264.20,520.70 L261.60,531.00 L269.40,538.80 L278.10,531.90 L274.60,523.30 L264.20,520.70" fill="none" stroke="#4a8c40" stroke-width="4.6" stroke-linejoin="round" stroke-linecap="round"/>
<path d="M274.60,523.30 L283.30,514.60 L293.60,519.80 L297.10,531.90 L290.20,538.80 L278.10,531.90" fill="none" stroke="#4a8c40" stroke-width="4.6" stroke-linejoin="round" stroke-linecap="round"/>
<path d="M239.10,497.30 L248.70,507.70 L256.40,501.60" fill="none" stroke="#6cbc5c" stroke-width="3.6" stroke-linejoin="round" stroke-linecap="round"/>
<path d="M256.40,501.60 L259.00,511.10 L264.20,520.70" fill="none" stroke="#6cbc5c" stroke-width="3.6" stroke-linejoin="round" stroke-linecap="round"/>
<path d="M264.20,520.70 L261.60,531.00 L269.40,538.80 L278.10,531.90 L274.60,523.30 L264.20,520.70" fill="none" stroke="#6cbc5c" stroke-width="3.6" stroke-linejoin="round" stroke-linecap="round"/>
<path d="M274.60,523.30 L283.30,514.60 L293.60,519.80 L297.10,531.90 L290.20,538.80 L278.10,531.90" fill="none" stroke="#6cbc5c" stroke-width="3.6" stroke-linejoin="round" stroke-linecap="round"/>
<path d="M239.10,497.30 L248.70,507.70 L256.40,501.60" fill="none" stroke="#a9de98" stroke-width="1.0" stroke-linejoin="round" stroke-linecap="round" transform="translate(-0.4,-0.5)"/>
<path d="M256.40,501.60 L259.00,511.10 L264.20,520.70" fill="none" stroke="#a9de98" stroke-width="1.0" stroke-linejoin="round" stroke-linecap="round" transform="translate(-0.4,-0.5)"/>
<path d="M264.20,520.70 L261.60,531.00 L269.40,538.80 L278.10,531.90 L274.60,523.30 L264.20,520.70" fill="none" stroke="#a9de98" stroke-width="1.0" stroke-linejoin="round" stroke-linecap="round" transform="translate(-0.4,-0.5)"/>
<path d="M274.60,523.30 L283.30,514.60 L293.60,519.80 L297.10,531.90 L290.20,538.80 L278.10,531.90" fill="none" stroke="#a9de98" stroke-width="1.0" stroke-linejoin="round" stroke-linecap="round" transform="translate(-0.4,-0.5)"/>
<path d="M262.6,526.0 L261.9,531.0" stroke="#7e302c" stroke-width="4.6" stroke-linecap="round"/><path d="M262.6,526.0 L261.9,531.0" stroke="#c4524b" stroke-width="3.6" stroke-linecap="round"/>
<path d="M269.4,538.8 L270.2,545.0" stroke="#4a8c40" stroke-width="4.6" stroke-linecap="round"/><path d="M269.4,538.8 L270.2,545.0" stroke="#6cbc5c" stroke-width="3.6" stroke-linecap="round"/>
<path d="M270.2,545.0 L271.1,551.0" stroke="#7e302c" stroke-width="4.6" stroke-linecap="round"/><path d="M270.2,545.0 L271.1,551.0" stroke="#c4524b" stroke-width="3.6" stroke-linecap="round"/>
<path d="M242.4,485.5 L256.0,502.0" stroke="#e6d22a" stroke-width="1.7" stroke-dasharray="1.7,1.5"/>
<path d="M259.5,477.0 L256.0,500.0" stroke="#e6d22a" stroke-width="1.7" stroke-dasharray="1.7,1.5"/>
<path d="M249.5,522.0 L262.0,518.0" stroke="#e6d22a" stroke-width="1.7" stroke-dasharray="1.7,1.5"/>
<path d="M246.0,548.0 L262.0,531.0" stroke="#e6d22a" stroke-width="1.7" stroke-dasharray="1.7,1.5"/>
<path d="M250.0,540.0 L266.0,530.0" stroke="#e6d22a" stroke-width="1.7" stroke-dasharray="1.7,1.5"/>
<path d="M271.0,551.0 L264.0,568.0" stroke="#e6d22a" stroke-width="1.7" stroke-dasharray="1.7,1.5"/>
<path d="M289.0,541.0 L297.0,566.0" stroke="#e6d22a" stroke-width="1.7" stroke-dasharray="1.7,1.5"/>
<path d="M245.0,552.0 L255.0,533.0" stroke="#e6d22a" stroke-width="1.7" stroke-dasharray="1.7,1.5"/>
<text x="274.8" y="449.5" font-size="9.8" fill="#262626" stroke="#262626" stroke-width="0.12">&#947;<tspan font-size="5.8" dy="2.0">1</tspan><tspan dy="-2.0">His2</tspan></text>
<text x="206.7" y="475.0" font-size="9.8" fill="#262626" stroke="#262626" stroke-width="0.12">&#947;<tspan font-size="5.8" dy="2.0">1</tspan><tspan dy="-2.0">Phe3</tspan></text>
<text x="215.4" y="531.1" font-size="9.8" fill="#262626" stroke="#262626" stroke-width="0.12">&#947;<tspan font-size="5.8" dy="2.0">1</tspan><tspan dy="-2.0">Leu81</tspan></text>
<text x="310.3" y="554.6" font-size="9.8" fill="#262626" stroke="#262626" stroke-width="0.12">&#947;<tspan font-size="5.8" dy="2.0">1</tspan><tspan dy="-2.0">Lys82</tspan></text></g></g>
<text x="426.5" y="504.7" font-size="9.7" font-weight="bold" fill="#151515" textLength="53.8" lengthAdjust="spacingAndGlyphs">z-ligustilide</text>
<g shape-rendering="crispEdges">
<rect x="0" y="1" width="520" height="1" fill="#bdbdbd"/>
<rect x="0" y="597" width="520" height="1" fill="#a8a8a8"/>
<rect x="1" y="0" width="1" height="599" fill="#b0b0b0"/>
<rect x="518" y="0" width="1" height="599" fill="#9a9a9a"/>
<rect x="0" y="0" width="520" height="1" fill="#4e4e4e"/>
<rect x="519" y="0" width="1" height="599" fill="#444444"/>
<rect x="0" y="598" width="520" height="1" fill="#111111"/>
<rect x="0" y="0" width="1" height="599" fill="#0c0c0c"/>
</g>
</svg></div></body></html>
